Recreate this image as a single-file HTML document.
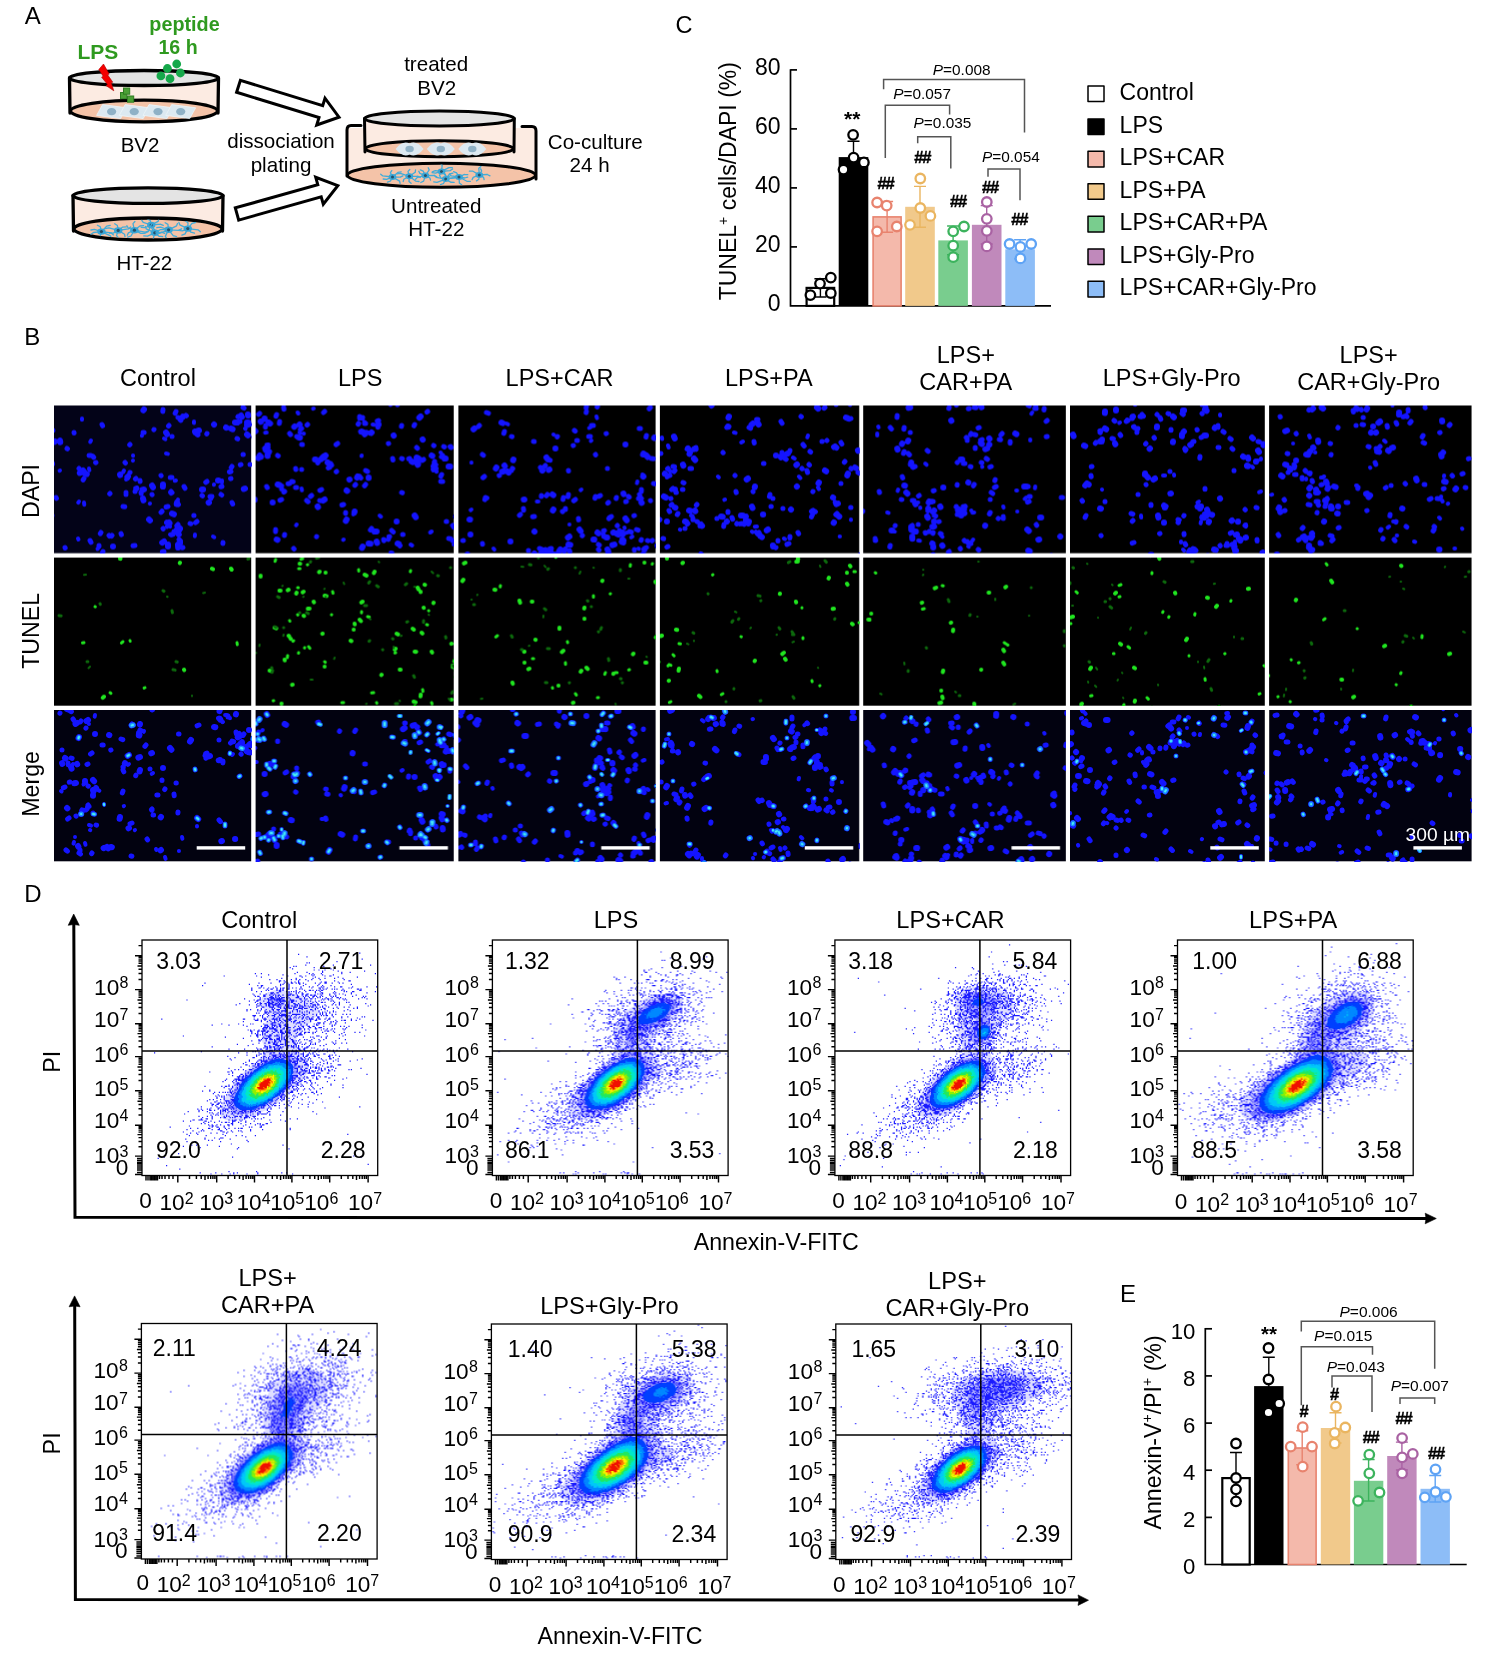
<!DOCTYPE html><html><head><meta charset="utf-8"><title>Figure</title><style>html,body{margin:0;padding:0;background:#fff;}body{width:1500px;height:1662px;overflow:hidden;-webkit-font-smoothing:antialiased;} svg{display:block;will-change:transform;} text{-webkit-font-smoothing:antialiased;}</style></head><body><svg width="1500" height="1662" viewBox="0 0 1500 1662" font-family="'Liberation Sans', Arial, sans-serif"><rect width="1500" height="1662" fill="#fff"/><text x="24.8" y="23.8" font-size="24">A</text>
<path d="M69.5,78 L69.5,113 L218.5,113 L218.5,78 Z" fill="#fcebe2"/><ellipse cx="144" cy="111" rx="73.5" ry="10.8" fill="#f4c3a8" stroke="#000" stroke-width="3.3"/><path d="M69.5,78 L70.0,113 M218.5,78 L218.0,113" stroke="#000" stroke-width="3.3" fill="none" stroke-linecap="round"/><ellipse cx="144" cy="78" rx="74.5" ry="7.5" fill="#e4e4e4" stroke="#000" stroke-width="3.3"/>
<polygon points="96.6,115.4 102.6,104.6 126.6,107.8 120.6,118.6" fill="#dce9f1" stroke="#eef5f9" stroke-width="0.8"/><ellipse cx="111.6" cy="111.6" rx="4.6" ry="3.7" fill="#8fb1c6"/>
<polygon points="119.2,115.4 125.2,104.6 149.2,107.8 143.2,118.6" fill="#dce9f1" stroke="#eef5f9" stroke-width="0.8"/><ellipse cx="134.2" cy="111.6" rx="4.6" ry="3.7" fill="#8fb1c6"/>
<polygon points="143.0,115.4 149.0,104.6 173.0,107.8 167.0,118.6" fill="#dce9f1" stroke="#eef5f9" stroke-width="0.8"/><ellipse cx="158" cy="111.6" rx="4.6" ry="3.7" fill="#8fb1c6"/>
<polygon points="165.7,115.4 171.7,104.6 195.7,107.8 189.7,118.6" fill="#dce9f1" stroke="#eef5f9" stroke-width="0.8"/><ellipse cx="180.7" cy="111.6" rx="4.6" ry="3.7" fill="#8fb1c6"/>
<polygon points="103.5,64 98.8,69.5 103.2,76.2 101.6,77.2 107.6,84.6 106,85.6 113.8,90.8 111.2,82.8 112.8,82.2 107.6,74.8 109.2,74.1" fill="#f40000" stroke="#a00" stroke-width="0.6" stroke-linejoin="round"/>
<rect x="120.5" y="92.5" width="6.2" height="6.2" fill="#4aa035" stroke="#2f7d22" stroke-width="1"/>
<rect x="123.5" y="88" width="6.2" height="6.2" fill="#4aa035" stroke="#2f7d22" stroke-width="1"/>
<rect x="127.5" y="96" width="6.2" height="6.2" fill="#4aa035" stroke="#2f7d22" stroke-width="1"/>
<circle cx="160.9" cy="75.9" r="4.4" fill="#15a84a"/>
<circle cx="167.4" cy="68.5" r="4.4" fill="#15a84a"/>
<circle cx="176.7" cy="64" r="4.4" fill="#15a84a"/>
<circle cx="180.4" cy="73" r="4.4" fill="#15a84a"/>
<circle cx="170" cy="78.7" r="4.4" fill="#15a84a"/>
<text x="77.5" y="59.1" font-size="21" font-weight="bold" fill="#2f9a1f">LPS</text>
<text x="184.5" y="30.6" font-size="19.8" text-anchor="middle" font-weight="bold" fill="#2f9a1f">peptide</text>
<text x="178.0" y="53.7" font-size="19.6" text-anchor="middle" font-weight="bold" fill="#2f9a1f">16 h</text>
<text x="140.0" y="152.3" font-size="20.5" text-anchor="middle">BV2</text>
<path d="M73,195.6 L73,231 L223,231 L223,195.6 Z" fill="#fcebe2"/><ellipse cx="148" cy="229" rx="74" ry="11" fill="#f4c3a8" stroke="#000" stroke-width="3.3"/><path d="M73,195.6 L73.5,231 M223,195.6 L222.5,231" stroke="#000" stroke-width="3.3" fill="none" stroke-linecap="round"/><ellipse cx="148" cy="195.6" rx="75" ry="7.8" fill="#e4e4e4" stroke="#000" stroke-width="3.3"/>
<clipPath id="fl2"><ellipse cx="148" cy="229" rx="72" ry="9.6"/></clipPath><g clip-path="url(#fl2)">
<path d="M101.4,231.6L111.2,232.9M111.2,232.9L113.5,234.9M101.4,231.6L110.4,235.8M110.4,235.8L111.3,238.2M101.4,231.6L99.7,238.1M99.7,238.1L96.8,239.7M101.4,231.6L93.5,232.5M93.5,232.5L91.0,234.3M101.4,231.6L94.5,229.4M94.5,229.4L90.9,230.0M101.4,231.6L100.3,226.8M100.3,226.8L97.4,225.2M101.4,231.6L106.7,226.1M106.7,226.1L110.2,225.4" stroke="#41acd9" stroke-width="1.3" fill="none" stroke-linecap="round"/><ellipse cx="101.4" cy="231.6" rx="4.2" ry="3.2" fill="#3aa6d6"/><circle cx="101.4" cy="231.6" r="1.6" fill="#24506a"/>
<path d="M118.2,230.4L128.4,228.9M128.4,228.9L130.7,227.0M118.2,230.4L124.6,234.3M124.6,234.3L125.0,236.7M118.2,230.4L116.5,235.6M116.5,235.6L118.3,237.7M118.2,230.4L113.3,233.1M113.3,233.1L109.5,233.0M118.2,230.4L109.0,227.8M109.0,227.8L105.4,228.5M118.2,230.4L117.4,225.5M117.4,225.5L114.7,223.8M118.2,230.4L122.7,227.1M122.7,227.1L126.4,226.8" stroke="#41acd9" stroke-width="1.3" fill="none" stroke-linecap="round"/><ellipse cx="118.2" cy="230.4" rx="4.2" ry="3.2" fill="#3aa6d6"/><circle cx="118.2" cy="230.4" r="1.6" fill="#24506a"/>
<path d="M134.4,230.2L145.0,232.1M145.0,232.1L148.4,231.1M134.4,230.2L140.8,233.4M140.8,233.4L144.5,233.3M134.4,230.2L131.0,236.0M131.0,236.0L127.7,237.2M134.4,230.2L128.4,232.9M128.4,232.9L127.3,235.2M134.4,230.2L128.2,228.0M128.2,228.0L126.8,225.7M134.4,230.2L133.0,223.6M133.0,223.6L134.9,221.5M134.4,230.2L139.9,226.0M139.9,226.0L143.6,225.6" stroke="#41acd9" stroke-width="1.3" fill="none" stroke-linecap="round"/><ellipse cx="134.4" cy="230.2" rx="4.2" ry="3.2" fill="#3aa6d6"/><circle cx="134.4" cy="230.2" r="1.6" fill="#24506a"/>
<path d="M151.2,225.0L160.1,224.1M160.1,224.1L163.3,225.3M151.2,225.0L154.7,230.1M154.7,230.1L158.1,231.2M151.2,225.0L148.1,231.7M148.1,231.7L145.0,233.1M151.2,225.0L145.0,227.7M145.0,227.7L141.3,227.4M151.2,225.0L143.2,222.3M143.2,222.3L141.7,220.1M151.2,225.0L150.2,220.5M150.2,220.5L147.4,218.9M151.2,225.0L158.1,221.4M158.1,221.4L158.8,219.0" stroke="#41acd9" stroke-width="1.3" fill="none" stroke-linecap="round"/><ellipse cx="151.2" cy="225" rx="4.2" ry="3.2" fill="#3aa6d6"/><circle cx="151.2" cy="225" r="1.6" fill="#24506a"/>
<path d="M154.8,232.8L161.5,232.1M161.5,232.1L164.7,233.4M154.8,232.8L159.0,236.2M159.0,236.2L162.7,236.6M154.8,232.8L153.0,239.7M153.0,239.7L154.9,241.8M154.8,232.8L147.5,236.2M147.5,236.2L143.8,235.9M154.8,232.8L146.3,228.9M146.3,228.9L145.4,226.5M154.8,232.8L150.6,226.3M150.6,226.3L151.7,223.9M154.8,232.8L160.2,229.7M160.2,229.7L164.0,229.7" stroke="#41acd9" stroke-width="1.3" fill="none" stroke-linecap="round"/><ellipse cx="154.8" cy="232.8" rx="4.2" ry="3.2" fill="#3aa6d6"/><circle cx="154.8" cy="232.8" r="1.6" fill="#24506a"/>
<path d="M168.6,229.8L178.5,230.3M178.5,230.3L181.6,228.8M168.6,229.8L173.2,235.7M173.2,235.7L176.6,236.6M168.6,229.8L165.3,236.4M165.3,236.4L166.7,238.7M168.6,229.8L159.4,233.3M159.4,233.3L155.7,232.8M168.6,229.8L160.5,227.1M160.5,227.1L156.8,227.6M168.6,229.8L167.9,224.4M167.9,224.4L165.2,222.7M168.6,229.8L176.6,225.8M176.6,225.8L177.5,223.5" stroke="#41acd9" stroke-width="1.3" fill="none" stroke-linecap="round"/><ellipse cx="168.6" cy="229.8" rx="4.2" ry="3.2" fill="#3aa6d6"/><circle cx="168.6" cy="229.8" r="1.6" fill="#24506a"/>
<path d="M187.8,228.6L198.0,229.8M198.0,229.8L200.4,231.7M187.8,228.6L191.0,232.2M191.0,232.2L194.5,233.1M187.8,228.6L185.1,233.9M185.1,233.9L181.9,235.2M187.8,228.6L182.4,230.8M182.4,230.8L178.7,230.4M187.8,228.6L179.8,224.8M179.8,224.8L178.9,222.4M187.8,228.6L188.0,222.8M188.0,222.8L185.6,220.9M187.8,228.6L192.0,223.4M192.0,223.4L195.5,222.5" stroke="#41acd9" stroke-width="1.3" fill="none" stroke-linecap="round"/><ellipse cx="187.8" cy="228.6" rx="4.2" ry="3.2" fill="#3aa6d6"/><circle cx="187.8" cy="228.6" r="1.6" fill="#24506a"/>
</g>
<text x="144.3" y="270.0" font-size="20.5" text-anchor="middle">HT-22</text>
<polygon points="236.6,92.3 319.0,117.6 316.7,125.0 339.0,117.2 325.0,98.2 322.7,105.6 240.4,80.3" fill="#fff" stroke="#000" stroke-width="3" stroke-linejoin="miter"/>
<polygon points="238.7,220.1 321.2,196.8 323.3,204.2 337.8,185.6 315.7,177.3 317.8,184.7 235.3,207.9" fill="#fff" stroke="#000" stroke-width="3" stroke-linejoin="miter"/>
<text x="281.0" y="148.0" font-size="20.6" text-anchor="middle">dissociation</text>
<text x="281.0" y="172.0" font-size="20.6" text-anchor="middle">plating</text>
<path d="M347,128 L347,176 L536,176 L536,128 Z" fill="#fcebe2"/>
<ellipse cx="441.4" cy="175.2" rx="94" ry="12" fill="#f4c3a8" stroke="#000" stroke-width="3"/>
<path d="M361,125.5 L351,125.5 Q347,125.5 347,130 L347,176 M522,126.5 L532,126.5 Q536,126.5 536,131 L536,179" stroke="#000" stroke-width="3" fill="none" stroke-linecap="round"/>
<clipPath id="fl3"><ellipse cx="441.4" cy="175.2" rx="92" ry="10.6"/></clipPath><g clip-path="url(#fl3)">
<path d="M392.5,177.0L400.2,177.2M400.2,177.2L402.9,175.8M392.5,177.0L399.6,181.1M399.6,181.1L400.1,183.3M392.5,177.0L390.5,181.0M390.5,181.0L387.5,182.2M392.5,177.0L386.6,179.4M386.6,179.4L383.2,179.0M392.5,177.0L382.9,175.9M382.9,175.9L380.7,174.2M392.5,177.0L390.4,172.6M390.4,172.6L391.8,170.6M392.5,177.0L397.9,172.4M397.9,172.4L401.2,171.9" stroke="#41acd9" stroke-width="1.3" fill="none" stroke-linecap="round"/><ellipse cx="392.5" cy="177" rx="3.9" ry="3.0" fill="#3aa6d6"/><circle cx="392.5" cy="177" r="1.5" fill="#24506a"/>
<path d="M409.3,176.3L417.6,176.1M417.6,176.1L420.3,177.5M409.3,176.3L415.6,181.1M415.6,181.1L419.0,181.5M409.3,176.3L409.0,181.6M409.0,181.6L411.1,183.3M409.3,176.3L403.8,179.3M403.8,179.3L403.2,181.5M409.3,176.3L400.5,173.4M400.5,173.4L397.2,173.9M409.3,176.3L408.0,171.4M408.0,171.4L409.8,169.5M409.3,176.3L415.2,172.3M415.2,172.3L415.5,170.0" stroke="#41acd9" stroke-width="1.3" fill="none" stroke-linecap="round"/><ellipse cx="409.3" cy="176.3" rx="3.9" ry="3.0" fill="#3aa6d6"/><circle cx="409.3" cy="176.3" r="1.5" fill="#24506a"/>
<path d="M425.4,175.6L434.2,175.5M434.2,175.5L436.8,176.9M425.4,175.6L429.9,178.0M429.9,178.0L430.5,180.2M425.4,175.6L423.6,181.1M423.6,181.1L420.8,182.5M425.4,175.6L417.4,177.4M417.4,177.4L415.6,179.3M425.4,175.6L419.9,173.4M419.9,173.4L418.8,171.3M425.4,175.6L423.2,171.1M423.2,171.1L420.3,169.9M425.4,175.6L429.2,169.9M429.2,169.9L428.2,167.8" stroke="#41acd9" stroke-width="1.3" fill="none" stroke-linecap="round"/><ellipse cx="425.4" cy="175.6" rx="3.9" ry="3.0" fill="#3aa6d6"/><circle cx="425.4" cy="175.6" r="1.5" fill="#24506a"/>
<path d="M441.5,171.4L450.3,170.6M450.3,170.6L452.6,168.9M441.5,171.4L446.3,176.2M446.3,176.2L449.7,176.8M441.5,171.4L439.5,175.5M439.5,175.5L440.8,177.6M441.5,171.4L435.4,173.2M435.4,173.2L432.1,172.6M441.5,171.4L435.3,170.7M435.3,170.7L432.3,171.9M441.5,171.4L442.2,165.2M442.2,165.2L440.2,163.4M441.5,171.4L448.9,167.6M448.9,167.6L452.3,167.6" stroke="#41acd9" stroke-width="1.3" fill="none" stroke-linecap="round"/><ellipse cx="441.5" cy="171.4" rx="3.9" ry="3.0" fill="#3aa6d6"/><circle cx="441.5" cy="171.4" r="1.5" fill="#24506a"/>
<path d="M445.7,179.1L454.4,177.7M454.4,177.7L456.5,175.9M445.7,179.1L450.7,182.2M450.7,182.2L454.2,182.3M445.7,179.1L443.5,183.5M443.5,183.5L440.5,184.7M445.7,179.1L437.0,182.3M437.0,182.3L433.7,181.8M445.7,179.1L436.2,177.3M436.2,177.3L434.3,175.4M445.7,179.1L445.4,174.3M445.4,174.3L443.1,172.6M445.7,179.1L449.7,174.0M449.7,174.0L452.9,173.1" stroke="#41acd9" stroke-width="1.3" fill="none" stroke-linecap="round"/><ellipse cx="445.7" cy="179.1" rx="3.9" ry="3.0" fill="#3aa6d6"/><circle cx="445.7" cy="179.1" r="1.5" fill="#24506a"/>
<path d="M459.0,177.0L464.6,178.0M464.6,178.0L467.7,177.1M459.0,177.0L466.9,181.3M466.9,181.3L470.4,181.3M459.0,177.0L459.4,183.1M459.4,183.1L461.7,184.8M459.0,177.0L448.9,178.6M448.9,178.6L446.9,180.4M459.0,177.0L451.3,175.9M451.3,175.9L449.2,174.1M459.0,177.0L456.6,172.8M456.6,172.8L453.6,171.7M459.0,177.0L464.4,174.4M464.4,174.4L467.8,174.6" stroke="#41acd9" stroke-width="1.3" fill="none" stroke-linecap="round"/><ellipse cx="459" cy="177" rx="3.9" ry="3.0" fill="#3aa6d6"/><circle cx="459" cy="177" r="1.5" fill="#24506a"/>
<path d="M479.3,174.9L487.2,174.5M487.2,174.5L490.0,175.8M479.3,174.9L483.6,177.4M483.6,177.4L484.1,179.6M479.3,174.9L478.8,179.3M478.8,179.3L476.5,180.9M479.3,174.9L473.2,177.4M473.2,177.4L472.1,179.6M479.3,174.9L472.9,171.2M472.9,171.2L469.4,171.2M479.3,174.9L478.8,168.3M478.8,168.3L480.9,166.5M479.3,174.9L481.7,171.0M481.7,171.0L480.7,168.9" stroke="#41acd9" stroke-width="1.3" fill="none" stroke-linecap="round"/><ellipse cx="479.3" cy="174.9" rx="3.9" ry="3.0" fill="#3aa6d6"/><circle cx="479.3" cy="174.9" r="1.5" fill="#24506a"/>
</g>
<path d="M364.5,118.5 L364.5,150 L514.3,150 L514.3,118.5 Z" fill="#fcebe2"/>
<ellipse cx="439.4" cy="148.7" rx="74" ry="8" fill="#f4c3a8" stroke="#000" stroke-width="3"/>
<path d="M364.5,118.5 L365,152 M514.3,118.5 L514,152" stroke="#000" stroke-width="3" fill="none" stroke-linecap="round"/>
<ellipse cx="439.4" cy="118.5" rx="74.9" ry="7.5" fill="#e4e4e4" stroke="#000" stroke-width="3"/>
<path d="M395.6,149 Q402.6,140.2 409.6,143.5 Q416.6,140.2 423.6,149 Q416.6,157.8 409.6,154.5 Q402.6,157.8 395.6,149 Z" fill="#dde9f1"/><ellipse cx="409.6" cy="149" rx="4.2" ry="3.3" fill="#8fb1c6"/>
<path d="M426.8,149 Q433.8,140.2 440.8,143.5 Q447.8,140.2 454.8,149 Q447.8,157.8 440.8,154.5 Q433.8,157.8 426.8,149 Z" fill="#dde9f1"/><ellipse cx="440.8" cy="149" rx="4.2" ry="3.3" fill="#8fb1c6"/>
<path d="M458.3,149 Q465.3,140.2 472.3,143.5 Q479.3,140.2 486.3,149 Q479.3,157.8 472.3,154.5 Q465.3,157.8 458.3,149 Z" fill="#dde9f1"/><ellipse cx="472.3" cy="149" rx="4.2" ry="3.3" fill="#8fb1c6"/>
<text x="436.2" y="70.8" font-size="20.6" text-anchor="middle">treated</text>
<text x="436.8" y="95.1" font-size="20.6" text-anchor="middle">BV2</text>
<text x="595.3" y="148.5" font-size="20.6" text-anchor="middle">Co-culture</text>
<text x="589.6" y="172.0" font-size="20.6" text-anchor="middle">24 h</text>
<text x="436.3" y="212.5" font-size="20.6" text-anchor="middle">Untreated</text>
<text x="436.3" y="236.0" font-size="20.6" text-anchor="middle">HT-22</text>
<text x="675.4" y="32.8" font-size="23.5">C</text>
<path d="M790.5,69.3V305.9H1051" stroke="#000" stroke-width="1.7" fill="none"/>
<path d="M790.5,69.9H797" stroke="#000" stroke-width="1.7"/>
<path d="M790.5,128.9H797" stroke="#000" stroke-width="1.7"/>
<path d="M790.5,187.9H797" stroke="#000" stroke-width="1.7"/>
<path d="M790.5,246.9H797" stroke="#000" stroke-width="1.7"/>
<text x="780.6" y="75.1" font-size="23" text-anchor="end">80</text>
<text x="780.6" y="134.1" font-size="23" text-anchor="end">60</text>
<text x="780.6" y="193.1" font-size="23" text-anchor="end">40</text>
<text x="780.6" y="252.1" font-size="23" text-anchor="end">20</text>
<text x="780.6" y="311.1" font-size="23" text-anchor="end">0</text>
<text transform="translate(736.2,181.2) rotate(-90)" font-size="23" text-anchor="middle">TUNEL<tspan dy="-8.5" font-size="14">+</tspan><tspan dy="8.5"> cells/DAPI (%)</tspan></text>
<rect x="806.6" y="287.9" width="27.6" height="18.0" fill="#fff" stroke="#000" stroke-width="2.2"/>
<path d="M820.4,278.8V297.0M814.4,278.8H826.4M814.4,297.0H826.4" stroke="#000000" stroke-width="1.4" fill="none"/>
<circle cx="810.4" cy="295.1" r="4.75" fill="#fff" stroke="#000000" stroke-width="2.3"/>
<circle cx="820.0" cy="283.6" r="4.75" fill="#fff" stroke="#000000" stroke-width="2.3"/>
<circle cx="830.8" cy="277.6" r="4.75" fill="#fff" stroke="#000000" stroke-width="2.3"/>
<circle cx="830.8" cy="293.2" r="4.75" fill="#fff" stroke="#000000" stroke-width="2.3"/>
<rect x="838.7" y="157.1" width="29.6" height="148.8" fill="#000000"/>
<path d="M853.5,141.3V172.9M847.5,141.3H859.5M847.5,172.9H859.5" stroke="#000" stroke-width="1.4" fill="none"/>
<circle cx="853.1" cy="134.8" r="4.75" fill="#fff" stroke="#000000" stroke-width="2.3"/>
<circle cx="843.5" cy="169.6" r="4.75" fill="#fff" stroke="#000000" stroke-width="2.3"/>
<circle cx="853.6" cy="157.6" r="4.75" fill="#fff" stroke="#000000" stroke-width="2.3"/>
<circle cx="863.9" cy="162.4" r="4.75" fill="#fff" stroke="#000000" stroke-width="2.3"/>
<rect x="873.1" y="216.9" width="28.0" height="89.0" fill="#f4b9ab" stroke="#e8836e" stroke-width="1.6"/>
<path d="M887.1,201.5V232.3M881.1,201.5H893.1M881.1,232.3H893.1" stroke="#e8836e" stroke-width="1.4" fill="none"/>
<circle cx="877.1" cy="202.5" r="4.75" fill="#fff" stroke="#e8836e" stroke-width="2.3"/>
<circle cx="886.7" cy="205.6" r="4.75" fill="#fff" stroke="#e8836e" stroke-width="2.3"/>
<circle cx="877.1" cy="231.3" r="4.75" fill="#fff" stroke="#e8836e" stroke-width="2.3"/>
<circle cx="896.8" cy="226.5" r="4.75" fill="#fff" stroke="#e8836e" stroke-width="2.3"/>
<rect x="905.2" y="206.8" width="29.6" height="99.1" fill="#f1c98b"/>
<path d="M920.0,186.4V227.2M914.0,186.4H926.0M914.0,227.2H926.0" stroke="#eab560" stroke-width="1.4" fill="none"/>
<circle cx="920.3" cy="178.5" r="4.75" fill="#fff" stroke="#eab560" stroke-width="2.3"/>
<circle cx="920.3" cy="208.0" r="4.75" fill="#fff" stroke="#eab560" stroke-width="2.3"/>
<circle cx="910.0" cy="224.8" r="4.75" fill="#fff" stroke="#eab560" stroke-width="2.3"/>
<circle cx="930.4" cy="215.9" r="4.75" fill="#fff" stroke="#eab560" stroke-width="2.3"/>
<rect x="938.3" y="240.4" width="29.6" height="65.5" fill="#79cd8e"/>
<path d="M953.1,226.0V254.8M947.1,226.0H959.1M947.1,254.8H959.1" stroke="#3cb35d" stroke-width="1.4" fill="none"/>
<circle cx="964.0" cy="226.5" r="4.75" fill="#fff" stroke="#3cb35d" stroke-width="2.3"/>
<circle cx="953.2" cy="231.3" r="4.75" fill="#fff" stroke="#3cb35d" stroke-width="2.3"/>
<circle cx="953.2" cy="245.7" r="4.75" fill="#fff" stroke="#3cb35d" stroke-width="2.3"/>
<circle cx="953.2" cy="257.2" r="4.75" fill="#fff" stroke="#3cb35d" stroke-width="2.3"/>
<rect x="971.9" y="224.8" width="29.6" height="81.1" fill="#c089bb"/>
<path d="M986.7,205.6V244.0M980.7,205.6H992.7M980.7,244.0H992.7" stroke="#a962a3" stroke-width="1.4" fill="none"/>
<circle cx="986.8" cy="202.0" r="4.75" fill="#fff" stroke="#a962a3" stroke-width="2.3"/>
<circle cx="986.8" cy="218.8" r="4.75" fill="#fff" stroke="#a962a3" stroke-width="2.3"/>
<circle cx="986.8" cy="230.8" r="4.75" fill="#fff" stroke="#a962a3" stroke-width="2.3"/>
<circle cx="986.8" cy="246.4" r="4.75" fill="#fff" stroke="#a962a3" stroke-width="2.3"/>
<rect x="1005.3" y="249.3" width="29.6" height="56.6" fill="#8dbdf7"/>
<path d="M1020.1,239.7V258.9M1014.1,239.7H1026.1M1014.1,258.9H1026.1" stroke="#5ea3f5" stroke-width="1.4" fill="none"/>
<circle cx="1009.6" cy="244.0" r="4.75" fill="#fff" stroke="#5ea3f5" stroke-width="2.3"/>
<circle cx="1020.4" cy="246.9" r="4.75" fill="#fff" stroke="#5ea3f5" stroke-width="2.3"/>
<circle cx="1031.2" cy="244.0" r="4.75" fill="#fff" stroke="#5ea3f5" stroke-width="2.3"/>
<circle cx="1020.4" cy="258.4" r="4.75" fill="#fff" stroke="#5ea3f5" stroke-width="2.3"/>
<text x="852.2" y="126.2" font-size="21" text-anchor="middle" font-weight="bold">**</text>
<text x="885.4" y="188.9" font-size="16.5" text-anchor="middle" font-weight="bold" letter-spacing="-1.3" stroke="#000" stroke-width="0.45">##</text>
<text x="922.2" y="163.3" font-size="16.5" text-anchor="middle" font-weight="bold" letter-spacing="-1.3" stroke="#000" stroke-width="0.45">##</text>
<text x="958.0" y="207.3" font-size="16.5" text-anchor="middle" font-weight="bold" letter-spacing="-1.3" stroke="#000" stroke-width="0.45">##</text>
<text x="990.0" y="192.9" font-size="16.5" text-anchor="middle" font-weight="bold" letter-spacing="-1.3" stroke="#000" stroke-width="0.45">##</text>
<text x="1019.2" y="225.3" font-size="16.5" text-anchor="middle" font-weight="bold" letter-spacing="-1.3" stroke="#000" stroke-width="0.45">##</text>
<path d="M883.6,89.2V79.6H1024.5V132.4" stroke="#555" stroke-width="1.5" fill="none"/>
<path d="M885.3,158.0V105.3H949.6V114.4" stroke="#555" stroke-width="1.5" fill="none"/>
<path d="M917.7,143.2V136.7H950.8V168.4" stroke="#555" stroke-width="1.5" fill="none"/>
<path d="M988.0,176.8V168.9H1020.0V200.3" stroke="#555" stroke-width="1.5" fill="none"/>
<text x="932.8" y="74.8" font-size="15.4"><tspan font-style="italic">P</tspan>=0.008</text>
<text x="893.2" y="98.8" font-size="15.4"><tspan font-style="italic">P</tspan>=0.057</text>
<text x="913.6" y="127.6" font-size="15.4"><tspan font-style="italic">P</tspan>=0.035</text>
<text x="982.0" y="162.4" font-size="15.4"><tspan font-style="italic">P</tspan>=0.054</text>
<rect x="1088" y="86.0" width="16" height="15.6" fill="#ffffff" stroke="#000" stroke-width="1.5" stroke-linejoin="round"/>
<text x="1119.6" y="99.9" font-size="23">Control</text>
<rect x="1088" y="118.9" width="16" height="15.6" fill="#000000" stroke="#000" stroke-width="1.5" stroke-linejoin="round"/>
<text x="1119.6" y="132.8" font-size="23">LPS</text>
<rect x="1088" y="151.3" width="16" height="15.6" fill="#f4b9ab" stroke="#000" stroke-width="1.5" stroke-linejoin="round"/>
<text x="1119.6" y="165.2" font-size="23">LPS+CAR</text>
<rect x="1088" y="183.7" width="16" height="15.6" fill="#f1c98b" stroke="#000" stroke-width="1.5" stroke-linejoin="round"/>
<text x="1119.6" y="197.6" font-size="23">LPS+PA</text>
<rect x="1088" y="216.3" width="16" height="15.6" fill="#79cd8e" stroke="#000" stroke-width="1.5" stroke-linejoin="round"/>
<text x="1119.6" y="230.2" font-size="23">LPS+CAR+PA</text>
<rect x="1088" y="248.9" width="16" height="15.6" fill="#c089bb" stroke="#000" stroke-width="1.5" stroke-linejoin="round"/>
<text x="1119.6" y="262.8" font-size="23">LPS+Gly-Pro</text>
<rect x="1088" y="281.3" width="16" height="15.6" fill="#8dbdf7" stroke="#000" stroke-width="1.5" stroke-linejoin="round"/>
<text x="1119.6" y="295.2" font-size="23">LPS+CAR+Gly-Pro</text>
<text x="24.3" y="344.8" font-size="24">B</text>
<text x="158.0" y="385.5" font-size="23.5" text-anchor="middle">Control</text>
<svg x="54" y="405.5" width="197.2" height="147.7" viewBox="0 0 197.2 147.7">
<rect width="197.2" height="147.7" fill="#030318"/>
<path d="M160 79l-0.1 0.3M30 97l0.3 2.2M127 136l0.1 0.0M140 16l-0.1 1.5M112 48l1.9 0.4M108 105l-0.2 1.0M159 131l1.3 0.7M37 35l-0.8 1.4M25 96l-0.8 1.2M110 33l1.4 0.6M88 30l-0.1 0.3M124 94l-0.5 1.1M116 87l0.9 1.1M141 129l-0.2 1.8M6 65l-0.4 0.2M28 13l-0.0 1.2M191 23l0.6 0.5M70 65l-0.9 1.7M35 63l0.4 1.9M79 55l-0.1 0.1M79 50l0.1 0.3M116 129l1.3 0.7M126 123l0.6 0.6M168 75l-0.1 2.2M116 121l0.1 0.1M113 121l-0.3 0.1M114 120l-1.1 1.5M24 133l0.5 1.0M44 143l-0.5 0.4M122 75l-1.2 0.3M74 73l-1.9 1.0M83 82l-1.9 0.7M96 98l-0.2 0.2" stroke="#1414ff" stroke-width="4.0" stroke-linecap="round"/><path d="M140 110l-0.2 0.0M189 49l0.3 0.0M153 28l-0.2 0.4M35 50l2.0 0.1M183 33l0.7 0.4M110 146l-1.7 0.2M143 116l-1.4 1.1M56 88l-0.3 0.3M67 128l0.4 1.2M178 97l0.7 1.5M169 137l-0.1 1.0M153 76l-1.3 0.8M115 20l-0.5 0.5M118 31l0.1 0.0M20 27l0.1 0.6M143 29l1.0 0.5M187 59l-0.7 0.3M123 98l1.5 1.1M11 142l0.2 0.5M107 70l0.1 0.2M89 27l1.2 0.1M48 19l0.6 1.3M81 140l-2.0 0.3M196 59l0.1 0.0M76 39l-0.3 0.3M13 43l0.5 0.3M69 101l1.8 0.3M2 92l0.5 0.9M-2 110l-0.2 0.0M100 24l-0.1 0.2M168 81l-1.1 0.2M58 130l-0.5 0.6M42 57l-0.4 0.2M124 12l1.2 0.5M200 31l-0.1 0.9M186 16l-1.3 0.3M184 11l-0.1 0.3M76 67l-0.1 0.2M-1 25l-1.4 0.2M129 142l-0.8 0.2M126 136l0.5 1.7M125 134l1.2 1.3M30 73l-0.9 1.4M132 10l0.4 0.3M126 14l0.8 0.9M122 6l-0.9 1.8M109 4l-0.2 2.0M71 57l0.4 0.5M136 118l0.9 0.3M126 124l-0.6 1.3M119 129l-2.0 0.1M120 126l0.0 1.3M124 119l-1.2 1.2M177 66l-1.6 0.5M177 73l-0.5 0.1M178 61l-0.8 1.1M167 89l0.8 0.5M109 123l0.2 0.3M124 122l-1.2 1.6M55 130l0.5 0.6M43 152l-1.7 0.3M36 135l1.0 1.9M45 140l-0.0 0.7M49 146l-0.5 1.2M47 127l-0.7 1.1M117 86l1.0 1.1M130 81l1.0 1.8M118 72l-1.8 0.1M98 89l0.1 0.2M86 75l0.1 1.0M157 91l-0.1 1.9M148 90l0.5 0.4M158 91l-2.1 0.1M25 63l0.1 0.1M39 51l0.7 0.8M189 2l1.1 0.6M83 83l-0.5 0.5M72 87l0.0 0.0M87 87l0.2 1.1M72 89l-0.0 0.0M82 73l-0.6 0.5M81 86l0.1 0.0M108 106l-1.0 0.9M114 101l-1.9 0.5" stroke="#1414ff" stroke-width="5.0" stroke-linecap="round"/><path d="M27 67l-1.2 0.5M90 4l-0.6 0.8M193 29l0.9 0.8M110 136l-1.8 1.2M-2 58l0.1 0.4M112 27l1.1 1.8M95 114l1.0 1.0M172 22l0.4 0.2M123 97l-0.3 1.6M141 26l0.2 0.9M59 141l-0.0 0.0M124 128l0.8 1.0M145 25l-1.6 0.4M160 19l0.1 0.1M181 17l2.1 0.1M193 17l1.3 0.0M195 19l-2.0 0.6M177 23l1.6 0.7M74 71l-0.6 0.6M66 69l0.1 0.6M1 36l-0.4 0.4M6 35l0.3 1.8M124 140l0.2 2.1M114 139l-0.0 2.1M124 139l0.3 0.1M31 68l1.8 0.7M129 11l-0.1 0.3M118 108l1.9 0.8M191 83l-1.2 0.5M115 117l0.5 0.6M113 117l0.9 0.4M126 123l-1.4 1.2M109 79l-0.1 2.0M90 84l-1.4 0.2M98 80l1.0 1.8M164 75l0.5 0.0M148 84l1.1 0.1M155 97l-0.4 0.2M29 65l0.9 1.0M187 10l0.8 1.4M208 4l1.0 1.8M194 9l0.1 1.1M89 93l0.5 1.9" stroke="#1414ff" stroke-width="6.0" stroke-linecap="round"/>
</svg>
<svg x="54" y="557.6" width="197.2" height="148.2" viewBox="0 0 197.2 148.2">
<rect width="197.2" height="148.2" fill="#000"/>
<path d="M76 83l0.2 0.5M69 84l-1.6 1.3M183 85l0.3 2.0M41 49l0.4 0.1M91 130l-0.9 0.4M56 135l1.0 0.7M30 85l-1.5 0.3" stroke="#20e620" stroke-width="3.0" stroke-linecap="round"/><path d="M130 112l0.2 0.4M6 151l-0.5 0.9M158 11l1.0 0.5M177 11l0.7 1.0M66 1l0.5 0.1M50 139l-1.2 1.2M126 5l-0.2 0.4" stroke="#20e620" stroke-width="4.0" stroke-linecap="round"/>
<path d="M151 35l-1.9 0.4M113 39l0.6 0.2M-5 96l0.2 1.0M36 109l-1.5 1.4M138 138l0.0 0.5M32 17l-2.0 0.2" stroke="#0d6a0d" stroke-width="2.0" stroke-linecap="round"/><path d="M195 1l-1.1 0.4M107 152l1.0 0.6M5 58l2.2 0.2M118 53l0.4 2.0M109 33l1.0 0.6M119 112l2.1 0.4M122 104l1.3 0.4M33 104l0.9 0.0M46 46l0.3 0.6" stroke="#0d6a0d" stroke-width="3.0" stroke-linecap="round"/>
</svg>
<svg x="54" y="710" width="197.2" height="151.3" viewBox="0 0 197.2 151.3">
<rect width="197.2" height="151.3" fill="#020210"/>
<path d="M35 115l2.1 0.6M50 94l0.1 0.9M33 97l0.4 0.3M70 96l-0.2 0.1M31 133l0.5 1.8M35 14l-0.1 0.0M41 5l-0.3 1.7M36 120l0.3 0.2M81 120l-0.2 0.1M7 81l0.6 0.5M102 139l0.3 1.0M21 127l0.0 0.0M90 21l-0.3 0.9M86 24l-1.1 0.7M173 5l-1.9 0.0M169 12l-0.6 0.2M176 8l-0.0 0.2M143 116l0.0 0.4M179 44l-0.8 0.9M30 74l-0.5 0.4M44 80l1.4 0.8M128 127l0.4 1.8M111 147l0.6 1.9M125 141l-0.1 0.0M19 54l-1.1 1.7M99 63l-1.3 0.9M20 132l-0.5 1.6M75 54l-1.1 0.8" stroke="#1414ff" stroke-width="4.0" stroke-linecap="round"/><path d="M141 59l0.2 0.9M120 84l0.2 1.8M98 100l-0.3 0.2M16 1l1.4 0.7M165 8l-0.5 0.2M125 24l-0.5 0.0M67 29l1.8 0.7M98 99l-0.5 0.5M34 76l0.3 0.2M104 85l-1.2 0.1M165 110l1.4 1.6M15 108l-1.4 1.0M145 15l-1.9 0.8M171 114l0.0 2.1M42 115l0.6 0.2M69 81l-0.7 2.0M77 146l0.9 0.2M48 35l1.2 0.0M8 40l-0.0 0.0M92 35l-1.1 1.4M19 9l0.7 1.0M16 72l-0.7 0.2M176 43l-0.1 0.8M6 3l-0.1 0.3M93 129l0.6 0.9M17 48l1.1 0.4M78 113l-2.0 0.8M111 79l-0.3 0.5M99 105l0.6 0.0M186 66l-0.9 0.5M11 77l-1.6 0.8M38 43l-1.5 1.1M122 73l0.3 0.0M169 51l-0.1 2.0M82 65l-0.3 0.7M57 40l-0.2 0.1M124 102l-0.1 1.1M34 54l-1.0 0.5M86 20l1.1 0.7M78 14l-0.8 1.1M86 25l-0.4 1.0M193 36l-1.0 0.9M187 44l0.2 0.2M174 6l-0.0 1.1M27 11l-0.7 0.9M178 32l-1.5 1.1M165 30l0.0 0.0M178 31l1.7 0.6M28 100l-0.3 0.5M28 100l1.6 0.5M39 104l1.6 0.2M33 99l-0.8 0.8M39 103l0.4 0.7M32 18l-0.1 0.2M12 140l1.4 1.2M38 143l-0.4 0.6M190 24l-0.9 1.4M182 22l0.4 2.1M199 28l-0.3 1.5M14 53l0.2 1.8M108 70l-0.0 0.4M96 59l0.0 0.1M34 95l1.0 1.5M22 106l0.1 0.2M153 43l-1.2 0.5M152 48l-0.1 0.3M25 143l1.5 1.1M26 140l0.0 1.0M69 60l0.8 1.8M69 57l0.2 0.5" stroke="#1414ff" stroke-width="5.0" stroke-linecap="round"/><path d="M181 129l0.2 0.0M22 73l-1.8 0.3M31 71l0.1 1.3M107 140l-0.5 0.4M13 -1l0.6 0.3M194 42l1.5 0.4M86 47l-1.6 0.6M116 38l1.4 1.7M55 25l0.4 0.1M107 107l-0.3 0.4M98 -1l0.1 0.5M41 24l0.0 0.1M137 30l-1.0 1.5M168 131l-0.7 0.2M79 15l-1.4 0.4M86 14l-0.1 0.4M85 23l-0.2 2.2M207 44l1.5 1.5M200 41l-0.7 1.8M190 37l0.2 0.1M193 41l-0.4 0.3M196 34l0.8 1.2M187 38l1.4 0.5M160 17l1.4 0.2M166 9l0.4 0.7M166 -1l-0.5 2.1M182 4l-0.1 0.4M23 13l-1.5 0.9M143 108l1.2 1.1M209 18l-0.7 0.5M184 27l-0.3 0.3M184 36l1.3 0.1M186 34l0.5 0.2M66 107l-0.4 1.8M75 118l-0.5 0.3M50 138l-0.4 0.2M53 137l1.3 1.4M57 137l0.9 0.2M42 78l-1.2 1.5M39 85l0.0 0.8M39 80l0.4 1.7M39 70l1.1 1.2M25 27l-0.5 1.1M34 10l-1.6 1.0M24 136l0.4 0.7M185 24l1.4 1.7M188 32l0.1 0.8M195 20l-0.0 0.0M23 54l0.2 0.4M17 57l0.6 1.6M8 53l0.3 1.0M11 48l0.7 0.5M109 58l0.0 0.0M13 98l0.4 0.4M27 104l0.3 0.0M152 45l-0.4 0.5M156 46l-1.4 0.5M166 50l-1.3 0.3M86 60l-0.4 1.4M71 53l-0.2 0.6M75 45l-1.4 0.8M98 43l-0.8 0.3" stroke="#1414ff" stroke-width="6.0" stroke-linecap="round"/>
<path d="M50 94l0.1 0.9" stroke="#1c8cff" stroke-width="3.0" stroke-linecap="round"/><path d="M141 59l0.2 0.9M171 114l0.0 2.1M176 43l-0.1 0.8M186 66l-0.9 0.5M143 108l1.2 1.1M39 104l1.6 0.2M25 27l-0.5 1.1M199 28l-0.3 1.5M75 45l-1.4 0.8" stroke="#1c8cff" stroke-width="4.0" stroke-linecap="round"/><path d="M79 15l-1.4 0.4M187 38l1.4 0.5M27 104l0.3 0.0" stroke="#1c8cff" stroke-width="5.0" stroke-linecap="round"/>
<path d="M141 59l0.2 0.9M50 94l0.1 0.9M171 114l0.0 2.1M176 43l-0.1 0.8M186 66l-0.9 0.5M79 15l-1.4 0.4M187 38l1.4 0.5M143 108l1.2 1.1M39 104l1.6 0.2M25 27l-0.5 1.1M199 28l-0.3 1.5M27 104l0.3 0.0M75 45l-1.4 0.8" stroke="#48ecf4" stroke-width="2.0" stroke-linecap="round"/>
<rect x="142.7" y="136.2" width="48.5" height="3.4" fill="#fff"/>
</svg>
<text x="360.2" y="385.5" font-size="23.5" text-anchor="middle">LPS</text>
<svg x="255.6" y="405.5" width="198.3" height="147.7" viewBox="0 0 198.3 147.7">
<rect width="198.3" height="147.7" fill="#000"/>
<path d="M11 27l-1.5 0.2M106 50l-0.1 0.6M137 -2l-1.5 0.3M176 126l-1.4 1.0M88 134l-0.4 0.4M48 28l0.2 0.1M180 59l0.8 0.3M42 7l0.7 1.0M58 3l-0.5 0.2M198 139l0.9 0.1M41 119l-0.5 0.8M44 27l0.4 0.6M181 66l-0.1 0.3M113 27l0.9 1.1M117 19l1.3 0.3M155 139l1.5 1.0M135 147l1.7 0.2M145 140l-0.8 1.0M62 55l1.4 0.0M46 83l0.3 1.8M25 80l1.6 0.2M194 41l0.4 0.8M13 39l-2.1 0.3M12 47l1.7 1.0M99 108l-1.3 0.9M185 47l0.1 0.1M124 110l1.3 1.2" stroke="#1414ff" stroke-width="4.0" stroke-linecap="round"/><path d="M186 69l-0.8 1.7M41 31l2.0 0.5M154 53l-1.0 0.3M64 95l0.6 0.2M40 63l0.2 1.0M20 124l-0.1 2.2M133 133l-0.3 0.9M74 62l-1.4 0.5M134 -2l0.8 0.8M141 -2l0.8 1.2M28 2l0.3 1.7M10 20l-0.2 1.8M146 53l0.6 0.3M61 131l-0.1 0.3M159 19l-0.6 1.3M193 133l2.0 0.2M11 81l0.7 1.2M69 6l-1.1 1.0M197 135l-0.0 0.2M46 39l0.8 0.1M110 79l-1.1 1.3M188 41l0.8 0.4M22 50l0.6 0.4M88 99l-1.7 0.5M137 53l0.3 1.5M109 17l0.2 0.9M46 64l-0.0 0.1M200 111l0.1 0.0M133 38l-0.2 0.1M191 116l-0.4 0.0M81 66l-0.4 0.3M172 6l-0.7 0.5M51 95l1.5 1.2M197 120l1.1 1.7M146 20l-0.2 0.9M82 38l-1.6 1.1M146 87l0.7 0.3M36 76l1.5 0.2M185 76l2.1 0.1M123 15l-1.3 0.6M104 11l-0.0 1.7M122 21l0.3 0.7M107 12l-0.2 0.9M109 18l1.1 0.1M111 27l-0.4 0.5M103 18l-0.5 0.7M147 129l0.4 0.0M4 8l-1.0 0.9M104 71l1.2 1.5M100 79l-0.8 0.9M29 129l-0.2 1.0M38 143l0.4 0.5M75 58l1.0 1.8M63 56l-0.9 1.4M29 86l-0.8 0.7M26 83l0.0 0.6M34 78l-1.6 0.3M26 94l-1.6 0.8M41 82l-1.1 0.0M179 56l-0.3 0.5M187 50l-1.2 1.2M195 41l0.6 1.1M168 54l-1.3 0.8M46 23l-1.3 1.0M24 16l-0.3 2.0M52 19l-0.6 0.6M134 131l-0.6 0.2M116 123l-1.2 1.6M128 134l0.2 1.2M136 125l1.6 1.5M163 58l-0.9 0.9M66 84l-1.8 0.9M56 90l-1.2 1.0M10 42l-0.5 0.4M9 43l0.8 2.0M14 46l-1.6 0.6M90 107l-0.1 0.9M161 42l0.8 0.8M178 40l0.3 0.2M34 28l0.9 1.1M21 9l-0.7 1.7M110 65l1.9 1.0" stroke="#1414ff" stroke-width="5.0" stroke-linecap="round"/><path d="M116 27l-0.4 0.5M138 30l0.1 0.2M94 74l-0.3 0.1M4 50l1.3 1.3M141 116l0.0 0.0M159 110l1.1 1.7M165 11l-1.3 1.2M17 97l-0.0 0.1M-1 94l0.0 0.4M91 85l0.6 0.4M62 101l0.4 0.6M123 19l-0.0 0.0M113 138l1.9 0.2M121 136l0.5 1.4M107 141l-0.6 1.4M108 27l1.1 1.8M106 26l-0.6 0.1M142 138l1.1 0.5M5 16l0.2 0.3M13 17l1.5 1.1M-1 25l0.8 0.7M102 71l-0.6 1.1M21 134l0.9 0.3M70 50l-0.1 0.1M67 52l-1.3 1.5M68 51l0.8 0.8M72 57l1.0 1.2M60 54l-0.7 0.0M22 79l1.8 0.5M180 63l-1.9 0.9M193 61l1.5 0.1M190 53l-1.0 0.1M39 21l-0.4 0.4M44 19l-0.1 0.1M121 126l-2.1 0.1M161 55l0.6 0.9M156 56l0.9 0.6M162 59l0.2 0.3M161 52l1.9 0.9M69 94l-1.5 1.0M12 49l-0.0 1.5M12 42l-0.0 0.1M3 52l-0.4 0.6M91 114l-0.8 1.4M99 106l-0.2 0.8M179 59l-1.0 1.7M176 50l0.7 0.4M167 34l0.1 0.2M43 32l1.4 0.2M9 13l-0.0 0.4M113 72l-0.0 0.5" stroke="#1414ff" stroke-width="6.0" stroke-linecap="round"/>
</svg>
<svg x="255.6" y="557.6" width="198.3" height="148.2" viewBox="0 0 198.3 148.2">
<rect width="198.3" height="148.2" fill="#000"/>
<path d="M167 132l0.3 1.7M52 7l-0.2 0.1M155 13l-0.3 1.1M121 145l0.2 0.6M47 1l-1.7 0.6M32 98l-0.3 2.1M103 12l0.1 1.4M140 95l-0.7 0.3M46 151l0.0 0.0M41 152l-0.2 0.1M20 2l-0.5 1.7M171 67l0.9 0.2M106 54l-0.1 1.2M42 30l0.7 0.0M118 135l-2.0 0.3M173 53l0.1 0.2M49 90l-0.1 0.4M43 95l-0.1 0.6M161 94l-0.4 0.2M69 104l0.6 0.6M34 63l0.2 0.5M88 145l-1.8 0.1M53 89l1.2 1.7M200 113l1.6 1.1M43 11l1.4 0.0M42 57l0.2 0.3M76 57l-0.1 0.2M176 145l0.4 1.3M38 83l-0.7 0.6M112 59l1.7 0.5M77 34l0.4 1.6M18 143l-0.4 0.2" stroke="#20e620" stroke-width="3.0" stroke-linecap="round"/><path d="M165 138l-0.1 0.8M197 108l0.1 1.4M126 117l-0.3 0.4M95 83l0.8 0.5M48 34l-0.9 0.7M33 32l-0.9 0.6M29 102l0.1 0.7M109 17l1.9 1.1M158 144l2.0 0.6M199 -4l-0.4 0.6M159 149l-0.1 1.1M26 146l-0.2 0.0M140 91l-0.9 0.9M119 14l-0.8 1.4M202 81l0.8 1.5M166 75l0.8 0.8M98 72l0.1 0.0M99 66l0.1 0.7M41 35l-0.4 0.9M5 18l-0.0 1.0M176 94l0.5 0.9M107 44l-1.3 0.9M44 6l0.6 0.1M178 45l-0.2 0.4M-1 151l-0.7 1.3M196 86l-0.3 0.2M69 109l-0.0 0.0M70 15l-0.1 0.0M54 51l-1.8 0.1M37 127l-0.5 0.2M202 119l-1.5 0.4M168 50l0.1 0.2M145 112l-0.9 0.1M141 76l1.4 0.8M165 34l-0.0 0.4M14 113l0.5 0.2M48 58l0.4 0.4M67 76l-0.3 0.1M25 33l-1.2 0.0M35 81l0.1 0.2M159 94l1.2 0.3M58 44l0.3 0.6M33 78l0.5 0.6M64 14l-0.5 0.5M165 137l0.2 0.0M104 62l1.3 1.5M196 142l-0.2 0.0M162 30l0.9 1.7M169 27l0.4 0.2M69 38l1.9 0.4M157 71l1.2 1.0M199 103l-0.3 0.7M19 70l1.6 0.7" stroke="#20e620" stroke-width="4.0" stroke-linecap="round"/>
<path d="M-2 116l-1.5 0.0M28 77l-0.3 1.3M176 14l1.5 1.5M114 61l0.9 0.7M159 29l-0.3 0.2M123 4l0.5 0.7M144 143l0.3 0.4M173 57l0.4 0.4M48 39l-0.4 0.4M55 122l1.9 0.1M57 -2l0.7 0.3M70 39l0.0 0.0M69 31l-0.3 0.4M138 89l0.0 1.8M143 152l0.5 0.1M88 25l0.6 1.5M4 87l-0.3 1.5M0 95l0.5 0.4M27 28l-0.3 0.4M193 141l1.2 1.7M146 78l-0.8 0.4M79 100l-0.5 1.3M111 146l-0.5 0.3" stroke="#0d6a0d" stroke-width="2.0" stroke-linecap="round"/><path d="M111 48l-2.0 0.1M190 79l0.3 1.4M198 109l-0.1 0.0M121 28l1.7 1.2M114 24l-0.9 1.4M28 70l0.1 0.0M182 18l0.8 0.2M158 118l0.8 1.6M195 10l-0.1 0.0M22 39l1.5 0.9M151 26l-1.3 1.1M51 55l1.6 0.9M168 63l-0.2 1.7M19 69l1.4 0.9M197 108l1.9 0.8M127 92l0.1 0.2M114 83l-0.6 0.7M44 55l0.1 0.2M137 81l0.3 0.4M152 64l-0.8 0.4M142 146l-2.1 0.1M16 110l0.2 0.4M197 134l-0.9 1.5M17 113l-0.6 1.8M55 4l-0.2 0.5M63 -0l-2.0 0.7M115 151l0.3 1.4" stroke="#0d6a0d" stroke-width="3.0" stroke-linecap="round"/>
</svg>
<svg x="255.6" y="710" width="198.3" height="151.3" viewBox="0 0 198.3 151.3">
<rect width="198.3" height="151.3" fill="#020210"/>
<path d="M26 119l0.0 1.1M85 85l0.3 0.3M134 66l1.6 1.4M182 34l-0.4 0.3M186 17l-0.6 1.1M194 86l-0.2 2.1M147 60l-1.1 0.7M181 70l1.2 0.2M171 40l1.8 1.0M67 109l-1.0 0.1M155 42l-0.1 0.7M1 52l-1.9 0.2M48 132l-0.4 1.7M183 23l-1.2 1.0M192 96l-0.2 0.0M191 37l0.1 1.4M14 125l-0.4 0.3M150 31l-1.3 0.1M145 6l-1.6 0.0M63 14l2.0 0.6M183 60l0.8 1.2M99 82l-0.2 0.1M7 20l-0.3 0.3M3 29l-0.9 2.0M169 75l1.2 0.9" stroke="#1414ff" stroke-width="4.0" stroke-linecap="round"/><path d="M4 142l0.7 1.5M131 132l0.8 0.8M153 66l-0.2 1.2M26 124l-1.3 0.0M165 32l-1.5 0.7M54 64l0.4 0.6M70 79l0.6 0.2M144 117l0.4 0.6M29 103l1.3 0.6M108 121l-1.0 0.1M70 108l0.4 1.4M-1 30l-1.8 0.2M100 20l-0.9 1.6M125 147l-0.6 0.3M162 17l-0.7 0.8M174 51l-1.6 1.0M129 75l-0.4 0.8M109 54l0.8 0.0M193 24l1.9 0.6M56 149l-0.2 0.0M0 13l0.3 1.1M154 120l-0.5 1.2M119 82l-2.0 0.7M43 131l1.7 0.7M2 151l-0.1 0.0M14 102l-1.3 0.2M22 31l0.0 0.5M172 24l-1.0 1.0M90 68l-0.2 0.0M71 84l1.4 0.3M84 21l-0.2 0.3M40 82l0.3 0.2M133 132l-1.4 0.1M13 124l-1.4 1.6M3 124l-2.0 0.5M20 56l-0.6 1.3M-9 62l1.6 0.3M18 51l1.0 0.0M11 54l-0.0 1.5M18 55l1.0 0.3M13 58l1.3 1.2M155 122l-0.2 1.8M203 18l0.7 1.5M196 41l0.8 0.8M191 110l0.3 0.5M176 112l0.7 1.0M180 116l0.4 1.0M172 135l0.3 0.0M166 128l0.9 0.4M169 127l1.1 0.7M160 128l0.0 0.1M169 131l1.2 0.1M188 29l0.3 0.4M184 31l1.0 1.7M193 41l0.2 0.3M6 128l-0.8 0.5M18 119l0.0 0.0M9 127l0.0 0.6M23 126l0.1 0.0M27 126l0.3 1.9M30 126l1.1 0.9M13 130l-0.1 0.3M136 27l1.7 0.2M149 13l0.6 0.0M39 66l-1.6 0.7M41 58l0.0 0.4M41 64l-1.1 1.1M31 62l-1.5 0.9M38 64l0.8 1.1M42 63l-1.3 0.3M176 57l0.8 0.3M63 12l-1.0 0.4M184 60l-0.3 0.7M194 59l0.9 0.2M194 59l0.2 2.2M100 127l-0.3 2.0M105 81l0.4 2.0M3 22l-0.6 1.2M2 24l0.0 0.0M-1 38l-1.0 1.2M-3 28l-1.2 0.3M8 28l0.8 1.5M164 78l0.8 1.6" stroke="#1414ff" stroke-width="5.0" stroke-linecap="round"/><path d="M97 43l-0.1 0.4M129 13l0.0 2.2M4 9l-0.7 1.0M159 67l-0.1 0.0M11 4l0.6 1.0M29 14l1.5 0.8M148 33l1.5 0.6M180 66l0.6 1.4M35 110l1.2 0.2M10 84l-1.0 0.2M21 135l-0.0 1.0M165 105l-1.6 0.0M29 123l-0.5 1.6M85 124l1.7 0.7M166 110l0.8 1.7M74 140l-1.1 1.8M184 17l0.0 0.0M173 12l-1.4 1.5M15 123l1.4 0.1M18 128l0.9 1.9M9 64l-0.1 0.0M14 54l-1.5 1.6M166 125l-1.6 0.0M165 124l-0.1 0.1M200 25l0.5 1.9M187 118l0.2 1.6M186 108l0.6 1.3M177 112l-0.5 2.1M186 104l1.1 0.4M171 132l-0.5 1.2M173 119l-0.8 0.6M188 35l-2.0 0.3M197 40l0.6 1.3M191 40l-0.9 1.7M184 30l0.5 2.0M17 127l-0.5 0.2M159 15l-2.0 0.6M159 25l0.2 1.4M149 18l-1.7 1.2M163 22l0.4 0.6M41 64l-0.1 0.5M40 71l-0.2 0.1M179 52l0.2 1.7M188 55l-0.1 0.0M184 67l-0.7 0.7M186 54l0.3 1.0M113 136l-0.5 0.1M89 77l-0.6 1.7M109 72l0.6 0.0M98 80l-1.0 0.9M3 29l1.3 0.8M169 76l0.4 1.6" stroke="#1414ff" stroke-width="6.0" stroke-linecap="round"/>
<path d="M26 119l0.0 1.1M186 17l-0.6 1.1M181 70l1.2 0.2M171 40l1.8 1.0M48 132l-0.4 1.7M183 23l-1.2 1.0M192 96l-0.2 0.0M183 60l0.8 1.2" stroke="#1c8cff" stroke-width="3.0" stroke-linecap="round"/><path d="M4 142l0.7 1.5M131 132l0.8 0.8M54 64l0.4 0.6M144 117l0.4 0.6M11 4l0.6 1.0M134 66l1.6 1.4M29 103l1.3 0.6M108 121l-1.0 0.1M-1 30l-1.8 0.2M194 86l-0.2 2.1M125 147l-0.6 0.3M129 75l-0.4 0.8M56 149l-0.2 0.0M0 13l0.3 1.1M74 140l-1.1 1.8M155 42l-0.1 0.7M43 131l1.7 0.7M14 102l-1.3 0.2M172 24l-1.0 1.0M90 68l-0.2 0.0M18 128l0.9 1.9M20 56l-0.6 1.3M18 51l1.0 0.0M11 54l-0.0 1.5M13 58l1.3 1.2M191 110l0.3 0.5M176 112l0.7 1.0M169 127l1.1 0.7M188 29l0.3 0.4M184 31l1.0 1.7M6 128l-0.8 0.5M9 127l0.0 0.6M23 126l0.1 0.0M27 126l0.3 1.9M13 130l-0.1 0.3M136 27l1.7 0.2M145 6l-1.6 0.0M163 22l0.4 0.6M41 64l-1.1 1.1M38 64l0.8 1.1M63 14l2.0 0.6M184 60l-0.3 0.7M194 59l0.9 0.2M105 81l0.4 2.0M2 24l0.0 0.0M-3 28l-1.2 0.3M8 28l0.8 1.5" stroke="#1c8cff" stroke-width="4.0" stroke-linecap="round"/><path d="M129 13l0.0 2.2M4 9l-0.7 1.0M148 33l1.5 0.6M165 105l-1.6 0.0M29 123l-0.5 1.6M184 17l0.0 0.0M173 12l-1.4 1.5M15 123l1.4 0.1M166 125l-1.6 0.0M165 124l-0.1 0.1M200 25l0.5 1.9M177 112l-0.5 2.1M171 132l-0.5 1.2M173 119l-0.8 0.6M197 40l0.6 1.3M184 30l0.5 2.0M159 25l0.2 1.4M41 64l-0.1 0.5M40 71l-0.2 0.1M179 52l0.2 1.7M113 136l-0.5 0.1M109 72l0.6 0.0M98 80l-1.0 0.9M3 29l1.3 0.8M169 76l0.4 1.6" stroke="#1c8cff" stroke-width="5.0" stroke-linecap="round"/>
<path d="M4 142l0.7 1.5M131 132l0.8 0.8M129 13l0.0 2.2M26 119l0.0 1.1M4 9l-0.7 1.0M54 64l0.4 0.6M144 117l0.4 0.6M11 4l0.6 1.0M134 66l1.6 1.4M148 33l1.5 0.6M29 103l1.3 0.6M108 121l-1.0 0.1M-1 30l-1.8 0.2M186 17l-0.6 1.1M194 86l-0.2 2.1M125 147l-0.6 0.3M181 70l1.2 0.2M165 105l-1.6 0.0M29 123l-0.5 1.6M129 75l-0.4 0.8M171 40l1.8 1.0M56 149l-0.2 0.0M0 13l0.3 1.1M74 140l-1.1 1.8M155 42l-0.1 0.7M43 131l1.7 0.7M14 102l-1.3 0.2M172 24l-1.0 1.0M90 68l-0.2 0.0M184 17l0.0 0.0M48 132l-0.4 1.7M173 12l-1.4 1.5M15 123l1.4 0.1M18 128l0.9 1.9M20 56l-0.6 1.3M18 51l1.0 0.0M11 54l-0.0 1.5M13 58l1.3 1.2M166 125l-1.6 0.0M165 124l-0.1 0.1M183 23l-1.2 1.0M200 25l0.5 1.9M191 110l0.3 0.5M177 112l-0.5 2.1M176 112l0.7 1.0M192 96l-0.2 0.0M171 132l-0.5 1.2M169 127l1.1 0.7M173 119l-0.8 0.6M188 29l0.3 0.4M197 40l0.6 1.3M184 31l1.0 1.7M184 30l0.5 2.0M6 128l-0.8 0.5M9 127l0.0 0.6M23 126l0.1 0.0M27 126l0.3 1.9M13 130l-0.1 0.3M136 27l1.7 0.2M159 25l0.2 1.4M145 6l-1.6 0.0M163 22l0.4 0.6M41 64l-0.1 0.5M41 64l-1.1 1.1M38 64l0.8 1.1M40 71l-0.2 0.1M179 52l0.2 1.7M63 14l2.0 0.6M184 60l-0.3 0.7M194 59l0.9 0.2M183 60l0.8 1.2M113 136l-0.5 0.1M105 81l0.4 2.0M109 72l0.6 0.0M98 80l-1.0 0.9M3 29l1.3 0.8M2 24l0.0 0.0M-3 28l-1.2 0.3M8 28l0.8 1.5M169 76l0.4 1.6" stroke="#48ecf4" stroke-width="2.0" stroke-linecap="round"/>
<rect x="143.8" y="136.2" width="48.5" height="3.4" fill="#fff"/>
</svg>
<text x="559.5" y="385.5" font-size="23.5" text-anchor="middle">LPS+CAR</text>
<svg x="458.4" y="405.5" width="197.3" height="147.7" viewBox="0 0 197.3 147.7">
<rect width="197.3" height="147.7" fill="#000"/>
<path d="M123 84l-0.8 0.6M133 35l-0.6 0.5M13 57l0.0 0.2M184 69l0.3 0.9M145 130l-0.1 0.8M35 143l0.9 1.1M48 18l1.6 0.8M13 104l-0.8 0.6M95 29l0.4 0.2M138 11l0.6 1.7M137 150l0.5 1.4M85 158l-0.1 0.8M166 122l0.3 0.6M180 143l0.6 0.5M111 119l0.0 0.0M132 22l-1.3 0.5M174 131l-1.2 0.8M179 76l-0.5 1.7M169 127l-1.6 0.4M80 96l-1.6 0.0" stroke="#1414ff" stroke-width="4.0" stroke-linecap="round"/><path d="M27 92l-0.6 2.1M142 90l-1.8 0.9M105 92l-0.4 2.0M176 110l-0.5 0.2M137 91l-0.5 1.8M99 31l-0.2 0.4M27 92l1.5 0.5M65 103l0.2 1.8M149 63l0.0 0.1M182 23l-1.2 0.0M117 94l-1.7 1.3M110 65l0.1 0.5M178 124l1.7 0.6M93 143l-1.5 0.3M124 130l-0.2 0.2M76 111l-1.8 0.3M183 93l-0.3 0.4M195 78l1.2 0.3M188 142l-1.3 0.5M75 36l0.8 0.1M188 30l-0.4 1.6M132 31l-1.8 0.1M26 71l-1.5 1.2M21 20l-1.0 1.0M62 109l-1.0 0.9M46 26l-0.6 1.9M148 28l-0.3 0.1M161 125l0.2 1.0M168 96l-0.7 0.2M53 31l0.6 0.2M140 139l0.9 0.6M192 95l0.1 0.3M89 89l-1.0 1.3M176 144l-0.1 0.8M24 138l0.1 0.7M115 40l-0.2 0.1M192 2l-1.2 1.3M110 89l-0.4 2.2M140 144l0.6 0.7M150 97l-0.7 0.6M28 7l2.0 0.8M24 49l1.0 0.7M70 145l0.1 0.0M137 49l0.2 0.3M111 145l0.4 0.9M89 151l-0.3 0.1M91 150l-0.9 0.9M87 144l0.3 1.9M185 148l-0.7 0.5M189 135l0.5 0.2M53 65l-0.0 0.1M41 70l-0.2 0.1M54 63l0.3 0.2M120 113l0.2 1.4M159 153l-0.3 0.1M119 35l-0.7 0.0M116 25l0.8 0.7M84 144l-0.6 1.2M86 149l0.1 1.8M81 143l1.5 0.4M87 148l0.3 0.3M128 6l-0.3 1.1M139 1l-0.3 0.6M128 1l-0.3 1.5M90 54l1.7 0.7M183 134l-0.3 0.9M194 135l-0.4 0.3M183 84l-0.1 2.1M158 92l-0.3 1.0M170 91l0.8 0.7M181 89l0.4 1.0M180 93l0.9 0.2M159 120l-0.2 0.2M171 126l1.9 0.7M165 137l0.2 0.3M133 20l1.0 0.1M135 20l-1.4 0.1M83 90l-0.1 1.1M107 103l0.0 1.0M104 106l0.1 0.2M5 135l-0.7 0.1M-3 139l0.3 0.1M145 129l0.4 1.9M146 125l-0.9 0.3M152 112l-1.6 1.1M153 111l-1.8 0.9M82 62l0.7 0.8M87 60l-1.0 1.1M193 53l2.1 0.2" stroke="#1414ff" stroke-width="5.0" stroke-linecap="round"/><path d="M43 17l1.3 0.6M12 129l-0.0 0.0M16 23l-0.9 0.8M76 126l0.1 0.1M167 39l-0.0 0.0M185 71l-0.3 0.2M11 114l0.7 0.1M52 136l-0.0 0.1M196 32l-0.3 0.5M110 139l1.9 0.4M95 149l1.5 0.3M102 144l-1.3 1.6M164 127l0.4 1.5M167 113l1.3 1.8M200 140l-0.8 0.3M46 60l0.4 0.5M55 54l-0.3 0.7M45 66l-1.4 0.3M38 62l-0.6 1.0M49 66l1.2 1.1M149 144l0.8 1.6M150 148l-0.2 0.3M165 135l-1.7 1.4M148 132l0.8 0.0M156 139l-2.0 0.7M92 146l-0.7 0.8M84 151l-1.5 1.0M76 148l-0.4 0.5M83 147l-0.1 0.1M88 52l1.3 1.8M97 43l-0.0 0.0M164 134l0.0 1.6M186 144l-0.1 0.0M183 97l0.3 0.4M165 88l0.2 0.6M66 94l-0.7 0.1M95 104l-0.6 1.0M94 89l0.9 0.7M12 156l-1.0 1.0M9 149l0.3 1.6M135 134l0.9 0.1M139 127l1.0 0.8M155 127l-0.2 0.1M158 128l1.9 1.0M84 65l-0.1 0.1M91 64l-0.7 0.4M185 48l-0.4 1.0M188 50l1.3 1.5M121 124l1.2 1.5M107 144l-1.2 1.2M111 131l-1.5 1.2" stroke="#1414ff" stroke-width="6.0" stroke-linecap="round"/>
</svg>
<svg x="458.4" y="557.6" width="197.3" height="148.2" viewBox="0 0 197.3 148.2">
<rect width="197.3" height="148.2" fill="#000"/>
<path d="M-3 93l0.5 0.6M66 -3l0.0 0.0M-3 131l0.1 1.4M200 97l-0.6 0.7M39 78l-1.6 1.3M191 -3l0.1 0.0M140 140l-1.0 0.1M171 112l-0.7 0.3M117 136l0.9 1.4M98 -1l-0.6 0.6M94 130l0.1 0.6M107 105l0.1 1.7M147 115l-0.7 1.7M109 84l0.2 1.0M152 36l-0.2 0.2M157 115l1.7 0.1M135 -2l-0.1 0.1M194 6l-0.2 0.5M-3 64l-0.0 0.1M135 38l0.0 1.4M74 101l1.2 0.0M42 28l-0.2 1.2M172 7l-0.2 1.5" stroke="#20e620" stroke-width="3.0" stroke-linecap="round"/><path d="M77 82l0.2 0.1M66 94l-0.3 0.1M126 50l-0.2 0.9M115 145l-0.5 0.2M144 23l-0.2 0.3M100 128l0.1 0.0M-4 116l-0.1 1.8M123 113l-0.8 1.1M128 110l1.3 1.3M71 111l-1.1 0.6M101 70l0.0 1.3M105 93l-1.6 1.4M74 44l-0.7 0.0M7 5l-1.5 0.8M126 61l0.0 0.2M186 5l0.0 0.1M155 116l-0.1 0.3M200 143l-0.2 0.5M198 79l-0.6 0.9M188 105l-1.1 0.1M61 43l0.7 2.1M175 96l-0.5 0.7M54 125l0.4 1.1M197 24l0.1 0.7M5 22l-1.1 1.5M66 105l0.1 0.0M36 32l1.0 0.2" stroke="#20e620" stroke-width="4.0" stroke-linecap="round"/>
<path d="M188 99l0.4 0.4M135 10l0.4 0.2M84 151l0.1 0.0M19 37l-0.2 0.5M85 58l-0.1 1.8M86 8l1.2 1.5M13 42l0.3 0.0M171 21l-1.1 0.1M71 88l-0.6 0.3M122 14l-0.9 2.0M63 9l1.9 0.2M24 141l-1.5 0.2M157 146l0.4 0.7" stroke="#0d6a0d" stroke-width="2.0" stroke-linecap="round"/><path d="M87 125l1.5 0.1M162 12l-0.1 1.1M133 49l-0.2 0.0M129 43l0.4 0.4M86 51l1.3 1.2M90 11l-0.6 0.6M202 11l0.1 0.6M16 47l-0.8 0.1M53 78l0.8 1.5M80 0l-0.0 0.3M162 121l0.7 0.2M164 125l-0.1 0.1M63 92l0.9 0.1M117 10l-0.1 0.0M150 101l0.4 1.9M143 70l-0.7 1.7M140 74l0.1 0.1M71 7l1.5 0.3M111 125l-0.1 0.1M89 91l1.9 0.1" stroke="#0d6a0d" stroke-width="3.0" stroke-linecap="round"/>
</svg>
<svg x="458.4" y="710" width="197.3" height="151.3" viewBox="0 0 197.3 151.3">
<rect width="197.3" height="151.3" fill="#020210"/>
<path d="M139 151l-0.1 1.0M32 105l-0.3 1.3M102 146l1.5 0.6M34 78l0.3 0.6M-1 71l0.9 1.0M141 86l-1.5 0.4M143 64l0.6 0.7M55 0l-1.5 0.0M123 132l0.0 0.0M-1 137l0.5 0.8M151 75l0.8 0.5M150 50l-1.3 0.1M189 79l1.1 1.0M199 76l-1.5 0.0M186 50l-1.7 0.6M-9 3l-0.3 0.8M3 6l-0.7 0.4M199 120l0.6 1.0M180 133l0.1 0.2" stroke="#1414ff" stroke-width="4.0" stroke-linecap="round"/><path d="M155 64l-0.8 1.1M117 143l0.0 0.0M152 87l-0.1 1.7M171 17l1.4 0.7M143 94l-0.6 0.1M29 72l-0.5 1.4M27 106l-1.0 1.9M20 73l-1.2 0.7M161 42l-0.5 0.5M153 6l-1.0 0.3M162 145l0.2 0.2M57 120l-0.2 0.0M50 93l0.8 0.8M185 19l-0.1 0.5M100 48l0.0 0.1M169 70l-0.3 0.8M7 56l1.4 1.4M119 150l-1.2 1.1M37 129l0.5 1.9M134 102l0.1 0.3M151 40l0.5 2.1M95 120l-0.3 0.8M81 14l-2.0 0.4M134 134l-0.0 0.8M194 91l0.1 0.0M182 143l0.0 0.2M180 140l0.4 0.5M131 67l0.4 0.5M89 150l-0.0 0.0M6 125l0.7 0.3M0 30l-0.6 0.5M175 146l-0.8 0.1M5 97l-0.3 1.0M172 30l1.2 1.5M65 152l0.1 0.5M77 131l-1.1 1.2M130 101l-0.8 1.9M147 114l-0.4 0.2M98 71l-0.2 0.1M91 71l0.5 0.3M62 116l-0.2 0.0M63 123l0.8 1.9M132 71l-0.1 0.5M185 124l0.7 1.6M181 135l0.2 0.1M176 128l-0.5 1.3M45 50l-2.0 0.7M53 55l0.3 1.4M54 41l-1.7 0.1M141 53l2.1 0.3M58 4l-0.4 0.1M46 127l-0.3 0.7M60 129l1.1 1.6M123 142l-1.4 0.8M13 135l-0.9 0.1M19 138l-1.0 1.4M17 132l0.1 1.9M3 137l0.3 0.4M23 136l-0.3 0.8M131 103l1.5 1.0M129 108l1.3 1.1M126 103l-0.7 0.6M122 95l0.1 0.2M159 -3l0.1 0.1M145 3l-1.4 1.7M70 64l-0.8 0.8M143 85l0.5 0.7M149 78l1.4 0.8M144 58l0.5 0.4M138 50l-0.0 1.1M144 57l-0.6 0.4M163 47l0.9 0.6M184 82l1.9 0.7M177 55l0.2 0.2M176 59l0.9 0.2M140 21l-0.2 0.1M148 13l1.7 0.1M143 15l0.1 1.4M21 107l0.5 0.3M3 3l-0.4 0.5M-9 -1l1.1 0.9M156 115l1.5 1.4M136 109l-1.0 0.5M148 108l1.9 0.6M145 105l-1.5 0.3M196 128l-1.0 0.2M191 130l-1.4 0.6M194 129l1.0 1.4M101 -0l-0.1 1.2M112 4l-0.0 0.1M98 14l-0.0 0.0M100 15l-0.5 1.1" stroke="#1414ff" stroke-width="5.0" stroke-linecap="round"/><path d="M66 26l1.6 0.0M-1 17l-1.6 0.5M2 124l-0.9 0.5M12 7l-0.9 0.5M128 6l0.0 0.0M136 33l-1.0 1.7M160 150l1.7 0.8M4 -0l-0.3 1.2M140 28l0.7 0.4M193 152l0.1 0.5M177 45l-1.0 0.8M189 105l-0.6 1.8M17 13l1.6 1.4M93 99l-1.5 1.2M64 57l-1.3 1.0M109 123l0.2 1.8M113 13l1.8 0.2M142 148l1.1 1.2M170 60l0.5 1.2M3 101l1.2 0.4M95 63l1.5 0.1M66 124l0.6 0.4M133 70l1.2 0.1M155 60l0.7 0.8M128 74l-0.5 0.1M141 48l0.8 0.3M59 13l0.6 0.4M119 141l-0.0 0.0M134 104l-1.4 1.1M160 1l-1.0 0.1M61 57l-0.1 0.1M139 79l-0.0 0.1M144 75l0.2 0.5M142 85l1.1 0.2M145 79l-0.1 1.5M150 82l-1.8 1.1M137 56l-0.4 2.0M154 53l-0.0 0.6M174 16l0.3 0.8M175 23l1.0 0.7M181 81l0.0 0.3M185 79l-0.4 0.3M144 19l0.2 0.1M147 19l-0.0 0.3M25 108l1.4 1.2M19 10l1.1 0.5M155 113l0.1 0.1M177 142l-1.6 1.1M106 7l0.3 0.2" stroke="#1414ff" stroke-width="6.0" stroke-linecap="round"/>
<path d="M123 132l0.0 0.0M150 50l-1.3 0.1M199 76l-1.5 0.0M-9 3l-0.3 0.8M199 120l0.6 1.0" stroke="#1c8cff" stroke-width="3.0" stroke-linecap="round"/><path d="M155 64l-0.8 1.1M171 17l1.4 0.7M143 94l-0.6 0.1M20 73l-1.2 0.7M153 6l-1.0 0.3M50 93l0.8 0.8M100 48l0.0 0.1M119 150l-1.2 1.1M95 120l-0.3 0.8M194 91l0.1 0.0M131 67l0.4 0.5M5 97l-0.3 1.0M130 101l-0.8 1.9M98 71l-0.2 0.1M143 64l0.6 0.7M181 135l0.2 0.1M54 41l-1.7 0.1M58 4l-0.4 0.1M13 135l-0.9 0.1M23 136l-0.3 0.8M122 95l0.1 0.2M145 3l-1.4 1.7M137 56l-0.4 2.0M140 21l-0.2 0.1M143 15l0.1 1.4M156 115l1.5 1.4M145 105l-1.5 0.3M112 4l-0.0 0.1" stroke="#1c8cff" stroke-width="4.0" stroke-linecap="round"/><path d="M136 33l-1.0 1.7M93 99l-1.5 1.2M113 13l1.8 0.2M66 124l0.6 0.4M139 79l-0.0 0.1M142 85l1.1 0.2M181 81l0.0 0.3" stroke="#1c8cff" stroke-width="5.0" stroke-linecap="round"/>
<path d="M155 64l-0.8 1.1M171 17l1.4 0.7M143 94l-0.6 0.1M136 33l-1.0 1.7M20 73l-1.2 0.7M153 6l-1.0 0.3M50 93l0.8 0.8M100 48l0.0 0.1M119 150l-1.2 1.1M93 99l-1.5 1.2M95 120l-0.3 0.8M194 91l0.1 0.0M131 67l0.4 0.5M113 13l1.8 0.2M5 97l-0.3 1.0M130 101l-0.8 1.9M98 71l-0.2 0.1M66 124l0.6 0.4M143 64l0.6 0.7M181 135l0.2 0.1M54 41l-1.7 0.1M58 4l-0.4 0.1M123 132l0.0 0.0M13 135l-0.9 0.1M23 136l-0.3 0.8M122 95l0.1 0.2M145 3l-1.4 1.7M139 79l-0.0 0.1M142 85l1.1 0.2M137 56l-0.4 2.0M150 50l-1.3 0.1M181 81l0.0 0.3M199 76l-1.5 0.0M140 21l-0.2 0.1M143 15l0.1 1.4M-9 3l-0.3 0.8M156 115l1.5 1.4M145 105l-1.5 0.3M199 120l0.6 1.0M112 4l-0.0 0.1" stroke="#48ecf4" stroke-width="2.0" stroke-linecap="round"/>
<rect x="142.8" y="136.2" width="48.5" height="3.4" fill="#fff"/>
</svg>
<text x="768.8" y="385.5" font-size="23.5" text-anchor="middle">LPS+PA</text>
<svg x="659.9" y="405.5" width="199.3" height="147.7" viewBox="0 0 199.3 147.7">
<rect width="199.3" height="147.7" fill="#000"/>
<path d="M148 30l-0.6 1.9M180 131l-0.3 0.0M2 32l0.2 1.5M58 71l0.8 0.9M83 36l-1.7 1.0M10 65l0.1 1.3M65 94l-0.6 0.3M158 82l1.0 1.6M8 40l0.7 2.0M74 27l1.6 0.4M175 96l-0.3 0.6M28 42l-1.4 1.7M191 114l-0.0 0.4M139 71l1.4 1.6M31 110l1.6 0.5M20 124l0.4 0.2M153 109l-0.5 0.7M124 133l1.0 0.7M133 52l1.7 1.1M7 72l-0.1 0.0M100 129l0.4 0.1M92 126l0.6 0.6M97 121l-2.1 0.3M96 126l-0.4 0.7" stroke="#1414ff" stroke-width="4.0" stroke-linecap="round"/><path d="M198 67l1.4 0.7M121 16l1.1 1.8M23 77l1.0 0.5M82 118l-2.1 0.4M167 35l-0.1 0.1M116 142l-0.1 0.2M94 36l0.3 1.6M181 78l-0.0 0.0M141 11l0.4 0.3M201 149l-1.4 0.7M155 106l0.5 0.3M110 89l-0.5 2.1M130 131l-0.1 1.5M113 93l0.0 0.0M76 86l0.3 1.1M75 70l0.1 0.1M111 101l0.3 0.0M138 127l0.7 1.3M191 102l-0.3 0.0M3 133l0.7 0.2M30 63l1.6 0.0M150 46l0.7 0.5M104 58l-0.5 0.0M64 119l-0.3 2.1M189 -2l1.1 0.8M1 48l-1.0 0.1M8 141l-1.1 0.6M162 36l0.2 0.0M153 86l-0.1 0.2M37 99l-0.6 0.7M191 13l-1.7 0.7M123 103l-0.1 0.0M122 47l0.2 1.1M130 45l-0.2 0.9M143 39l1.2 1.6M63 47l0.2 0.2M15 65l-1.0 1.2M93 86l0.1 0.3M185 56l-0.6 0.8M191 63l0.4 0.3M68 21l-1.2 0.9M177 108l-1.2 1.1M36 42l0.2 1.9M34 43l-0.5 1.2M142 63l0.2 0.2M149 59l0.5 0.5M147 65l0.6 2.0M28 118l-0.6 0.6M40 120l0.0 0.4M25 123l0.1 0.0M33 113l-0.0 1.3M37 116l0.4 0.2M0 114l-0.2 0.3M153 105l-1.5 0.9M152 110l-0.5 1.5M129 138l-2.0 0.9M118 135l-0.0 0.4M125 53l1.3 0.8M124 49l0.2 0.2M10 70l-2.0 0.7M8 63l-0.4 0.3M13 61l1.6 0.3M-6 72l-0.2 0.1M85 118l-0.8 0.9M98 14l-1.4 0.0M89 22l1.6 0.8M99 127l-1.5 1.4M72 112l0.7 1.7M68 106l0.0 1.0M57 113l-0.1 0.0M77 118l-0.2 0.3M11 93l-0.2 0.1M12 99l-0.9 0.7M16 87l0.4 0.0M13 83l-1.3 1.1M23 84l-0.5 0.0M177 42l-0.4 0.6M181 37l0.9 1.5M9 105l0.7 1.2M18 108l-0.7 1.2M165 2l-0.9 0.7M176 -3l0.2 2.1" stroke="#1414ff" stroke-width="5.0" stroke-linecap="round"/><path d="M14 31l0.8 1.9M81 110l1.8 0.0M41 149l-0.8 1.6M186 12l1.6 0.6M165 65l1.2 0.8M198 45l0.2 0.4M34 53l1.3 1.5M4 91l1.9 1.0M175 41l-0.9 0.5M25 116l1.0 0.2M137 81l-0.1 0.1M92 101l0.6 1.5M51 -1l0.6 1.0M174 117l-0.3 0.4M86 115l0.1 1.4M103 109l0.2 0.0M188 68l-0.7 1.9M159 77l-0.5 0.8M23 59l0.4 1.1M95 81l-0.2 0.8M88 73l-1.3 1.0M195 62l0.9 0.5M69 11l-0.5 1.2M68 21l0.5 0.2M178 110l1.3 1.1M178 98l-1.7 0.6M173 92l0.2 0.1M28 43l1.2 1.3M30 47l-0.5 1.4M205 112l-0.2 0.2M137 59l-0.6 0.5M35 105l0.4 0.7M41 119l1.1 1.4M15 102l0.5 0.2M29 105l1.3 0.2M131 104l0.1 0.1M113 140l0.1 0.9M122 50l-1.0 1.8M116 50l0.0 0.0M128 48l-0.7 0.2M-14 62l-0.0 0.0M15 84l-0.0 0.0M5 68l-0.1 0.3M89 116l-0.7 1.9M86 111l-1.0 0.2M100 130l0.2 0.5M98 18l0.7 1.0M93 18l-1.4 1.2M108 124l-1.2 0.9M101 131l0.9 0.7M61 111l1.8 0.3M67 116l-0.1 0.1M7 116l0.0 0.0M157 2l1.3 1.1" stroke="#1414ff" stroke-width="6.0" stroke-linecap="round"/>
</svg>
<svg x="659.9" y="557.6" width="199.3" height="148.2" viewBox="0 0 199.3 148.2">
<rect width="199.3" height="148.2" fill="#000"/>
<path d="M9 107l2.0 0.7M11 144l-1.6 0.8M194 14l1.4 0.1M81 79l0.4 0.2M57 113l0.2 1.1M152 123l0.2 1.0M160 128l-0.2 0.1M8 108l0.0 0.3M63 136l-1.7 1.0M143 80l0.0 0.9M91 152l-1.4 0.8M53 17l-0.4 0.3M199 65l0.0 0.0M13 97l1.2 1.2M142 50l-0.0 0.3M19 86l1.5 0.3" stroke="#20e620" stroke-width="3.0" stroke-linecap="round"/><path d="M136 44l0.2 0.8M23 5l-0.5 0.5M138 1l0.3 0.4M187 26l0.6 1.1M-3 128l0.4 0.3M95 103l-0.3 0.5M16 72l1.2 0.3M190 8l0.5 0.8M169 20l-0.4 0.8M120 36l-0.1 0.3M39 138l1.5 1.4M9 123l-0.2 0.2M125 101l0.8 1.1M7 1l0.0 0.0M2 78l-1.5 0.5M19 111l-0.4 2.0M124 95l-1.7 1.3M-4 58l0.6 1.9M187 15l-0.0 0.2M138 4l-1.7 0.1M192 66l0.8 0.7M174 51l-1.3 0.2" stroke="#20e620" stroke-width="4.0" stroke-linecap="round"/>
<path d="M134 84l-1.5 0.6M0 104l0.1 0.6M160 8l0.5 1.3M117 77l-0.4 0.2M75 54l1.4 0.7M91 70l-0.6 0.7M203 38l-1.2 0.7M210 42l-0.0 0.0M27 86l1.5 0.6M34 83l0.0 0.5M158 110l0.2 0.3" stroke="#0d6a0d" stroke-width="2.0" stroke-linecap="round"/><path d="M134 77l-1.5 0.1M48 36l0.2 0.2M165 3l1.4 1.6M66 144l0.1 0.0M132 74l1.1 1.6M119 70l1.0 1.4M130 4l-1.6 0.9M79 61l-0.5 0.7M73 63l-1.1 1.5M133 139l1.1 1.6M98 38l2.1 0.4M101 43l-0.2 0.1M74 131l-0.1 0.4M101 143l-0.9 0.2M33 75l0.9 0.6M175 61l-0.4 0.6" stroke="#0d6a0d" stroke-width="3.0" stroke-linecap="round"/>
</svg>
<svg x="659.9" y="710" width="199.3" height="151.3" viewBox="0 0 199.3 151.3">
<rect width="199.3" height="151.3" fill="#020210"/>
<path d="M120 138l0.6 1.9M148 80l1.1 0.3M42 10l1.6 1.3M93 9l-0.4 0.1M139 68l-0.3 1.4M76 43l1.3 1.1M7 93l-1.4 0.4M42 148l-0.0 1.6M93 148l0.1 0.3M182 72l0.0 0.2M171 80l0.9 0.6M146 14l-1.6 1.2M113 120l0.0 0.4M111 120l1.0 1.7M123 117l1.1 1.4M8 29l-1.9 0.4M12 37l0.3 0.5M48 68l-1.4 0.6M153 92l0.5 0.2M-12 87l-0.2 0.1M95 144l0.2 0.0M104 147l-0.2 0.3M157 20l-0.4 0.0M141 127l1.3 1.4" stroke="#1414ff" stroke-width="4.0" stroke-linecap="round"/><path d="M201 135l-0.0 2.0M75 20l-0.5 1.6M186 101l-0.2 0.3M117 38l1.0 1.7M78 44l1.0 0.6M102 90l0.3 0.6M157 130l-0.1 0.7M51 112l-0.2 1.2M45 53l0.6 0.2M172 72l0.1 2.1M134 48l-0.9 0.5M30 85l1.0 1.4M27 108l0.2 1.2M63 7l-0.5 0.7M190 154l0.6 1.9M166 59l0.4 0.8M166 6l-0.0 0.1M132 7l-0.0 1.9M79 16l0.7 0.3M22 79l-0.5 2.0M49 98l0.6 0.2M66 145l-0.6 0.9M147 13l0.6 0.7M126 11l-0.1 2.2M168 151l0.2 0.4M2 52l-0.3 0.2M133 16l-0.9 1.6M98 90l1.1 1.5M170 97l-1.7 0.4M173 102l-0.5 0.3M14 84l2.0 0.6M207 17l0.1 0.1M203 13l-0.2 0.0M118 122l0.3 1.2M136 27l-1.0 0.5M138 24l-0.6 0.0M109 114l0.1 0.4M124 109l-0.6 0.1M13 41l-0.6 0.0M9 24l0.0 0.1M127 28l0.0 0.1M120 33l-0.1 0.2M143 35l-0.0 1.7M136 32l-0.0 0.8M122 39l-1.3 0.5M155 47l-1.1 1.2M161 57l-1.1 0.4M151 51l-1.1 1.7M156 50l1.1 1.1M166 89l0.0 0.1M154 88l-0.0 0.4M166 100l1.3 0.9M153 89l0.8 1.8M29 134l1.3 0.1M36 140l-0.9 1.6M31 143l1.9 0.8M30 135l-0.4 0.3M45 68l-1.3 1.6M128 143l0.2 1.6M125 138l-0.1 0.1M113 149l1.1 1.4M151 98l-0.2 0.6M146 96l-0.6 0.4M34 74l-0.3 0.1M20 92l-0.7 1.0M1 72l0.2 0.0M13 71l-0.0 0.1M-6 85l0.0 0.0M106 142l-0.5 0.1M51 19l-1.6 0.3M51 7l1.4 0.7M50 19l-0.0 0.3M-8 25l0.1 0.1M5 34l-0.7 2.1M165 23l0.7 0.4M160 20l0.4 0.3M165 19l-0.1 0.4M108 143l1.7 0.6M113 137l-1.9 1.0M62 14l1.3 0.4M51 -6l0.4 0.4M62 12l1.0 0.9M107 141l0.8 1.7M102 133l0.5 0.9" stroke="#1414ff" stroke-width="5.0" stroke-linecap="round"/><path d="M113 96l0.8 0.2M193 2l0.0 0.0M187 118l-0.1 0.4M105 52l-1.5 0.0M150 98l1.8 0.1M28 96l-0.9 1.8M142 134l0.5 0.3M106 47l0.1 1.5M174 68l-1.1 0.4M12 -0l-1.8 0.9M7 76l-0.8 1.3M11 35l0.8 0.0M131 21l0.8 0.5M46 98l-1.4 1.0M147 32l-0.1 1.2M32 34l0.2 0.1M179 92l0.0 0.0M90 128l-0.5 0.2M109 93l0.8 1.8M55 39l1.5 1.4M44 153l-1.5 1.0M183 149l-0.8 0.6M211 19l-1.0 0.5M194 8l-1.7 0.1M119 104l0.2 0.4M119 122l0.6 1.6M118 112l-0.3 0.1M127 119l-0.9 1.2M117 121l-1.0 0.6M18 42l0.1 0.3M11 33l-0.3 0.3M130 39l0.6 0.1M134 37l-2.0 0.4M113 28l0.9 1.2M158 46l0.0 0.2M155 57l-0.0 0.9M157 53l0.9 2.0M160 55l-0.1 1.1M159 99l-1.2 0.6M38 145l-1.0 1.6M28 144l1.2 1.4M49 66l-1.4 0.4M120 152l-0.0 0.1M123 148l-1.5 0.5M153 96l0.7 0.8M25 85l0.2 0.7M17 88l-0.7 1.3M49 8l-0.8 1.1M54 8l-0.5 0.1M56 14l-0.3 0.1M163 22l-1.6 1.1M65 1l0.3 0.9" stroke="#1414ff" stroke-width="6.0" stroke-linecap="round"/>
<path d="M113 120l0.0 0.4M48 68l-1.4 0.6M157 20l-0.4 0.0" stroke="#1c8cff" stroke-width="3.0" stroke-linecap="round"/><path d="M113 96l0.8 0.2M186 101l-0.2 0.3M157 130l-0.1 0.7M166 6l-0.0 0.1M76 43l1.3 1.1M49 98l0.6 0.2M126 11l-0.1 2.2M203 13l-0.2 0.0M9 24l0.0 0.1M127 28l0.0 0.1M122 39l-1.3 0.5M151 51l-1.1 1.7M154 88l-0.0 0.4M29 134l1.3 0.1M123 148l-1.5 0.5M146 96l-0.6 0.4M13 71l-0.0 0.1M106 142l-0.5 0.1M51 7l1.4 0.7M5 34l-0.7 2.1" stroke="#1c8cff" stroke-width="4.0" stroke-linecap="round"/><path d="M187 118l-0.1 0.4M142 134l0.5 0.3M174 68l-1.1 0.4M147 32l-0.1 1.2M90 128l-0.5 0.2M44 153l-1.5 1.0M119 122l0.6 1.6M117 121l-1.0 0.6M65 1l0.3 0.9" stroke="#1c8cff" stroke-width="5.0" stroke-linecap="round"/>
<path d="M113 96l0.8 0.2M187 118l-0.1 0.4M186 101l-0.2 0.3M157 130l-0.1 0.7M142 134l0.5 0.3M174 68l-1.1 0.4M166 6l-0.0 0.1M76 43l1.3 1.1M49 98l0.6 0.2M126 11l-0.1 2.2M147 32l-0.1 1.2M90 128l-0.5 0.2M44 153l-1.5 1.0M203 13l-0.2 0.0M119 122l0.6 1.6M113 120l0.0 0.4M117 121l-1.0 0.6M9 24l0.0 0.1M127 28l0.0 0.1M122 39l-1.3 0.5M151 51l-1.1 1.7M154 88l-0.0 0.4M29 134l1.3 0.1M48 68l-1.4 0.6M123 148l-1.5 0.5M146 96l-0.6 0.4M13 71l-0.0 0.1M106 142l-0.5 0.1M51 7l1.4 0.7M5 34l-0.7 2.1M157 20l-0.4 0.0M65 1l0.3 0.9" stroke="#48ecf4" stroke-width="2.0" stroke-linecap="round"/>
<rect x="144.8" y="136.2" width="48.5" height="3.4" fill="#fff"/>
</svg>
<text x="965.8" y="362.5" font-size="23.5" text-anchor="middle">LPS+</text>
<text x="965.8" y="389.8" font-size="23.5" text-anchor="middle">CAR+PA</text>
<svg x="863.2" y="405.5" width="202.8" height="147.7" viewBox="0 0 202.8 147.7">
<rect width="202.8" height="147.7" fill="#000"/>
<path d="M35 84l-0.6 1.5M15 21l0.4 1.0M167 34l-0.0 1.0M14 28l-0.0 1.9M55 135l1.7 0.3M140 101l0.4 1.1M169 7l-0.9 1.4M153 85l0.9 0.1M24 107l1.4 0.4M57 102l0.1 0.6M66 104l0.3 0.5M110 134l-1.1 1.4M105 141l0.6 0.3M107 137l1.2 1.5M55 97l-0.3 0.0M108 105l0.1 0.2M111 107l-1.8 0.2M163 92l-1.6 1.4M172 81l-0.3 1.8M31 126l0.6 0.1M154 106l0.1 0.0M78 130l1.3 1.3M150 150l-0.0 1.9M119 61l0.1 0.4M62 58l1.4 1.3" stroke="#1414ff" stroke-width="4.0" stroke-linecap="round"/><path d="M45 48l1.2 1.3M165 -0l1.2 0.4M184 15l-1.1 0.9M118 57l0.6 0.3M127 94l-0.0 0.0M94 79l-0.1 0.8M70 149l0.1 1.0M173 3l-1.4 0.0M165 81l-1.4 0.3M188 150l-0.4 0.2M106 3l-0.9 0.2M27 22l1.2 1.5M127 107l-0.8 1.5M111 79l-0.8 1.3M62 127l0.3 0.7M39 71l0.5 1.5M16 86l0.3 1.0M167 91l-1.1 0.0M115 144l0.6 0.5M173 -1l-0.5 1.3M41 22l-0.3 1.8M34 10l-0.2 2.0M103 32l0.9 1.0M47 27l0.1 0.0M12 133l0.5 2.0M100 58l1.8 0.1M76 116l-0.5 0.2M93 -1l0.2 0.6M86 2l-0.4 1.0M181 3l-0.2 1.5M32 120l-0.1 0.3M64 45l1.0 0.9M86 146l-0.8 0.5M198 92l1.4 0.1M116 22l-1.1 0.5M27 140l-0.4 1.5M184 31l-1.0 0.2M56 90l-0.8 0.5M12 135l0.3 0.0M111 2l1.7 0.2M136 34l1.4 0.2M69 96l-0.2 0.3M101 135l0.4 0.5M104 136l0.7 1.3M49 120l-1.3 0.9M55 119l0.0 0.0M38 94l0.7 0.1M70 96l-0.0 0.0M71 110l1.5 0.6M65 105l-0.3 0.4M49 95l1.8 0.1M71 85l-1.0 0.4M41 46l-0.8 2.0M132 74l-0.4 1.2M128 87l1.5 1.0M133 81l-1.8 1.0M96 109l-2.0 0.0M95 103l0.6 0.4M102 101l-0.4 0.6M102 101l-1.8 1.2M166 96l-1.7 0.6M173 119l0.5 0.8M108 28l-0.7 1.1M119 34l-1.6 0.7M111 29l1.6 0.4M66 126l-0.1 0.1M77 128l1.0 0.5M70 127l-0.3 0.9M107 61l0.7 0.3M123 53l1.3 0.8M128 61l-1.3 0.5M94 57l0.1 0.1M112 42l0.0 1.1M104 35l0.0 0.1M117 37l0.6 0.2M97 143l0.2 0.3M95 104l-0.8 0.6M93 101l-0.1 0.4M100 101l0.2 0.5M95 104l1.4 0.5M96 108l1.7 1.4M101 104l0.3 0.2M95 104l-0.7 0.8M147 36l-0.1 1.7M139 28l-1.3 1.4M135 113l0.1 0.1M140 111l0.1 2.1M52 61l-0.3 0.1" stroke="#1414ff" stroke-width="5.0" stroke-linecap="round"/><path d="M197 131l0.1 0.1M66 96l-0.6 1.1M122 120l-0.1 0.3M50 61l-0.1 0.3M176 134l-0.9 0.2M105 77l0.2 0.1M118 1l0.3 0.8M45 35l-0.4 0.9M80 82l0.1 0.0M71 116l-0.2 0.0M88 15l0.2 0.3M99 54l-1.5 0.1M48 124l0.1 0.5M47 2l-1.6 0.4M-2 105l1.0 0.7M124 43l-1.9 0.7M126 39l0.2 0.1M126 33l0.3 0.4M64 111l0.7 1.3M71 105l-1.2 1.5M77 101l0.3 0.6M41 80l0.8 0.2M43 87l1.2 1.2M52 98l0.3 0.8M65 103l0.2 0.1M39 38l-0.3 0.5M34 43l0.4 1.2M98 109l0.0 1.0M100 106l1.2 1.7M161 81l1.9 0.1M49 132l0.1 1.2M29 125l-0.7 0.0M49 131l-0.0 0.8M48 122l0.6 0.3M51 126l1.7 0.1M178 112l-1.1 0.0M164 124l1.6 1.5M71 121l-1.9 0.3M70 141l0.0 1.1M165 145l1.5 0.7M160 151l-1.6 0.2M118 38l0.7 0.5M69 138l0.4 0.2M79 140l0.3 0.4M95 105l1.4 0.5M152 28l1.2 0.7M48 57l-0.4 1.9" stroke="#1414ff" stroke-width="6.0" stroke-linecap="round"/>
</svg>
<svg x="863.2" y="557.6" width="202.8" height="148.2" viewBox="0 0 202.8 148.2">
<rect width="202.8" height="148.2" fill="#000"/>
<path d="M12 15l0.6 0.4M89 -4l0.4 1.3M79 28l1.0 0.3M141 85l1.5 1.1M144 87l0.7 0.5M61 51l-1.8 0.5" stroke="#20e620" stroke-width="3.0" stroke-linecap="round"/><path d="M118 112l-0.1 0.1M140 105l1.1 1.8M79 139l0.5 1.6M78 133l-0.0 0.0M78 145l-1.9 0.4M126 35l-0.7 0.0M73 30l-1.6 0.6M90 72l-0.3 1.5M88 65l-0.5 0.1M143 29l-0.9 0.7M80 113l-0.5 1.5M111 146l0.2 0.9M140 92l0.9 1.6M59 45l-0.5 0.2M5 62l1.3 0.1M8 56l-0.0 0.0" stroke="#20e620" stroke-width="4.0" stroke-linecap="round"/>
<path d="M-1 81l-1.2 0.3M114 59l0.4 0.0M115 4l0.5 0.0M132 41l0.0 1.5M92 134l0.8 0.8M41 105l0.3 1.8M152 146l-1.8 0.9M17 136l1.3 0.7M166 58l-0.2 0.1M60 12l-0.0 0.2M60 17l-0.3 0.7" stroke="#0d6a0d" stroke-width="2.0" stroke-linecap="round"/><path d="M85 42l0.8 2.0M201 73l0.0 0.9M201 88l0.1 0.1M107 57l-0.4 0.8M96 138l0.7 0.0M45 113l-0.1 0.7M63 90l0.3 0.5M168 30l0.0 0.1" stroke="#0d6a0d" stroke-width="3.0" stroke-linecap="round"/>
</svg>
<svg x="863.2" y="710" width="202.8" height="151.3" viewBox="0 0 202.8 151.3">
<rect width="202.8" height="151.3" fill="#020210"/>
<path d="M48 7l-0.5 1.2M126 94l0.8 0.6M181 23l0.4 0.6M6 38l-0.5 1.3M125 35l0.6 1.0M45 151l1.8 0.3M43 60l0.0 0.9M85 145l-0.1 0.2M109 130l-0.1 2.1M64 13l-1.5 1.1M136 68l-0.5 0.8M108 68l-0.0 0.0M114 68l1.1 0.4M84 78l0.6 1.3M28 110l0.9 1.1M44 119l-2.0 0.7" stroke="#1414ff" stroke-width="4.0" stroke-linecap="round"/><path d="M113 15l0.8 1.1M202 58l0.8 0.5M107 21l-1.2 1.1M65 64l0.9 0.5M173 66l1.1 0.9M45 95l-1.0 1.0M155 151l1.2 0.9M56 152l-0.1 0.2M99 129l0.0 2.0M90 96l-0.6 1.3M169 124l-1.7 1.2M32 123l-0.1 0.5M117 122l-0.4 0.2M127 49l0.0 0.4M55 100l0.2 0.8M191 83l-1.1 0.6M174 63l-1.2 1.7M46 46l-0.3 0.3M134 118l-1.0 0.1M88 103l1.1 1.8M42 77l-0.6 0.4M112 123l-0.8 1.4M88 17l1.3 0.9M20 94l0.5 1.9M99 121l0.2 0.1M175 123l2.0 0.7M65 9l0.7 0.9M183 35l-1.1 0.2M159 55l0.0 0.0M21 55l0.2 0.8M118 72l-0.1 0.6M181 126l-0.2 0.2M203 34l-0.4 1.7M164 14l0.0 0.1M142 141l1.5 0.9M71 80l0.9 0.2M67 80l-0.1 0.4M42 151l-0.4 0.5M37 134l0.0 0.0M48 144l0.4 0.1M102 38l-0.2 1.3M35 63l-0.3 1.4M37 71l-0.5 1.1M42 60l-0.7 1.2M123 114l0.1 2.0M112 112l1.1 1.4M114 116l0.6 0.0M67 80l-0.8 0.3M57 83l0.0 1.5M79 84l-1.9 0.1M69 79l-0.4 0.5M79 150l0.0 1.5M118 130l-0.3 0.4M100 120l0.1 0.1M104 130l-0.7 1.8M137 117l1.0 0.6M129 104l0.2 0.0M154 103l0.7 0.7M141 98l-0.1 0.6M137 103l-0.5 0.2M64 20l0.3 1.1M52 30l-1.5 0.7M130 66l-0.4 0.6M148 55l0.8 0.4M143 62l0.2 0.9M147 74l-0.1 0.1M69 99l0.5 0.8M66 102l0.9 0.3M43 8l-0.4 0.4M42 12l-0.8 0.2M53 14l-0.1 0.4M93 66l0.6 0.3M116 70l-0.2 0.1M120 65l0.5 1.4M70 103l0.2 1.5M153 108l-0.4 1.4M156 105l0.9 1.7M164 113l2.2 0.0M95 17l-0.0 0.5M89 13l-1.6 0.3M64 73l-1.0 1.3M65 65l1.5 0.1M60 65l-1.8 1.1M48 76l-1.6 1.4M98 145l-0.7 1.1M93 144l-0.1 1.1M97 138l-1.1 0.9M34 109l-1.9 0.3M34 108l0.7 0.1" stroke="#1414ff" stroke-width="5.0" stroke-linecap="round"/><path d="M32 61l-1.2 1.4M49 82l-0.3 0.7M48 148l-0.4 1.3M150 7l0.3 0.1M186 144l-0.1 0.2M8 38l1.3 1.7M84 137l-0.9 0.7M133 4l-0.1 1.8M169 149l-0.4 0.3M4 33l1.2 1.3M94 7l-0.6 0.1M158 149l0.4 1.2M79 152l-0.1 0.3M167 137l0.4 0.8M128 138l-0.8 0.2M49 99l0.0 1.5M204 3l0.1 0.4M96 55l-2.0 0.7M177 39l-0.3 0.2M128 62l1.0 0.7M30 39l-0.2 0.3M48 73l-1.2 0.1M119 37l0.1 1.1M112 96l-0.1 0.0M66 76l0.1 0.0M53 138l0.9 0.1M32 147l1.5 0.6M38 130l0.2 0.0M33 146l-0.3 0.1M92 32l-1.8 0.2M37 64l1.1 1.4M37 63l-0.0 0.2M190 85l1.1 0.7M190 95l0.2 0.4M119 120l-0.2 0.3M60 80l-0.0 0.2M82 146l1.3 1.2M109 124l1.5 1.0M140 100l1.8 0.9M49 11l0.3 0.2M20 6l-0.3 0.3M103 70l0.3 0.6M111 64l-0.4 0.5M117 68l-0.2 0.1M67 104l-0.1 1.4M146 108l-0.5 1.7M52 72l-2.1 0.2M59 70l0.7 0.9M63 75l0.4 1.3M102 131l-1.8 0.2M107 140l-0.6 0.2M105 136l1.0 0.8M101 130l-0.8 1.5M97 129l0.6 1.1M23 112l1.3 0.4" stroke="#1414ff" stroke-width="6.0" stroke-linecap="round"/>
<path d="M113 15l0.8 1.1M155 151l1.2 0.9M127 49l0.0 0.4M48 7l-0.5 1.2M159 55l0.0 0.0M67 80l-0.1 0.4M37 64l1.1 1.4M114 116l0.6 0.0M64 13l-1.5 1.1M42 12l-0.8 0.2M70 103l0.2 1.5M97 129l0.6 1.1" stroke="#1c8cff" stroke-width="4.0" stroke-linecap="round"/><path d="M177 39l-0.3 0.2M109 124l1.5 1.0M63 75l0.4 1.3" stroke="#1c8cff" stroke-width="5.0" stroke-linecap="round"/>
<path d="M113 15l0.8 1.1M155 151l1.2 0.9M127 49l0.0 0.4M48 7l-0.5 1.2M177 39l-0.3 0.2M159 55l0.0 0.0M67 80l-0.1 0.4M37 64l1.1 1.4M114 116l0.6 0.0M109 124l1.5 1.0M64 13l-1.5 1.1M42 12l-0.8 0.2M70 103l0.2 1.5M63 75l0.4 1.3M97 129l0.6 1.1" stroke="#48ecf4" stroke-width="2.0" stroke-linecap="round"/>
<rect x="148.3" y="136.2" width="48.5" height="3.4" fill="#fff"/>
</svg>
<text x="1171.7" y="385.5" font-size="23.5" text-anchor="middle">LPS+Gly-Pro</text>
<svg x="1070" y="405.5" width="194.8" height="147.7" viewBox="0 0 194.8 147.7">
<rect width="194.8" height="147.7" fill="#000"/>
<path d="M198 93l0.2 1.4M50 17l-0.8 0.4M191 86l-1.9 0.7M182 61l1.0 0.9M104 69l0.2 1.1M163 138l2.1 0.1M93 70l2.1 0.0M32 84l0.1 0.1M134 108l1.4 0.3M131 116l-0.4 1.9M71 110l0.2 2.1M57 14l-0.1 0.4M113 144l1.1 1.2M111 136l-0.0 0.9M129 96l-1.6 1.2M176 119l-0.2 0.6M165 136l-0.1 0.0M188 55l-2.0 0.3M191 53l-0.1 1.0M150 9l0.1 1.1" stroke="#1414ff" stroke-width="4.0" stroke-linecap="round"/><path d="M64 22l0.6 0.3M148 20l0.1 2.0M68 23l-1.5 0.2M76 79l0.1 0.3M156 140l1.5 0.0M22 61l-0.7 0.2M61 108l1.9 0.6M114 128l0.1 1.2M12 95l0.5 0.7M193 38l0.3 0.6M157 138l-0.2 1.0M31 130l0.1 0.2M44 15l0.9 0.7M138 150l-1.4 0.2M130 51l-0.2 1.7M35 96l0.0 0.2M160 33l1.2 0.8M135 83l0.0 0.8M186 102l1.1 0.3M164 65l0.0 0.2M162 43l0.9 0.8M87 9l0.1 0.1M187 134l0.1 1.5M68 89l0.1 0.0M90 128l-0.4 0.2M16 110l-0.9 1.9M127 101l0.2 0.5M82 149l-1.9 0.1M90 12l0.8 1.8M50 29l0.7 1.0M64 137l-1.8 0.6M92 151l-0.0 0.4M100 66l-0.1 0.0M137 109l0.3 0.2M132 111l-0.3 1.0M108 114l1.2 0.5M114 110l-0.2 0.4M108 117l0.4 0.2M136 2l-0.4 0.3M132 -1l-0.0 0.0M132 8l0.2 0.2M63 115l-0.8 0.8M64 21l-0.5 0.2M67 26l-0.1 1.1M72 9l1.4 1.7M62 12l0.3 1.0M58 15l-1.8 0.9M121 147l1.4 1.6M115 138l0.8 1.4M123 143l1.5 0.6M116 44l-0.6 1.1M115 43l-0.2 0.3M124 36l-1.2 0.2M21 70l0.2 1.3M175 120l0.7 0.5M175 104l0.3 0.3M84 32l0.4 0.6M76 38l-0.4 0.4M31 25l-1.1 0.4M30 27l0.3 0.1M42 33l1.4 0.4M26 37l-0.7 0.8M81 99l-0.1 0.0M81 99l-0.0 0.9M178 61l-1.2 0.1M165 141l-1.2 1.8M162 127l-1.7 0.8M171 134l0.1 0.1M148 42l1.0 0.1M133 31l-1.9 0.9M127 24l0.2 0.5M153 26l1.1 0.8M70 11l1.4 0.2M150 140l0.2 0.3M162 139l0.1 0.6M193 40l0.3 0.2M188 36l1.4 0.4M98 8l0.8 0.3M112 8l1.3 1.0M122 150l-0.8 1.1M117 151l0.2 0.4M126 145l-0.6 0.3M101 24l0.0 0.7" stroke="#1414ff" stroke-width="5.0" stroke-linecap="round"/><path d="M173 51l0.5 0.4M188 45l1.0 1.5M75 68l-0.1 1.0M182 32l1.0 1.0M120 145l-0.8 1.0M103 36l-0.1 0.8M162 115l-0.4 0.3M193 147l-0.6 0.1M150 93l0.1 0.2M101 88l-0.7 0.1M94 117l-0.0 0.3M35 6l-0.1 1.6M46 4l-0.0 1.0M121 39l-0.8 0.5M95 102l-0.2 0.0M30 103l1.0 0.2M113 5l1.1 0.1M167 129l-1.2 0.3M14 40l1.3 0.6M3 29l0.6 1.6M88 110l0.4 2.1M17 78l1.7 1.1M130 103l0.0 0.0M85 73l-1.6 1.1M77 71l0.9 1.0M133 112l1.2 0.2M139 116l-0.3 0.8M141 109l1.2 0.4M135 4l1.6 1.3M132 -5l-0.9 1.3M112 29l-0.1 1.7M114 26l-0.4 0.4M16 79l-0.8 1.0M137 104l0.6 1.8M136 109l0.6 1.3M130 101l1.0 0.1M168 116l-0.0 0.3M80 43l-0.4 0.4M35 23l1.2 0.8M45 38l0.4 0.8M32 34l-0.3 2.1M30 36l0.7 0.0M94 100l1.6 1.0M177 60l1.1 0.5M178 52l0.3 1.5M170 135l0.4 0.1M176 132l-0.4 0.1M169 133l0.6 0.4M166 145l-0.9 0.4M145 22l-0.3 0.5M136 30l-1.6 0.0M65 -2l0.1 0.1M63 11l-0.3 0.1M144 144l1.9 0.4M103 11l0.9 0.8M186 56l0.0 0.3M87 21l-0.1 1.0" stroke="#1414ff" stroke-width="6.0" stroke-linecap="round"/>
</svg>
<svg x="1070" y="557.6" width="194.8" height="148.2" viewBox="0 0 194.8 148.2">
<rect width="194.8" height="148.2" fill="#000"/>
<path d="M155 96l-0.3 0.1M87 -3l0.2 1.3M149 149l-1.2 1.4M77 140l1.4 1.5M194 -5l0.4 1.6M99 59l-0.3 0.6M119 98l0.0 0.2M54 147l-0.7 1.2M194 108l0.4 0.3M125 56l-0.3 1.4M44 96l-0.6 0.1M96 -3l0.9 0.1M6 34l1.3 1.3M161 43l-0.2 0.5M82 150l-1.3 1.4M58 89l1.6 1.4M50 39l-1.0 0.2M51 27l-2.0 0.8M82 15l-0.1 1.1M22 138l-1.4 0.3M93 54l-0.3 0.8M1 66l-1.2 0.1M135 121l0.2 1.5M190 136l-0.9 0.4" stroke="#20e620" stroke-width="3.0" stroke-linecap="round"/><path d="M64 110l1.0 0.6M105 35l0.3 0.8M80 -4l0.5 2.1M46 35l-0.9 0.9M65 143l-0.3 1.0M21 110l-0.9 1.3M147 48l-1.0 1.2M117 81l-0.9 1.5M50 86l1.1 0.8M137 40l0.9 0.2M89 0l0.4 1.1M89 -5l0.8 1.6M179 31l-1.1 0.2M12 146l-0.7 0.6M14 153l0.1 0.7M3 59l-2.0 0.7" stroke="#20e620" stroke-width="4.0" stroke-linecap="round"/>
<path d="M88 127l0.2 0.6M164 79l0.0 0.8M26 110l1.3 1.8M42 27l0.6 0.5M52 115l0.4 0.5M48 122l-0.5 0.8M128 104l0.0 0.4M145 26l-1.2 0.3M28 60l0.1 0.1M134 109l0.3 1.7M53 140l0.4 0.5M61 70l-0.9 1.9M17 6l0.5 0.3M18 124l0.3 0.9M25 128l1.3 1.2M3 48l-0.8 0.1" stroke="#0d6a0d" stroke-width="2.0" stroke-linecap="round"/><path d="M76 75l-0.5 0.8M172 81l0.7 0.1M94 24l1.1 0.6M3 10l0.5 0.4M40 49l1.7 1.4M19 104l0.5 0.5M141 131l0.7 1.7M123 4l-1.3 0.1M139 102l-1.1 1.8M0 25l0.0 0.9M40 41l0.1 0.2M35 44l0.6 0.1" stroke="#0d6a0d" stroke-width="3.0" stroke-linecap="round"/>
</svg>
<svg x="1070" y="710" width="194.8" height="151.3" viewBox="0 0 194.8 151.3">
<rect width="194.8" height="151.3" fill="#020210"/>
<path d="M129 13l-0.8 0.2M86 149l1.0 0.5M8 135l0.2 0.6M132 129l-0.1 0.2M158 3l-1.7 0.3M120 141l1.5 0.9M171 146l-0.0 1.7M117 18l0.0 0.1M72 42l-0.0 1.4M118 7l1.0 0.7M172 20l-1.2 0.8M134 153l0.3 0.0M174 74l0.4 0.4M15 3l0.6 0.9M12 8l-1.0 0.4M110 31l0.2 1.3M-4 106l0.2 0.3M-0 103l0.1 0.3M182 136l-1.4 0.4M57 101l-0.8 0.8M130 24l-0.2 1.1M73 52l0.7 1.1M10 50l1.1 1.4M94 79l0.8 1.7M4 53l0.9 0.7M37 113l0.3 0.1" stroke="#1414ff" stroke-width="4.0" stroke-linecap="round"/><path d="M35 100l-1.2 1.4M74 77l0.4 0.0M156 62l0.1 0.1M196 63l1.7 0.1M124 24l0.1 0.3M45 52l-0.8 0.4M147 137l0.4 0.9M138 150l0.6 2.0M101 139l1.4 1.4M104 70l-1.3 0.4M150 129l2.0 0.8M46 145l-0.0 0.6M68 91l1.3 1.1M65 64l0.3 1.8M177 115l0.8 0.6M183 87l-0.8 1.2M182 61l-1.6 0.6M73 125l1.7 0.8M40 68l-0.4 0.6M169 112l-1.3 0.9M96 121l-1.1 1.4M147 26l0.6 0.7M62 23l-0.3 0.3M59 71l0.7 1.4M19 129l1.1 1.7M181 12l0.3 0.4M153 15l1.9 0.3M173 68l1.5 0.7M80 105l-0.7 0.1M183 153l-0.1 1.1M69 39l-1.4 1.3M2 22l0.1 0.9M184 99l-1.3 0.7M79 49l-0.7 0.6M12 -1l0.7 1.9M46 118l0.1 0.1M180 41l2.0 0.8M182 35l0.1 1.2M185 25l0.6 0.5M179 40l-0.8 0.4M109 20l0.8 1.0M118 35l-0.9 0.3M109 23l0.4 0.7M16 14l0.1 0.2M16 11l-0.1 0.1M103 26l-0.8 0.9M109 33l0.4 1.2M96 37l-0.2 1.2M114 33l-1.0 1.6M107 33l0.1 0.1M106 46l0.0 0.1M83 42l-0.1 0.0M90 38l-0.1 0.7M104 12l-1.9 0.1M109 7l-0.9 1.8M99 15l-1.2 1.1M92 78l0.0 1.2M5 75l-0.9 1.7M5 79l-0.2 0.3M-7 104l0.3 0.4M58 110l0.8 0.3M51 110l0.2 0.4M115 10l0.4 0.1M129 13l0.3 0.4M149 112l-1.1 0.5M182 11l-0.8 2.0M175 3l0.9 0.1M79 49l0.5 1.0M77 54l-1.2 1.4M78 49l-1.4 1.2M60 45l0.3 0.2M7 51l-0.4 0.9M28 76l-1.2 1.0M27 75l1.5 0.9M35 76l0.7 1.1M34 82l-0.6 1.2M100 33l0.0 0.1M101 31l-0.1 0.1M174 81l0.8 2.0M170 91l-0.1 0.8M202 68l0.3 1.0M82 77l1.9 0.8M91 80l0.1 0.4M2 48l0.1 0.1M12 56l-1.2 0.7M172 74l1.2 1.6M169 64l0.1 0.8M46 110l1.4 0.4M34 113l-0.6 0.8M39 107l0.9 0.9" stroke="#1414ff" stroke-width="5.0" stroke-linecap="round"/><path d="M144 25l0.2 0.1M3 113l-0.2 0.9M30 152l-0.1 0.6M1 34l-1.7 0.8M151 147l-0.9 0.8M170 153l-1.3 0.9M149 101l0.6 1.0M184 95l-1.9 0.7M158 7l-0.7 0.9M39 40l-0.5 0.4M8 66l0.9 0.0M57 140l-0.1 0.1M144 8l-0.4 0.7M177 134l1.1 1.0M36 10l1.6 0.0M176 42l0.1 0.2M183 37l-1.5 1.6M19 15l0.0 0.1M14 13l0.5 0.1M104 36l-0.1 0.2M102 31l0.0 2.1M92 72l1.5 1.6M79 37l1.5 1.4M100 17l1.1 1.5M80 64l1.5 0.5M16 71l1.6 0.3M2 115l1.2 0.7M-3 113l-1.7 0.8M7 108l1.0 1.0M187 128l-0.2 0.6M154 114l-2.1 0.4M145 116l0.1 0.3M178 16l-0.6 1.9M12 48l-0.1 0.3M29 74l-1.2 0.7M28 73l0.1 0.1M107 31l0.6 0.7M88 82l-1.4 0.2M96 80l-0.9 1.5M88 86l-0.1 0.0M6 42l0.1 0.1M20 60l0.0 0.1M179 66l-0.5 0.6M41 106l1.6 0.9" stroke="#1414ff" stroke-width="6.0" stroke-linecap="round"/>
<path d="M129 13l-0.8 0.2M171 146l-0.0 1.7M172 20l-1.2 0.8" stroke="#1c8cff" stroke-width="3.0" stroke-linecap="round"/><path d="M182 61l-1.6 0.6M181 12l0.3 0.4M176 42l0.1 0.2M109 23l0.4 0.7M110 31l0.2 1.3M106 46l0.0 0.1M92 78l0.0 1.2M-3 113l-1.7 0.8M115 10l0.4 0.1M175 3l0.9 0.1M7 51l-0.4 0.9M101 31l-0.1 0.1M172 74l1.2 1.6" stroke="#1c8cff" stroke-width="4.0" stroke-linecap="round"/><path d="M144 25l0.2 0.1M3 113l-0.2 0.9M144 8l-0.4 0.7M96 80l-0.9 1.5" stroke="#1c8cff" stroke-width="5.0" stroke-linecap="round"/>
<path d="M129 13l-0.8 0.2M144 25l0.2 0.1M3 113l-0.2 0.9M182 61l-1.6 0.6M171 146l-0.0 1.7M181 12l0.3 0.4M172 20l-1.2 0.8M144 8l-0.4 0.7M176 42l0.1 0.2M109 23l0.4 0.7M110 31l0.2 1.3M106 46l0.0 0.1M92 78l0.0 1.2M-3 113l-1.7 0.8M115 10l0.4 0.1M175 3l0.9 0.1M7 51l-0.4 0.9M101 31l-0.1 0.1M96 80l-0.9 1.5M172 74l1.2 1.6" stroke="#48ecf4" stroke-width="2.0" stroke-linecap="round"/>
<rect x="140.3" y="136.2" width="48.5" height="3.4" fill="#fff"/>
</svg>
<text x="1368.7" y="362.5" font-size="23.5" text-anchor="middle">LPS+</text>
<text x="1368.7" y="389.8" font-size="23.5" text-anchor="middle">CAR+Gly-Pro</text>
<svg x="1269.1" y="405.5" width="202.5" height="147.7" viewBox="0 0 202.5 147.7">
<rect width="202.5" height="147.7" fill="#000"/>
<path d="M145 136l1.1 0.4M193 123l0.2 0.3M55 71l-0.6 0.2M54 72l-2.1 0.1M101 62l0.2 0.3M24 38l-0.0 0.1M179 98l-0.3 0.3M170 112l0.9 1.1M87 80l0.9 0.1M123 -2l0.4 2.0M3 89l-0.8 0.3M40 30l0.8 2.0M125 116l-0.9 0.1M186 143l-0.7 0.0M173 95l0.5 1.0M172 91l-0.1 1.1M37 73l0.0 1.0M175 70l-0.1 1.1M46 -5l0.4 0.3M50 87l-0.5 0.5M46 47l0.3 0.0M41 67l0.5 0.2M115 35l1.5 1.4M131 7l-0.9 0.2M35 134l1.3 0.9M120 121l-1.4 1.1M128 130l-0.4 0.0" stroke="#1414ff" stroke-width="4.0" stroke-linecap="round"/><path d="M165 121l0.5 0.4M200 53l-0.7 0.3M70 122l-0.9 0.5M89 82l-0.3 1.0M27 28l0.2 0.3M64 134l-1.3 1.3M196 82l0.8 0.2M77 97l1.7 0.1M106 57l0.7 1.9M121 109l-0.2 1.4M11 11l0.2 0.5M112 124l-0.5 0.9M61 130l1.9 0.7M18 48l0.8 0.2M99 41l1.0 0.4M136 78l0.4 0.5M165 124l-1.0 1.5M156 2l0.1 0.3M117 82l-0.8 0.5M84 5l0.3 1.5M39 99l2.0 0.4M155 79l0.8 0.1M125 134l0.9 1.2M9 129l0.7 1.1M183 70l0.4 0.4M107 43l0.0 0.3M15 94l0.4 0.6M114 133l-0.3 0.5M122 80l0.0 0.0M135 11l-1.0 0.3M69 22l-0.2 0.3M127 116l-0.2 0.6M34 122l-0.9 1.0M168 93l2.2 0.2M175 83l-0.8 0.3M162 93l-1.8 0.9M40 68l0.8 0.3M33 72l0.1 1.6M181 19l-0.9 1.0M171 27l-0.4 0.2M52 2l0.1 0.4M40 4l-0.2 0.6M93 19l1.5 0.2M92 4l0.3 0.5M87 20l-0.1 0.0M94 12l0.2 0.0M19 67l0.0 0.1M49 99l0.5 0.7M47 96l2.0 0.0M58 93l0.3 0.5M154 30l-0.9 1.6M154 37l1.5 0.7M61 38l0.5 0.1M62 49l-0.1 0.4M16 105l-1.0 0.3M25 59l0.7 1.5M27 69l-1.6 0.1M36 65l0.8 0.9M25 62l0.2 0.3M53 79l-1.1 0.3M43 75l0.4 1.3M57 98l-0.8 1.9M48 107l-0.1 0.4M56 101l-0.1 0.0M111 41l-0.3 0.3M212 75l0.7 1.8M194 68l-1.1 0.5M118 20l0.3 1.7M127 17l0.7 1.6M142 16l-1.2 1.6M137 10l0.9 1.2M139 4l0.1 1.5M98 105l-0.3 0.1M37 134l-0.4 1.3M51 138l1.3 0.0M40 132l0.2 0.0M51 137l-0.0 0.5M41 144l1.0 1.5M30 134l-0.7 0.5M137 121l0.7 0.5" stroke="#1414ff" stroke-width="5.0" stroke-linecap="round"/><path d="M133 103l0.4 0.1M87 3l1.0 0.5M18 25l-1.9 0.7M170 144l0.4 0.0M147 73l0.6 1.8M44 42l0.3 0.4M130 7l-0.1 2.0M54 3l-0.1 0.1M174 47l-0.8 1.0M173 15l0.1 0.9M55 116l-0.1 0.2M172 49l0.5 1.9M43 128l-0.2 0.1M68 108l0.7 0.1M8 149l-0.4 0.0M16 59l1.3 0.4M102 27l-0.1 0.2M41 82l-0.8 0.9M187 83l-0.7 0.9M175 76l1.7 0.4M38 -8l-1.5 0.2M44 3l-1.0 1.0M98 3l-0.5 1.0M21 63l0.1 1.3M12 70l1.4 0.9M47 84l0.1 0.3M56 95l0.8 0.2M40 90l0.2 0.2M65 81l1.6 0.5M49 35l0.2 1.6M10 102l-0.5 1.0M11 106l0.1 0.7M59 82l-0.6 1.3M47 87l1.3 0.1M57 76l0.7 1.9M62 101l-0.4 0.6M62 103l0.8 0.1M69 101l0.0 0.0M119 45l0.7 0.5M124 42l-1.3 0.3M108 46l2.1 0.4M104 21l-0.0 0.0M111 16l-1.7 1.3M107 27l-0.4 0.2M41 46l-1.2 1.4M27 55l-0.0 0.0M37 49l2.1 0.3M98 88l-1.0 0.4M101 90l-1.5 1.6M40 140l-0.2 1.8M43 131l-0.9 1.4M42 144l1.2 0.2M35 131l-1.3 0.7" stroke="#1414ff" stroke-width="6.0" stroke-linecap="round"/>
</svg>
<svg x="1269.1" y="557.6" width="202.5" height="148.2" viewBox="0 0 202.5 148.2">
<rect width="202.5" height="148.2" fill="#000"/>
<path d="M153 78l-0.2 2.0M127 127l0.2 0.1M57 6l1.0 1.4M21 144l0.3 0.1M88 71l0.2 0.0M56 61l-1.5 1.2M132 115l-0.5 1.0M22 102l0.2 0.2M30 105l-0.7 0.2M9 139l-0.2 0.1" stroke="#20e620" stroke-width="3.0" stroke-linecap="round"/><path d="M132 8l0.3 0.3M27 42l-0.3 0.6M73 122l-0.8 0.1M116 88l-1.0 0.6M181 96l-1.0 0.4M-1 118l-0.7 1.2M85 139l-0.9 0.7M-4 77l0.7 0.2M142 149l-0.2 1.9M62 23l1.1 1.8" stroke="#20e620" stroke-width="4.0" stroke-linecap="round"/>
<path d="M197 19l-1.4 0.3M176 9l-0.3 0.6M72 131l0.1 0.9M144 80l0.8 0.9M194 74l1.8 0.8M17 131l-0.1 1.5M121 19l-0.9 0.2M84 112l-0.2 1.6M132 24l-0.5 0.0M134 31l1.2 0.5M15 137l-0.3 1.8" stroke="#0d6a0d" stroke-width="2.0" stroke-linecap="round"/><path d="M136 78l1.8 0.6M134 84l-0.3 0.5M200 14l-0.4 0.1M42 85l0.7 1.5M76 53l-0.9 0.0M35 113l0.1 0.1M36 120l-0.4 0.4" stroke="#0d6a0d" stroke-width="3.0" stroke-linecap="round"/>
</svg>
<svg x="1269.1" y="710" width="202.5" height="151.3" viewBox="0 0 202.5 151.3">
<rect width="202.5" height="151.3" fill="#020210"/>
<path d="M70 136l0.5 0.2M174 -1l0.1 0.2M99 106l-0.4 2.1M150 140l0.8 1.0M181 84l-0.1 1.5M203 90l0.4 0.1M67 13l0.3 0.1M187 5l0.3 0.5M57 50l0.4 0.2M162 41l-1.0 0.6M106 84l-0.4 1.8M73 142l-1.4 0.7M61 103l1.4 1.2M-0 139l1.5 0.6M1 86l-1.4 1.7M46 9l0.2 0.1M13 27l0.5 0.4M119 153l-0.6 1.5M92 66l-0.2 1.8M105 72l-1.8 1.2M166 33l-0.2 0.3M159 33l0.6 0.1M138 29l1.4 1.3M144 154l-0.3 0.4M160 38l0.5 0.5" stroke="#1414ff" stroke-width="4.0" stroke-linecap="round"/><path d="M94 6l1.0 0.1M184 23l0.3 0.8M110 102l-1.4 0.2M204 101l-0.0 0.0M157 38l0.0 0.0M69 93l-0.6 0.9M175 10l0.0 0.0M117 7l-0.5 1.9M8 5l-2.1 0.4M94 48l0.1 0.8M73 21l-0.1 0.3M17 134l-0.0 0.5M12 74l1.2 0.9M192 131l1.1 0.1M1 129l1.7 0.4M73 100l0.1 0.8M110 122l0.8 1.8M143 127l0.1 0.3M116 64l0.6 0.7M23 71l1.2 1.4M138 73l1.8 1.1M48 0l-1.5 0.3M68 154l1.2 0.2M22 86l0.8 0.8M84 33l-1.0 0.0M99 80l1.3 1.0M92 91l-0.4 0.8M72 84l-0.4 1.7M79 40l-0.9 0.5M54 92l-0.3 0.1M131 72l-0.7 0.4M48 89l0.8 2.1M14 25l-0.0 0.2M163 113l0.8 0.6M212 46l-0.7 0.1M192 43l0.3 0.5M202 126l0.5 0.5M191 125l-0.2 0.7M77 17l-0.6 1.9M77 11l0.3 0.8M79 9l-0.0 0.2M79 9l-1.0 0.7M136 49l0.0 0.0M145 54l1.4 0.9M138 73l-0.0 0.1M143 76l-1.8 1.0M88 141l1.7 1.4M98 138l1.3 0.5M89 152l-1.7 0.7M7 133l-0.0 0.2M4 106l-1.5 0.3M34 104l0.3 0.7M-10 138l0.5 0.6M4 152l-2.1 0.5M38 138l1.8 0.7M8 80l0.9 1.6M22 89l-0.6 0.8M8 73l-0.2 0.5M32 139l0.3 0.4M29 139l0.7 1.1M33 42l0.1 0.9M31 36l0.0 0.0M47 21l-0.4 1.6M53 10l-0.1 0.0M53 5l0.2 1.4M117 45l0.4 1.3M117 58l0.6 0.2M12 26l0.1 0.8M17 32l1.9 0.1M121 145l-1.9 0.0M134 150l-0.8 0.5M105 65l0.7 1.0M97 70l-1.2 1.4M92 70l-2.2 0.1M97 69l1.3 0.1M105 73l-0.1 0.2M113 59l1.2 1.8M149 23l0.8 0.9M77 64l-2.1 0.4M92 61l0.2 0.9M97 57l-1.7 0.1M76 62l-0.1 0.6M88 62l-1.1 1.6M84 59l-0.1 0.4M143 25l0.3 1.3M142 32l0.1 0.5M142 21l-1.6 0.7M143 149l-0.0 0.8M161 34l-0.7 1.2M170 29l-0.3 0.0M153 33l-1.4 0.2" stroke="#1414ff" stroke-width="5.0" stroke-linecap="round"/><path d="M146 7l0.9 0.4M69 80l0.8 1.2M121 73l0.3 2.2M83 55l0.7 0.4M171 68l-1.1 1.7M27 4l0.5 0.5M202 20l-0.6 0.3M171 45l-0.0 0.3M191 39l0.2 0.0M20 16l2.1 0.5M115 94l-0.4 0.7M42 94l-0.0 0.2M187 62l1.6 0.4M111 26l0.3 1.6M7 43l1.9 0.4M154 31l-1.3 0.2M118 96l-0.1 0.1M41 40l-0.8 0.8M199 47l0.2 0.1M140 79l-1.0 0.3M63 99l-2.1 0.5M59 107l-0.0 0.5M-3 135l-0.7 0.7M43 134l0.9 0.6M9 91l-1.2 1.5M16 80l0.1 0.9M9 87l0.2 0.6M19 72l-1.3 0.6M123 46l0.6 0.9M106 46l0.6 1.9M130 49l-0.1 0.1M121 54l-0.8 1.7M117 50l0.1 0.2M112 53l0.4 0.3M127 143l-0.0 1.3M136 153l0.5 1.8M123 148l0.6 0.6M154 32l1.6 0.8M81 62l-0.7 1.1M86 58l0.4 2.0M126 25l-0.5 0.3M143 22l-0.2 0.6M160 38l-0.9 0.0M163 43l-0.9 0.2" stroke="#1414ff" stroke-width="6.0" stroke-linecap="round"/>
<path d="M94 6l1.0 0.1M175 10l0.0 0.0M150 140l0.8 1.0M116 64l0.6 0.7M48 89l0.8 2.1M192 43l0.3 0.5M140 79l-1.0 0.3M34 104l0.3 0.7M1 86l-1.4 1.7M123 46l0.6 0.9M113 59l1.2 1.8M88 62l-1.1 1.6M161 34l-0.7 1.2" stroke="#1c8cff" stroke-width="4.0" stroke-linecap="round"/><path d="M42 94l-0.0 0.2M127 143l-0.0 1.3" stroke="#1c8cff" stroke-width="5.0" stroke-linecap="round"/>
<path d="M94 6l1.0 0.1M175 10l0.0 0.0M150 140l0.8 1.0M116 64l0.6 0.7M42 94l-0.0 0.2M48 89l0.8 2.1M192 43l0.3 0.5M140 79l-1.0 0.3M34 104l0.3 0.7M1 86l-1.4 1.7M123 46l0.6 0.9M127 143l-0.0 1.3M113 59l1.2 1.8M88 62l-1.1 1.6M161 34l-0.7 1.2" stroke="#48ecf4" stroke-width="2.0" stroke-linecap="round"/>
<rect x="144.3" y="136.2" width="48.5" height="3.4" fill="#fff"/>
<text x="200.9" y="131.0" font-size="19.2" text-anchor="end" fill="#fff">300 µm</text>
</svg>
<text transform="translate(39.3,491) rotate(-90)" font-size="23.2" text-anchor="middle">DAPI</text>
<text transform="translate(39.3,630.8) rotate(-90)" font-size="23.2" text-anchor="middle">TUNEL</text>
<text transform="translate(39.3,783.9) rotate(-90)" font-size="23.2" text-anchor="middle">Merge</text>
<defs><filter id="bl" x="-50%" y="-50%" width="200%" height="200%"><feGaussianBlur stdDeviation="1.6"/></filter><filter id="bl2" x="-50%" y="-50%" width="200%" height="200%"><feGaussianBlur stdDeviation="3"/></filter></defs>
<text x="24.3" y="901.7" font-size="24">D</text>
<text x="259.2" y="928.2" font-size="23.6" text-anchor="middle">Control</text>
<g transform="translate(142,940)">
<svg width="235.7" height="235.5" overflow="hidden">
<path d="M94 181 92 181 88 181 86 180 84 180 82 179 80 178 79 176 78 174 78 171 79 168 80 166 80 164 81 162 82 160 83 158 84 156 85 154 86 152 87 150 88 148 90 146 91 144 92 142 94 141 95 140 96 138 98 136 100 135 101 134 102 132 104 130 106 129 107 128 109 126 110 125 112 124 114 122 116 121 117 120 118 118 120 116 122 115 122 113 123 110 122 108 122 106 121 104 120 101 120 98 120 96 120 92 120 90 121 88 122 86 123 84 124 82 125 80 126 78 126 75 124 73 124 71 122 70 121 68 120 66 119 64 119 60 120 58 121 56 122 55 124 54 126 52 128 52 130 51 133 50 136 50 138 50 141 50 144 51 146 52 148 52 150 53 152 54 154 55 157 56 159 56 162 57 164 58 166 59 168 60 170 60 172 62 174 62 175 64 176 66 177 68 176 71 176 74 174 75 174 77 172 78 170 80 169 82 168 83 166 84 164 86 162 87 161 88 160 90 158 92 157 94 156 96 155 98 154 100 154 102 154 106 154 108 156 110 157 112 158 113 160 114 162 116 162 118 164 120 166 121 166 123 167 126 167 128 166 131 166 133 164 135 163 136 162 138 160 140 158 141 157 142 156 144 154 146 152 147 151 148 150 150 148 152 146 153 145 154 144 156 142 158 140 159 138 160 137 162 136 163 134 164 132 166 130 166 128 168 126 169 124 170 122 171 120 172 118 173 116 174 114 175 112 176 110 177 108 178 106 178 104 179 101 180 98 180 96 180Z" fill="#3030ff" fill-opacity="0.16"/><path d="M140 67 136 67 134 66 132 66 130 64 129 62 128 61 130 59 131 58 134 57 136 57 139 58 141 58 142 60 143 62 142 65 140 66ZM136 97 135 96 136 93 138 94 138 96ZM106 174 104 174 100 174 98 174 94 174 92 173 90 172 89 170 88 168 87 166 87 164 88 161 88 158 89 156 90 154 90 152 92 150 93 148 94 146 95 144 96 143 98 142 99 140 100 138 102 136 104 135 105 134 106 132 108 130 110 130 112 128 114 127 115 126 117 124 118 123 120 122 122 121 124 120 126 118 128 118 130 116 132 116 134 114 136 114 138 113 140 114 144 114 146 115 148 116 150 117 151 118 153 120 154 122 155 124 156 126 156 128 156 132 156 134 154 136 154 138 152 140 152 142 150 144 149 146 148 147 146 148 144 150 143 152 142 153 140 154 138 156 137 158 136 159 134 160 132 162 130 163 128 164 126 165 124 166 122 167 121 168 118 169 116 170 114 171 112 172 110 173 108 173Z" fill="#2020ff" fill-opacity="0.3"/><path d="M110 170 106 170 104 170 100 170 98 170 96 168 94 167 93 166 92 163 92 160 92 158 93 156 94 154 95 152 96 150 97 148 98 146 99 144 100 142 102 140 103 138 104 137 106 136 108 134 110 133 111 132 112 130 114 129 116 128 118 126 120 126 122 124 124 123 126 122 128 121 130 120 132 120 134 119 138 119 140 119 142 120 145 120 147 122 148 123 150 124 151 126 151 130 151 132 150 135 150 138 149 140 148 142 146 143 146 145 144 146 143 148 142 150 140 152 138 153 137 154 136 156 134 157 132 158 130 160 128 161 126 162 125 164 123 164 121 166 119 166 116 167 114 168 112 169 110 170Z" fill="#0040ff"/><path d="M110 167 106 167 104 167 102 166 100 165 98 164 97 162 96 160 96 156 97 154 98 152 98 150 100 148 100 146 102 144 103 142 104 140 106 139 107 138 108 136 110 134 112 134 114 132 116 131 117 130 119 128 120 127 122 126 124 125 127 124 130 124 132 123 134 122 136 122 138 123 142 123 144 124 145 126 146 128 147 130 147 132 147 136 146 138 146 140 144 142 144 144 142 146 141 148 140 149 138 150 136 152 135 154 134 155 132 156 130 158 128 159 126 160 124 161 122 162 120 163 118 164 116 165 114 166 112 166 110 167Z" fill="#0088ff"/><path d="M112 164 110 164 106 164 104 163 102 162 101 160 100 158 100 156 100 152 101 150 102 148 103 146 104 144 105 142 106 141 108 140 110 138 111 136 112 135 114 134 116 132 118 131 120 130 122 129 124 128 126 127 128 126 130 126 132 125 136 125 138 126 140 126 142 128 143 130 144 132 144 134 144 138 143 140 142 142 141 144 140 146 138 147 137 148 136 150 134 152 132 153 131 154 130 156 128 157 126 158 124 159 122 160 120 161 118 162 116 163 113 164Z" fill="#00c8f8"/><path d="M114 161 110 161 108 160 106 160 104 158 104 156 103 154 104 152 104 149 106 147 106 145 108 144 109 142 110 140 112 138 114 137 115 136 117 134 118 133 120 132 122 131 124 130 126 129 130 129 132 128 134 128 136 129 138 130 140 132 140 134 141 136 140 138 140 141 138 143 137 144 136 146 134 148 133 150 132 151 130 152 128 154 126 155 124 156 123 158 120 158 118 159 116 160 114 160Z" fill="#00e8c8"/><path d="M114 158 112 158 110 157 108 156 107 154 107 150 108 148 109 146 110 144 111 142 112 141 114 140 116 138 118 137 119 136 121 134 123 134 125 132 128 132 130 131 132 132 134 132 136 134 137 136 137 138 136 141 136 143 134 145 133 146 132 148 130 150 128 151 127 152 125 154 123 154 122 156 119 156 116 157 114 158Z" fill="#20e860"/><path d="M120 154 116 154 114 154 112 153 111 150 111 148 112 146 113 144 114 142 116 140 118 139 120 138 122 137 124 136 126 135 128 134 130 134 132 136 134 137 134 140 133 142 132 144 131 146 130 147 128 148 126 150 124 151 123 152 120 153Z" fill="#90f000"/><path d="M120 152 116 152 114 151 114 148 114 146 116 144 117 142 118 141 120 140 122 138 124 138 126 137 129 138 130 139 131 142 130 144 128 145 128 147 126 148 124 150 122 150 120 152Z" fill="#fff000"/><path d="M120 150 118 149 116 148 117 146 118 144 120 142 122 141 124 140 126 139 128 140 128 142 127 144 126 146 124 148 122 148 120 150Z" fill="#ff8000"/><path d="M122 148 118 148 118 146 119 144 121 142 122 141 126 141 126 144 125 146 124 147 122 148Z" fill="#f01000"/><g transform="scale(1.2)" stroke-width="1"><path d="M181 11h1m-52 1h1m6 2h1m45 2h1m-22 2h1m-26 1h1m1 0h1m-4 2h1m22 0h1m30 0h1m-65 1h1m1 0h1m22 0h1m-29 1h1m19 0h1m-19 1h1m31 0h1m-15 1h1m3 0h1m4 0h1m6 0h1m-10 1h1m12 0h1m21 0h1m-57 1h1m7 0h1m12 0h1m15 0h1m6 0h1m-80 1h1m4 0h1m27 0h1m11 0h1m2 0h1m6 0h1m16 0h1m27 0h1m-90 1h1m11 0h1m23 0h1m1 0h1m6 0h1m8 0h1m-92 1h1m26 0h1m25 0h1m9 0h2m3 0h1m5 0h1m9 0h1m3 0h2m-59 1h1m33 0h1m10 0h1m18 0h1m15 0h1m-64 1h1m11 0h1m13 0h1m4 0h1m4 0h1m7 0h1m6 0h1m-62 1h1m5 0h1m11 0h1m3 0h1m2 0h1m4 0h1m4 0h1m6 0h1m19 0h1m-55 1h2m2 0h1m11 0h1m7 0h1m21 0h1m11 0h2m-60 1h1m4 0h1m4 0h1m2 0h1m2 0h1m18 0h1m2 0h2m9 0h1m-112 1h1m44 0h1m9 0h1m10 0h1m2 0h1m2 0h2m2 0h1m1 0h2m2 0h1m9 0h1m3 0h1m3 0h2m4 0h1m5 0h1m2 0h1m-79 1h1m25 0h1m1 0h1m4 0h1m8 0h1m4 0h1m10 0h1m26 0h1m-125 1h1m45 0h1m2 0h2m14 0h1m6 0h1m11 0h1m11 0h1m3 0h1m6 0h1m-59 1h1m11 0h1m10 0h1m9 0h1m6 0h1m2 0h1m6 0h1m1 0h1m8 0h1m4 0h2m8 0h1m11 0h1m7 0h1m-105 1h1m5 0h2m2 0h1m3 0h1m3 0h1m2 0h1m2 0h1m1 0h2m3 0h1m2 0h1m2 0h1m3 0h1m8 0h1m5 0h2m1 0h1m3 0h1m17 0h1m1 0h1m-84 1h1m12 0h1m2 0h2m3 0h1m2 0h1m1 0h1m3 0h2m8 0h1m1 0h1m14 0h1m2 0h1m1 0h1m4 0h1m1 0h1m1 0h1m4 0h1m11 0h2m1 0h1m-92 1h1m11 0h1m1 0h1m6 0h1m1 0h2m1 0h1m10 0h1m6 0h1m3 0h2m1 0h1m2 0h1m1 0h1m1 0h2m15 0h1m1 0h1m12 0h2m-88 1h1m3 0h1m14 0h2m4 0h1m1 0h1m1 0h1m1 0h1m1 0h1m2 0h1m4 0h1m7 0h1m3 0h1m11 0h1m7 0h1m1 0h1m4 0h2m17 0h1m-88 1h3m2 0h2m8 0h1m5 0h1m1 0h1m2 0h1m10 0h1m4 0h2m8 0h1m1 0h1m12 0h1m12 0h1m-96 1h1m5 0h1m4 0h1m3 0h2m1 0h1m10 0h1m1 0h2m3 0h1m4 0h2m2 0h2m7 0h1m1 0h1m1 0h1m5 0h1m3 0h1m3 0h1m2 0h1m6 0h1m-82 1h1m7 0h2m3 0h1m2 0h1m1 0h1m1 0h2m2 0h1m3 0h3m1 0h2m2 0h1m3 0h1m2 0h2m2 0h2m1 0h2m4 0h1m6 0h1m4 0h1m7 0h1m8 0h1m-85 1h1m1 0h2m3 0h2m4 0h2m2 0h1m1 0h1m1 0h1m5 0h1m7 0h2m3 0h1m1 0h1m1 0h1m3 0h2m1 0h1m2 0h1m1 0h1m6 0h1m1 0h1m1 0h1m13 0h1m8 0h1m1 0h1m-89 1h1m7 0h4m1 0h1m2 0h1m1 0h3m1 0h1m1 0h1m5 0h3m4 0h1m3 0h1m2 0h1m3 0h1m1 0h1m4 0h1m4 0h1m3 0h2m1 0h1m17 0h1m1 0h1m-101 1h1m12 0h1m3 0h1m1 0h2m1 0h4m1 0h5m4 0h1m1 0h1m7 0h2m2 0h1m1 0h1m2 0h2m2 0h1m5 0h1m1 0h1m1 0h2m1 0h1m6 0h1m2 0h1m1 0h1m10 0h1m6 0h1m-151 1h1m55 0h1m2 0h3m6 0h3m2 0h6m1 0h2m4 0h4m5 0h1m3 0h1m12 0h1m1 0h1m3 0h1m2 0h1m9 0h1m1 0h1m-82 1h1m5 0h2m4 0h1m3 0h1m2 0h1m3 0h1m1 0h6m2 0h1m1 0h3m1 0h1m4 0h1m1 0h1m2 0h1m1 0h1m3 0h1m2 0h1m9 0h1m1 0h1m-66 1h1m3 0h1m5 0h3m1 0h2m3 0h1m1 0h1m4 0h1m1 0h1m1 0h2m6 0h1m2 0h1m6 0h1m2 0h1m3 0h2m1 0h1m7 0h1m3 0h1m5 0h1m1 0h1m-92 1h1m14 0h1m1 0h2m2 0h2m1 0h4m2 0h2m1 0h1m1 0h2m2 0h1m1 0h1m3 0h2m2 0h1m4 0h1m1 0h1m2 0h2m4 0h1m12 0h1m4 0h1m21 0h1m-109 1h1m10 0h1m5 0h1m2 0h1m4 0h1m1 0h2m1 0h4m1 0h3m3 0h1m1 0h2m4 0h3m1 0h1m3 0h1m6 0h3m1 0h2m4 0h1m5 0h1m2 0h1m2 0h1m8 0h1m16 0h1m-95 1h2m1 0h1m3 0h1m1 0h2m2 0h1m2 0h2m5 0h1m1 0h2m1 0h2m1 0h1m1 0h1m1 0h3m1 0h2m1 0h1m1 0h1m1 0h1m1 0h1m5 0h1m2 0h1m34 0h1m-94 1h1m4 0h2m4 0h4m3 0h3m2 0h1m1 0h3m3 0h3m2 0h1m1 0h2m4 0h1m1 0h2m2 0h1m2 0h1m1 0h1m4 0h1m6 0h1m5 0h1m3 0h1m6 0h1m-81 1h1m8 0h1m1 0h1m4 0h1m2 0h2m2 0h3m1 0h1m3 0h4m1 0h3m6 0h1m1 0h1m4 0h2m6 0h1m3 0h1m12 0h1m2 0h1m-93 1h1m2 0h1m5 0h1m2 0h1m3 0h1m4 0h2m2 0h3m4 0h1m6 0h1m1 0h2m3 0h1m6 0h2m2 0h1m4 0h1m2 0h1m18 0h1m-85 1h1m8 0h1m1 0h1m3 0h1m3 0h1m2 0h1m3 0h1m2 0h5m4 0h1m3 0h1m1 0h1m5 0h1m4 0h1m4 0h1m6 0h1m4 0h1m8 0h1m4 0h1m-72 1h3m1 0h2m2 0h2m2 0h1m1 0h1m2 0h1m3 0h1m1 0h1m3 0h1m1 0h1m1 0h1m1 0h1m1 0h1m1 0h1m7 0h1m2 0h1m1 0h1m3 0h1m2 0h1m1 0h1m-67 1h1m1 0h1m4 0h2m1 0h1m3 0h1m2 0h2m1 0h1m6 0h2m9 0h1m5 0h1m8 0h1m1 0h1m2 0h1m2 0h1m-56 1h1m2 0h1m5 0h2m2 0h1m1 0h4m5 0h7m2 0h2m1 0h1m4 0h1m2 0h1m2 0h1m1 0h1m2 0h1m4 0h1m2 0h1m5 0h1m2 0h1m2 0h1m-82 1h3m3 0h1m1 0h1m4 0h1m2 0h3m3 0h7m1 0h1m1 0h1m3 0h1m4 0h1m1 0h1m9 0h1m3 0h1m1 0h1m1 0h2m3 0h1m-66 1h1m6 0h1m3 0h1m5 0h1m2 0h1m2 0h1m2 0h1m1 0h1m1 0h1m3 0h1m3 0h1m2 0h1m2 0h2m3 0h1m3 0h2m11 0h1m6 0h1m4 0h1m11 0h1m1 0h1m-86 1h1m1 0h1m6 0h1m2 0h1m1 0h2m4 0h1m2 0h1m2 0h1m1 0h1m1 0h1m2 0h2m1 0h1m2 0h1m1 0h1m4 0h2m5 0h1m2 0h1m9 0h1m12 0h1m-164 1h1m67 0h2m7 0h1m2 0h1m4 0h3m4 0h5m1 0h1m2 0h1m3 0h4m8 0h1m3 0h1m1 0h4m2 0h1m1 0h2m3 0h1m2 0h2m17 0h1m6 0h1m-88 1h3m2 0h1m2 0h1m3 0h1m3 0h1m1 0h1m1 0h2m2 0h2m2 0h2m3 0h2m6 0h1m4 0h1m3 0h2m8 0h1m6 0h1m4 0h1m1 0h2m4 0h1m3 0h1m13 0h1m-109 1h1m14 0h1m4 0h1m2 0h1m2 0h1m2 0h1m2 0h1m2 0h1m1 0h1m2 0h1m1 0h2m3 0h1m1 0h2m5 0h1m11 0h1m4 0h1m1 0h1m2 0h1m-55 1h4m3 0h1m1 0h1m8 0h1m2 0h3m3 0h1m10 0h3m2 0h1m5 0h1m3 0h1m7 0h1m-104 1h1m13 0h1m9 0h1m1 0h1m8 0h1m5 0h2m4 0h2m4 0h1m1 0h1m6 0h1m3 0h1m4 0h1m5 0h1m1 0h1m1 0h1m3 0h1m4 0h1m4 0h1m-104 1h1m13 0h1m11 0h1m17 0h3m3 0h4m2 0h2m2 0h2m1 0h1m10 0h1m4 0h1m7 0h2m11 0h1m1 0h1m22 0h1m-97 1h1m11 0h1m2 0h1m1 0h2m2 0h1m1 0h1m1 0h1m1 0h2m3 0h3m5 0h1m2 0h1m2 0h2m3 0h2m2 0h2m7 0h1m6 0h1m6 0h1m2 0h1m3 0h1m-72 1h4m1 0h1m1 0h2m2 0h1m2 0h1m2 0h1m2 0h3m2 0h1m4 0h1m2 0h1m4 0h2m3 0h1m2 0h3m20 0h1m12 0h1m-84 1h2m1 0h1m2 0h6m5 0h2m1 0h2m7 0h4m2 0h1m2 0h1m5 0h2m5 0h1m2 0h1m3 0h1m1 0h1m6 0h1m1 0h1m-82 1h1m1 0h1m2 0h1m3 0h1m3 0h2m7 0h3m2 0h2m5 0h2m3 0h3m1 0h1m3 0h1m3 0h1m9 0h1m3 0h1m3 0h1m10 0h1m17 0h1m-97 1h2m4 0h2m1 0h4m1 0h2m2 0h1m2 0h2m2 0h2m2 0h1m2 0h1m3 0h2m5 0h1m11 0h1m6 0h1m1 0h2m3 0h1m-69 1h1m4 0h1m3 0h1m2 0h2m4 0h2m2 0h1m1 0h3m1 0h1m1 0h3m5 0h1m2 0h1m2 0h2m1 0h2m2 0h1m1 0h1m5 0h1m9 0h1m7 0h1m8 0h1m3 0h1m-91 1h1m2 0h1m1 0h1m3 0h1m1 0h1m5 0h1m7 0h3m3 0h2m4 0h1m2 0h2m2 0h1m6 0h1m10 0h1m12 0h1m-72 1h2m1 0h1m1 0h1m1 0h1m3 0h2m4 0h1m3 0h1m3 0h1m3 0h1m5 0h4m30 0h1m4 0h1m-136 1h1m55 0h1m4 0h2m6 0h5m2 0h4m2 0h1m2 0h1m2 0h1m3 0h1m1 0h2m15 0h3m6 0h1m12 0h1m17 0h1m-117 1h1m26 0h1m4 0h1m3 0h2m7 0h1m1 0h1m1 0h1m2 0h1m5 0h1m6 0h1m5 0h1m1 0h1m6 0h1m3 0h1m-70 1h1m15 0h1m1 0h3m1 0h2m4 0h3m1 0h1m1 0h1m1 0h1m2 0h1m19 0h1m9 0h1m10 0h1m-68 1h1m1 0h1m3 0h1m2 0h3m1 0h1m1 0h3m1 0h1m1 0h2m4 0h2m5 0h1m3 0h1m1 0h1m3 0h1m5 0h1m3 0h1m17 0h1m-79 1h1m5 0h2m4 0h1m6 0h2m2 0h2m3 0h2m4 0h2m1 0h1m1 0h1m8 0h2m7 0h1m12 0h1m-57 1h2m1 0h1m1 0h2m1 0h1m1 0h1m3 0h1m1 0h2m2 0h2m5 0h1m8 0h1m5 0h1m10 0h1m-62 1h1m4 0h1m2 0h2m2 0h2m1 0h1m6 0h1m6 0h2m1 0h1m1 0h1m4 0h1m3 0h1m3 0h1m14 0h1m1 0h1m4 0h1m3 0h1m-92 1h1m12 0h1m16 0h4m2 0h3m1 0h1m7 0h2m4 0h1m1 0h1m4 0h1m1 0h1m1 0h1m8 0h1m6 0h1m-73 1h1m13 0h1m3 0h1m4 0h4m4 0h1m1 0h2m1 0h1m1 0h1m1 0h1m1 0h1m8 0h1m8 0h1m2 0h1m-94 1h1m43 0h3m1 0h2m1 0h2m2 0h1m1 0h1m1 0h1m3 0h1m2 0h3m1 0h1m1 0h1m2 0h1m3 0h2m-44 1h1m5 0h1m2 0h1m1 0h2m2 0h1m1 0h1m1 0h3m4 0h1m4 0h1m2 0h2m4 0h3m3 0h1m1 0h1m20 0h1m-93 1h1m12 0h1m10 0h1m1 0h2m3 0h2m5 0h2m1 0h2m5 0h1m9 0h2m2 0h2m10 0h1m4 0h1m2 0h1m16 0h1m-76 1h1m3 0h1m5 0h3m1 0h1m1 0h1m1 0h1m1 0h1m3 0h1m4 0h1m2 0h1m2 0h2m2 0h1m4 0h1m4 0h1m2 0h1m1 0h1m5 0h1m2 0h1m2 0h1m-114 1h1m42 0h1m1 0h1m6 0h1m1 0h4m1 0h1m6 0h1m1 0h1m2 0h1m1 0h1m1 0h6m6 0h1m6 0h2m2 0h1m6 0h1m4 0h1m15 0h1m-166 1h1m69 0h1m6 0h1m9 0h1m3 0h1m5 0h1m1 0h2m3 0h1m3 0h1m1 0h1m1 0h1m5 0h1m1 0h1m3 0h1m4 0h1m2 0h1m17 0h1m-63 1h2m1 0h2m3 0h2m6 0h3m1 0h1m1 0h1m1 0h1m1 0h2m1 0h2m3 0h3m3 0h1m1 0h1m1 0h1m2 0h1m5 0h2m-66 1h1m7 0h1m1 0h1m10 0h4m3 0h1m1 0h1m1 0h1m1 0h1m1 0h2m5 0h1m3 0h1m2 0h2m4 0h1m2 0h2m8 0h1m1 0h1m2 0h1m-91 1h1m23 0h1m5 0h2m3 0h1m2 0h3m2 0h2m1 0h2m1 0h7m2 0h2m3 0h1m1 0h2m5 0h2m10 0h2m7 0h1m-88 1h1m14 0h2m5 0h1m1 0h1m1 0h1m1 0h1m3 0h1m1 0h3m1 0h1m2 0h2m2 0h1m4 0h1m1 0h1m2 0h1m2 0h1m3 0h1m7 0h1m8 0h1m2 0h1m-87 1h1m27 0h1m3 0h1m2 0h1m1 0h2m4 0h2m4 0h1m2 0h2m1 0h3m1 0h2m2 0h1m1 0h1m1 0h1m8 0h1m6 0h2m5 0h1m19 0h1m-110 1h1m14 0h1m7 0h3m1 0h1m1 0h1m2 0h3m13 0h2m5 0h2m2 0h3m2 0h1m11 0h1m2 0h1m7 0h1m17 0h1m-91 1h1m6 0h1m2 0h6m17 0h3m1 0h4m1 0h2m2 0h1m1 0h1m2 0h2m9 0h1m7 0h1m3 0h1m9 0h1m-88 1h1m8 0h1m3 0h1m2 0h2m19 0h1m1 0h3m1 0h1m4 0h3m5 0h1m5 0h1m5 0h1m-71 1h1m6 0h2m1 0h1m1 0h2m2 0h1m26 0h3m6 0h2m2 0h1m5 0h1m4 0h1m2 0h1m2 0h1m-72 1h2m6 0h1m1 0h2m1 0h1m24 0h1m2 0h2m6 0h4m3 0h1m2 0h1m2 0h1m14 0h3m-77 1h1m2 0h2m2 0h2m29 0h1m2 0h2m1 0h1m4 0h1m11 0h1m6 0h2m-77 1h1m11 0h2m1 0h1m28 0h1m3 0h2m1 0h1m6 0h1m1 0h1m1 0h2m1 0h1m6 0h2m1 0h1m1 0h1m-88 1h1m19 0h1m3 0h1m30 0h3m2 0h1m3 0h2m2 0h1m3 0h2m1 0h1m1 0h1m2 0h1m8 0h1m20 0h1m-106 1h1m2 0h1m3 0h1m4 0h3m37 0h1m2 0h2m1 0h1m3 0h1m7 0h1m1 0h1m2 0h1m2 0h1m2 0h1m13 0h1m1 0h1m-101 1h1m11 0h1m42 0h1m3 0h5m1 0h1m1 0h2m1 0h1m1 0h1m2 0h2m4 0h2m3 0h1m-105 1h1m14 0h2m2 0h1m12 0h1m2 0h1m34 0h1m1 0h2m1 0h2m3 0h1m2 0h1m2 0h2m-69 1h1m10 0h1m1 0h1m1 0h2m38 0h2m2 0h2m2 0h3m4 0h4m5 0h2m-84 1h1m9 0h2m2 0h1m3 0h1m40 0h1m1 0h2m8 0h1m43 0h1m-113 1h1m5 0h1m2 0h1m1 0h2m37 0h5m2 0h1m8 0h3m3 0h1m10 0h1m1 0h1m-82 1h3m1 0h2m1 0h1m1 0h1m36 0h1m2 0h2m5 0h1m1 0h1m7 0h1m2 0h1m3 0h2m-74 1h1m2 0h1m2 0h1m38 0h3m2 0h2m2 0h1m2 0h2m3 0h1m2 0h1m9 0h2m13 0h1m-101 1h1m6 0h5m1 0h3m39 0h1m1 0h1m3 0h1m3 0h1m9 0h2m20 0h1m-99 1h1m6 0h1m1 0h1m1 0h5m39 0h3m3 0h1m1 0h2m5 0h2m19 0h1m-94 1h1m7 0h1m2 0h1m4 0h1m1 0h1m37 0h1m1 0h1m2 0h1m2 0h2m2 0h2m3 0h1m13 0h1m-79 1h1m2 0h2m42 0h1m1 0h3m1 0h2m6 0h1m3 0h1m2 0h1m-67 1h4m40 0h2m4 0h2m2 0h1m8 0h1m15 0h1m-86 1h1m4 0h1m1 0h1m1 0h2m38 0h1m2 0h1m4 0h2m2 0h1m6 0h1m5 0h1m10 0h1m9 0h1m-116 1h1m13 0h1m2 0h2m1 0h1m2 0h1m46 0h2m1 0h2m1 0h1m3 0h1m1 0h1m6 0h1m-74 1h1m6 0h1m3 0h1m39 0h1m1 0h2m2 0h1m3 0h1m12 0h1m7 0h1m16 0h1m-96 1h1m1 0h1m4 0h1m38 0h2m2 0h1m3 0h1m1 0h1m1 0h1m4 0h1m3 0h1m3 0h1m4 0h1m-93 1h1m16 0h1m3 0h2m41 0h1m5 0h2m1 0h1m4 0h1m5 0h1m-91 1h1m5 0h1m16 0h1m1 0h1m41 0h2m1 0h1m3 0h2m3 0h1m15 0h1m-86 1h1m3 0h1m2 0h1m1 0h1m1 0h1m1 0h2m2 0h1m39 0h1m3 0h1m1 0h3m15 0h2m2 0h1m-87 1h1m14 0h1m1 0h1m38 0h1m1 0h1m4 0h1m7 0h1m2 0h1m2 0h1m6 0h1m5 0h1m-87 1h1m6 0h1m1 0h1m2 0h1m38 0h1m1 0h3m7 0h1m5 0h1m13 0h1m-86 1h1m2 0h1m1 0h1m1 0h1m4 0h2m40 0h2m2 0h1m5 0h1m1 0h1m-66 1h1m3 0h1m1 0h1m6 0h2m38 0h2m1 0h1m1 0h1m8 0h1m8 0h1m25 0h1m-103 1h1m5 0h1m44 0h1m2 0h1m1 0h1m3 0h1m3 0h1m-71 1h1m2 0h1m5 0h1m2 0h1m5 0h3m35 0h1m2 0h1m1 0h2m6 0h1m7 0h1m11 0h1m-92 1h1m7 0h1m6 0h4m2 0h3m30 0h1m2 0h1m4 0h1m5 0h1m-63 1h2m3 0h1m4 0h1m1 0h1m1 0h1m1 0h1m30 0h1m12 0h1m3 0h1m14 0h1m10 0h1m-94 1h1m5 0h2m1 0h1m1 0h1m1 0h1m1 0h2m1 0h1m1 0h1m28 0h1m3 0h2m2 0h1m8 0h1m6 0h1m11 0h1m-85 1h2m2 0h2m7 0h1m2 0h1m2 0h1m26 0h1m2 0h1m1 0h1m8 0h1m2 0h1m11 0h1m4 0h1m-81 1h1m2 0h1m3 0h1m3 0h1m1 0h1m1 0h1m2 0h1m23 0h3m2 0h1m2 0h1m1 0h2m2 0h1m7 0h1m-74 1h1m12 0h1m2 0h2m5 0h1m1 0h2m3 0h1m19 0h1m1 0h1m4 0h1m17 0h1m13 0h1m42 0h1m-125 1h1m5 0h2m3 0h1m3 0h2m1 0h2m1 0h1m17 0h2m1 0h3m3 0h1m1 0h1m6 0h1m4 0h1m10 0h1m21 0h1m-107 1h1m2 0h1m4 0h1m1 0h1m6 0h1m3 0h1m1 0h3m2 0h1m1 0h1m17 0h1m2 0h1m6 0h1m2 0h1m-61 1h1m2 0h1m5 0h2m2 0h1m4 0h1m1 0h3m1 0h1m6 0h1m4 0h4m3 0h2m1 0h1m1 0h2m7 0h1m-67 1h1m8 0h1m6 0h1m10 0h1m1 0h1m1 0h1m2 0h1m1 0h1m1 0h2m3 0h3m1 0h2m1 0h1m1 0h3m1 0h1m2 0h2m6 0h2m10 0h1m24 0h1m-87 1h1m1 0h1m4 0h1m1 0h1m5 0h1m3 0h1m1 0h1m2 0h1m2 0h2m1 0h1m3 0h1m5 0h1m1 0h1m5 0h1m-70 1h1m23 0h1m2 0h1m2 0h1m1 0h1m6 0h2m3 0h2m1 0h1m9 0h1m3 0h2m1 0h5m2 0h1m38 0h1m-89 1h1m3 0h1m1 0h1m6 0h1m5 0h1m6 0h1m2 0h2m2 0h1m5 0h1m9 0h1m8 0h1m-69 1h1m6 0h1m3 0h1m9 0h1m1 0h1m1 0h1m4 0h3m1 0h2m3 0h3m3 0h3m-45 1h1m7 0h1m6 0h1m2 0h2m3 0h1m1 0h1m1 0h1m4 0h1m2 0h3m1 0h1m3 0h1m7 0h1m-53 1h1m3 0h2m3 0h1m26 0h1m5 0h1m2 0h1m1 0h1m2 0h1m23 0h1m5 0h1m-88 1h2m3 0h4m21 0h1m2 0h1m1 0h2m2 0h1m1 0h1m22 0h1m8 0h1m-82 1h1m5 0h1m11 0h2m3 0h1m6 0h1m10 0h3m4 0h1m3 0h1m6 0h1m25 0h1m-69 1h1m3 0h1m4 0h1m5 0h1m2 0h2m1 0h1m2 0h1m4 0h1m5 0h1m20 0h1m-59 1h1m2 0h1m21 0h2m6 0h1m7 0h1m5 0h1m1 0h1m4 0h2m-50 1h1m2 0h1m3 0h1m2 0h1m5 0h2m2 0h1m10 0h1m7 0h1m3 0h1m1 0h2m-63 1h1m16 0h1m1 0h2m1 0h1m6 0h1m3 0h1m11 0h1m14 0h1m-77 1h1m34 0h1m3 0h2m4 0h1m20 0h1m1 0h1m6 0h2m-60 1h1m5 0h1m8 0h2m7 0h1m4 0h1m2 0h1m4 0h1m2 0h1m1 0h2m39 0h1m-87 1h1m12 0h1m7 0h1m4 0h2m5 0h1m19 0h1m9 0h1m22 0h1m-82 1h1m6 0h1m1 0h1m13 0h2m7 0h1m5 0h1m1 0h1m7 0h1m-57 1h1m12 0h1m19 0h2m2 0h1m3 0h1m7 0h1m-44 1h1m4 0h1m11 0h1m4 0h1m7 0h1m-34 1h1m8 0h1m20 0h1m103 0h1m-133 1h1m13 0h1m15 0h1m8 0h1m4 0h1m10 0h1m-9 1h1m-35 1h1m7 0h1m4 0h3m-32 1h1m15 0h1m11 0h1m8 0h1m-19 1h1m2 0h1m28 0h1m-51 1h1m6 0h1m20 0h1m22 0h1m-65 2h1m21 0h1m27 0h1m-34 1h1m3 0h1m8 0h1m62 0h1m-84 1h1m29 0h1m-17 1h1m31 0h1m-2 1h1m42 0h1m-93 4h1m145 2h1m-159 1h1m56 0h1m106 0h1m-170 1h1m174 5h1m-169 1h1m10 3h1m40 2h1m22 0h1m-48 1h1m12 0h1m14 0h1m2 0h1m16 0h1m19 0h1m3 0h1m-64 1h1m8 0h1m6 0h1m2 0h1m10 0h1m8 0h1m28 0h1" stroke="#1a1aff"/><path d="M113 99h2m2 0h1m-9 1h2m1 0h2m2 0h1m1 0h1m-12 1h1m1 0h6m1 0h5m-16 1h2m1 0h5m2 0h2m2 0h1m1 0h2m-21 1h1m1 0h4m2 0h1m8 0h1m1 0h3m-24 1h1m1 0h3m17 0h1m1 0h1m-26 1h1m22 0h3m-27 1h4m20 0h3m-28 1h3m23 0h1m1 0h1m-31 1h2m1 0h1m24 0h3m-32 1h2m-2 1h1m28 0h3m-33 1h1m29 0h3m-36 1h2m32 0h1m-36 1h3m32 0h2m-38 1h3m32 0h2m-38 1h3m32 0h3m-39 1h3m33 0h3m-40 1h4m33 0h2m-38 1h2m33 0h2m-39 1h2m34 0h3m-40 1h3m34 0h2m-40 1h1m1 0h1m34 0h1m1 0h1m-41 1h3m34 0h3m-39 1h1m36 0h1m-38 1h1m33 0h3m-38 1h2m34 0h1m-4 1h1m1 0h1m-38 1h2m32 0h3m1 0h1m-40 1h4m31 0h2m-37 1h2m1 0h1m29 0h1m1 0h2m-4 1h2m-35 1h2m29 0h2m-33 1h3m-4 1h1m1 0h2m24 0h4m-31 1h2m27 0h2m-33 1h1m1 0h3m22 0h1m1 0h1m-29 1h1m2 0h2m18 0h1m1 0h1m-24 1h3m16 0h1m1 0h3m-25 1h2m1 0h2m1 0h2m9 0h2m3 0h1m-22 1h2m1 0h1m1 0h1m1 0h5m1 0h2m1 0h1m3 0h1m-20 1h1m1 0h2m1 0h3m1 0h2m3 0h2m-14 1h1m1 0h1m3 0h3m1 0h2" stroke="#0040ff"/><path d="M111 102h2m1 0h1m-6 1h9m-14 1h4m1 0h1m1 0h3m2 0h4m-17 1h7m6 0h1m2 0h3m-21 1h5m14 0h3m-24 1h2m2 0h1m15 0h3m-24 1h4m18 0h4m-27 1h3m20 0h4m-29 1h2m23 0h2m1 0h1m-31 1h2m26 0h1m1 0h1m-31 1h2m26 0h3m-32 1h1m28 0h2m-32 1h2m27 0h1m1 0h1m-34 1h3m29 0h2m-35 1h2m29 0h3m-34 1h1m30 0h1m1 0h1m-34 1h1m29 0h3m-34 1h1m30 0h2m-35 1h3m30 0h2m-35 1h2m-3 1h2m30 0h3m-36 1h2m32 0h1m-34 1h1m29 0h1m1 0h1m-34 1h2m-2 1h1m29 0h1m-33 1h2m1 0h1m27 0h2m-33 1h2m28 0h1m-30 1h1m25 0h2m-30 1h4m23 0h4m-31 1h4m22 0h1m-26 1h3m21 0h1m1 0h1m-27 1h3m18 0h1m1 0h1m-25 1h3m1 0h1m16 0h3m-24 1h2m1 0h1m1 0h1m13 0h3m1 0h2m-21 1h2m1 0h1m1 0h1m5 0h6m-19 1h1m2 0h2m1 0h1m2 0h2m1 0h1m1 0h2m-14 1h2m1 0h6m3 0h1m-10 1h1m1 0h1" stroke="#0088ff"/><path d="M113 104h1m-8 1h7m1 0h3m-12 1h3m1 0h7m-14 1h1m3 0h3m1 0h1m1 0h5m1 0h1m-19 1h7m6 0h1m2 0h1m1 0h3m-22 1h4m1 0h1m11 0h4m-23 1h5m15 0h5m-25 1h2m20 0h1m-25 1h3m19 0h1m1 0h2m-28 1h2m22 0h4m-29 1h1m2 0h1m22 0h3m-30 1h4m22 0h4m-30 1h3m25 0h1m-30 1h2m25 0h2m-31 1h3m26 0h2m-30 1h2m25 0h1m1 0h1m-32 1h1m1 0h1m25 0h3m-31 1h3m24 0h3m-31 1h3m24 0h4m-32 1h2m26 0h1m1 0h1m-31 1h2m24 0h3m-29 1h3m23 0h3m-30 1h3m23 0h3m-29 1h2m22 0h3m-28 1h3m22 0h2m-27 1h2m1 0h1m18 0h4m-25 1h3m16 0h1m1 0h1m1 0h2m-24 1h3m17 0h2m-24 1h6m11 0h1m2 0h2m-22 1h4m1 0h1m1 0h1m6 0h7m-21 1h7m1 0h3m1 0h7m-18 1h1m1 0h3m1 0h6m1 0h1m-11 1h3m1 0h4m2 0h1m-9 1h1m1 0h1" stroke="#00c8f8"/><path d="M107 107h1m2 0h1m2 0h2m-12 1h2m1 0h9m-12 1h6m1 0h7m-17 1h1m1 0h6m1 0h1m1 0h7m-19 1h5m1 0h1m6 0h6m-20 1h4m11 0h2m1 0h2m-21 1h3m13 0h4m-22 1h2m1 0h1m16 0h3m-25 1h4m17 0h3m-24 1h4m18 0h3m-26 1h3m19 0h3m-26 1h3m19 0h3m-25 1h3m19 0h2m-25 1h3m19 0h4m-26 1h2m20 0h2m-25 1h2m20 0h3m-27 1h4m20 0h3m-27 1h1m1 0h2m18 0h4m-26 1h4m18 0h2m-24 1h4m16 0h1m1 0h1m-23 1h4m14 0h3m1 0h1m-24 1h5m13 0h3m-20 1h4m11 0h5m-20 1h4m8 0h7m-18 1h3m1 0h1m5 0h5m-16 1h2m1 0h12m-15 1h2m2 0h4m1 0h3m-9 1h1m2 0h3" stroke="#00e8c8"/><path d="M107 109h2m2 0h1m-8 1h8m-10 1h4m1 0h6m-13 1h1m1 0h14m-17 1h3m1 0h4m2 0h5m-17 1h6m8 0h2m1 0h1m-18 1h4m11 0h3m-20 1h5m12 0h2m-20 1h3m15 0h2m-21 1h5m13 0h3m-21 1h3m15 0h3m-22 1h3m15 0h3m-22 1h3m16 0h2m-22 1h4m14 0h5m-22 1h3m13 0h2m1 0h1m-21 1h4m12 0h1m1 0h2m-20 1h3m13 0h1m1 0h1m-20 1h5m10 0h4m-18 1h5m7 0h4m-15 1h7m1 0h6m-16 1h13m2 0h1m-15 1h2m1 0h1m1 0h7m-10 1h5m-3 1h2" stroke="#20e860"/><path d="M104 112h4m1 0h1m-8 1h10m-11 1h10m-13 1h6m1 0h3m1 0h4m-15 1h4m1 0h1m4 0h4m-16 1h1m1 0h3m7 0h2m1 0h1m-16 1h4m8 0h4m-16 1h3m10 0h3m-18 1h3m1 0h1m8 0h4m-17 1h2m11 0h4m-18 1h1m1 0h1m9 0h5m-18 1h4m9 0h3m-15 1h5m6 0h1m1 0h3m-18 1h6m5 0h4m-14 1h5m1 0h3m1 0h4m-14 1h5m1 0h4m1 0h2m-12 1h3m1 0h4m-7 1h1m2 0h2" stroke="#90f000"/><path d="M109 113h1m-6 1h1m1 0h4m-9 1h1m1 0h4m1 0h2m-10 1h2m1 0h5m1 0h1m-12 1h5m1 0h7m-14 1h1m1 0h1m2 0h3m2 0h3m-13 1h3m2 0h1m3 0h4m-14 1h5m4 0h4m-14 1h6m3 0h5m-14 1h4m1 0h1m3 0h2m1 0h1m-14 1h4m1 0h1m1 0h2m1 0h1m1 0h1m-13 1h2m1 0h3m1 0h6m-11 1h8m-9 1h8m-4 1h2" stroke="#fff000"/><path d="M105 115h1m1 0h1m-7 1h6m-6 1h7m-8 1h2m1 0h1m3 0h2m-11 1h2m1 0h1m3 0h2m1 0h1m-12 1h5m2 0h3m-10 1h2m1 0h7m-9 1h1m3 0h2m1 0h2m-11 1h7m-6 1h1m1 0h2m1 0h2m-6 1h5m-5 1h1" stroke="#ff8000"/><path d="M104 116h3m-5 1h5m-6 1h5m-7 1h8m-9 1h7m-7 1h8m-8 1h6m-8 1h5m1 0h2m-7 1h5" stroke="#f01000"/></g>
</svg>
<rect x="0" y="0" width="235.7" height="235.5" fill="none" stroke="#000" stroke-width="1.3"/>
<path d="M145,0V235.5M0,111H235.7" stroke="#000" stroke-width="1.5" fill="none"/>
<path d="M-7,15.8H0M-7,49.6H0M-7,83.7H0M-7,116.6H0M-7,150.8H0M-7,185.3H0M-7,216.1H0M-3.5,206.8H0M-3.5,201.4H0M-3.5,197.6H0M-4.5,194.6H0M-3.5,192.1H0M-3.5,190.1H0M-3.5,188.3H0M-3.5,186.7H0M-3.5,174.9H0M-3.5,168.8H0M-3.5,164.5H0M-4.5,161.2H0M-3.5,158.5H0M-3.5,156.1H0M-3.5,154.1H0M-3.5,152.4H0M-3.5,140.5H0M-3.5,134.5H0M-3.5,130.2H0M-4.5,126.9H0M-3.5,124.2H0M-3.5,121.9H0M-3.5,119.9H0M-3.5,118.2H0M-3.5,106.7H0M-3.5,100.9H0M-3.5,96.8H0M-4.5,93.6H0M-3.5,91.0H0M-3.5,88.8H0M-3.5,86.9H0M-3.5,85.2H0M-3.5,73.4H0M-3.5,67.4H0M-3.5,63.2H0M-4.5,59.9H0M-3.5,57.2H0M-3.5,54.9H0M-3.5,52.9H0M-3.5,51.2H0M-3.5,39.4H0M-3.5,33.5H0M-3.5,29.3H0M-4.5,26.0H0M-3.5,23.3H0M-3.5,21.0H0M-3.5,19.1H0M-3.5,17.3H0M-3.5,5.6H0M-5,218.5H0M-5,220.5H0M-5,222.5H0M-5,224H0M-5,226H0M-5,228H0M-5,230H0M-5,232.5H0M-5,234.5H0M-7,234.5H0M35.8,235.5V242.5M74.7,235.5V242.5M112.5,235.5V242.5M149.9,235.5V242.5M187.7,235.5V242.5M226.1,235.5V242.5M47.5,235.5V239.0M54.4,235.5V239.0M59.2,235.5V239.0M63.0,235.5V240.0M66.1,235.5V239.0M68.7,235.5V239.0M70.9,235.5V239.0M72.9,235.5V239.0M86.1,235.5V239.0M92.7,235.5V239.0M97.5,235.5V239.0M101.1,235.5V240.0M104.1,235.5V239.0M106.6,235.5V239.0M108.8,235.5V239.0M110.8,235.5V239.0M123.8,235.5V239.0M130.3,235.5V239.0M135.0,235.5V239.0M138.6,235.5V240.0M141.6,235.5V239.0M144.1,235.5V239.0M146.3,235.5V239.0M148.2,235.5V239.0M161.3,235.5V239.0M167.9,235.5V239.0M172.7,235.5V239.0M176.3,235.5V240.0M179.3,235.5V239.0M181.8,235.5V239.0M184.0,235.5V239.0M186.0,235.5V239.0M199.3,235.5V239.0M206.0,235.5V239.0M210.8,235.5V239.0M214.5,235.5V240.0M217.6,235.5V239.0M220.2,235.5V239.0M222.4,235.5V239.0M224.3,235.5V239.0M4,235.5V240.5M6,235.5V240.5M8,235.5V240.5M9.5,235.5V240.5M11,235.5V240.5M12.5,235.5V240.5M14,235.5V240.5M15.5,235.5V240.5M17.5,235.5V239.0M20,235.5V239.0M23,235.5V239.0M27,235.5V239.0M31,235.5V239.0" stroke="#000" stroke-width="1.45" fill="none"/>
<text x="-22.8" y="54.7" font-size="22.6" text-anchor="end">10</text>
<text x="-22.4" y="47.8" font-size="16">8</text>
<text x="-22.8" y="86.9" font-size="22.6" text-anchor="end">10</text>
<text x="-22.4" y="80.0" font-size="16">7</text>
<text x="-22.8" y="121.8" font-size="22.6" text-anchor="end">10</text>
<text x="-22.4" y="114.9" font-size="16">6</text>
<text x="-22.8" y="156.4" font-size="22.6" text-anchor="end">10</text>
<text x="-22.4" y="149.5" font-size="16">5</text>
<text x="-22.8" y="187.6" font-size="22.6" text-anchor="end">10</text>
<text x="-22.4" y="180.7" font-size="16">4</text>
<text x="-22.8" y="223.4" font-size="22.6" text-anchor="end">10</text>
<text x="-22.4" y="216.5" font-size="16">3</text>
<text x="-13.8" y="234.6" font-size="22.6" text-anchor="end">0</text>
<text x="-2.7" y="267.8" font-size="22.6">0</text>
<text x="17.5" y="270.4" font-size="22.6">10<tspan dy="-6.8" font-size="16">2</tspan></text>
<text x="57.2" y="270.4" font-size="22.6">10<tspan dy="-6.8" font-size="16">3</tspan></text>
<text x="94.5" y="270.4" font-size="22.6">10<tspan dy="-6.8" font-size="16">4</tspan></text>
<text x="128.2" y="270.4" font-size="22.6">10<tspan dy="-6.8" font-size="16">5</tspan></text>
<text x="162.3" y="270.4" font-size="22.6">10<tspan dy="-6.8" font-size="16">6</tspan></text>
<text x="206.0" y="270.4" font-size="22.6">10<tspan dy="-6.8" font-size="16">7</tspan></text>
<text x="14.2" y="28.6" font-size="23">3.03</text>
<text x="221.4" y="28.6" font-size="23" text-anchor="end">2.71</text>
<text x="14.0" y="218.0" font-size="23">92.0</text>
<text x="223.6" y="218.0" font-size="23" text-anchor="end">2.28</text>
</g>
<text x="616.0" y="928.2" font-size="23.6" text-anchor="middle">LPS</text>
<g transform="translate(492.4,940)">
<svg width="235.7" height="235.5" overflow="hidden">
<path d="M94 180 92 180 88 180 86 179 84 179 82 178 80 177 78 176 76 174 75 172 75 170 76 167 76 164 77 162 78 160 79 158 80 157 82 155 83 154 84 152 86 150 87 148 88 146 90 145 91 144 92 142 94 140 95 138 96 137 98 136 100 134 101 132 103 132 104 130 106 128 108 127 110 126 111 124 112 123 114 122 116 120 118 120 120 118 121 116 122 114 123 112 124 110 123 108 123 106 122 104 122 100 122 98 122 94 122 92 123 90 124 87 124 84 126 83 126 81 128 79 129 78 130 76 132 74 133 72 134 71 136 70 138 68 140 67 142 66 143 64 144 63 146 62 148 61 150 60 152 59 154 58 156 57 159 56 162 56 164 55 166 54 168 54 172 54 174 54 178 54 180 54 182 55 184 56 186 57 188 58 190 60 190 62 190 66 190 68 189 70 188 72 186 74 185 76 184 78 182 79 181 80 180 82 178 83 176 84 174 86 172 87 170 88 169 90 168 91 166 92 164 94 162 95 162 97 160 98 159 100 158 103 158 106 158 108 158 111 160 113 160 115 162 116 163 118 164 120 166 122 167 124 168 125 170 126 171 128 170 130 169 132 168 134 166 136 164 137 162 138 161 140 160 141 158 142 156 144 155 146 154 147 152 148 150 150 149 152 148 153 146 154 144 156 142 157 141 158 140 160 138 161 136 162 134 164 132 165 130 166 129 168 127 168 125 170 123 170 121 172 119 172 117 174 115 174 112 175 110 176 108 177 106 178 104 178 102 179 98 179 96 179Z" fill="#3030ff" fill-opacity="0.16"/><path d="M108 173 104 173 102 173 98 173 96 173 93 172 91 172 89 170 88 169 87 166 86 164 86 162 87 160 88 157 88 155 90 153 90 151 92 149 93 148 94 146 96 144 96 142 98 140 100 139 101 138 102 136 104 134 106 133 107 132 108 130 110 129 112 128 114 126 116 125 118 124 119 122 121 122 123 120 124 119 126 118 128 117 130 116 132 114 134 113 136 112 137 110 138 108 138 106 136 104 134 103 134 101 133 98 133 96 133 92 133 90 134 88 135 86 136 84 137 82 138 80 139 78 140 76 142 74 143 72 144 71 146 70 148 68 150 67 152 66 153 64 155 64 157 62 160 62 162 61 164 60 166 60 168 59 172 59 174 59 178 59 180 60 181 62 182 63 183 66 183 68 182 70 181 72 180 74 178 76 177 78 175 78 174 80 172 81 170 82 168 84 166 84 164 86 162 86 160 88 158 88 156 90 154 90 152 92 150 93 149 94 148 96 147 98 146 100 144 102 144 104 142 106 141 108 142 109 144 110 146 112 148 113 149 114 150 116 152 118 154 119 154 121 156 122 156 125 157 128 157 130 156 133 156 136 155 138 154 139 152 141 151 142 150 144 148 146 148 148 146 150 144 151 143 152 142 154 140 156 138 156 136 158 135 160 133 160 132 162 130 163 128 164 126 166 124 166 122 168 120 168 118 169 116 170 114 171 112 172 108 172Z" fill="#2020ff" fill-opacity="0.3"/><path d="M156 84 154 84 150 84 148 84 146 82 146 80 146 77 148 75 149 74 150 72 152 70 154 69 156 68 157 66 159 66 162 65 164 64 166 63 168 63 172 63 174 64 176 64 177 66 177 70 176 72 175 74 174 75 172 76 170 78 168 79 166 80 164 81 162 82 160 83 158 83ZM110 169 108 169 104 169 102 169 99 168 96 168 95 166 94 165 93 162 92 160 92 158 93 156 94 154 94 151 96 149 97 148 98 146 99 144 100 142 102 140 103 138 104 137 106 136 108 134 110 133 111 132 112 130 114 129 116 128 118 126 120 125 122 124 124 123 126 122 128 121 130 120 132 119 134 118 136 118 140 118 142 118 144 119 146 120 148 121 150 123 151 124 152 126 152 130 152 132 151 134 150 137 150 139 148 141 148 143 146 144 145 146 144 148 142 150 140 151 139 152 138 154 136 156 134 157 132 158 131 160 129 160 128 162 126 163 124 164 122 165 120 166 118 167 115 168 112 168 110 169Z" fill="#0040ff"/><path d="M162 78 160 78 156 78 154 77 154 75 156 73 157 72 158 70 160 69 162 68 166 68 168 68 170 69 170 71 170 73 168 74 166 76 164 77 162 78ZM112 166 108 166 106 166 103 166 101 164 99 164 98 162 97 160 97 156 97 154 98 152 99 150 100 148 101 146 102 144 104 142 105 140 106 138 108 137 109 136 110 134 112 133 114 132 116 130 118 129 120 128 122 127 124 126 126 125 128 124 130 123 132 122 134 122 138 122 140 122 142 123 144 124 146 126 148 127 148 130 148 132 148 136 147 138 146 140 145 142 144 144 143 146 142 147 140 148 138 150 137 152 136 153 134 154 132 156 130 157 128 158 127 160 125 160 123 162 121 162 119 164 116 164 114 165 112 166Z" fill="#0088ff"/><path d="M114 163 112 163 108 163 106 163 104 162 102 160 101 158 100 156 100 154 101 152 102 149 102 147 104 145 105 144 106 142 108 140 109 138 110 137 112 136 114 134 116 133 117 132 119 130 120 129 122 128 124 127 126 126 129 126 132 125 134 125 136 124 138 125 141 126 142 127 144 128 145 130 145 134 145 136 144 138 143 140 142 142 141 144 140 146 138 148 137 150 136 151 134 152 132 154 130 155 128 156 127 158 125 158 123 160 121 160 118 161 116 162 114 163Z" fill="#00c8f8"/><path d="M116 160 112 160 110 160 108 159 106 158 104 156 104 154 104 150 105 148 106 146 107 144 108 142 110 141 111 140 112 138 114 136 116 135 118 134 120 133 121 132 123 130 125 130 128 129 130 128 132 128 136 128 138 128 140 130 141 132 142 134 141 136 141 138 140 140 139 142 138 144 136 146 135 148 134 149 132 150 130 152 129 154 127 154 126 156 124 157 122 158 119 158 116 159Z" fill="#00e8c8"/><path d="M116 157 114 157 112 156 110 155 108 154 108 150 108 148 109 146 110 144 112 142 113 140 114 139 116 138 118 136 120 135 122 134 124 133 126 132 128 131 130 131 134 131 136 132 137 134 138 136 138 138 137 140 136 142 135 144 134 146 132 148 130 149 129 150 128 152 126 153 124 154 122 155 120 156 117 156Z" fill="#20e860"/><path d="M118 154 115 154 113 152 112 150 111 148 112 146 113 144 114 142 116 141 117 140 118 138 120 137 122 136 124 135 126 134 130 134 132 134 134 136 135 138 134 140 134 142 132 144 131 146 130 147 128 148 126 150 124 151 122 152 120 153 118 154Z" fill="#90f000"/><path d="M120 151 118 151 116 150 114 148 115 146 116 144 117 142 118 141 120 140 122 138 124 137 126 136 128 136 130 137 132 139 131 140 130 143 130 145 128 146 126 148 124 149 122 150 120 151Z" fill="#fff000"/><path d="M120 149 118 148 117 146 118 144 119 142 120 141 122 140 124 139 128 139 129 140 128 143 127 144 126 146 124 148 122 148Z" fill="#ff8000"/><path d="M122 147 120 147 119 144 120 143 122 142 124 140 126 140 127 142 126 144 124 146 122 147Z" fill="#f01000"/><g transform="scale(1.2)" stroke-width="1"><path d="M140 10h1m37 4h1m-31 1h1m26 1h1m-35 1h1m1 0h1m36 1h1m-24 4h1m-17 1h1m-10 1h1m-7 1h1m3 0h1m-5 1h1m27 0h1m11 0h1m14 0h1m-55 1h2m7 0h1m11 0h1m19 0h1m17 0h1m8 0h1m-58 1h1m17 0h1m8 0h1m-42 1h1m15 0h1m3 0h1m8 0h2m3 0h1m-28 1h1m12 0h1m8 0h1m-53 1h1m8 0h1m20 0h1m14 0h1m43 0h1m-88 1h1m59 0h1m9 0h1m17 0h1m-89 1h1m1 0h1m9 0h1m12 0h3m10 0h2m7 0h1m2 0h1m-34 1h1m14 0h2m3 0h2m3 0h1m12 0h1m19 0h1m-51 1h1m15 0h1m2 0h1m2 0h1m5 0h1m23 0h1m-75 1h1m11 0h1m2 0h1m2 0h1m6 0h1m1 0h1m15 0h1m3 0h1m13 0h1m-17 1h2m5 0h1m1 0h1m28 0h1m-57 1h3m4 0h1m14 0h1m2 0h1m-39 1h1m30 0h2m3 0h1m7 0h1m14 0h1m-65 1h2m2 0h1m4 0h1m2 0h1m12 0h1m3 0h1m4 0h1m2 0h1m5 0h1m3 0h1m4 0h1m-49 1h1m25 0h1m2 0h2m2 0h2m3 0h1m6 0h1m1 0h1m17 0h1m-91 1h1m12 0h1m5 0h1m1 0h1m4 0h1m2 0h1m7 0h1m6 0h1m2 0h1m10 0h2m18 0h1m-80 1h1m7 0h1m24 0h1m4 0h1m2 0h1m4 0h2m6 0h1m2 0h1m16 0h1m1 0h1m3 0h1m7 0h1m9 0h1m-97 1h1m17 0h1m8 0h1m3 0h1m13 0h1m8 0h1m1 0h1m4 0h3m1 0h1m9 0h1m7 0h1m-78 1h1m18 0h1m2 0h2m5 0h1m13 0h5m2 0h1m11 0h2m3 0h1m-62 1h1m6 0h1m2 0h1m5 0h1m1 0h1m1 0h1m4 0h1m1 0h3m1 0h2m2 0h2m1 0h6m1 0h2m3 0h3m7 0h1m6 0h1m-72 1h1m21 0h1m4 0h1m4 0h2m1 0h2m1 0h3m5 0h2m2 0h3m4 0h1m-53 1h1m1 0h1m13 0h1m7 0h2m3 0h1m1 0h1m1 0h3m1 0h1m1 0h1m1 0h1m3 0h5m4 0h3m6 0h1m6 0h1m1 0h1m1 0h1m-117 1h1m30 0h1m37 0h1m2 0h5m1 0h2m1 0h1m5 0h1m1 0h1m2 0h1m15 0h1m-71 1h1m7 0h1m3 0h2m10 0h1m2 0h1m1 0h1m1 0h1m3 0h5m1 0h3m1 0h1m1 0h2m9 0h1m6 0h1m-81 1h1m1 0h1m2 0h1m9 0h1m2 0h1m3 0h1m5 0h4m2 0h1m2 0h1m3 0h1m3 0h2m4 0h3m1 0h2m1 0h4m1 0h1m2 0h1m7 0h1m9 0h1m-67 1h1m4 0h1m1 0h1m11 0h1m2 0h1m1 0h1m1 0h6m1 0h4m1 0h3m2 0h1m1 0h2m1 0h1m2 0h1m3 0h1m2 0h1m8 0h1m-89 1h1m5 0h1m3 0h1m9 0h2m1 0h1m4 0h1m3 0h2m5 0h2m1 0h1m1 0h2m1 0h4m2 0h1m6 0h5m1 0h1m1 0h2m1 0h1m6 0h1m7 0h1m-110 1h1m40 0h1m13 0h2m4 0h1m2 0h2m2 0h5m11 0h2m2 0h1m1 0h3m1 0h2m1 0h1m2 0h1m7 0h1m-84 1h1m8 0h1m1 0h1m1 0h1m6 0h2m2 0h1m6 0h4m6 0h2m1 0h2m14 0h2m3 0h1m9 0h1m12 0h1m-57 1h1m9 0h1m19 0h1m2 0h1m11 0h1m-62 1h1m3 0h1m8 0h2m3 0h1m1 0h1m4 0h1m18 0h1m1 0h1m5 0h2m2 0h1m6 0h1m-89 1h2m6 0h1m1 0h1m6 0h2m2 0h2m2 0h2m4 0h2m6 0h1m4 0h1m2 0h2m25 0h5m2 0h1m2 0h1m3 0h1m7 0h1m-92 1h1m5 0h2m5 0h1m1 0h2m2 0h1m5 0h1m9 0h1m2 0h1m1 0h3m22 0h1m2 0h3m2 0h1m3 0h1m5 0h1m2 0h1m3 0h1m-101 1h2m27 0h1m1 0h1m4 0h1m3 0h3m2 0h5m1 0h1m23 0h3m2 0h1m1 0h2m4 0h2m5 0h1m-88 1h1m6 0h1m13 0h1m1 0h1m1 0h1m4 0h1m5 0h2m1 0h4m23 0h2m1 0h3m3 0h1m2 0h1m10 0h1m12 0h1m-119 1h1m16 0h1m7 0h1m2 0h1m1 0h2m3 0h1m2 0h1m1 0h1m3 0h1m1 0h1m2 0h1m3 0h1m1 0h1m24 0h1m2 0h2m18 0h1m-88 1h1m15 0h1m3 0h1m3 0h1m1 0h1m1 0h1m1 0h3m4 0h2m23 0h1m7 0h1m2 0h1m1 0h1m2 0h1m3 0h1m-68 1h1m1 0h3m10 0h2m3 0h3m1 0h1m23 0h1m1 0h1m10 0h1m3 0h1m5 0h2m5 0h1m-109 1h1m12 0h1m14 0h1m13 0h1m2 0h3m1 0h5m22 0h1m2 0h1m2 0h1m2 0h2m3 0h2m7 0h2m4 0h1m-93 1h1m16 0h1m2 0h1m3 0h1m1 0h2m1 0h1m3 0h2m1 0h1m1 0h1m1 0h1m18 0h1m1 0h5m1 0h1m2 0h1m1 0h1m2 0h2m9 0h1m3 0h1m-86 1h1m19 0h2m1 0h3m2 0h2m1 0h2m20 0h10m8 0h1m2 0h2m1 0h1m9 0h1m-89 1h1m12 0h2m5 0h1m5 0h1m3 0h3m1 0h2m2 0h1m15 0h3m1 0h1m1 0h1m6 0h2m3 0h1m2 0h1m2 0h1m3 0h1m2 0h1m5 0h1m-84 1h2m1 0h1m1 0h2m4 0h1m1 0h1m1 0h2m1 0h1m4 0h1m1 0h3m1 0h1m16 0h1m3 0h2m3 0h1m7 0h1m9 0h1m-118 1h1m28 0h1m18 0h2m1 0h1m1 0h2m2 0h1m2 0h2m4 0h4m2 0h3m1 0h2m2 0h1m3 0h3m4 0h1m1 0h1m2 0h2m1 0h2m4 0h1m6 0h1m17 0h1m-96 1h1m17 0h2m1 0h1m2 0h5m1 0h1m2 0h1m2 0h1m2 0h1m1 0h4m1 0h1m1 0h1m3 0h4m1 0h4m2 0h1m2 0h1m3 0h1m11 0h1m-85 1h1m2 0h1m13 0h2m6 0h2m5 0h1m1 0h4m2 0h3m2 0h1m1 0h1m2 0h2m1 0h4m1 0h1m1 0h3m1 0h1m2 0h1m3 0h1m2 0h2m14 0h1m-78 1h1m1 0h1m4 0h1m6 0h2m4 0h2m2 0h8m1 0h3m1 0h2m2 0h2m3 0h1m1 0h1m-60 1h1m6 0h1m5 0h1m4 0h1m1 0h1m3 0h3m3 0h6m3 0h2m1 0h2m1 0h2m1 0h1m4 0h1m1 0h1m8 0h2m2 0h1m8 0h1m10 0h1m-84 1h1m3 0h1m2 0h1m10 0h1m3 0h1m2 0h3m1 0h4m1 0h2m1 0h3m1 0h1m1 0h1m2 0h1m1 0h1m4 0h2m3 0h1m1 0h2m-72 1h1m8 0h1m11 0h1m1 0h1m3 0h1m1 0h2m1 0h3m1 0h4m1 0h1m7 0h2m1 0h2m1 0h2m4 0h1m2 0h1m1 0h1m11 0h1m1 0h1m-58 1h3m1 0h1m1 0h3m1 0h2m2 0h1m1 0h1m2 0h1m3 0h1m2 0h1m2 0h1m1 0h1m3 0h1m6 0h1m1 0h5m2 0h1m-52 1h1m3 0h1m1 0h1m3 0h1m2 0h2m1 0h9m2 0h1m2 0h1m1 0h1m2 0h1m1 0h2m1 0h1m3 0h1m9 0h1m2 0h1m3 0h1m-63 1h1m1 0h1m1 0h1m3 0h4m1 0h2m1 0h1m1 0h1m1 0h8m1 0h1m3 0h1m1 0h1m2 0h1m4 0h1m1 0h3m2 0h1m8 0h1m12 0h1m21 0h1m-97 1h1m3 0h3m8 0h1m1 0h1m2 0h4m2 0h4m1 0h1m17 0h1m6 0h1m2 0h1m6 0h1m12 0h1m-94 1h1m9 0h1m2 0h1m5 0h1m2 0h2m3 0h1m1 0h2m1 0h2m1 0h1m2 0h1m1 0h1m2 0h3m3 0h1m1 0h1m4 0h1m3 0h1m1 0h1m1 0h1m30 0h1m-147 1h1m59 0h1m2 0h1m4 0h5m1 0h1m4 0h2m1 0h3m2 0h1m1 0h1m1 0h1m18 0h2m5 0h1m4 0h1m5 0h1m-152 1h1m76 0h1m1 0h1m8 0h1m3 0h1m2 0h1m2 0h1m2 0h2m2 0h1m1 0h1m1 0h2m2 0h1m1 0h1m2 0h1m2 0h1m2 0h2m7 0h1m4 0h1m18 0h1m-84 1h1m1 0h1m7 0h1m1 0h1m1 0h1m5 0h1m1 0h1m7 0h1m1 0h1m1 0h1m3 0h1m1 0h1m1 0h2m4 0h1m2 0h1m19 0h1m1 0h1m19 0h1m3 0h1m-105 1h1m16 0h1m3 0h2m5 0h1m1 0h2m1 0h1m5 0h1m1 0h2m6 0h1m1 0h1m3 0h1m1 0h2m5 0h1m3 0h3m1 0h1m5 0h1m5 0h2m-67 1h2m2 0h1m2 0h1m1 0h1m5 0h1m4 0h2m1 0h2m3 0h3m1 0h2m8 0h2m20 0h2m2 0h1m8 0h1m8 0h1m10 0h1m-98 1h1m3 0h1m3 0h1m2 0h1m2 0h1m1 0h1m4 0h5m1 0h1m3 0h5m2 0h1m3 0h3m2 0h1m5 0h1m3 0h1m4 0h2m1 0h1m7 0h1m2 0h1m15 0h1m-105 1h1m1 0h1m1 0h3m3 0h1m7 0h2m1 0h1m6 0h1m1 0h1m1 0h2m2 0h2m7 0h1m10 0h1m5 0h1m4 0h1m14 0h1m-103 1h1m22 0h1m8 0h1m1 0h1m4 0h4m4 0h3m1 0h2m4 0h1m4 0h1m1 0h1m1 0h2m1 0h1m9 0h1m2 0h1m3 0h1m6 0h1m26 0h1m-149 1h1m54 0h1m2 0h1m4 0h1m1 0h1m2 0h1m5 0h2m1 0h1m5 0h4m3 0h2m3 0h2m3 0h1m4 0h1m5 0h1m18 0h1m4 0h3m14 0h1m-99 1h2m10 0h1m1 0h1m1 0h1m1 0h2m1 0h1m3 0h1m1 0h1m4 0h3m2 0h1m3 0h1m1 0h1m3 0h1m3 0h1m1 0h1m2 0h1m10 0h2m5 0h1m10 0h1m-101 1h1m10 0h1m18 0h1m1 0h3m4 0h2m1 0h1m2 0h1m1 0h1m2 0h1m1 0h1m1 0h1m1 0h1m5 0h2m1 0h2m1 0h1m5 0h1m1 0h1m1 0h1m3 0h1m2 0h1m2 0h2m2 0h1m9 0h2m1 0h1m-176 1h1m85 0h1m6 0h1m3 0h1m3 0h1m1 0h1m3 0h1m1 0h1m4 0h1m2 0h2m4 0h2m2 0h4m3 0h3m7 0h1m2 0h1m4 0h4m3 0h1m5 0h1m1 0h1m1 0h1m3 0h1m-99 1h1m8 0h1m11 0h1m5 0h1m2 0h1m2 0h2m3 0h4m1 0h1m3 0h2m2 0h1m8 0h1m5 0h1m1 0h1m2 0h1m13 0h2m6 0h1m15 0h1m-129 1h1m17 0h1m19 0h2m4 0h1m3 0h2m1 0h1m2 0h1m1 0h3m1 0h3m2 0h1m4 0h3m1 0h1m6 0h1m3 0h1m9 0h1m1 0h2m1 0h1m9 0h1m15 0h1m6 0h1m-116 1h1m16 0h1m3 0h1m6 0h3m1 0h1m1 0h1m2 0h1m1 0h4m1 0h1m9 0h1m3 0h2m1 0h1m3 0h1m14 0h2m4 0h1m7 0h1m1 0h1m2 0h1m7 0h1m-99 1h1m2 0h1m10 0h1m2 0h1m1 0h6m7 0h4m3 0h1m8 0h3m4 0h1m1 0h1m2 0h2m1 0h1m7 0h1m2 0h1m6 0h1m5 0h1m5 0h2m13 0h1m-98 1h3m4 0h1m1 0h2m4 0h1m1 0h1m1 0h1m1 0h1m2 0h3m1 0h1m1 0h2m1 0h1m1 0h2m8 0h1m6 0h1m1 0h1m4 0h2m9 0h1m7 0h1m1 0h1m-95 1h1m6 0h1m4 0h1m1 0h1m1 0h4m2 0h2m1 0h1m8 0h1m3 0h3m3 0h2m1 0h1m4 0h1m3 0h2m1 0h1m4 0h1m2 0h1m2 0h1m3 0h1m9 0h1m2 0h1m6 0h1m1 0h1m-95 1h1m11 0h3m3 0h1m1 0h1m15 0h1m3 0h1m4 0h1m2 0h1m11 0h1m10 0h1m12 0h1m5 0h1m1 0h1m-134 1h1m34 0h1m9 0h1m5 0h1m7 0h1m18 0h3m2 0h1m1 0h1m3 0h2m1 0h1m9 0h2m5 0h1m5 0h1m1 0h1m2 0h1m-98 1h1m19 0h1m2 0h1m2 0h1m1 0h1m1 0h1m1 0h1m23 0h3m3 0h2m3 0h1m8 0h1m4 0h1m2 0h1m4 0h1m1 0h1m3 0h1m1 0h1m-81 1h1m5 0h1m3 0h1m3 0h3m25 0h2m4 0h1m8 0h3m6 0h1m5 0h2m4 0h2m3 0h2m7 0h1m-88 1h2m4 0h1m1 0h2m27 0h1m1 0h3m4 0h2m2 0h2m2 0h1m1 0h1m2 0h2m2 0h1m2 0h1m2 0h2m2 0h1m-72 1h1m2 0h1m29 0h1m6 0h1m2 0h1m2 0h2m4 0h3m4 0h1m3 0h1m5 0h1m5 0h3m1 0h1m-85 1h1m2 0h5m1 0h1m30 0h1m2 0h2m1 0h3m6 0h1m14 0h3m1 0h1m2 0h1m4 0h1m-91 1h2m7 0h1m2 0h3m32 0h6m1 0h1m1 0h1m3 0h1m12 0h2m2 0h1m13 0h1m-86 1h3m1 0h2m1 0h1m35 0h1m2 0h2m3 0h3m3 0h1m9 0h1m1 0h1m-65 1h2m36 0h2m2 0h2m9 0h1m3 0h2m2 0h1m1 0h1m3 0h1m28 0h1m-119 1h1m16 0h5m36 0h6m6 0h1m1 0h1m10 0h3m8 0h2m1 0h1m14 0h1m-102 1h1m3 0h1m1 0h1m1 0h1m39 0h5m3 0h1m1 0h1m6 0h1m1 0h2m4 0h1m2 0h1m6 0h1m5 0h1m3 0h1m6 0h1m13 0h1m-116 1h1m3 0h1m2 0h4m36 0h1m1 0h2m2 0h4m1 0h1m3 0h1m3 0h1m2 0h2m2 0h1m1 0h1m17 0h1m5 0h1m7 0h1m-118 1h1m5 0h1m7 0h2m2 0h1m43 0h1m1 0h3m1 0h3m7 0h2m16 0h1m16 0h2m-111 1h1m7 0h1m3 0h1m1 0h1m38 0h1m3 0h1m4 0h1m2 0h1m2 0h1m8 0h2m4 0h1m2 0h1m3 0h1m4 0h1m4 0h1m5 0h1m-111 1h1m10 0h1m4 0h2m39 0h2m3 0h2m1 0h1m2 0h2m5 0h1m2 0h1m4 0h1m4 0h1m14 0h1m16 0h1m-180 1h1m69 0h4m1 0h1m39 0h1m1 0h1m2 0h1m2 0h1m4 0h1m4 0h1m9 0h2m1 0h1m4 0h1m4 0h1m-92 1h1m3 0h1m1 0h1m2 0h1m42 0h4m6 0h1m10 0h1m-93 1h1m4 0h1m16 0h3m1 0h2m40 0h1m9 0h1m4 0h1m6 0h1m24 0h1m-103 1h1m5 0h1m5 0h3m40 0h1m1 0h1m2 0h1m4 0h1m1 0h1m4 0h1m9 0h1m26 0h1m-130 1h1m18 0h1m3 0h1m1 0h1m2 0h2m1 0h1m1 0h1m40 0h3m1 0h2m1 0h1m9 0h1m3 0h1m8 0h1m-93 1h1m11 0h5m2 0h1m45 0h1m1 0h1m4 0h1m4 0h1m29 0h1m-108 1h1m1 0h1m6 0h1m4 0h2m3 0h1m41 0h1m1 0h1m3 0h1m18 0h1m1 0h1m3 0h1m11 0h1m-113 1h1m2 0h1m11 0h1m2 0h4m2 0h1m2 0h1m38 0h2m2 0h1m1 0h1m2 0h1m11 0h1m6 0h1m17 0h1m-116 1h1m2 0h1m19 0h1m1 0h2m3 0h1m38 0h3m1 0h2m1 0h1m1 0h1m4 0h1m12 0h1m10 0h2m-107 1h1m15 0h1m1 0h5m2 0h3m42 0h1m1 0h1m7 0h1m3 0h1m2 0h1m-76 1h3m3 0h1m1 0h7m38 0h1m2 0h1m1 0h1m5 0h1m1 0h1m5 0h1m6 0h1m-140 1h1m35 0h1m7 0h1m14 0h1m5 0h1m1 0h2m2 0h1m40 0h1m1 0h3m5 0h1m2 0h1m8 0h2m9 0h1m7 0h1m-103 1h1m1 0h1m2 0h1m1 0h1m2 0h1m3 0h1m1 0h2m1 0h2m1 0h1m38 0h4m1 0h3m3 0h1m1 0h1m44 0h1m-151 1h1m30 0h1m9 0h1m1 0h1m5 0h3m1 0h1m37 0h1m1 0h1m3 0h2m11 0h1m18 0h1m-110 1h1m4 0h1m11 0h1m2 0h1m1 0h2m6 0h1m39 0h2m2 0h2m2 0h1m5 0h1m5 0h1m-69 1h4m3 0h2m3 0h1m32 0h4m1 0h3m4 0h1m7 0h1m-76 1h1m5 0h1m6 0h3m40 0h3m2 0h1m3 0h1m9 0h1m1 0h1m-72 1h1m2 0h1m2 0h1m2 0h1m1 0h2m1 0h1m32 0h1m1 0h1m1 0h1m3 0h1m1 0h1m-88 1h1m20 0h1m4 0h1m1 0h1m3 0h1m2 0h1m3 0h1m3 0h1m2 0h1m29 0h2m1 0h2m2 0h1m3 0h1m-73 1h1m1 0h1m7 0h2m5 0h1m2 0h1m1 0h1m3 0h1m2 0h1m28 0h1m3 0h4m12 0h1m-93 1h1m4 0h1m8 0h1m3 0h1m1 0h1m4 0h1m3 0h3m1 0h1m2 0h1m1 0h1m2 0h2m1 0h1m27 0h1m1 0h3m4 0h1m1 0h1m-72 1h1m6 0h1m5 0h1m2 0h1m5 0h1m2 0h5m2 0h1m24 0h5m2 0h1m1 0h1m2 0h1m1 0h1m14 0h1m2 0h1m-107 1h1m17 0h1m2 0h1m16 0h1m4 0h1m1 0h1m25 0h1m1 0h2m1 0h2m1 0h1m13 0h1m4 0h1m-78 1h1m5 0h1m7 0h2m1 0h1m2 0h1m2 0h2m2 0h5m14 0h3m1 0h2m1 0h1m4 0h2m2 0h2m10 0h1m3 0h1m-88 1h1m9 0h1m3 0h1m2 0h1m10 0h1m4 0h1m4 0h2m2 0h1m13 0h1m1 0h1m1 0h1m1 0h2m1 0h1m1 0h2m3 0h1m4 0h1m-78 1h1m12 0h1m7 0h1m1 0h1m10 0h2m3 0h1m2 0h1m1 0h1m1 0h1m1 0h4m1 0h5m2 0h2m2 0h2m4 0h1m3 0h1m5 0h1m-89 1h2m5 0h1m6 0h1m5 0h1m1 0h1m5 0h1m4 0h1m3 0h3m2 0h1m3 0h5m2 0h1m1 0h1m2 0h1m2 0h1m1 0h2m5 0h2m6 0h2m-86 1h1m7 0h1m7 0h1m2 0h1m7 0h2m2 0h1m1 0h1m2 0h1m5 0h1m5 0h3m1 0h8m2 0h1m4 0h2m2 0h3m4 0h1m1 0h1m-56 1h1m2 0h1m2 0h1m2 0h1m3 0h1m2 0h1m3 0h1m1 0h1m1 0h1m4 0h1m2 0h2m4 0h2m2 0h1m1 0h1m7 0h1m1 0h1m55 0h1m-109 1h1m18 0h1m1 0h1m2 0h3m3 0h3m2 0h2m3 0h1m2 0h1m10 0h1m63 0h1m-118 1h1m3 0h1m1 0h1m3 0h1m2 0h2m1 0h1m3 0h2m2 0h1m1 0h1m3 0h1m2 0h4m8 0h1m4 0h1m-68 1h1m5 0h2m5 0h1m11 0h1m1 0h1m2 0h1m1 0h1m2 0h1m2 0h2m1 0h3m1 0h1m1 0h1m1 0h3m2 0h2m-47 1h1m2 0h1m7 0h1m3 0h1m3 0h1m1 0h1m4 0h1m4 0h1m4 0h2m1 0h1m3 0h2m1 0h2m1 0h2m1 0h1m4 0h1m-82 1h1m22 0h1m1 0h1m2 0h2m4 0h1m2 0h3m6 0h1m2 0h2m1 0h1m16 0h1m2 0h2m4 0h1m5 0h1m8 0h1m-77 1h1m2 0h1m8 0h1m1 0h2m1 0h1m5 0h1m3 0h2m4 0h1m5 0h1m2 0h2m3 0h2m-63 1h1m15 0h1m2 0h1m3 0h1m4 0h1m1 0h1m2 0h1m5 0h1m1 0h2m6 0h1m5 0h1m1 0h2m23 0h1m8 0h1m-83 1h1m9 0h1m4 0h1m9 0h2m2 0h2m2 0h1m2 0h1m6 0h1m1 0h1m2 0h1m3 0h3m-58 1h1m13 0h3m2 0h3m1 0h1m1 0h1m6 0h1m5 0h1m1 0h1m1 0h1m1 0h1m13 0h1m9 0h1m16 0h1m-69 1h1m3 0h1m6 0h1m8 0h1m1 0h1m2 0h1m1 0h2m-39 1h1m12 0h1m5 0h1m8 0h2m6 0h1m7 0h1m2 0h1m2 0h1m-50 1h1m4 0h2m1 0h1m1 0h1m6 0h1m1 0h1m1 0h1m1 0h1m3 0h1m35 0h1m-83 1h2m24 0h1m2 0h1m2 0h1m10 0h1m1 0h2m3 0h2m4 0h1m2 0h1m3 0h1m12 0h1m24 0h1m-91 1h1m5 0h1m4 0h2m9 0h1m5 0h1m2 0h1m44 0h1m-89 1h1m11 0h1m2 0h2m9 0h1m46 0h1m2 0h1m-78 1h1m27 0h1m14 0h2m1 0h1m2 0h1m3 0h1m2 0h1m6 0h1m-69 1h1m9 0h1m9 0h1m11 0h1m6 0h1m7 0h1m4 0h1m3 0h1m1 0h1m2 0h1m8 0h1m1 0h1m7 0h1m-55 1h1m11 0h1m9 2h1m12 0h1m11 0h1m-48 1h1m6 0h1m31 0h1m5 0h1m-30 1h1m-43 1h1m6 0h1m16 0h1m7 0h1m5 0h1m10 0h1m4 0h1m19 0h1m-82 1h1m12 0h1m40 0h1m35 0h1m-60 1h1m29 0h1m-47 1h1m30 0h1m7 0h1m40 0h1m-70 1h1m42 0h2m-44 1h1m3 0h1m-7 1h1m2 0h1m98 0h1m-81 1h1m-24 1h1m11 0h1m14 0h1m131 3h1m-186 1h1m53 0h1m-46 1h1m1 1h1m-3 4h1m103 0h1m-49 8h1m19 0h1m19 0h1m-54 1h1m2 0h1m11 0h1m12 0h1m22 0h1m2 0h1m1 0h2m-47 1h1m1 0h1m22 0h1m1 0h1m17 0h1m3 0h1m5 0h1" stroke="#1a1aff"/><path d="M142 52h1m-6 1h2m1 0h2m2 0h1m-8 1h3m1 0h1m2 0h4m-16 1h2m1 0h1m1 0h2m1 0h3m2 0h3m-17 1h2m1 0h7m2 0h6m-21 1h1m1 0h1m1 0h3m5 0h2m3 0h2m1 0h1m-22 1h1m1 0h2m2 0h1m7 0h1m4 0h2m-20 1h4m12 0h3m-22 1h2m1 0h1m1 0h1m11 0h1m1 0h1m-21 1h4m2 0h2m12 0h2m-22 1h1m1 0h3m12 0h2m1 0h1m-21 1h3m2 0h1m8 0h3m3 0h1m-22 1h2m1 0h2m1 0h2m4 0h2m1 0h6m-21 1h1m1 0h1m2 0h3m2 0h3m2 0h2m1 0h1m-19 1h5m1 0h2m3 0h1m1 0h1m1 0h2m-19 1h2m1 0h3m1 0h2m1 0h7m-15 1h4m1 0h1m2 0h2m1 0h3m-16 1h2m2 0h1m1 0h1m1 0h1m2 0h1m-11 1h2m1 0h1m3 0h1m1 0h1m-16 28h1m-4 1h1m3 0h1m-8 1h3m1 0h2m5 0h3m-18 1h5m1 0h1m2 0h1m1 0h2m1 0h2m1 0h1m-18 1h1m2 0h2m7 0h1m1 0h4m-21 1h2m1 0h2m12 0h4m1 0h1m-24 1h1m1 0h1m16 0h5m-26 1h1m21 0h3m-28 1h1m1 0h1m23 0h3m-27 1h1m23 0h4m-31 1h1m28 0h3m-33 1h2m27 0h2m-32 1h2m28 0h1m1 0h1m-36 1h3m30 0h3m-37 1h1m1 0h1m32 0h1m-38 1h1m36 0h1m-38 1h1m35 0h1m-38 1h1m1 0h1m33 0h2m-40 1h2m36 0h1m-38 1h1m36 0h2m-40 1h2m35 0h1m-38 1h2m34 0h3m-40 1h1m35 0h3m-41 1h1m1 0h1m34 0h1m1 0h1m-40 1h2m35 0h1m-40 1h2m1 0h1m34 0h2m-41 1h4m34 0h1m1 0h1m-41 1h2m1 0h1m-3 1h1m35 0h1m-37 1h2m31 0h1m-35 1h1m1 0h1m31 0h2m-37 1h2m1 0h1m30 0h3m-37 1h3m29 0h4m-37 1h1m1 0h2m28 0h2m-33 1h2m28 0h2m-31 1h2m25 0h2m-5 1h1m2 0h2m-30 1h4m-5 1h3m2 0h1m18 0h4m-26 1h2m1 0h2m1 0h1m10 0h1m1 0h4m-23 1h2m1 0h3m3 0h2m2 0h1m1 0h1m1 0h2m1 0h2m-21 1h3m1 0h7m1 0h2m1 0h3m-19 1h1m2 0h3m1 0h1m2 0h3m2 0h1m-13 1h2m2 0h1m2 0h1m1 0h1" stroke="#0040ff"/><path d="M138 56h1m2 0h1m-5 1h4m-8 1h6m1 0h4m-12 1h1m1 0h4m1 0h3m1 0h1m-14 1h1m1 0h3m1 0h3m-9 1h5m1 0h4m-13 1h1m2 0h6m1 0h2m1 0h1m-12 1h2m1 0h7m-10 1h1m1 0h3m1 0h2m-9 1h2m3 1h1m-23 35h1m-1 1h8m-13 1h3m1 0h9m1 0h1m-16 1h3m1 0h1m3 0h2m1 0h6m-19 1h3m1 0h1m11 0h4m-23 1h1m1 0h1m1 0h2m13 0h4m-24 1h1m1 0h2m17 0h4m-26 1h3m19 0h3m-26 1h1m1 0h1m21 0h3m-30 1h4m24 0h2m-29 1h1m26 0h2m-32 1h2m27 0h3m-33 1h3m-3 1h2m28 0h2m-34 1h1m1 0h1m28 0h2m1 0h1m-35 1h2m-3 1h2m30 0h1m-35 1h1m31 0h1m-33 1h2m31 0h2m-36 1h1m32 0h2m-35 1h2m30 0h2m-35 1h3m29 0h3m-35 1h2m29 0h1m1 0h1m-35 1h1m31 0h1m1 0h1m-35 1h1m30 0h1m1 0h1m-34 1h2m28 0h2m-34 1h1m1 0h2m26 0h1m1 0h2m-4 1h2m-32 1h3m26 0h2m-31 1h1m26 0h1m1 0h1m-31 1h1m2 0h1m22 0h2m-28 1h4m20 0h4m-27 1h3m-2 1h1m1 0h3m13 0h3m1 0h1m-23 1h2m1 0h1m1 0h1m1 0h1m7 0h6m-19 1h7m1 0h1m2 0h4m1 0h1m-18 1h10m1 0h2m-11 1h1m2 0h1m2 0h1m1 0h2" stroke="#0088ff"/><path d="M109 104h1m1 0h1m1 0h4m-11 1h3m1 0h7m-14 1h4m1 0h6m2 0h2m2 0h1m-20 1h10m3 0h1m1 0h5m-21 1h6m9 0h1m1 0h1m1 0h2m-22 1h5m13 0h4m-24 1h4m16 0h3m-24 1h4m18 0h4m-28 1h4m20 0h3m-27 1h1m1 0h1m21 0h1m-26 1h3m22 0h3m-29 1h2m-4 1h2m25 0h3m-31 1h1m1 0h1m25 0h3m-31 1h2m26 0h2m-31 1h3m25 0h2m-30 1h2m26 0h2m-31 1h3m24 0h4m-31 1h2m24 0h3m-29 1h1m24 0h1m1 0h3m-32 1h4m23 0h2m-30 1h3m23 0h1m1 0h3m-30 1h3m22 0h3m-29 1h4m21 0h2m1 0h1m-30 1h1m1 0h1m21 0h3m-26 1h1m1 0h1m19 0h4m-26 1h5m15 0h3m-22 1h2m1 0h1m13 0h1m1 0h1m-21 1h5m1 0h1m8 0h6m-21 1h8m1 0h2m3 0h5m-18 1h15m-14 1h3m1 0h2m1 0h3m1 0h2m-11 1h1m1 0h5" stroke="#00c8f8"/><path d="M112 106h2m-9 1h2m1 0h8m-10 1h8m1 0h3m-15 1h1m1 0h6m1 0h5m-16 1h5m7 0h1m1 0h1m1 0h1m-20 1h5m11 0h1m2 0h2m-21 1h4m13 0h4m-23 1h2m1 0h2m14 0h4m-24 1h3m17 0h4m-24 1h2m17 0h5m-25 1h3m18 0h3m-26 1h4m18 0h4m-26 1h2m19 0h4m-27 1h3m20 0h2m-24 1h1m21 0h2m-25 1h3m19 0h4m-27 1h3m19 0h3m-26 1h2m20 0h1m1 0h2m-27 1h4m18 0h4m-26 1h4m17 0h3m-24 1h4m16 0h3m-23 1h2m1 0h2m12 0h1m1 0h4m-23 1h4m12 0h5m-21 1h6m7 0h3m1 0h1m-18 1h5m4 0h1m1 0h7m-17 1h3m1 0h2m2 0h8m-16 1h13m-9 1h2m1 0h5" stroke="#00e8c8"/><path d="M109 108h2m-5 1h1m2 0h5m-9 1h5m1 0h4m-13 1h14m-15 1h5m1 0h1m1 0h6m-16 1h4m1 0h1m8 0h3m-17 1h3m10 0h4m-19 1h3m12 0h4m-20 1h4m11 0h5m-22 1h5m12 0h4m-22 1h3m1 0h1m14 0h2m-22 1h5m13 0h4m-22 1h1m1 0h2m14 0h3m-21 1h3m14 0h4m-21 1h2m14 0h4m-22 1h4m13 0h5m-21 1h4m11 0h3m-20 1h3m1 0h1m10 0h1m2 0h2m-19 1h2m1 0h2m7 0h1m1 0h4m-19 1h1m1 0h5m4 0h1m1 0h4m-16 1h4m1 0h10m-15 1h12m1 0h1m-13 1h8m1 0h1m-10 1h1m1 0h2m1 0h3" stroke="#20e860"/><path d="M105 111h1m3 0h1m-6 1h6m1 0h1m-10 1h10m-12 1h13m-15 1h7m2 0h1m1 0h3m1 0h1m-16 1h4m7 0h1m1 0h2m-16 1h4m7 0h4m-16 1h2m1 0h1m8 0h4m-17 1h4m9 0h1m1 0h2m-18 1h4m10 0h3m-18 1h5m9 0h4m-17 1h2m10 0h3m-17 1h4m9 0h4m-15 1h3m3 0h1m1 0h6m-16 1h7m1 0h1m1 0h4m-13 1h6m1 0h5m-12 1h10m-10 1h1m1 0h4m1 0h1" stroke="#90f000"/><path d="M105 113h2m1 0h1m-7 1h4m1 0h3m-8 1h3m1 0h4m-10 1h4m1 0h4m1 0h1m-11 1h1m1 0h1m1 0h7m-14 1h2m5 0h2m1 0h1m1 0h1m-13 1h5m2 0h1m1 0h3m1 0h1m-13 1h3m4 0h1m1 0h2m-13 1h4m6 0h2m-13 1h4m3 0h6m-13 1h1m2 0h1m2 0h5m-10 1h10m-11 1h4m1 0h4m-6 1h3m-3 1h1" stroke="#fff000"/><path d="M105 114h2m-3 1h1m1 0h1m-4 1h4m1 0h1m-8 1h5m3 0h1m-10 1h5m3 0h1m-11 1h1m3 0h3m1 0h1m-9 1h9m1 0h1m-11 1h1m1 0h2m1 0h4m-9 1h3m1 0h1m3 0h1m-8 1h3m1 0h2m-7 1h1m1 0h3m-3 1h1" stroke="#ff8000"/><path d="M104 116h1m1 0h2m-8 1h3m1 0h2m-7 1h1m1 0h7m-9 1h9m-10 1h1m1 0h7m-9 1h9m-10 1h9m-7 1h3m-4 1h1m1 0h2" stroke="#f01000"/></g>
</svg>
<rect x="0" y="0" width="235.7" height="235.5" fill="none" stroke="#000" stroke-width="1.3"/>
<path d="M145,0V235.5M0,111H235.7" stroke="#000" stroke-width="1.5" fill="none"/>
<path d="M-7,15.8H0M-7,49.6H0M-7,83.7H0M-7,116.6H0M-7,150.8H0M-7,185.3H0M-7,216.1H0M-3.5,206.8H0M-3.5,201.4H0M-3.5,197.6H0M-4.5,194.6H0M-3.5,192.1H0M-3.5,190.1H0M-3.5,188.3H0M-3.5,186.7H0M-3.5,174.9H0M-3.5,168.8H0M-3.5,164.5H0M-4.5,161.2H0M-3.5,158.5H0M-3.5,156.1H0M-3.5,154.1H0M-3.5,152.4H0M-3.5,140.5H0M-3.5,134.5H0M-3.5,130.2H0M-4.5,126.9H0M-3.5,124.2H0M-3.5,121.9H0M-3.5,119.9H0M-3.5,118.2H0M-3.5,106.7H0M-3.5,100.9H0M-3.5,96.8H0M-4.5,93.6H0M-3.5,91.0H0M-3.5,88.8H0M-3.5,86.9H0M-3.5,85.2H0M-3.5,73.4H0M-3.5,67.4H0M-3.5,63.2H0M-4.5,59.9H0M-3.5,57.2H0M-3.5,54.9H0M-3.5,52.9H0M-3.5,51.2H0M-3.5,39.4H0M-3.5,33.5H0M-3.5,29.3H0M-4.5,26.0H0M-3.5,23.3H0M-3.5,21.0H0M-3.5,19.1H0M-3.5,17.3H0M-3.5,5.6H0M-5,218.5H0M-5,220.5H0M-5,222.5H0M-5,224H0M-5,226H0M-5,228H0M-5,230H0M-5,232.5H0M-5,234.5H0M-7,234.5H0M35.8,235.5V242.5M74.7,235.5V242.5M112.5,235.5V242.5M149.9,235.5V242.5M187.7,235.5V242.5M226.1,235.5V242.5M47.5,235.5V239.0M54.4,235.5V239.0M59.2,235.5V239.0M63.0,235.5V240.0M66.1,235.5V239.0M68.7,235.5V239.0M70.9,235.5V239.0M72.9,235.5V239.0M86.1,235.5V239.0M92.7,235.5V239.0M97.5,235.5V239.0M101.1,235.5V240.0M104.1,235.5V239.0M106.6,235.5V239.0M108.8,235.5V239.0M110.8,235.5V239.0M123.8,235.5V239.0M130.3,235.5V239.0M135.0,235.5V239.0M138.6,235.5V240.0M141.6,235.5V239.0M144.1,235.5V239.0M146.3,235.5V239.0M148.2,235.5V239.0M161.3,235.5V239.0M167.9,235.5V239.0M172.7,235.5V239.0M176.3,235.5V240.0M179.3,235.5V239.0M181.8,235.5V239.0M184.0,235.5V239.0M186.0,235.5V239.0M199.3,235.5V239.0M206.0,235.5V239.0M210.8,235.5V239.0M214.5,235.5V240.0M217.6,235.5V239.0M220.2,235.5V239.0M222.4,235.5V239.0M224.3,235.5V239.0M4,235.5V240.5M6,235.5V240.5M8,235.5V240.5M9.5,235.5V240.5M11,235.5V240.5M12.5,235.5V240.5M14,235.5V240.5M15.5,235.5V240.5M17.5,235.5V239.0M20,235.5V239.0M23,235.5V239.0M27,235.5V239.0M31,235.5V239.0" stroke="#000" stroke-width="1.45" fill="none"/>
<text x="-22.8" y="54.7" font-size="22.6" text-anchor="end">10</text>
<text x="-22.4" y="47.8" font-size="16">8</text>
<text x="-22.8" y="86.9" font-size="22.6" text-anchor="end">10</text>
<text x="-22.4" y="80.0" font-size="16">7</text>
<text x="-22.8" y="121.8" font-size="22.6" text-anchor="end">10</text>
<text x="-22.4" y="114.9" font-size="16">6</text>
<text x="-22.8" y="156.4" font-size="22.6" text-anchor="end">10</text>
<text x="-22.4" y="149.5" font-size="16">5</text>
<text x="-22.8" y="187.6" font-size="22.6" text-anchor="end">10</text>
<text x="-22.4" y="180.7" font-size="16">4</text>
<text x="-22.8" y="223.4" font-size="22.6" text-anchor="end">10</text>
<text x="-22.4" y="216.5" font-size="16">3</text>
<text x="-13.8" y="234.6" font-size="22.6" text-anchor="end">0</text>
<text x="-2.7" y="267.8" font-size="22.6">0</text>
<text x="17.5" y="270.4" font-size="22.6">10<tspan dy="-6.8" font-size="16">2</tspan></text>
<text x="57.2" y="270.4" font-size="22.6">10<tspan dy="-6.8" font-size="16">3</tspan></text>
<text x="94.5" y="270.4" font-size="22.6">10<tspan dy="-6.8" font-size="16">4</tspan></text>
<text x="128.2" y="270.4" font-size="22.6">10<tspan dy="-6.8" font-size="16">5</tspan></text>
<text x="162.3" y="270.4" font-size="22.6">10<tspan dy="-6.8" font-size="16">6</tspan></text>
<text x="206.0" y="270.4" font-size="22.6">10<tspan dy="-6.8" font-size="16">7</tspan></text>
<text x="12.5" y="28.6" font-size="23">1.32</text>
<text x="222.1" y="28.6" font-size="23" text-anchor="end">8.99</text>
<text x="12.5" y="218.0" font-size="23">86.1</text>
<text x="222.0" y="218.0" font-size="23" text-anchor="end">3.53</text>
</g>
<text x="950.4" y="928.2" font-size="23.6" text-anchor="middle">LPS+CAR</text>
<g transform="translate(834.9,940)">
<svg width="235.7" height="235.5" overflow="hidden">
<path d="M100 178 96 178 94 178 90 178 88 177 86 176 84 176 82 174 81 172 81 170 81 166 82 164 82 162 83 160 84 158 85 156 86 154 88 152 88 150 90 148 91 146 92 145 94 144 95 142 96 140 98 138 100 137 101 136 102 134 104 132 106 131 108 130 109 128 110 127 112 126 114 125 116 124 118 122 120 121 122 120 124 119 125 118 126 116 128 114 129 112 129 110 128 108 127 106 126 104 125 102 124 99 124 96 124 94 123 92 123 88 123 86 123 82 123 80 123 76 122 74 122 72 121 70 120 68 120 64 120 62 120 59 122 57 123 56 124 54 126 52 128 51 130 50 132 49 134 48 136 48 138 47 142 47 144 47 148 47 150 47 154 47 156 47 158 48 162 48 164 49 166 50 168 51 170 52 172 53 173 54 174 56 176 58 177 60 178 62 178 64 178 68 177 70 176 72 175 74 174 76 172 77 172 79 170 80 168 82 167 84 165 84 164 86 163 88 162 90 161 92 160 94 159 96 158 98 157 100 156 102 155 104 154 107 154 110 154 112 156 114 156 116 158 118 159 120 160 122 161 124 162 126 163 128 163 130 162 132 161 134 160 136 159 138 158 140 156 142 154 143 154 145 152 146 150 148 149 150 148 151 146 152 144 154 142 155 141 156 140 158 138 160 136 161 134 162 132 163 131 164 130 166 128 167 126 168 124 169 122 170 120 171 118 172 116 173 114 174 112 175 109 176 106 176 104 177 102 177 100 178Z" fill="#3030ff" fill-opacity="0.16"/><path d="M146 104 142 104 140 104 138 102 136 101 135 100 134 97 134 94 135 92 136 90 136 88 138 86 139 84 140 82 141 80 140 78 138 77 137 76 136 74 134 72 132 71 131 70 130 68 128 66 128 64 128 62 128 60 129 58 130 56 132 55 134 54 136 53 138 52 142 52 144 52 148 52 150 52 152 53 154 54 156 55 158 56 160 58 161 60 162 62 163 64 162 66 162 68 160 70 159 72 158 73 156 74 154 76 152 77 152 80 154 81 155 82 156 84 157 86 157 90 157 92 156 94 155 96 154 98 152 100 150 101 149 102 146 103ZM108 172 104 172 102 172 98 172 96 171 94 170 92 169 91 168 90 166 90 162 90 160 90 157 92 155 92 152 93 150 94 149 96 147 97 146 98 144 100 142 101 140 102 138 104 137 105 136 106 134 108 133 110 132 112 130 114 129 115 128 117 126 118 125 120 124 122 123 124 122 126 121 128 120 130 119 132 118 135 118 138 117 140 116 142 116 144 117 146 118 148 119 150 120 152 122 153 124 154 126 154 128 154 132 154 134 153 136 152 138 151 140 150 142 148 144 148 146 146 148 144 149 143 150 142 152 140 154 138 155 137 156 136 158 134 159 132 160 130 162 128 163 126 164 124 165 122 166 120 167 118 168 116 169 114 170 112 170 110 171 108 172Z" fill="#2020ff" fill-opacity="0.3"/><path d="M146 65 144 65 140 65 138 64 138 62 139 60 142 59 144 58 146 59 148 60 148 62 147 64ZM150 99 146 99 144 98 143 96 142 94 142 92 143 90 144 88 146 86 148 85 150 85 153 86 154 88 155 90 155 92 154 94 153 96 152 98 150 99ZM112 168 108 168 106 168 102 168 100 167 98 166 96 165 96 163 95 160 95 158 96 155 96 152 97 150 98 148 99 146 100 145 102 143 103 142 104 140 106 138 108 137 109 136 110 134 112 132 114 131 116 130 118 129 119 128 121 126 123 126 125 124 127 124 130 123 132 122 134 122 136 121 140 121 142 121 144 122 146 124 148 125 149 126 150 128 150 132 150 134 149 136 148 138 148 141 146 142 145 144 144 146 142 148 141 150 140 151 138 152 136 154 135 156 134 157 132 158 130 160 128 160 126 162 124 163 122 164 120 165 118 166 116 166 114 167 112 168Z" fill="#0040ff"/><path d="M148 97 146 96 145 94 145 92 146 90 148 88 150 88 152 89 153 92 152 94 151 96 149 96ZM114 165 110 165 108 165 104 165 102 164 101 162 100 161 99 158 99 156 99 152 100 150 101 148 102 146 103 144 104 143 106 142 107 140 108 138 110 136 112 135 114 134 115 132 117 132 118 130 120 129 122 128 124 127 126 126 128 125 132 125 134 124 136 124 140 124 142 125 144 126 145 128 146 130 146 132 147 134 146 136 146 139 144 141 144 143 142 144 141 146 140 148 138 150 136 151 135 152 134 154 132 156 130 157 128 158 126 159 124 160 122 161 120 162 118 163 116 164 114 164Z" fill="#0088ff"/><path d="M116 162 114 162 110 162 108 162 106 161 104 160 102 158 102 156 102 152 103 150 104 148 105 146 106 144 107 142 108 141 110 140 112 138 113 136 114 135 116 134 118 132 120 132 122 130 124 129 126 128 128 128 130 127 134 127 136 127 139 128 141 128 142 130 143 132 144 134 143 136 143 140 142 142 141 144 140 145 138 147 137 148 136 150 134 152 132 153 130 154 129 156 128 157 126 158 124 159 122 160 120 161 117 162Z" fill="#00c8f8"/><path d="M114 160 112 159 108 159 107 158 106 156 105 154 106 152 106 148 107 146 108 145 110 143 111 142 112 140 114 138 116 137 117 136 119 134 120 133 122 132 124 131 127 130 130 130 132 129 134 130 136 130 138 131 140 133 140 136 140 138 139 140 138 142 137 144 136 146 134 148 133 150 132 151 130 152 128 154 126 155 124 156 122 157 120 158 118 159 116 159 114 160Z" fill="#00e8c8"/><path d="M116 157 114 157 112 156 110 154 109 152 109 150 110 148 111 146 112 144 114 142 114 140 116 139 118 138 120 136 122 135 124 134 126 133 128 132 130 132 133 132 135 134 136 135 137 138 137 140 136 142 135 144 134 146 132 148 130 149 129 150 128 152 126 153 124 154 122 155 120 156 117 156Z" fill="#20e860"/><path d="M118 154 116 154 114 153 112 151 112 148 113 146 114 144 115 142 116 141 118 140 120 138 122 137 124 136 126 136 128 135 132 135 133 136 134 138 134 141 133 144 132 145 130 146 128 148 127 150 126 151 124 152 122 153 119 154Z" fill="#90f000"/><path d="M122 151 118 151 116 150 115 148 116 146 116 144 118 142 120 141 121 140 123 138 126 138 128 137 130 138 131 140 131 142 130 144 128 146 127 148 126 149 124 150 122 151Z" fill="#fff000"/><path d="M122 149 120 149 118 148 118 144 120 143 121 142 123 140 126 140 128 140 129 142 128 144 126 146 124 147 123 148Z" fill="#ff8000"/><path d="M122 148 120 147 120 145 120 143 122 142 124 141 127 142 126 144 125 146 124 147 122 148Z" fill="#f01000"/><g transform="scale(1.2)" stroke-width="1"><path d="M145 4h1m-16 6h1m-3 4h1m11 4h1m2 0h1m-13 2h1m9 1h1m8 0h1m2 0h1m1 0h1m3 1h1m-60 1h1m13 0h1m0 1h1m15 0h1m-13 2h1m16 0h1m14 0h1m-32 1h1m11 0h1m38 0h1m-54 1h1m4 0h1m13 0h1m22 0h1m-48 1h1m3 0h1m2 0h1m12 0h1m2 0h2m1 0h1m15 0h1m1 0h1m-47 1h1m13 0h1m2 0h1m7 0h1m8 0h1m13 0h1m14 0h2m-34 1h1m1 0h1m8 0h1m5 0h1m-141 1h1m66 0h1m30 0h1m3 0h1m4 0h2m2 0h1m7 0h1m6 0h2m2 0h1m3 0h1m11 0h1m-41 1h2m8 0h1m1 0h1m2 0h1m3 0h1m2 0h1m11 0h1m7 0h1m2 0h1m-76 1h1m12 0h1m5 0h1m2 0h1m8 0h1m10 0h1m2 0h1m2 0h1m3 0h1m4 0h1m2 0h1m35 0h1m-156 1h1m59 0h1m23 0h1m1 0h1m1 0h1m2 0h1m3 0h1m8 0h1m2 0h1m5 0h1m4 0h1m5 0h1m-67 1h1m3 0h1m4 0h1m5 0h2m8 0h1m1 0h1m3 0h1m2 0h3m2 0h2m5 0h2m6 0h1m-41 1h1m4 0h1m2 0h1m1 0h1m5 0h1m5 0h1m2 0h1m11 0h1m2 0h2m4 0h1m2 0h2m13 0h1m21 0h1m-81 1h2m2 0h1m2 0h1m1 0h2m1 0h2m4 0h1m4 0h1m7 0h1m2 0h1m4 0h1m5 0h1m2 0h1m4 0h2m-68 1h1m2 0h1m2 0h1m2 0h1m1 0h1m5 0h3m2 0h1m2 0h1m7 0h1m3 0h1m11 0h1m-57 1h1m8 0h2m4 0h1m7 0h2m1 0h1m1 0h3m1 0h1m2 0h1m1 0h3m4 0h2m3 0h1m6 0h2m3 0h1m27 0h1m-113 1h1m26 0h1m3 0h1m3 0h1m6 0h1m2 0h6m4 0h1m1 0h1m1 0h2m1 0h2m1 0h1m4 0h1m4 0h1m5 0h1m2 0h2m6 0h2m14 0h1m5 0h1m-86 1h1m4 0h2m1 0h5m4 0h1m2 0h2m1 0h1m1 0h2m2 0h1m1 0h1m2 0h1m5 0h3m6 0h1m1 0h1m10 0h1m2 0h1m-72 1h1m4 0h1m2 0h1m2 0h1m3 0h1m1 0h1m3 0h1m1 0h1m4 0h1m1 0h1m2 0h2m2 0h2m1 0h1m7 0h1m6 0h1m15 0h1m-72 1h1m4 0h2m1 0h1m1 0h1m4 0h1m1 0h4m2 0h1m1 0h1m1 0h1m3 0h1m2 0h1m4 0h1m6 0h1m2 0h1m1 0h2m7 0h1m12 0h1m22 0h1m-97 1h2m4 0h1m1 0h2m3 0h2m1 0h3m1 0h1m2 0h5m2 0h3m1 0h1m1 0h1m4 0h3m1 0h1m7 0h1m10 0h1m-118 1h1m51 0h2m2 0h2m6 0h1m2 0h5m3 0h1m1 0h2m1 0h3m1 0h2m2 0h1m2 0h2m1 0h2m1 0h1m5 0h1m1 0h1m1 0h2m4 0h1m2 0h2m13 0h1m-76 1h1m2 0h2m5 0h3m1 0h3m1 0h6m1 0h1m2 0h2m4 0h1m2 0h3m1 0h4m2 0h1m1 0h1m1 0h1m3 0h1m1 0h1m1 0h1m5 0h2m22 0h1m-88 1h2m3 0h1m1 0h7m2 0h1m1 0h4m1 0h2m1 0h1m2 0h2m5 0h1m1 0h1m4 0h1m1 0h1m8 0h1m6 0h1m6 0h1m3 0h1m-84 1h1m6 0h1m3 0h1m1 0h2m2 0h1m2 0h1m2 0h1m3 0h2m1 0h1m2 0h1m2 0h3m1 0h1m2 0h3m1 0h2m1 0h1m1 0h2m2 0h5m2 0h2m10 0h2m9 0h1m-81 1h1m1 0h2m4 0h1m1 0h1m4 0h6m4 0h1m2 0h1m1 0h2m4 0h2m2 0h1m6 0h1m4 0h1m4 0h1m2 0h2m4 0h1m1 0h1m1 0h2m9 0h1m-93 1h1m8 0h1m4 0h1m6 0h2m1 0h1m2 0h1m2 0h3m5 0h1m2 0h2m3 0h2m1 0h1m2 0h5m2 0h2m1 0h3m4 0h2m1 0h2m7 0h1m3 0h1m11 0h1m6 0h1m-108 1h1m3 0h1m7 0h1m1 0h1m5 0h1m2 0h2m1 0h5m1 0h1m10 0h6m2 0h4m1 0h2m1 0h2m2 0h1m3 0h3m2 0h2m4 0h1m8 0h1m3 0h1m-89 1h1m9 0h1m3 0h1m6 0h1m5 0h3m3 0h2m2 0h1m1 0h2m2 0h6m1 0h3m2 0h2m3 0h1m1 0h2m3 0h1m1 0h1m5 0h2m4 0h1m9 0h1m13 0h1m-102 1h1m11 0h2m4 0h1m1 0h2m1 0h2m1 0h2m1 0h1m3 0h3m2 0h2m2 0h1m1 0h2m1 0h1m2 0h1m2 0h1m1 0h1m1 0h1m1 0h1m2 0h1m2 0h2m8 0h1m3 0h1m-77 1h1m8 0h1m2 0h1m1 0h1m1 0h1m1 0h1m4 0h1m1 0h1m7 0h3m1 0h2m1 0h1m1 0h1m1 0h1m5 0h2m1 0h3m4 0h1m7 0h1m9 0h1m3 0h1m2 0h1m-94 1h1m3 0h1m7 0h1m9 0h2m2 0h1m1 0h1m1 0h1m1 0h2m2 0h1m1 0h1m2 0h2m6 0h3m3 0h1m1 0h1m1 0h2m1 0h1m4 0h1m7 0h1m3 0h1m-104 1h1m34 0h1m10 0h1m3 0h1m1 0h1m1 0h1m6 0h3m1 0h1m1 0h1m1 0h1m2 0h1m1 0h5m2 0h1m1 0h2m3 0h1m2 0h1m1 0h1m9 0h1m2 0h1m2 0h1m-85 1h1m3 0h1m3 0h3m8 0h1m1 0h3m3 0h2m1 0h1m2 0h3m1 0h2m3 0h1m1 0h1m1 0h4m11 0h3m3 0h1m1 0h1m4 0h1m1 0h1m-94 1h1m21 0h1m7 0h1m3 0h1m4 0h1m2 0h3m2 0h4m1 0h1m2 0h1m2 0h2m4 0h1m1 0h1m2 0h1m11 0h2m1 0h1m4 0h1m5 0h1m2 0h1m6 0h1m-76 1h1m5 0h1m4 0h1m1 0h3m3 0h3m1 0h3m1 0h1m1 0h1m5 0h5m2 0h2m6 0h1m1 0h1m2 0h1m1 0h1m6 0h2m15 0h1m-95 1h1m12 0h1m3 0h2m2 0h1m1 0h1m3 0h1m1 0h3m2 0h3m6 0h1m4 0h1m1 0h1m1 0h2m1 0h1m3 0h1m2 0h2m10 0h1m1 0h1m-79 1h1m6 0h1m2 0h1m4 0h1m3 0h2m1 0h2m1 0h2m1 0h1m2 0h2m3 0h3m1 0h2m3 0h1m2 0h2m1 0h1m6 0h1m2 0h3m2 0h1m1 0h1m6 0h1m1 0h1m1 0h1m-67 1h1m4 0h1m3 0h2m2 0h3m3 0h5m1 0h2m2 0h2m6 0h1m3 0h1m4 0h2m6 0h6m16 0h1m-77 1h1m2 0h1m6 0h2m5 0h3m1 0h4m4 0h1m1 0h1m4 0h1m1 0h2m3 0h1m3 0h1m4 0h3m5 0h3m6 0h2m-76 1h1m1 0h1m5 0h1m1 0h1m2 0h2m1 0h1m2 0h3m1 0h3m1 0h1m2 0h1m1 0h2m5 0h1m1 0h1m1 0h3m2 0h1m4 0h1m1 0h2m2 0h1m6 0h3m7 0h1m6 0h1m-92 1h1m11 0h1m4 0h1m1 0h1m2 0h2m1 0h1m1 0h1m5 0h1m5 0h3m4 0h3m2 0h1m2 0h2m1 0h1m4 0h1m3 0h2m3 0h1m6 0h1m8 0h2m6 0h1m-93 1h1m3 0h1m6 0h1m5 0h1m1 0h1m3 0h1m1 0h1m2 0h2m6 0h3m5 0h1m1 0h2m1 0h1m3 0h1m2 0h1m3 0h1m6 0h1m6 0h1m5 0h1m15 0h1m-90 1h2m2 0h1m2 0h1m4 0h1m1 0h1m1 0h1m1 0h3m1 0h1m1 0h5m1 0h2m3 0h1m1 0h1m9 0h2m2 0h1m33 0h1m-96 1h1m15 0h2m5 0h1m3 0h3m1 0h1m1 0h1m1 0h3m3 0h4m2 0h1m5 0h1m1 0h1m1 0h1m1 0h1m10 0h2m8 0h1m-72 1h1m2 0h1m2 0h1m1 0h1m3 0h1m2 0h1m1 0h1m2 0h1m2 0h4m1 0h3m1 0h1m1 0h2m1 0h1m2 0h3m2 0h1m1 0h2m3 0h1m1 0h1m1 0h1m1 0h1m2 0h1m1 0h1m4 0h1m2 0h1m-80 1h1m25 0h2m4 0h1m3 0h2m2 0h1m1 0h1m5 0h2m2 0h1m1 0h3m7 0h2m8 0h1m8 0h1m4 0h1m-93 1h1m8 0h1m2 0h1m8 0h4m2 0h1m2 0h2m3 0h1m3 0h2m1 0h1m7 0h1m1 0h1m4 0h1m1 0h1m2 0h1m2 0h1m9 0h1m19 0h1m-108 1h1m13 0h1m12 0h1m5 0h1m2 0h4m3 0h2m1 0h1m2 0h4m1 0h2m8 0h1m1 0h2m3 0h2m3 0h1m9 0h1m19 0h1m-114 1h1m30 0h1m3 0h1m11 0h1m3 0h3m2 0h6m9 0h2m2 0h1m8 0h1m7 0h1m1 0h1m-90 1h1m24 0h1m2 0h2m6 0h1m2 0h1m12 0h4m16 0h2m12 0h1m22 0h1m3 0h1m-90 1h2m8 0h1m2 0h1m6 0h4m2 0h1m1 0h1m1 0h1m13 0h2m14 0h1m11 0h1m-145 1h1m61 0h1m16 0h1m12 0h1m1 0h4m2 0h1m13 0h4m1 0h2m16 0h1m4 0h1m-94 1h1m27 0h1m2 0h1m9 0h1m1 0h1m3 0h2m1 0h2m12 0h1m1 0h2m2 0h2m5 0h1m16 0h1m-74 1h1m14 0h2m2 0h3m1 0h3m2 0h1m1 0h1m1 0h1m10 0h1m1 0h1m1 0h2m2 0h1m2 0h1m1 0h1m-41 1h1m3 0h1m2 0h1m3 0h1m2 0h2m10 0h1m1 0h1m4 0h1m1 0h1m4 0h1m8 0h1m-71 1h1m14 0h1m2 0h2m4 0h1m2 0h1m2 0h3m2 0h3m8 0h6m5 0h1m8 0h1m20 0h1m-86 1h1m9 0h1m4 0h1m1 0h2m1 0h1m2 0h1m6 0h1m5 0h1m3 0h3m1 0h1m3 0h4m4 0h1m9 0h2m7 0h1m1 0h1m9 0h1m-83 1h1m9 0h1m5 0h1m6 0h3m2 0h1m2 0h1m2 0h1m1 0h2m1 0h1m8 0h1m4 0h1m8 0h1m5 0h1m-70 1h1m12 0h2m3 0h2m1 0h1m2 0h2m3 0h5m1 0h1m5 0h3m1 0h1m1 0h1m2 0h1m14 0h1m1 0h1m16 0h1m-102 1h1m13 0h1m12 0h2m2 0h1m3 0h1m11 0h1m1 0h1m1 0h2m3 0h1m4 0h1m8 0h1m2 0h2m2 0h1m1 0h2m2 0h1m2 0h1m2 0h1m-79 1h1m14 0h1m8 0h1m2 0h1m2 0h1m4 0h1m1 0h1m4 0h3m1 0h3m2 0h1m13 0h1m-47 1h1m2 0h1m4 0h1m2 0h2m1 0h3m1 0h1m2 0h2m3 0h5m3 0h1m3 0h1m7 0h1m12 0h1m22 0h1m-95 1h1m15 0h1m3 0h1m1 0h1m1 0h3m4 0h1m3 0h1m1 0h1m2 0h2m18 0h1m19 0h1m-80 1h1m7 0h2m4 0h1m5 0h3m1 0h2m1 0h1m4 0h2m2 0h1m1 0h1m2 0h1m1 0h1m7 0h1m15 0h1m6 0h1m3 0h1m4 0h1m2 0h1m8 0h1m-90 1h1m8 0h1m3 0h2m2 0h2m1 0h1m1 0h1m7 0h1m1 0h1m2 0h1m1 0h3m3 0h1m13 0h1m3 0h1m2 0h1m6 0h1m19 0h1m-118 1h1m13 0h1m3 0h1m2 0h1m11 0h2m2 0h1m2 0h1m1 0h2m4 0h2m1 0h2m1 0h1m1 0h1m3 0h3m18 0h1m1 0h1m5 0h1m9 0h1m13 0h1m-83 1h1m4 0h1m1 0h1m4 0h1m3 0h4m3 0h2m4 0h1m2 0h1m11 0h1m3 0h1m8 0h1m1 0h1m-59 1h1m1 0h3m5 0h2m5 0h2m3 0h1m4 0h1m14 0h2m6 0h1m22 0h1m-62 1h1m5 0h1m2 0h1m3 0h1m1 0h1m1 0h1m6 0h1m7 0h1m2 0h1m6 0h1m13 0h1m-69 1h1m4 0h2m5 0h1m1 0h2m1 0h2m3 0h4m4 0h1m3 0h1m8 0h1m1 0h1m7 0h1m9 0h1m7 0h1m6 0h1m14 0h1m-91 1h2m5 0h4m3 0h1m1 0h1m1 0h1m1 0h1m1 0h1m17 0h1m1 0h3m4 0h1m9 0h1m16 0h1m-99 1h1m17 0h1m3 0h1m4 0h2m3 0h1m1 0h1m3 0h1m2 0h2m9 0h1m5 0h1m2 0h1m2 0h2m19 0h1m12 0h1m-85 1h1m5 0h1m1 0h4m7 0h1m2 0h3m1 0h1m2 0h1m6 0h1m3 0h1m9 0h1m11 0h1m2 0h1m5 0h1m-81 1h1m10 0h1m2 0h1m3 0h1m7 0h1m2 0h2m2 0h1m1 0h1m5 0h1m2 0h1m2 0h2m1 0h1m4 0h3m1 0h1m1 0h1m3 0h1m22 0h1m-80 1h1m1 0h2m3 0h2m1 0h1m4 0h1m1 0h3m1 0h3m1 0h4m6 0h1m3 0h1m1 0h1m4 0h2m3 0h2m6 0h1m5 0h1m3 0h2m4 0h1m3 0h1m-92 1h1m7 0h1m1 0h2m7 0h1m1 0h2m1 0h3m1 0h1m1 0h1m5 0h1m1 0h4m2 0h1m1 0h1m5 0h1m19 0h1m3 0h1m5 0h2m-76 1h1m1 0h1m2 0h3m1 0h4m1 0h2m12 0h1m1 0h1m1 0h2m1 0h1m1 0h1m2 0h1m4 0h2m2 0h1m1 0h1m3 0h1m3 0h1m10 0h1m1 0h1m7 0h1m-86 1h1m5 0h1m4 0h2m2 0h1m1 0h4m14 0h2m1 0h5m1 0h1m2 0h1m2 0h1m3 0h1m3 0h1m2 0h1m6 0h1m1 0h1m3 0h2m8 0h1m-90 1h1m3 0h1m1 0h1m8 0h2m1 0h2m2 0h1m17 0h1m1 0h3m1 0h1m2 0h1m1 0h1m8 0h1m4 0h1m4 0h1m4 0h1m2 0h1m1 0h1m-79 1h1m7 0h1m1 0h1m1 0h1m2 0h2m1 0h2m20 0h3m14 0h1m1 0h1m5 0h1m1 0h2m7 0h1m6 0h1m2 0h1m-74 1h1m1 0h1m25 0h1m1 0h1m1 0h1m2 0h2m2 0h1m3 0h1m3 0h1m1 0h1m2 0h1m1 0h1m7 0h1m4 0h1m-83 1h1m8 0h1m2 0h1m1 0h2m27 0h1m1 0h1m1 0h1m1 0h1m12 0h1m3 0h1m5 0h1m1 0h1m2 0h1m1 0h1m3 0h1m-94 1h1m12 0h1m1 0h1m1 0h2m1 0h1m2 0h2m29 0h2m3 0h1m5 0h2m4 0h1m1 0h1m2 0h2m6 0h1m11 0h1m3 0h2m-95 1h1m1 0h1m6 0h2m3 0h1m1 0h1m29 0h4m2 0h1m1 0h1m5 0h1m4 0h1m1 0h1m10 0h2m2 0h2m5 0h1m-81 1h1m1 0h5m31 0h1m2 0h2m1 0h1m4 0h1m4 0h1m2 0h1m2 0h1m2 0h1m8 0h1m-87 1h1m6 0h1m2 0h1m5 0h1m1 0h1m32 0h5m3 0h1m14 0h1m1 0h1m6 0h1m20 0h1m-96 1h1m1 0h2m2 0h1m1 0h1m35 0h1m2 0h1m1 0h1m6 0h1m1 0h1m2 0h4m1 0h1m3 0h1m6 0h1m5 0h1m5 0h1m-94 1h1m2 0h2m1 0h1m2 0h3m37 0h2m1 0h2m2 0h1m4 0h2m3 0h1m2 0h1m4 0h1m2 0h1m-80 1h1m7 0h1m2 0h1m40 0h3m1 0h1m1 0h1m5 0h1m3 0h1m2 0h1m5 0h2m3 0h2m1 0h1m-90 1h1m7 0h1m4 0h1m1 0h1m36 0h1m1 0h1m2 0h1m1 0h1m5 0h1m8 0h2m3 0h1m-74 1h1m2 0h1m4 0h1m38 0h1m1 0h5m1 0h1m2 0h1m1 0h1m3 0h1m4 0h1m3 0h2m-88 1h1m12 0h1m5 0h2m38 0h1m4 0h2m12 0h1m-83 1h1m5 0h1m4 0h1m4 0h1m5 0h3m35 0h4m1 0h2m3 0h3m1 0h1m9 0h1m4 0h1m4 0h1m9 0h1m-107 1h1m14 0h1m4 0h1m2 0h1m1 0h1m37 0h1m2 0h2m1 0h1m6 0h1m1 0h1m1 0h1m18 0h1m-84 1h3m3 0h1m42 0h1m9 0h1m2 0h1m14 0h1m-89 1h2m7 0h1m6 0h1m1 0h1m37 0h1m2 0h2m5 0h1m3 0h1m2 0h1m3 0h1m2 0h2m8 0h1m-105 1h1m6 0h1m20 0h1m2 0h1m37 0h1m2 0h2m2 0h1m27 0h1m-94 1h1m3 0h1m8 0h1m1 0h2m2 0h2m37 0h4m10 0h1m1 0h1m8 0h1m1 0h1m8 0h1m15 0h1m-99 1h1m1 0h1m2 0h3m37 0h1m1 0h5m2 0h1m2 0h1m30 0h1m-110 1h1m8 0h1m6 0h1m1 0h1m4 0h1m1 0h1m1 0h2m38 0h1m1 0h3m7 0h1m1 0h1m12 0h1m-85 1h1m6 0h1m4 0h1m2 0h3m45 0h2m17 0h1m-85 1h1m8 0h1m2 0h1m3 0h2m1 0h1m39 0h2m4 0h1m2 0h1m5 0h1m2 0h1m3 0h1m4 0h1m14 0h1m10 0h1m-108 1h1m7 0h2m1 0h1m38 0h1m2 0h2m1 0h1m4 0h1m15 0h1m-97 1h1m14 0h1m11 0h3m36 0h1m1 0h1m1 0h2m2 0h2m10 0h1m23 0h1m-104 1h1m9 0h1m6 0h2m2 0h1m3 0h1m32 0h3m4 0h1m4 0h1m9 0h2m-89 1h1m15 0h1m2 0h1m4 0h3m2 0h2m33 0h1m5 0h2m-69 1h1m8 0h2m5 0h1m1 0h1m1 0h1m2 0h1m1 0h2m35 0h1m1 0h3m4 0h1m1 0h1m-65 1h2m7 0h1m1 0h1m2 0h1m2 0h2m31 0h3m1 0h1m20 0h1m8 0h1m-83 1h1m3 0h1m3 0h1m2 0h1m3 0h2m1 0h1m27 0h3m2 0h1m11 0h2m-69 1h1m2 0h1m4 0h1m3 0h2m1 0h1m4 0h4m25 0h2m5 0h2m1 0h1m5 0h1m-73 1h1m5 0h1m3 0h1m6 0h1m2 0h4m5 0h1m24 0h2m1 0h1m3 0h1m1 0h1m3 0h2m16 0h1m-78 1h1m3 0h1m3 0h1m3 0h2m2 0h3m1 0h1m1 0h1m20 0h1m1 0h2m8 0h1m-69 1h1m10 0h2m1 0h1m9 0h1m1 0h1m1 0h6m20 0h1m2 0h1m1 0h2m1 0h1m26 0h1m-83 1h1m2 0h2m3 0h2m2 0h1m2 0h1m4 0h1m1 0h6m1 0h1m13 0h3m1 0h4m3 0h1m20 0h1m-88 1h1m10 0h2m5 0h2m2 0h1m3 0h1m3 0h3m2 0h3m1 0h1m1 0h2m1 0h1m1 0h2m2 0h2m1 0h1m2 0h2m2 0h1m2 0h2m-44 1h1m5 0h4m2 0h2m2 0h1m1 0h2m1 0h6m2 0h1m1 0h4m3 0h1m2 0h1m3 0h1m7 0h1m-62 1h1m6 0h1m3 0h1m7 0h4m1 0h1m3 0h3m4 0h3m4 0h1m90 0h1m-138 1h1m16 0h2m1 0h1m1 0h1m2 0h3m6 0h4m2 0h1m11 0h1m2 0h1m-73 1h1m28 0h1m2 0h1m5 0h1m4 0h1m3 0h1m2 0h5m4 0h2m2 0h2m6 0h1m6 0h2m-67 1h1m10 0h1m2 0h2m9 0h1m4 0h6m2 0h3m1 0h2m10 0h1m9 0h1m1 0h1m-54 1h1m5 0h2m3 0h2m3 0h1m1 0h1m3 0h1m6 0h1m4 0h1m1 0h1m4 0h1m-66 1h1m9 0h1m11 0h1m1 0h2m2 0h1m2 0h2m8 0h1m15 0h1m6 0h1m1 0h1m1 0h2m-55 1h1m7 0h1m5 0h1m3 0h1m2 0h1m3 0h1m1 0h1m4 0h1m3 0h1m3 0h1m63 0h1m-114 1h1m2 0h1m4 0h1m1 0h1m1 0h2m13 0h1m2 0h1m1 0h3m4 0h1m2 0h1m1 0h1m3 0h1m8 0h1m4 0h2m3 0h2m13 0h1m-73 1h1m5 0h1m10 0h1m1 0h1m2 0h1m3 0h1m3 0h1m1 0h1m1 0h3m3 0h1m5 0h1m-48 1h1m7 0h1m3 0h2m2 0h2m1 0h1m2 0h1m5 0h1m6 0h1m-49 1h1m1 0h1m7 0h1m2 0h1m6 0h1m3 0h1m9 0h1m1 0h1m3 0h2m1 0h1m2 0h1m7 0h1m2 0h1m2 0h1m9 0h1m64 0h1m-123 1h2m1 0h1m1 0h1m1 0h3m8 0h1m1 0h1m2 0h2m4 0h1m1 0h1m1 0h1m3 0h1m-65 1h1m19 0h1m2 0h1m1 0h1m4 0h1m12 0h1m10 0h1m7 0h1m-40 1h1m12 0h1m3 0h1m10 0h1m1 0h1m1 0h1m18 0h1m2 0h1m-51 1h1m5 0h1m3 0h1m2 0h1m2 0h1m2 0h1m1 0h1m6 0h1m3 0h1m3 0h1m11 0h1m-61 1h1m17 0h1m1 0h2m2 0h1m3 0h1m5 0h1m5 0h2m1 0h1m12 0h1m-55 1h1m3 0h1m7 0h1m3 0h1m11 0h1m27 0h1m-62 1h1m2 0h2m12 0h1m1 0h1m9 0h1m5 0h1m2 0h1m5 0h1m6 0h1m4 0h1m-72 1h1m36 0h1m6 0h1m5 0h1m90 0h1m-143 1h1m4 0h1m13 0h1m10 0h2m4 0h1m7 0h1m2 0h1m12 0h1m-69 1h1m23 0h1m24 0h1m-25 1h1m1 0h1m13 0h1m4 0h1m11 0h1m-39 1h1m14 0h1m5 0h1m6 0h1m2 0h1m12 0h1m-42 1h2m20 0h1m15 0h1m10 0h1m-61 1h1m27 0h1m21 0h1m2 0h1m10 0h1m34 0h1m-91 1h1m28 0h1m-28 1h1m9 0h1m20 0h1m-40 1h1m86 0h1m-71 1h1m5 0h1m-19 1h1m10 0h1m128 0h1m-114 1h1m-21 1h1m36 0h1m-31 1h1m-32 2h1m156 0h1m-144 1h1m31 0h1m2 0h1m6 0h1m-11 2h1m-52 1h1m20 0h1m12 1h1m-3 1h1m-34 1h1m-4 5h1m34 1h1m48 0h1m-24 4h1m6 1h1m20 0h1m4 0h1m14 0h1m4 0h1m3 0h1m-60 1h1m4 0h1m1 0h1m8 0h1m8 0h1m13 0h1m20 0h1" stroke="#1a1aff"/><path d="M119 48h1m-4 1h1m3 0h2m-5 1h1m1 0h4m-3 1h1m3 0h1m-10 1h5m1 0h1m1 0h1m-10 1h1m1 0h1m2 0h1m1 0h1m-7 1h1m1 0h3m-2 1h2m3 0h1m0 16h1m1 0h1m-5 1h2m1 0h3m-7 1h1m1 0h1m2 0h3m-8 1h2m4 0h2m-10 1h3m6 0h1m-9 1h2m6 0h2m-11 1h1m1 0h1m6 0h1m-10 1h1m1 0h1m5 0h1m-9 1h2m6 0h2m-10 1h2m5 0h1m-7 1h4m-3 1h5m-12 19h1m1 0h4m-11 1h4m1 0h4m1 0h3m-16 1h1m3 0h2m1 0h3m1 0h6m-19 1h4m2 0h1m3 0h1m2 0h4m1 0h1m-3 1h4m-21 1h1m18 0h2m-25 1h3m20 0h2m-2 1h2m-28 1h2m25 0h2m-31 1h3m26 0h1m1 0h1m-33 1h2m29 0h2m-35 1h3m30 0h1m-33 1h2m29 0h1m-34 1h1m1 0h1m29 0h2m1 0h1m-38 1h1m1 0h1m31 0h2m-36 1h2m31 0h2m-34 1h1m31 0h2m-37 1h1m1 0h1m31 0h1m-36 1h1m1 0h1m32 0h1m-36 1h1m33 0h2m-35 1h1m32 0h2m-2 1h1m-38 1h2m-2 1h1m34 0h2m-37 1h3m30 0h3m-38 1h1m1 0h2m30 0h3m-36 1h3m29 0h2m-35 1h1m1 0h1m29 0h3m-35 1h2m28 0h1m1 0h2m-34 1h2m27 0h1m1 0h1m-33 1h1m1 0h1m26 0h1m2 0h1m-33 1h2m1 0h1m25 0h2m-31 1h3m25 0h2m-29 1h3m19 0h4m-27 1h1m1 0h3m18 0h2m1 0h1m-26 1h1m1 0h3m12 0h1m2 0h2m-21 1h1m1 0h2m2 0h1m4 0h1m3 0h1m1 0h3m-19 1h3m1 0h5m1 0h1m1 0h1m3 0h1m-14 1h2m1 0h3m1 0h4m-12 1h1m3 0h3" stroke="#0040ff"/><path d="M124 74h4m-7 1h1m1 0h1m1 0h3m-7 1h7m-7 1h4m1 0h1m-5 1h6m-6 1h4m-4 1h4m-14 23h2m-6 1h5m1 0h3m-9 1h2m1 0h1m1 0h5m1 0h1m-17 1h1m2 0h8m2 0h5m-20 1h1m1 0h2m1 0h1m11 0h1m1 0h1m-19 1h1m1 0h1m14 0h1m1 0h1m-24 1h3m18 0h3m-26 1h4m20 0h2m-26 1h3m21 0h1m1 0h1m-28 1h1m23 0h2m-28 1h1m1 0h1m24 0h3m-31 1h3m24 0h3m-31 1h3m26 0h2m-31 1h1m27 0h2m-32 1h2m28 0h1m-32 1h2m28 0h2m-32 1h2m28 0h3m-34 1h1m29 0h3m-33 1h2m30 0h1m-34 1h3m27 0h1m-33 1h3m-3 1h1m1 0h1m27 0h2m-32 1h1m28 0h2m-32 1h3m26 0h1m1 0h1m-30 1h2m24 0h3m-32 1h4m24 0h3m-30 1h3m23 0h1m-27 1h2m23 0h2m-27 1h2m19 0h3m1 0h1m-27 1h4m17 0h5m-25 1h2m1 0h1m14 0h4m-22 1h2m2 0h1m11 0h3m-18 1h4m1 0h1m3 0h1m1 0h5m1 0h1m-18 1h1m1 0h1m1 0h2m1 0h4m1 0h3m-11 1h7" stroke="#0088ff"/><path d="M124 77h2m-3 1h2m-13 27h3m-5 1h1m1 0h2m1 0h1m-12 1h1m3 0h2m1 0h4m1 0h2m1 0h1m-16 1h7m1 0h7m-17 1h2m11 0h4m-19 1h3m14 0h3m-22 1h4m14 0h4m-24 1h5m15 0h5m-26 1h3m18 0h1m1 0h2m-26 1h3m20 0h3m-26 1h2m21 0h2m1 0h1m-28 1h2m22 0h2m-27 1h1m24 0h1m1 0h1m-30 1h1m1 0h1m23 0h1m1 0h1m-30 1h3m-3 1h2m24 0h3m-31 1h1m1 0h1m24 0h2m-28 1h3m23 0h2m-30 1h4m22 0h3m-29 1h3m23 0h1m1 0h1m-29 1h4m21 0h3m-28 1h3m21 0h3m-28 1h1m1 0h2m18 0h3m1 0h1m-26 1h1m20 0h2m1 0h1m-25 1h2m17 0h4m-24 1h5m14 0h3m-22 1h5m13 0h2m-20 1h7m1 0h1m7 0h3m-18 1h8m1 0h1m1 0h6m-16 1h4m2 0h1m1 0h5m-11 1h2m1 0h2m2 0h1" stroke="#00c8f8"/><path d="M106 108h1m1 0h4m2 0h1m-7 1h4m1 0h3m-13 1h13m-15 1h8m2 0h2m1 0h3m-18 1h5m9 0h4m-19 1h4m12 0h4m-22 1h5m13 0h4m-23 1h1m1 0h2m15 0h3m-22 1h2m17 0h2m-23 1h3m18 0h3m-23 1h2m17 0h4m-25 1h2m19 0h3m-25 1h1m1 0h1m19 0h3m-26 1h3m19 0h2m-25 1h4m18 0h3m-24 1h2m18 0h3m-24 1h3m17 0h4m-24 1h1m1 0h1m17 0h3m-24 1h1m1 0h2m14 0h3m-20 1h3m14 0h3m-20 1h2m12 0h1m1 0h2m-18 1h3m1 0h1m5 0h1m2 0h4m-18 1h5m1 0h2m1 0h1m1 0h5m1 0h1m-17 1h5m1 0h7m1 0h1m-14 1h8m1 0h1m-6 1h2m1 0h1m1 0h1" stroke="#00e8c8"/><path d="M108 110h2m1 0h2m-8 1h9m-12 1h12m-14 1h6m1 0h3m1 0h2m-15 1h5m7 0h2m1 0h3m-18 1h3m1 0h1m8 0h4m-18 1h4m10 0h3m-18 1h3m13 0h2m-18 1h2m13 0h3m-20 1h3m14 0h3m-21 1h2m1 0h1m13 0h3m-20 1h2m16 0h2m-21 1h3m14 0h3m-21 1h1m1 0h2m12 0h1m1 0h2m-20 1h4m11 0h4m-19 1h4m10 0h3m1 0h1m-20 1h5m9 0h3m-16 1h5m2 0h1m2 0h4m-15 1h5m1 0h9m-13 1h9m1 0h1m-10 1h8m-8 1h1m2 0h2" stroke="#20e860"/><path d="M109 112h2m-7 1h7m-9 1h11m-12 1h7m2 0h2m-13 1h4m1 0h1m2 0h1m2 0h3m-16 1h4m6 0h1m1 0h2m1 0h1m-16 1h4m7 0h4m-16 1h3m9 0h4m-16 1h3m9 0h4m-17 1h2m1 0h1m7 0h4m-17 1h5m9 0h3m-17 1h4m8 0h3m1 0h1m-16 1h2m1 0h1m6 0h3m-14 1h2m1 0h2m2 0h2m1 0h4m-14 1h7m1 0h5m-11 1h3m1 0h4m-8 1h6m-6 1h1" stroke="#90f000"/><path d="M104 114h3m2 0h1m-8 1h4m1 0h2m1 0h1m-9 1h8m-10 1h6m1 0h3m-11 1h4m1 0h6m-12 1h4m4 0h5m-15 1h1m1 0h3m3 0h4m-11 1h4m2 0h2m1 0h2m1 0h1m-14 1h4m2 0h6m-13 1h6m2 0h1m1 0h2m-12 1h9m1 0h1m-11 1h10m-9 1h5m-2 1h1m1 0h1" stroke="#fff000"/><path d="M106 115h1m-4 1h1m2 0h3m-8 1h2m1 0h1m1 0h3m-10 1h10m-10 1h1m2 0h1m1 0h5m-10 1h1m1 0h4m1 0h3m-11 1h1m2 0h1m1 0h2m1 0h1m-10 1h3m1 0h4m-8 1h2m1 0h3m-6 1h6m-6 1h1m1 0h3" stroke="#ff8000"/><path d="M107 116h1m-6 1h6m-6 1h6m-9 1h7m2 0h1m-9 1h6m-7 1h8m-8 1h7m-9 1h8m-7 1h1m1 0h3m-4 1h1" stroke="#f01000"/></g>
</svg>
<rect x="0" y="0" width="235.7" height="235.5" fill="none" stroke="#000" stroke-width="1.3"/>
<path d="M145,0V235.5M0,111H235.7" stroke="#000" stroke-width="1.5" fill="none"/>
<path d="M-7,15.8H0M-7,49.6H0M-7,83.7H0M-7,116.6H0M-7,150.8H0M-7,185.3H0M-7,216.1H0M-3.5,206.8H0M-3.5,201.4H0M-3.5,197.6H0M-4.5,194.6H0M-3.5,192.1H0M-3.5,190.1H0M-3.5,188.3H0M-3.5,186.7H0M-3.5,174.9H0M-3.5,168.8H0M-3.5,164.5H0M-4.5,161.2H0M-3.5,158.5H0M-3.5,156.1H0M-3.5,154.1H0M-3.5,152.4H0M-3.5,140.5H0M-3.5,134.5H0M-3.5,130.2H0M-4.5,126.9H0M-3.5,124.2H0M-3.5,121.9H0M-3.5,119.9H0M-3.5,118.2H0M-3.5,106.7H0M-3.5,100.9H0M-3.5,96.8H0M-4.5,93.6H0M-3.5,91.0H0M-3.5,88.8H0M-3.5,86.9H0M-3.5,85.2H0M-3.5,73.4H0M-3.5,67.4H0M-3.5,63.2H0M-4.5,59.9H0M-3.5,57.2H0M-3.5,54.9H0M-3.5,52.9H0M-3.5,51.2H0M-3.5,39.4H0M-3.5,33.5H0M-3.5,29.3H0M-4.5,26.0H0M-3.5,23.3H0M-3.5,21.0H0M-3.5,19.1H0M-3.5,17.3H0M-3.5,5.6H0M-5,218.5H0M-5,220.5H0M-5,222.5H0M-5,224H0M-5,226H0M-5,228H0M-5,230H0M-5,232.5H0M-5,234.5H0M-7,234.5H0M35.8,235.5V242.5M74.7,235.5V242.5M112.5,235.5V242.5M149.9,235.5V242.5M187.7,235.5V242.5M226.1,235.5V242.5M47.5,235.5V239.0M54.4,235.5V239.0M59.2,235.5V239.0M63.0,235.5V240.0M66.1,235.5V239.0M68.7,235.5V239.0M70.9,235.5V239.0M72.9,235.5V239.0M86.1,235.5V239.0M92.7,235.5V239.0M97.5,235.5V239.0M101.1,235.5V240.0M104.1,235.5V239.0M106.6,235.5V239.0M108.8,235.5V239.0M110.8,235.5V239.0M123.8,235.5V239.0M130.3,235.5V239.0M135.0,235.5V239.0M138.6,235.5V240.0M141.6,235.5V239.0M144.1,235.5V239.0M146.3,235.5V239.0M148.2,235.5V239.0M161.3,235.5V239.0M167.9,235.5V239.0M172.7,235.5V239.0M176.3,235.5V240.0M179.3,235.5V239.0M181.8,235.5V239.0M184.0,235.5V239.0M186.0,235.5V239.0M199.3,235.5V239.0M206.0,235.5V239.0M210.8,235.5V239.0M214.5,235.5V240.0M217.6,235.5V239.0M220.2,235.5V239.0M222.4,235.5V239.0M224.3,235.5V239.0M4,235.5V240.5M6,235.5V240.5M8,235.5V240.5M9.5,235.5V240.5M11,235.5V240.5M12.5,235.5V240.5M14,235.5V240.5M15.5,235.5V240.5M17.5,235.5V239.0M20,235.5V239.0M23,235.5V239.0M27,235.5V239.0M31,235.5V239.0" stroke="#000" stroke-width="1.45" fill="none"/>
<text x="-22.8" y="54.7" font-size="22.6" text-anchor="end">10</text>
<text x="-22.4" y="47.8" font-size="16">8</text>
<text x="-22.8" y="86.9" font-size="22.6" text-anchor="end">10</text>
<text x="-22.4" y="80.0" font-size="16">7</text>
<text x="-22.8" y="121.8" font-size="22.6" text-anchor="end">10</text>
<text x="-22.4" y="114.9" font-size="16">6</text>
<text x="-22.8" y="156.4" font-size="22.6" text-anchor="end">10</text>
<text x="-22.4" y="149.5" font-size="16">5</text>
<text x="-22.8" y="187.6" font-size="22.6" text-anchor="end">10</text>
<text x="-22.4" y="180.7" font-size="16">4</text>
<text x="-22.8" y="223.4" font-size="22.6" text-anchor="end">10</text>
<text x="-22.4" y="216.5" font-size="16">3</text>
<text x="-13.8" y="234.6" font-size="22.6" text-anchor="end">0</text>
<text x="-2.7" y="267.8" font-size="22.6">0</text>
<text x="17.5" y="270.4" font-size="22.6">10<tspan dy="-6.8" font-size="16">2</tspan></text>
<text x="57.2" y="270.4" font-size="22.6">10<tspan dy="-6.8" font-size="16">3</tspan></text>
<text x="94.5" y="270.4" font-size="22.6">10<tspan dy="-6.8" font-size="16">4</tspan></text>
<text x="128.2" y="270.4" font-size="22.6">10<tspan dy="-6.8" font-size="16">5</tspan></text>
<text x="162.3" y="270.4" font-size="22.6">10<tspan dy="-6.8" font-size="16">6</tspan></text>
<text x="206.0" y="270.4" font-size="22.6">10<tspan dy="-6.8" font-size="16">7</tspan></text>
<text x="13.4" y="28.6" font-size="23">3.18</text>
<text x="222.4" y="28.6" font-size="23" text-anchor="end">5.84</text>
<text x="13.3" y="218.0" font-size="23">88.8</text>
<text x="222.8" y="218.0" font-size="23" text-anchor="end">2.18</text>
</g>
<text x="1293.1" y="928.2" font-size="23.6" text-anchor="middle">LPS+PA</text>
<g transform="translate(1177.5,940)">
<svg width="235.7" height="235.5" overflow="hidden">
<path d="M94 183 90 183 88 183 84 183 82 183 79 182 76 182 74 181 72 180 70 180 68 178 66 177 65 176 64 174 62 172 62 170 62 168 62 166 62 163 64 161 65 160 66 158 68 156 69 154 70 153 72 152 74 150 75 148 76 147 78 146 80 144 81 142 83 142 84 140 86 138 88 137 90 136 91 134 92 133 94 132 96 130 98 130 100 128 102 127 104 126 105 124 106 123 108 122 110 121 112 120 114 118 116 117 117 116 118 114 120 112 120 110 121 108 122 105 122 102 122 100 123 98 123 94 124 92 125 90 126 88 126 86 128 84 129 82 130 80 131 78 132 77 134 76 135 74 136 72 138 70 140 69 141 68 142 66 144 64 146 64 148 62 150 61 151 60 153 58 154 57 156 56 158 55 160 54 163 54 166 53 168 52 170 52 172 51 176 51 178 51 182 51 184 52 186 52 188 53 190 54 192 55 194 56 195 58 196 60 197 62 197 66 197 68 196 71 196 74 195 76 194 78 192 79 192 81 190 82 189 84 188 86 186 88 185 90 184 91 182 92 180 94 179 96 178 97 176 98 175 100 175 104 176 106 178 107 179 108 181 110 183 110 185 112 186 113 188 114 190 116 190 118 190 122 189 124 188 125 186 126 184 128 183 130 182 131 180 132 178 133 176 134 174 136 172 136 170 138 168 139 166 140 165 142 163 142 162 144 160 146 158 146 156 148 155 150 153 150 152 152 150 154 148 155 146 156 145 158 144 159 142 160 140 162 138 162 136 164 134 165 133 166 131 168 130 169 128 170 126 171 124 172 122 173 120 174 118 175 116 176 114 177 112 178 109 178 106 179 104 180 102 181 100 181 98 182 94 182Z" fill="#3030ff" fill-opacity="0.16"/><path d="M96 178 92 178 90 178 88 177 84 177 82 176 80 175 78 174 77 172 76 170 75 168 74 166 74 164 75 162 76 159 76 157 78 155 79 154 80 152 82 150 83 148 84 146 86 145 87 144 88 142 90 140 92 139 94 138 95 136 96 135 98 134 100 132 102 131 104 130 105 128 107 128 108 126 110 125 112 124 114 122 116 122 118 120 120 119 122 118 123 116 125 116 126 114 128 112 130 111 130 109 131 106 132 104 132 102 132 98 133 96 134 94 134 92 135 90 136 88 138 86 138 84 140 82 141 80 142 78 144 77 145 76 146 74 148 72 149 70 150 69 152 68 154 66 156 65 158 64 160 63 161 62 163 60 166 60 168 59 170 58 172 58 174 57 178 57 180 57 182 58 185 58 187 60 188 61 190 63 190 66 191 68 190 70 190 72 189 74 188 76 186 78 185 80 184 81 182 82 180 84 179 86 178 87 176 88 174 89 172 90 170 91 168 92 166 93 164 94 162 95 160 96 158 98 156 98 154 100 154 102 153 104 153 108 154 110 156 111 156 113 158 114 160 116 161 118 162 120 163 122 164 124 164 126 163 128 162 131 162 133 160 135 159 136 158 138 156 140 156 142 154 144 152 145 151 146 150 148 148 150 146 151 145 152 144 154 142 156 140 157 138 158 137 160 136 161 134 162 132 163 130 164 128 166 126 167 124 168 122 169 120 170 118 171 116 172 114 173 112 174 110 174 108 175 106 176 102 176 100 177 98 177 96 178Z" fill="#2020ff" fill-opacity="0.3"/><path d="M162 89 158 89 156 89 153 88 151 88 150 86 149 84 150 82 150 79 152 77 152 75 154 74 155 72 156 70 158 69 160 68 162 66 164 65 166 64 168 63 170 62 172 62 176 62 178 62 181 62 182 64 184 66 185 68 185 70 184 72 184 75 182 76 181 78 180 80 178 81 176 82 174 84 172 85 170 86 168 87 166 88 164 88 162 89ZM98 174 96 174 94 173 90 173 88 172 86 171 84 170 84 168 82 166 82 164 82 160 82 158 83 156 84 154 86 152 86 150 88 148 89 146 90 145 92 144 94 142 95 140 96 139 98 138 100 136 102 135 103 134 104 132 106 131 108 130 110 128 112 128 114 126 116 125 118 124 120 123 122 122 124 121 126 120 128 119 130 118 132 117 134 116 136 116 138 115 142 115 144 116 146 116 148 117 150 118 152 120 153 122 154 123 155 126 156 128 156 130 155 132 154 134 154 137 152 138 151 140 150 142 148 144 148 146 146 148 144 149 143 150 142 152 140 154 138 155 136 156 135 158 134 159 132 160 130 162 128 162 126 164 124 165 122 166 120 167 118 168 116 169 114 170 112 170 110 171 108 172 106 173 102 173 100 173Z" fill="#0040ff"/><path d="M166 83 164 83 160 83 159 82 158 80 158 76 159 74 160 73 162 72 164 70 166 69 168 68 170 67 172 66 174 66 176 67 178 68 179 70 179 74 178 76 176 77 175 78 173 80 172 81 170 82 167 82ZM106 170 104 170 100 170 98 170 94 170 92 169 90 168 89 166 88 164 87 162 87 160 88 157 88 154 89 152 90 150 92 149 92 147 94 146 96 144 97 142 98 141 100 140 102 138 103 136 104 135 106 134 108 132 110 132 112 130 114 129 116 128 118 127 120 126 122 125 124 124 126 123 128 122 130 122 132 121 134 120 138 120 140 120 142 121 145 122 146 123 148 124 150 126 150 128 151 130 150 132 150 136 149 138 148 140 147 142 146 144 144 145 143 146 142 148 140 150 139 152 138 153 136 154 134 156 132 157 130 158 129 160 127 160 126 162 124 163 122 164 120 165 118 166 116 167 114 168 111 168 108 169 106 170Z" fill="#0088ff"/><path d="M108 167 106 167 102 167 100 167 98 166 95 166 94 164 92 162 92 160 91 158 92 156 92 153 94 151 94 149 96 148 97 146 98 144 100 142 102 141 103 140 104 138 106 136 108 136 110 134 112 133 114 132 115 130 117 130 119 128 121 128 123 126 126 126 128 125 130 124 132 124 136 124 138 124 140 125 142 126 144 127 146 129 146 132 146 134 146 137 145 140 144 142 142 143 142 145 140 146 138 148 137 150 136 151 134 152 132 154 131 156 130 157 128 158 126 159 124 160 122 162 120 162 118 164 116 164 114 165 112 166 109 166Z" fill="#00c8f8"/><path d="M108 164 104 164 102 163 100 162 98 162 97 160 96 158 96 154 97 152 98 150 99 148 100 146 102 145 103 144 104 142 106 140 108 139 109 138 110 136 112 135 114 134 116 133 118 132 120 131 122 130 124 129 126 128 130 128 132 128 136 128 138 128 140 130 141 132 142 134 142 136 141 138 140 140 139 142 138 144 137 146 136 148 134 150 132 151 131 152 130 154 128 155 126 156 124 158 122 158 120 160 118 160 116 162 114 162 112 163 108 163Z" fill="#00e8c8"/><path d="M114 160 110 160 108 160 104 160 102 159 101 158 101 154 101 152 102 150 103 148 104 146 106 144 107 142 108 141 110 140 112 138 114 137 116 136 118 135 120 134 122 133 124 132 126 132 128 131 132 131 134 132 136 133 137 134 137 138 137 140 136 142 135 144 134 146 132 148 130 149 129 150 128 152 126 154 124 154 122 156 120 157 118 158 116 159 114 160Z" fill="#20e860"/><path d="M114 157 110 157 108 156 106 156 105 154 105 150 106 148 107 146 108 145 110 144 112 142 113 140 114 139 116 138 118 137 120 136 122 135 126 135 128 135 131 136 132 137 133 140 132 142 132 144 130 146 129 148 128 149 126 150 124 152 122 153 120 154 118 155 116 156 114 156Z" fill="#90f000"/><path d="M116 154 112 154 110 154 109 152 109 148 110 146 112 145 113 144 114 142 116 140 118 140 120 138 122 138 124 137 126 138 128 139 129 142 128 144 128 146 126 148 124 149 122 150 121 152 119 152 116 153Z" fill="#fff000"/><path d="M118 151 116 151 112 151 112 148 113 146 114 144 116 143 118 142 120 141 122 140 124 140 126 142 126 144 124 146 123 148 122 149 120 150Z" fill="#ff8000"/><path d="M118 150 115 150 114 148 115 146 116 144 118 143 120 142 124 142 124 144 123 146 121 148 120 149 118 150Z" fill="#f01000"/><g transform="scale(1.2)" stroke-width="1"><path d="M182 3h1m-55 3h1m-2 4h1m33 2h1m-39 1h1m18 1h1m17 1h1m3 2h1m-2 2h1m-34 1h1m16 0h1m10 1h1m-59 1h1m34 0h1m15 0h1m-9 1h1m7 0h2m23 0h1m-17 1h1m-30 1h1m11 0h1m7 0h1m-23 1h1m14 0h1m17 0h1m-28 1h1m3 0h1m2 0h1m31 0h1m-139 1h1m79 0h1m18 0h1m11 0h1m2 0h1m2 0h1m26 0h1m-37 1h1m8 0h2m7 0h1m-58 1h1m11 0h1m14 0h1m22 0h1m-57 1h1m42 0h1m7 0h1m17 0h1m20 0h1m-89 1h1m16 0h1m13 0h1m6 0h1m13 0h1m17 0h1m-50 1h1m9 1h1m5 0h1m1 0h1m15 0h1m1 0h1m-33 1h1m4 0h1m7 0h1m4 0h1m20 0h2m-46 1h1m17 0h1m5 0h1m3 0h1m1 0h1m3 0h1m7 0h1m8 0h1m4 0h1m-91 1h1m37 0h2m1 0h1m4 0h1m2 0h1m1 0h1m7 0h1m1 0h1m1 0h1m8 0h1m4 0h1m5 0h1m9 0h1m-53 1h1m3 0h1m2 0h1m1 0h2m1 0h1m2 0h1m3 0h1m4 0h1m2 0h1m10 0h1m4 0h1m6 0h1m5 0h1m-67 1h1m4 0h1m18 0h1m1 0h1m9 0h1m1 0h1m3 0h1m3 0h1m-56 1h1m7 0h1m23 0h1m4 0h1m3 0h1m2 0h1m11 0h1m7 0h1m7 0h1m-83 1h1m20 0h4m2 0h1m4 0h2m13 0h2m2 0h1m5 0h1m4 0h1m-55 1h1m17 0h1m1 0h1m7 0h1m2 0h1m1 0h1m7 0h1m5 0h1m2 0h1m2 0h1m5 0h2m3 0h1m-50 1h1m1 0h1m1 0h1m2 0h1m6 0h1m1 0h1m1 0h1m2 0h1m3 0h1m4 0h1m2 0h1m1 0h2m2 0h1m1 0h1m13 0h1m14 0h1m-63 1h1m1 0h1m4 0h1m3 0h1m4 0h1m3 0h1m6 0h1m1 0h1m7 0h1m11 0h1m-61 1h1m10 0h3m4 0h2m1 0h2m3 0h1m5 0h2m20 0h1m-74 1h1m2 0h1m9 0h1m4 0h1m5 0h3m6 0h1m1 0h1m2 0h2m5 0h1m5 0h1m2 0h3m4 0h1m1 0h1m17 0h2m-93 1h1m36 0h1m2 0h1m5 0h1m2 0h1m2 0h1m1 0h3m1 0h1m3 0h1m1 0h1m1 0h1m4 0h1m4 0h1m1 0h1m-80 1h1m3 0h1m7 0h1m9 0h1m12 0h1m5 0h1m2 0h2m7 0h1m1 0h1m1 0h1m1 0h1m7 0h1m2 0h2m1 0h1m-57 1h1m3 0h1m3 0h1m1 0h2m3 0h1m6 0h1m2 0h1m2 0h2m3 0h1m1 0h1m2 0h1m1 0h1m2 0h1m2 0h2m2 0h1m1 0h1m2 0h1m1 0h3m1 0h3m-82 1h1m24 0h2m3 0h1m4 0h2m1 0h2m11 0h2m2 0h3m1 0h3m1 0h2m4 0h1m2 0h2m4 0h1m6 0h1m1 0h1m9 0h1m-77 1h1m1 0h1m3 0h1m10 0h1m5 0h1m1 0h2m1 0h1m1 0h3m4 0h2m2 0h2m5 0h1m4 0h2m1 0h1m4 0h1m6 0h1m-67 1h2m10 0h1m8 0h1m2 0h1m1 0h1m1 0h2m3 0h1m1 0h1m1 0h1m2 0h5m1 0h1m1 0h1m7 0h1m-87 1h1m22 0h2m15 0h3m6 0h1m1 0h1m3 0h1m16 0h3m3 0h2m1 0h1m7 0h1m2 0h1m1 0h1m-75 1h1m6 0h1m11 0h1m5 0h1m4 0h2m1 0h4m14 0h1m3 0h1m1 0h2m1 0h1m12 0h1m8 0h1m-85 1h1m7 0h1m3 0h1m14 0h1m1 0h1m1 0h2m22 0h4m3 0h1m4 0h1m2 0h2m-53 1h1m3 0h2m1 0h1m3 0h2m2 0h1m21 0h4m3 0h1m2 0h1m4 0h1m-98 1h1m20 0h1m12 0h3m2 0h1m3 0h1m3 0h1m1 0h1m1 0h1m5 0h2m1 0h1m21 0h4m2 0h1m14 0h1m-72 1h2m4 0h1m2 0h1m1 0h2m4 0h2m2 0h1m1 0h1m2 0h2m22 0h2m2 0h1m3 0h1m-76 1h1m10 0h1m9 0h4m5 0h1m1 0h1m3 0h7m23 0h1m4 0h2m2 0h1m10 0h1m-84 1h1m6 0h1m2 0h1m6 0h1m4 0h1m1 0h1m2 0h1m1 0h2m3 0h1m1 0h1m27 0h2m2 0h1m11 0h2m1 0h1m-144 1h1m60 0h1m11 0h1m2 0h2m2 0h1m5 0h2m2 0h3m3 0h2m25 0h2m1 0h2m3 0h1m4 0h1m8 0h1m2 0h1m-64 1h1m2 0h1m4 0h1m29 0h1m3 0h1m1 0h1m4 0h1m-79 1h1m4 0h1m7 0h2m2 0h1m5 0h1m5 0h1m1 0h1m1 0h2m3 0h1m1 0h1m26 0h2m1 0h2m9 0h1m5 0h1m1 0h1m4 0h1m-88 1h2m10 0h1m1 0h2m1 0h1m2 0h1m4 0h2m2 0h1m28 0h1m3 0h3m5 0h1m1 0h1m5 0h1m3 0h1m-78 1h3m1 0h1m12 0h1m4 0h1m1 0h1m28 0h1m1 0h1m3 0h1m1 0h1m1 0h1m5 0h1m8 0h1m1 0h1m2 0h1m-90 1h1m9 0h1m1 0h1m3 0h2m2 0h1m1 0h3m3 0h1m1 0h1m27 0h4m1 0h2m4 0h1m8 0h2m3 0h1m-77 1h1m5 0h1m7 0h1m1 0h1m5 0h2m25 0h1m1 0h1m5 0h1m4 0h1m1 0h1m6 0h1m2 0h1m-87 1h1m14 0h1m4 0h1m4 0h2m3 0h1m1 0h1m1 0h1m27 0h2m2 0h1m1 0h1m1 0h1m2 0h1m5 0h1m3 0h1m9 0h1m-88 1h1m4 0h1m1 0h1m6 0h1m1 0h1m1 0h1m1 0h5m2 0h1m3 0h1m22 0h1m1 0h3m5 0h1m1 0h1m14 0h1m3 0h1m3 0h1m-81 1h1m2 0h1m2 0h2m1 0h2m3 0h6m21 0h1m4 0h3m3 0h1m6 0h3m5 0h2m14 0h1m2 0h1m-93 1h1m2 0h2m6 0h2m1 0h2m1 0h2m1 0h2m4 0h1m20 0h1m1 0h3m2 0h2m1 0h1m1 0h3m-57 1h1m3 0h2m3 0h1m2 0h2m2 0h2m3 0h3m16 0h3m2 0h1m2 0h1m1 0h2m3 0h1m-78 1h1m6 0h1m1 0h1m2 0h1m1 0h3m5 0h1m5 0h1m8 0h2m3 0h1m3 0h1m10 0h1m3 0h1m2 0h1m1 0h1m1 0h1m15 0h1m10 0h1m11 0h1m-177 1h1m92 0h1m5 0h1m1 0h1m2 0h2m1 0h1m4 0h2m1 0h1m3 0h1m1 0h1m4 0h3m5 0h1m1 0h2m1 0h1m13 0h1m1 0h1m-86 1h1m13 0h1m5 0h1m3 0h1m1 0h2m3 0h1m3 0h3m1 0h4m1 0h1m2 0h1m1 0h3m9 0h1m1 0h1m7 0h1m4 0h1m1 0h1m15 0h1m2 0h1m-95 1h1m24 0h1m1 0h1m2 0h2m4 0h2m3 0h2m1 0h1m1 0h2m1 0h2m4 0h4m5 0h1m9 0h2m2 0h2m1 0h1m2 0h2m7 0h1m-85 1h1m12 0h1m1 0h1m1 0h1m1 0h1m1 0h3m3 0h1m5 0h5m1 0h7m1 0h2m6 0h2m1 0h1m2 0h1m7 0h1m9 0h1m-96 1h1m18 0h1m3 0h1m2 0h2m2 0h3m2 0h3m1 0h1m2 0h2m1 0h1m1 0h3m3 0h1m4 0h3m1 0h2m3 0h1m1 0h1m1 0h1m2 0h2m2 0h1m1 0h2m18 0h1m-75 1h1m7 0h2m1 0h1m1 0h3m5 0h3m1 0h2m4 0h2m1 0h1m4 0h3m3 0h1m4 0h1m10 0h1m1 0h1m9 0h1m9 0h1m-87 1h1m2 0h1m10 0h1m1 0h4m3 0h2m1 0h4m1 0h1m1 0h2m2 0h1m3 0h1m1 0h1m1 0h1m2 0h1m1 0h1m1 0h3m1 0h2m1 0h1m9 0h1m17 0h1m-87 1h2m1 0h6m1 0h4m4 0h4m2 0h1m1 0h1m1 0h3m3 0h1m3 0h1m13 0h1m6 0h1m4 0h1m6 0h1m5 0h1m11 0h1m-181 1h1m59 0h1m37 0h2m1 0h1m3 0h1m1 0h1m2 0h1m1 0h1m3 0h3m3 0h1m1 0h2m1 0h6m4 0h1m1 0h1m5 0h1m5 0h1m1 0h1m4 0h1m17 0h1m-96 1h1m9 0h1m6 0h2m1 0h1m2 0h1m5 0h4m8 0h4m2 0h1m1 0h1m3 0h1m3 0h1m11 0h2m1 0h1m1 0h1m2 0h1m2 0h1m1 0h1m-86 1h1m9 0h1m1 0h1m3 0h1m3 0h2m1 0h1m1 0h1m2 0h2m6 0h1m1 0h2m5 0h2m15 0h2m5 0h3m5 0h1m5 0h2m11 0h1m2 0h1m7 0h2m-101 1h1m3 0h2m3 0h1m1 0h1m1 0h2m1 0h1m1 0h1m2 0h1m1 0h1m1 0h1m1 0h1m4 0h1m3 0h1m1 0h2m6 0h3m1 0h2m2 0h1m2 0h1m1 0h1m3 0h1m2 0h1m5 0h1m20 0h2m-121 1h1m14 0h1m8 0h1m8 0h2m3 0h1m3 0h1m4 0h2m3 0h1m4 0h1m2 0h1m3 0h1m5 0h1m2 0h1m10 0h1m2 0h1m4 0h1m2 0h1m1 0h1m6 0h1m-84 1h1m8 0h1m1 0h2m4 0h2m1 0h1m1 0h2m1 0h4m3 0h1m2 0h1m1 0h1m2 0h3m2 0h1m1 0h2m1 0h1m1 0h2m3 0h1m13 0h1m12 0h1m6 0h1m8 0h1m-96 1h1m2 0h1m2 0h1m4 0h1m2 0h1m1 0h2m2 0h1m2 0h4m3 0h2m4 0h2m3 0h1m2 0h1m9 0h1m1 0h1m4 0h1m1 0h1m11 0h1m24 0h1m-123 1h1m16 0h1m13 0h1m1 0h2m2 0h1m2 0h3m4 0h1m2 0h2m5 0h2m1 0h1m8 0h1m1 0h2m2 0h1m3 0h1m1 0h1m4 0h1m1 0h2m1 0h1m7 0h1m2 0h1m1 0h2m-97 1h1m6 0h1m3 0h1m1 0h2m5 0h2m1 0h2m2 0h1m1 0h1m4 0h1m2 0h1m3 0h3m2 0h1m2 0h1m3 0h1m4 0h2m8 0h1m2 0h1m2 0h1m13 0h2m2 0h1m-117 1h1m36 0h1m3 0h2m3 0h2m3 0h1m2 0h2m1 0h1m1 0h2m4 0h2m2 0h1m4 0h1m4 0h1m4 0h1m4 0h1m4 0h1m11 0h1m1 0h1m1 0h1m3 0h2m17 0h1m2 0h1m-106 1h1m2 0h2m6 0h1m1 0h1m1 0h2m1 0h1m8 0h1m2 0h3m1 0h1m2 0h2m16 0h2m3 0h2m2 0h1m7 0h1m1 0h1m2 0h1m10 0h2m-89 1h1m6 0h1m3 0h1m5 0h1m5 0h3m1 0h1m2 0h2m1 0h2m5 0h2m13 0h2m3 0h1m7 0h2m1 0h1m1 0h1m2 0h1m13 0h1m-94 1h1m4 0h1m3 0h1m2 0h1m1 0h1m2 0h1m5 0h5m2 0h2m1 0h1m1 0h1m1 0h1m1 0h4m2 0h1m2 0h1m1 0h1m5 0h1m3 0h1m2 0h1m2 0h1m5 0h1m1 0h2m1 0h1m9 0h1m2 0h1m3 0h1m-107 1h1m5 0h1m10 0h2m3 0h3m3 0h1m1 0h1m1 0h2m2 0h3m6 0h1m1 0h1m2 0h1m2 0h1m1 0h2m2 0h2m4 0h2m2 0h1m2 0h1m1 0h1m5 0h1m5 0h1m2 0h1m8 0h2m7 0h1m-110 1h1m17 0h1m2 0h1m3 0h1m2 0h3m2 0h4m3 0h1m8 0h2m7 0h3m1 0h1m1 0h2m1 0h1m7 0h1m2 0h1m5 0h1m21 0h1m-95 1h1m10 0h1m1 0h1m1 0h2m6 0h2m8 0h2m1 0h1m1 0h1m1 0h1m3 0h2m1 0h2m2 0h3m1 0h1m3 0h1m4 0h1m7 0h1m5 0h1m2 0h1m9 0h1m3 0h1m7 0h1m-111 1h1m9 0h1m4 0h1m3 0h1m2 0h2m1 0h1m1 0h1m1 0h1m19 0h3m6 0h1m1 0h1m2 0h1m2 0h2m8 0h1m3 0h1m16 0h1m4 0h1m4 0h1m-105 1h1m16 0h1m1 0h1m1 0h4m20 0h1m3 0h1m3 0h1m3 0h1m3 0h2m2 0h1m1 0h2m13 0h1m22 0h1m-91 1h4m1 0h1m24 0h1m1 0h2m6 0h1m1 0h1m3 0h1m1 0h1m1 0h1m2 0h1m2 0h1m3 0h1m7 0h1m1 0h2m1 0h1m1 0h1m1 0h1m15 0h1m-116 1h1m1 0h1m12 0h1m4 0h1m1 0h3m2 0h1m25 0h2m1 0h2m5 0h1m4 0h2m1 0h2m5 0h1m3 0h1m22 0h1m-104 1h1m14 0h2m1 0h4m2 0h1m26 0h2m1 0h2m2 0h1m3 0h2m1 0h2m2 0h1m4 0h2m2 0h1m8 0h2m6 0h1m4 0h1m1 0h2m-109 1h1m4 0h1m18 0h3m30 0h2m1 0h2m5 0h2m1 0h2m4 0h2m1 0h4m2 0h1m3 0h4m4 0h1m6 0h1m17 0h1m-132 1h1m14 0h1m10 0h2m1 0h2m1 0h1m35 0h2m1 0h2m4 0h1m1 0h1m2 0h1m6 0h1m4 0h1m1 0h1m1 0h1m8 0h1m13 0h1m-150 1h1m41 0h1m6 0h2m3 0h1m5 0h1m35 0h1m2 0h1m1 0h2m1 0h1m4 0h1m14 0h2m10 0h1m-87 1h3m1 0h3m1 0h2m37 0h2m1 0h1m1 0h3m4 0h1m4 0h1m5 0h1m3 0h2m10 0h1m-95 1h1m3 0h1m1 0h2m4 0h4m38 0h5m2 0h2m3 0h1m1 0h1m1 0h1m5 0h1m4 0h1m4 0h1m7 0h1m2 0h2m-133 1h1m26 0h1m6 0h1m9 0h3m42 0h2m4 0h1m3 0h2m7 0h1m5 0h1m9 0h1m2 0h1m5 0h1m-98 1h1m2 0h1m1 0h1m3 0h1m42 0h1m4 0h1m3 0h1m8 0h1m1 0h2m3 0h1m9 0h1m3 0h1m2 0h1m-108 1h1m2 0h1m1 0h1m3 0h3m3 0h5m1 0h2m42 0h1m3 0h1m5 0h2m3 0h1m3 0h2m4 0h2m2 0h1m3 0h1m6 0h1m2 0h1m-116 1h1m14 0h1m3 0h1m2 0h2m3 0h1m43 0h1m1 0h1m1 0h3m7 0h1m3 0h2m4 0h1m4 0h1m3 0h1m-89 1h3m1 0h2m2 0h1m45 0h1m2 0h5m5 0h1m3 0h2m9 0h1m2 0h1m10 0h1m4 0h1m8 0h1m-115 1h1m3 0h1m1 0h1m1 0h1m3 0h1m45 0h3m2 0h1m1 0h4m1 0h2m3 0h2m12 0h1m-130 1h1m25 0h1m4 0h1m4 0h1m7 0h1m2 0h1m2 0h1m1 0h1m45 0h1m2 0h1m4 0h1m1 0h1m5 0h2m1 0h1m5 0h1m3 0h1m3 0h1m1 0h2m5 0h1m-130 1h1m4 0h1m28 0h1m2 0h1m1 0h1m53 0h1m5 0h1m3 0h1m4 0h1m6 0h1m1 0h1m1 0h1m2 0h1m-105 1h1m4 0h1m2 0h1m3 0h1m2 0h1m2 0h2m47 0h2m2 0h1m5 0h1m3 0h1m6 0h2m3 0h1m3 0h1m1 0h1m5 0h1m8 0h1m-115 1h1m9 0h1m3 0h6m47 0h1m2 0h1m3 0h1m3 0h1m5 0h1m6 0h1m3 0h1m6 0h1m1 0h1m17 0h1m-131 1h1m6 0h1m4 0h1m1 0h1m1 0h2m1 0h1m7 0h1m51 0h1m3 0h1m2 0h1m2 0h1m7 0h2m4 0h2m5 0h1m2 0h1m-132 1h1m18 0h1m9 0h1m2 0h1m5 0h2m51 0h2m2 0h1m5 0h1m1 0h2m1 0h1m1 0h1m2 0h1m37 0h1m-150 1h1m13 0h1m14 0h1m3 0h1m2 0h1m1 0h1m3 0h1m47 0h5m6 0h1m1 0h3m3 0h1m8 0h1m11 0h1m-130 1h1m25 0h2m1 0h1m2 0h1m3 0h2m1 0h1m49 0h3m9 0h1m1 0h1m1 0h2m6 0h2m-111 1h1m18 0h1m5 0h2m2 0h1m1 0h1m1 0h1m50 0h2m1 0h2m2 0h1m5 0h2m4 0h1m1 0h2m5 0h1m21 0h1m-148 1h1m33 0h1m3 0h1m2 0h1m5 0h2m48 0h1m2 0h1m1 0h1m3 0h2m3 0h2m10 0h1m7 0h1m2 0h1m3 0h1m-112 1h1m8 0h1m10 0h1m49 0h2m3 0h2m6 0h1m18 0h1m13 0h1m-133 1h1m5 0h1m8 0h1m10 0h1m1 0h3m1 0h1m1 0h2m47 0h1m1 0h1m1 0h1m4 0h1m8 0h1m11 0h1m21 0h1m8 0h1m-153 1h1m4 0h1m9 0h1m10 0h1m3 0h1m1 0h1m1 0h1m3 0h1m4 0h1m47 0h1m1 0h1m7 0h1m-120 1h1m40 0h1m5 0h1m1 0h2m8 0h1m48 0h2m5 0h1m3 0h2m2 0h1m4 0h1m-135 1h1m6 0h1m6 0h1m10 0h1m11 0h1m5 0h1m7 0h1m3 0h1m1 0h1m1 0h1m2 0h3m47 0h1m11 0h1m3 0h1m-106 1h1m5 0h1m5 0h2m4 0h1m5 0h1m6 0h2m2 0h2m3 0h2m46 0h1m3 0h2m2 0h2m1 0h1m3 0h3m25 0h1m-151 1h1m32 0h1m12 0h1m1 0h1m3 0h1m2 0h2m1 0h1m1 0h1m44 0h1m1 0h2m1 0h1m1 0h1m28 0h1m-119 1h1m8 0h1m1 0h1m2 0h2m5 0h1m1 0h1m6 0h1m3 0h2m44 0h1m1 0h2m2 0h1m1 0h2m4 0h1m16 0h1m-96 1h1m3 0h3m8 0h1m1 0h2m45 0h4m1 0h3m4 0h3m-104 1h1m1 0h1m8 0h1m2 0h1m9 0h1m1 0h1m1 0h2m4 0h2m1 0h1m1 0h1m2 0h2m1 0h1m43 0h1m2 0h1m2 0h1m1 0h1m12 0h1m1 0h2m-101 1h1m4 0h1m11 0h1m1 0h1m5 0h1m2 0h3m41 0h1m1 0h2m1 0h2m5 0h1m5 0h1m9 0h1m4 0h1m-112 1h1m8 0h1m2 0h1m2 0h1m7 0h1m3 0h1m4 0h1m1 0h1m2 0h2m39 0h2m2 0h1m1 0h2m-111 1h1m12 0h1m15 0h1m2 0h1m2 0h2m9 0h1m8 0h1m5 0h1m41 0h1m4 0h1m3 0h3m5 0h1m5 0h1m-131 1h1m24 0h1m7 0h1m3 0h1m15 0h8m2 0h1m39 0h2m4 0h1m3 0h1m11 0h1m15 0h1m-115 1h1m9 0h1m3 0h1m1 0h2m1 0h1m1 0h1m2 0h2m2 0h4m1 0h2m2 0h2m1 0h1m34 0h3m5 0h1m23 0h1m-111 1h1m4 0h1m11 0h1m9 0h1m3 0h1m4 0h1m6 0h1m-58 1h1m6 0h1m18 0h1m10 0h1m12 0h2m3 0h2m1 0h2m28 0h1m2 0h1m4 0h1m1 0h1m17 0h1m-126 1h1m26 0h1m3 0h1m4 0h1m6 0h2m2 0h1m6 0h1m1 0h2m2 0h1m2 0h1m1 0h2m1 0h1m27 0h3m2 0h1m4 0h1m2 0h1m5 0h2m-115 1h1m24 0h2m14 0h1m5 0h3m3 0h1m2 0h1m3 0h2m1 0h2m26 0h3m2 0h2m2 0h1m1 0h1m12 0h1m7 0h1m-107 1h1m1 0h1m12 0h1m11 0h1m7 0h1m1 0h4m1 0h1m1 0h1m2 0h3m21 0h4m7 0h1m17 0h1m-103 1h1m40 0h1m1 0h1m1 0h1m1 0h2m1 0h5m3 0h1m8 0h1m1 0h1m2 0h2m2 0h2m1 0h1m1 0h1m3 0h1m5 0h1m19 0h1m-113 1h1m12 0h1m6 0h1m2 0h1m5 0h1m6 0h1m1 0h1m4 0h1m1 0h1m3 0h2m2 0h1m3 0h1m1 0h1m1 0h1m2 0h2m1 0h2m1 0h1m1 0h1m2 0h1m1 0h1m1 0h2m7 0h1m11 0h1m-91 1h1m1 0h2m3 0h3m5 0h1m1 0h1m10 0h1m5 0h1m1 0h3m1 0h1m1 0h1m1 0h1m1 0h3m1 0h3m1 0h4m1 0h3m2 0h1m1 0h1m4 0h2m-91 1h1m24 0h1m4 0h1m10 0h1m6 0h1m4 0h3m2 0h1m4 0h3m1 0h1m1 0h2m1 0h1m2 0h3m1 0h1m6 0h1m10 0h1m2 0h1m-77 1h1m1 0h2m7 0h1m16 0h4m2 0h1m3 0h1m2 0h2m1 0h2m1 0h1m1 0h1m1 0h3m4 0h1m2 0h1m8 0h1m20 0h1m-120 1h1m7 0h1m5 0h1m3 0h1m6 0h1m1 0h1m1 0h1m2 0h1m1 0h1m1 0h1m2 0h1m12 0h1m1 0h2m2 0h1m1 0h2m1 0h1m2 0h2m2 0h1m2 0h1m2 0h1m21 0h1m1 0h2m-91 1h1m8 0h1m5 0h1m7 0h1m3 0h1m6 0h1m1 0h2m2 0h1m2 0h1m3 0h1m2 0h2m6 0h1m1 0h1m6 0h1m4 0h1m4 0h1m4 0h1m-58 1h1m23 0h1m2 0h1m1 0h4m4 0h1m3 0h1m4 0h1m2 0h1m5 0h1m4 0h1m-74 1h1m23 0h1m1 0h1m2 0h1m8 0h1m3 0h1m2 0h1m3 0h1m7 0h2m1 0h1m8 0h1m-88 1h1m10 0h2m6 0h1m14 0h1m6 0h1m6 0h1m5 0h2m1 0h1m2 0h1m2 0h1m7 0h1m5 0h1m-67 1h1m2 0h1m3 0h1m6 0h1m6 0h1m2 0h1m8 0h1m6 0h1m4 0h1m10 0h2m7 0h2m7 0h1m1 0h1m4 0h1m-86 1h1m20 0h1m15 0h1m1 0h1m8 0h1m1 0h1m3 0h1m1 0h1m3 0h1m6 0h1m1 0h1m16 0h1m-82 1h1m10 0h1m1 0h2m16 0h1m2 0h1m4 0h1m6 0h3m6 0h1m2 0h1m22 0h1m-78 1h1m10 0h1m4 0h1m7 0h1m5 0h1m1 0h1m4 0h2m4 0h1m12 0h1m-71 1h1m25 0h1m9 0h1m6 0h1m9 0h1m5 0h1m1 0h1m7 0h1m12 0h1m5 0h1m-79 1h2m14 0h1m19 0h1m11 0h2m9 0h1m5 0h1m-60 1h1m25 0h2m1 0h1m1 0h1m10 0h1m11 0h1m1 0h1m9 0h1m16 0h1m-67 1h1m9 0h1m3 0h1m6 0h1m61 0h1m-81 1h1m7 0h1m1 0h1m4 0h1m7 0h1m5 0h1m3 0h1m-68 1h1m29 0h1m25 0h1m2 0h1m5 0h1m1 0h1m22 0h1m-69 1h1m5 0h1m6 0h1m20 0h1m43 0h1m-71 1h1m6 0h2m1 0h1m25 0h1m-54 1h1m-9 1h1m47 0h1m5 0h1m-18 1h1m10 0h1m20 0h1m16 1h1m1 0h1m-72 1h1m6 0h1m12 0h1m6 0h1m-40 1h1m38 1h1m53 1h1m-91 1h1m5 0h1m3 0h1m11 1h1m5 1h1m37 4h1m-83 1h1m57 2h1m-23 1h1m-6 3h1m16 2h1m-12 5h2m6 0h1m11 0h1m9 0h1m24 0h1m-58 1h1m6 0h1m9 0h1m9 0h1m1 0h1m8 0h1m1 0h1m1 0h2m5 0h1m4 0h1" stroke="#1a1aff"/><path d="M147 51h1m-6 1h1m2 0h1m3 0h2m-11 1h2m1 0h1m1 0h1m1 0h1m2 0h2m-14 1h1m1 0h5m1 0h5m2 0h1m-18 1h1m1 0h4m3 0h1m3 0h4m1 0h1m-22 1h1m4 0h3m9 0h3m-18 1h5m2 0h1m4 0h1m2 0h1m1 0h1m1 0h1m-23 1h2m16 0h2m2 0h1m-21 1h3m13 0h2m-22 1h1m1 0h3m15 0h1m1 0h1m-24 1h4m1 0h1m14 0h1m-21 1h2m1 0h2m14 0h3m1 0h2m-27 1h2m2 0h3m15 0h1m1 0h2m-25 1h2m1 0h1m15 0h1m1 0h1m1 0h1m-27 1h2m1 0h1m1 0h1m15 0h5m1 0h1m-27 1h2m1 0h1m2 0h1m11 0h1m1 0h4m-21 1h3m16 0h1m-24 1h2m3 0h1m10 0h7m-22 1h1m1 0h3m8 0h1m1 0h7m-22 1h3m3 0h3m2 0h3m1 0h3m1 0h1m-22 1h7m1 0h8m1 0h1m1 0h1m-17 1h4m1 0h1m1 0h1m1 0h1m3 0h1m-13 1h2m1 0h2m4 0h3m-13 1h1m3 0h2m2 0h1m-8 1h1m-13 20h1m2 0h1m-6 1h1m1 0h2m-7 1h2m1 0h2m1 0h1m1 0h1m1 0h2m-14 1h1m2 0h1m1 0h1m3 0h4m1 0h1m2 0h1m-17 1h1m1 0h5m1 0h3m2 0h1m1 0h1m-21 1h1m1 0h1m1 0h1m1 0h4m1 0h1m1 0h1m1 0h1m2 0h3m-23 1h2m3 0h1m12 0h1m2 0h2m1 0h1m-21 1h1m14 0h4m-27 1h3m2 0h2m18 0h1m-24 1h1m23 0h2m2 0h1m-34 1h2m26 0h1m1 0h1m-33 1h2m32 0h1m-36 1h2m31 0h3m-36 1h1m33 0h4m-40 1h1m33 0h2m1 0h1m-41 1h1m1 0h1m35 0h1m2 0h1m-43 1h3m37 0h1m-42 1h3m36 0h1m2 0h1m-46 1h1m1 0h2m40 0h1m-44 1h2m39 0h1m-45 1h1m1 0h2m39 0h2m1 0h2m-48 1h3m40 0h1m1 0h1m-4 1h5m-50 1h2m1 0h1m-2 1h1m43 0h1m-48 1h2m1 0h1m40 0h2m1 0h1m-49 1h2m44 0h2m-50 1h4m41 0h2m-48 1h1m2 0h1m43 0h1m1 0h1m-47 1h1m42 0h1m-47 1h3m40 0h1m2 0h1m-47 1h2m42 0h1m-46 1h3m40 0h1m-44 1h2m40 0h1m1 0h1m-46 1h3m39 0h3m-45 1h2m39 0h3m-45 1h3m37 0h3m-45 1h2m2 0h1m35 0h1m3 0h1m-43 1h3m34 0h2m2 0h1m-43 1h4m34 0h1m-39 1h2m1 0h1m34 0h1m-39 1h1m1 0h1m31 0h1m-33 1h2m1 0h1m29 0h1m-37 1h1m1 0h2m1 0h2m25 0h3m-32 1h1m2 0h1m22 0h2m1 0h1m-31 1h1m1 0h2m3 0h1m17 0h4m1 0h1m-31 1h2m2 0h1m12 0h1m4 0h1m2 0h2m-25 1h1m1 0h1m1 0h1m1 0h3m3 0h2m1 0h1m1 0h1m3 0h2m-22 1h1m1 0h1m1 0h1m2 0h2m2 0h1m3 0h2m-15 1h1m1 0h1m1 0h1m1 0h2m1 0h1m1 0h1m-7 1h1m1 0h1" stroke="#0040ff"/><path d="M145 55h1m-7 1h1m1 0h1m2 0h1m1 0h2m-9 1h1m3 0h6m-9 1h1m1 0h5m1 0h1m-12 1h5m1 0h5m1 0h1m-16 1h1m1 0h4m1 0h3m1 0h1m1 0h1m1 0h1m-14 1h7m2 0h1m2 0h2m-16 1h3m1 0h3m2 0h4m1 0h2m-18 1h4m1 0h3m3 0h2m1 0h3m-17 1h1m3 0h1m2 0h3m2 0h2m2 0h1m-15 1h1m1 0h10m-15 1h2m1 0h4m2 0h3m1 0h2m-14 1h1m1 0h1m1 0h7m1 0h1m-13 1h2m1 0h7m-9 1h1m2 0h1m2 0h2m-29 31h4m4 0h1m-10 1h3m1 0h2m1 0h2m1 0h1m-15 1h2m4 0h1m3 0h1m1 0h5m-21 1h3m1 0h1m1 0h4m1 0h8m1 0h1m-23 1h2m1 0h1m1 0h2m4 0h1m1 0h1m3 0h2m1 0h2m-24 1h1m1 0h2m18 0h3m-3 1h2m1 0h1m-30 1h3m23 0h2m1 0h2m-33 1h1m2 0h1m24 0h1m1 0h2m-34 1h1m2 0h1m27 0h3m-31 1h1m27 0h4m-34 1h1m30 0h3m-36 1h2m30 0h1m2 0h1m-39 1h4m34 0h1m-40 1h3m33 0h2m-40 1h3m35 0h2m-39 1h2m34 0h3m-42 1h4m35 0h1m-41 1h1m1 0h1m36 0h3m-43 1h1m1 0h2m-5 1h2m1 0h1m37 0h1m-42 1h3m36 0h2m-41 1h3m36 0h2m-43 1h2m37 0h1m2 0h1m-44 1h4m35 0h1m-40 1h1m2 0h1m34 0h3m-42 1h3m36 0h3m-41 1h2m35 0h2m-40 1h3m35 0h1m-39 1h2m32 0h4m-40 1h4m33 0h2m-40 1h1m1 0h1m1 0h1m29 0h3m-36 1h1m1 0h1m30 0h1m1 0h1m-36 1h1m1 0h1m27 0h1m1 0h3m-36 1h5m27 0h1m-32 1h4m25 0h2m-31 1h1m1 0h3m21 0h2m-27 1h1m22 0h4m-28 1h8m10 0h1m2 0h3m1 0h1m-23 1h2m1 0h1m1 0h1m2 0h2m4 0h1m1 0h3m1 0h1m1 0h1m-23 1h10m1 0h6m1 0h2m-20 1h1m1 0h4m1 0h2m1 0h2m1 0h1m1 0h1m-13 1h1" stroke="#0088ff"/><path d="M141 60h1m-1 2h1m-1 1h1m-3 1h1m-32 40h3m1 0h2m1 0h1m1 0h2m-15 1h1m1 0h5m3 0h1m1 0h1m1 0h2m-18 1h1m1 0h2m1 0h2m1 0h2m1 0h2m1 0h2m2 0h1m-19 1h6m3 0h2m2 0h3m1 0h3m-24 1h5m15 0h1m1 0h3m-26 1h1m1 0h3m15 0h1m1 0h1m1 0h1m-28 1h1m1 0h3m18 0h5m-29 1h4m22 0h4m-29 1h1m24 0h4m-33 1h1m1 0h2m23 0h5m-32 1h2m27 0h1m1 0h1m-34 1h3m26 0h2m1 0h2m-35 1h1m1 0h2m26 0h3m-35 1h4m28 0h3m-35 1h3m28 0h5m-36 1h3m28 0h3m1 0h1m-38 1h3m31 0h1m-38 1h1m1 0h3m29 0h3m1 0h1m-37 1h1m1 0h1m29 0h2m1 0h1m-38 1h3m29 0h1m1 0h3m-37 1h3m30 0h2m-35 1h2m29 0h3m-35 1h3m28 0h1m1 0h2m-37 1h4m28 0h2m-32 1h3m27 0h3m-35 1h4m26 0h3m-33 1h4m25 0h4m-33 1h3m23 0h5m-32 1h1m1 0h3m21 0h2m1 0h1m-30 1h6m18 0h1m1 0h1m-27 1h3m1 0h3m14 0h2m1 0h3m-27 1h2m1 0h4m1 0h1m8 0h1m1 0h5m1 0h1m-25 1h1m1 0h5m1 0h5m1 0h1m1 0h3m1 0h2m-22 1h2m1 0h7m1 0h7m-16 1h2m2 0h1m1 0h7m-11 1h1m1 0h2m3 0h1" stroke="#00c8f8"/><path d="M108 106h2m-5 1h4m1 0h4m1 0h1m-13 1h14m-17 1h8m1 0h9m-20 1h1m2 0h3m1 0h1m3 0h1m3 0h6m-24 1h1m1 0h4m1 0h1m10 0h1m1 0h1m1 0h2m-24 1h4m1 0h1m12 0h1m1 0h4m-26 1h1m1 0h3m17 0h4m-27 1h2m1 0h2m17 0h2m1 0h1m-28 1h1m1 0h2m1 0h1m19 0h4m-30 1h4m22 0h3m-28 1h1m22 0h1m1 0h2m-30 1h1m1 0h1m24 0h3m-31 1h4m24 0h3m-32 1h5m23 0h3m-31 1h1m25 0h4m-31 1h3m24 0h4m-32 1h3m24 0h3m-32 1h3m1 0h1m24 0h3m-31 1h3m25 0h2m-31 1h4m21 0h4m-28 1h1m1 0h1m21 0h4m-29 1h4m20 0h4m-29 1h4m19 0h4m-27 1h5m16 0h4m-26 1h1m1 0h4m14 0h2m1 0h2m-22 1h3m1 0h1m9 0h1m1 0h3m1 0h1m-23 1h7m1 0h1m3 0h1m1 0h7m-18 1h1m1 0h12m1 0h2m-17 1h3m1 0h5m1 0h5m-15 1h3m1 0h4m4 0h1m-9 1h1" stroke="#00e8c8"/><path d="M105 109h1m1 0h1m1 0h2m-7 1h2m2 0h1m1 0h2m-11 1h13m1 0h1m-18 1h3m1 0h2m2 0h8m-17 1h11m1 0h7m-21 1h6m8 0h3m1 0h1m-22 1h3m1 0h1m14 0h5m-24 1h4m1 0h1m13 0h4m-24 1h5m15 0h4m-25 1h4m17 0h1m1 0h2m-25 1h3m16 0h1m1 0h3m-25 1h1m1 0h2m15 0h4m-25 1h4m16 0h1m1 0h4m-27 1h2m1 0h2m19 0h1m-25 1h4m17 0h3m-25 1h3m1 0h1m17 0h3m-26 1h1m2 0h1m17 0h5m-25 1h3m16 0h2m1 0h1m-24 1h6m12 0h2m1 0h2m-23 1h5m12 0h4m-21 1h1m1 0h4m11 0h2m-18 1h5m1 0h1m3 0h8m-19 1h4m1 0h2m1 0h5m1 0h2m1 0h1m-17 1h1m1 0h12m-13 1h3m1 0h1m1 0h1m2 0h2m-9 1h2m1 0h1" stroke="#20e860"/><path d="M102 112h5m1 0h1m-10 1h7m1 0h5m-14 1h14m-16 1h4m1 0h12m-18 1h7m2 0h2m1 0h3m1 0h1m-19 1h1m1 0h4m7 0h2m2 0h2m-19 1h4m10 0h5m-21 1h4m1 0h1m11 0h4m-21 1h5m10 0h1m1 0h2m-20 1h2m1 0h1m12 0h4m-20 1h4m11 0h4m-20 1h3m11 0h1m1 0h4m-21 1h3m12 0h1m1 0h1m-18 1h4m9 0h1m1 0h4m-20 1h1m1 0h5m7 0h5m-18 1h5m1 0h1m1 0h1m1 0h1m1 0h4m-16 1h5m1 0h3m1 0h2m2 0h1m-17 1h13m-12 1h1m1 0h4m1 0h5m-11 1h1m1 0h1m1 0h3m1 0h1" stroke="#90f000"/><path d="M104 114h1m1 0h1m-8 1h10m-9 1h3m1 0h1m1 0h1m1 0h2m-14 1h1m1 0h2m1 0h1m1 0h1m1 0h4m-14 1h5m1 0h1m1 0h1m1 0h4m-15 1h6m2 0h2m1 0h3m-14 1h5m4 0h4m-16 1h5m7 0h4m-16 1h1m3 0h2m5 0h5m-17 1h1m1 0h3m1 0h3m2 0h5m-15 1h3m1 0h1m2 0h2m1 0h4m-15 1h4m3 0h3m1 0h3m-14 1h3m1 0h8m-11 1h1m1 0h1m1 0h1m1 0h4m-10 1h4m1 0h2m2 0h1m-11 1h1m2 0h2m1 0h1" stroke="#fff000"/><path d="M103 115h1m-1 1h1m2 0h1m-8 1h1m1 0h1m3 0h2m-9 1h1m1 0h1m2 0h3m1 0h1m-10 1h5m1 0h2m1 0h1m-13 1h1m1 0h1m1 0h1m1 0h1m2 0h1m1 0h1m-14 1h1m1 0h3m2 0h2m1 0h4m-13 1h4m1 0h1m1 0h3m-12 1h3m1 0h1m1 0h4m-10 1h4m1 0h1m1 0h3m1 0h1m-11 1h5m2 0h2m-11 1h2m1 0h2m1 0h1m1 0h2m-8 1h1m2 0h1" stroke="#ff8000"/><path d="M103 116h1m-3 1h2m2 0h1m-9 1h1m1 0h4m1 0h1m1 0h1m-9 1h5m1 0h2m-9 1h8m-10 1h8m1 0h1m-10 1h9m-9 1h5m1 0h3m-11 1h7m-7 1h1m1 0h3m1 0h1m-7 1h1m1 0h2m1 0h1m-3 1h1" stroke="#f01000"/></g>
</svg>
<rect x="0" y="0" width="235.7" height="235.5" fill="none" stroke="#000" stroke-width="1.3"/>
<path d="M145,0V235.5M0,111H235.7" stroke="#000" stroke-width="1.5" fill="none"/>
<path d="M-7,15.8H0M-7,49.6H0M-7,83.7H0M-7,116.6H0M-7,150.8H0M-7,185.3H0M-7,216.1H0M-3.5,206.8H0M-3.5,201.4H0M-3.5,197.6H0M-4.5,194.6H0M-3.5,192.1H0M-3.5,190.1H0M-3.5,188.3H0M-3.5,186.7H0M-3.5,174.9H0M-3.5,168.8H0M-3.5,164.5H0M-4.5,161.2H0M-3.5,158.5H0M-3.5,156.1H0M-3.5,154.1H0M-3.5,152.4H0M-3.5,140.5H0M-3.5,134.5H0M-3.5,130.2H0M-4.5,126.9H0M-3.5,124.2H0M-3.5,121.9H0M-3.5,119.9H0M-3.5,118.2H0M-3.5,106.7H0M-3.5,100.9H0M-3.5,96.8H0M-4.5,93.6H0M-3.5,91.0H0M-3.5,88.8H0M-3.5,86.9H0M-3.5,85.2H0M-3.5,73.4H0M-3.5,67.4H0M-3.5,63.2H0M-4.5,59.9H0M-3.5,57.2H0M-3.5,54.9H0M-3.5,52.9H0M-3.5,51.2H0M-3.5,39.4H0M-3.5,33.5H0M-3.5,29.3H0M-4.5,26.0H0M-3.5,23.3H0M-3.5,21.0H0M-3.5,19.1H0M-3.5,17.3H0M-3.5,5.6H0M-5,218.5H0M-5,220.5H0M-5,222.5H0M-5,224H0M-5,226H0M-5,228H0M-5,230H0M-5,232.5H0M-5,234.5H0M-7,234.5H0M35.8,235.5V242.5M74.7,235.5V242.5M112.5,235.5V242.5M149.9,235.5V242.5M187.7,235.5V242.5M226.1,235.5V242.5M47.5,235.5V239.0M54.4,235.5V239.0M59.2,235.5V239.0M63.0,235.5V240.0M66.1,235.5V239.0M68.7,235.5V239.0M70.9,235.5V239.0M72.9,235.5V239.0M86.1,235.5V239.0M92.7,235.5V239.0M97.5,235.5V239.0M101.1,235.5V240.0M104.1,235.5V239.0M106.6,235.5V239.0M108.8,235.5V239.0M110.8,235.5V239.0M123.8,235.5V239.0M130.3,235.5V239.0M135.0,235.5V239.0M138.6,235.5V240.0M141.6,235.5V239.0M144.1,235.5V239.0M146.3,235.5V239.0M148.2,235.5V239.0M161.3,235.5V239.0M167.9,235.5V239.0M172.7,235.5V239.0M176.3,235.5V240.0M179.3,235.5V239.0M181.8,235.5V239.0M184.0,235.5V239.0M186.0,235.5V239.0M199.3,235.5V239.0M206.0,235.5V239.0M210.8,235.5V239.0M214.5,235.5V240.0M217.6,235.5V239.0M220.2,235.5V239.0M222.4,235.5V239.0M224.3,235.5V239.0M4,235.5V240.5M6,235.5V240.5M8,235.5V240.5M9.5,235.5V240.5M11,235.5V240.5M12.5,235.5V240.5M14,235.5V240.5M15.5,235.5V240.5M17.5,235.5V239.0M20,235.5V239.0M23,235.5V239.0M27,235.5V239.0M31,235.5V239.0" stroke="#000" stroke-width="1.45" fill="none"/>
<text x="-22.8" y="54.7" font-size="22.6" text-anchor="end">10</text>
<text x="-22.4" y="47.8" font-size="16">8</text>
<text x="-22.8" y="86.9" font-size="22.6" text-anchor="end">10</text>
<text x="-22.4" y="80.0" font-size="16">7</text>
<text x="-22.8" y="121.8" font-size="22.6" text-anchor="end">10</text>
<text x="-22.4" y="114.9" font-size="16">6</text>
<text x="-22.8" y="156.4" font-size="22.6" text-anchor="end">10</text>
<text x="-22.4" y="149.5" font-size="16">5</text>
<text x="-22.8" y="187.6" font-size="22.6" text-anchor="end">10</text>
<text x="-22.4" y="180.7" font-size="16">4</text>
<text x="-22.8" y="223.4" font-size="22.6" text-anchor="end">10</text>
<text x="-22.4" y="216.5" font-size="16">3</text>
<text x="-13.8" y="234.6" font-size="22.6" text-anchor="end">0</text>
<text x="-2.7" y="269.1" font-size="22.6">0</text>
<text x="17.5" y="271.7" font-size="22.6">10<tspan dy="-6.8" font-size="16">2</tspan></text>
<text x="57.2" y="271.7" font-size="22.6">10<tspan dy="-6.8" font-size="16">3</tspan></text>
<text x="94.5" y="271.7" font-size="22.6">10<tspan dy="-6.8" font-size="16">4</tspan></text>
<text x="128.2" y="271.7" font-size="22.6">10<tspan dy="-6.8" font-size="16">5</tspan></text>
<text x="162.3" y="271.7" font-size="22.6">10<tspan dy="-6.8" font-size="16">6</tspan></text>
<text x="206.0" y="271.7" font-size="22.6">10<tspan dy="-6.8" font-size="16">7</tspan></text>
<text x="14.8" y="28.6" font-size="23">1.00</text>
<text x="224.4" y="28.6" font-size="23" text-anchor="end">6.88</text>
<text x="14.8" y="218.0" font-size="23">88.5</text>
<text x="224.4" y="218.0" font-size="23" text-anchor="end">3.58</text>
</g>
<text x="267.7" y="1285.8" font-size="23.6" text-anchor="middle">LPS+</text>
<text x="267.7" y="1313.2" font-size="23.6" text-anchor="middle">CAR+PA</text>
<g transform="translate(141.4,1323.5)">
<svg width="235.7" height="235.5" overflow="hidden">
<path d="M98 180 94 180 92 180 90 179 86 179 84 178 82 177 81 176 80 174 78 172 78 170 78 166 79 164 80 162 80 160 82 158 82 156 84 154 84 152 86 150 87 148 88 147 90 145 91 144 92 142 94 140 95 138 96 137 98 136 100 134 101 132 103 132 104 130 106 128 108 127 110 126 111 124 113 124 114 122 116 121 118 120 120 118 122 117 122 115 124 114 124 110 124 108 123 106 123 102 122 100 122 98 122 94 122 92 122 88 122 86 123 84 123 80 124 78 125 76 126 74 126 72 127 70 128 68 129 66 130 64 132 62 133 60 134 59 136 58 138 56 139 54 140 53 142 52 144 51 146 50 148 49 150 48 153 48 156 47 158 46 160 46 164 46 166 46 169 46 172 47 174 48 176 48 178 50 180 50 182 52 183 54 184 55 186 57 186 60 187 62 187 64 187 68 186 70 185 72 184 74 183 76 182 78 181 80 180 81 178 82 176 84 175 86 174 87 172 88 170 90 169 92 168 94 166 95 165 96 164 98 163 100 162 102 161 104 160 106 160 110 160 112 161 114 162 116 163 118 164 120 165 122 165 126 165 128 164 130 163 132 162 134 161 136 160 138 158 140 157 142 156 143 154 144 152 146 151 148 150 150 148 151 147 152 146 154 144 156 142 157 140 158 139 160 138 161 136 162 134 164 132 165 130 166 129 168 127 168 126 170 124 171 122 172 120 173 118 174 116 175 114 176 111 176 108 177 106 178 104 178 102 179 98 179Z" fill="#3030ff" fill-opacity="0.16"/><path d="M106 174 104 174 100 174 98 174 95 174 93 172 91 172 90 170 88 168 87 166 87 164 87 160 88 158 88 156 90 154 90 152 92 150 92 148 94 146 95 144 96 143 98 141 99 140 100 138 102 136 104 135 105 134 106 132 108 131 110 130 112 128 114 127 116 126 117 124 119 124 120 122 122 121 124 120 126 119 128 118 130 116 132 116 134 114 134 112 134 110 134 108 133 106 132 104 131 102 130 100 130 96 130 94 130 90 131 88 131 86 132 84 132 81 133 78 134 76 135 74 136 72 137 70 138 69 140 67 141 66 142 64 144 62 146 62 148 60 150 60 152 59 156 59 158 59 160 60 162 61 164 62 166 64 167 66 167 68 168 70 167 72 166 75 166 77 165 80 164 82 162 83 162 85 160 87 160 89 158 90 157 92 156 94 155 96 154 98 153 100 152 102 150 104 150 106 148 108 148 110 148 114 150 115 150 117 152 118 153 120 154 122 155 124 156 126 156 130 156 132 155 134 154 136 153 138 152 140 151 142 150 144 148 146 147 148 146 149 144 150 142 152 141 154 140 155 138 156 136 158 135 160 134 161 132 162 130 163 128 164 126 166 124 167 122 168 120 169 118 170 116 171 114 172 112 172 110 173 107 174Z" fill="#2020ff" fill-opacity="0.3"/><path d="M144 93 142 92 141 90 141 88 142 85 142 82 143 80 144 78 146 77 147 76 149 74 150 75 152 76 152 80 152 82 150 84 150 86 148 88 148 90 146 92 144 93ZM110 170 108 170 104 170 102 170 99 170 97 168 95 168 94 166 93 164 92 162 92 158 93 156 94 154 94 152 95 150 96 148 98 146 99 144 100 142 102 141 103 140 104 138 106 136 108 135 109 134 110 132 112 131 114 130 116 128 118 127 120 126 122 125 124 124 126 123 128 122 130 121 132 120 134 120 136 119 140 119 142 120 144 120 146 122 148 122 149 124 150 126 151 128 151 132 151 134 150 136 149 138 148 140 147 142 146 144 144 146 144 148 142 150 140 151 139 152 138 154 136 156 134 157 132 158 131 160 130 161 128 162 126 163 124 164 122 166 120 166 118 167 116 168 114 169 111 170Z" fill="#0040ff"/><path d="M112 167 108 167 106 167 103 166 100 166 99 164 98 163 96 161 96 158 96 156 97 154 98 152 99 150 100 148 101 146 102 144 104 142 105 140 106 139 108 138 110 136 111 134 112 133 114 132 116 130 118 130 120 128 122 127 124 126 126 126 128 124 130 124 132 123 136 123 138 123 141 124 143 124 144 126 146 128 147 130 147 132 147 136 146 138 146 140 144 142 144 144 142 146 141 148 140 149 138 150 136 152 135 154 134 155 132 156 130 158 128 159 126 160 125 162 123 162 121 164 118 164 116 165 114 166 112 166Z" fill="#0088ff"/><path d="M114 164 112 164 108 164 106 164 104 163 102 162 100 160 100 158 100 154 100 152 101 150 102 148 103 146 104 144 106 142 107 140 108 139 110 138 112 136 114 135 115 134 117 132 118 131 120 130 122 129 124 128 126 127 130 127 132 126 134 126 138 126 140 127 142 128 143 130 144 132 144 134 144 138 143 140 142 142 141 144 140 146 138 147 138 149 136 150 134 152 133 154 131 154 130 156 128 158 126 158 124 160 122 160 120 162 118 162 116 163Z" fill="#00c8f8"/><path d="M116 161 112 161 110 161 108 160 106 159 104 158 104 155 104 153 104 150 105 148 106 146 107 144 108 143 110 141 111 140 112 138 114 137 116 136 118 134 120 133 122 132 124 131 126 130 128 130 130 129 134 129 136 130 138 130 140 132 140 134 141 136 140 138 140 141 138 143 138 145 136 146 135 148 134 150 132 152 130 153 128 154 127 156 125 156 123 158 121 158 119 160 116 160Z" fill="#00e8c8"/><path d="M116 158 114 158 110 158 109 156 108 155 107 152 108 150 108 148 109 146 110 144 112 142 113 140 115 140 116 138 118 136 120 136 122 134 124 134 126 133 128 132 132 132 134 132 136 134 137 136 137 138 136 141 136 143 134 145 133 146 132 148 130 150 129 152 127 152 126 154 124 155 122 156 120 157 117 158Z" fill="#20e860"/><path d="M118 155 116 155 113 154 112 153 111 150 111 148 112 146 114 144 115 142 116 141 118 140 120 138 122 137 124 136 126 136 128 135 131 136 133 136 134 138 134 141 133 144 132 145 130 147 129 148 128 150 126 151 124 152 122 154 120 154Z" fill="#90f000"/><path d="M120 152 118 152 115 152 114 150 114 146 115 144 116 143 118 142 120 140 122 139 124 138 126 138 130 138 130 140 130 142 130 144 128 146 127 148 126 149 124 150 122 151Z" fill="#fff000"/><path d="M122 150 118 150 116 149 116 147 118 145 118 143 120 142 122 141 124 140 127 140 128 142 127 144 126 146 124 148 122 149Z" fill="#ff8000"/><path d="M120 149 118 148 118 146 120 144 121 142 124 142 125 142 126 144 125 146 124 147 122 148Z" fill="#f01000"/><g transform="scale(1.2)" stroke-width="1"><path d="M149 5h1m10 2h1m-6 1h1m33 0h1m-77 1h1m28 0h1m29 0h1m-43 1h1m0 1h1m55 0h1m-56 2h1m6 0h1m23 0h1m-47 1h1m21 0h1m-16 1h1m18 1h1m-35 1h1m31 0h1m4 0h1m29 0h1m-51 1h2m2 0h2m23 0h1m-51 1h1m7 0h1m14 0h1m7 0h1m4 1h1m7 0h1m18 0h1m5 0h1m-51 1h2m17 0h1m8 0h1m-24 1h1m20 0h1m6 0h1m7 0h1m10 0h1m15 0h1m-73 1h1m7 0h1m8 0h1m5 0h1m11 0h1m-17 1h1m13 0h2m2 0h1m-57 1h1m31 0h1m3 0h1m6 0h1m1 0h1m20 0h2m13 0h1m-35 1h1m15 0h1m30 0h1m-67 1h1m27 0h1m5 0h1m28 0h1m-86 1h1m15 0h2m12 0h1m5 0h1m2 0h1m2 0h2m2 0h1m3 0h1m11 0h1m3 0h1m6 0h2m-73 1h1m15 0h1m4 0h1m11 0h1m2 0h1m7 0h1m5 0h1m2 0h1m11 0h1m-76 1h1m13 0h1m15 0h1m5 0h1m3 0h1m21 0h1m4 0h1m8 0h1m-68 1h1m15 0h1m1 0h1m7 0h1m5 0h1m11 0h1m2 0h2m7 0h1m5 0h1m9 0h1m-52 1h1m1 0h2m19 0h2m4 0h1m6 0h1m1 0h1m1 0h1m-65 1h1m12 0h1m1 0h1m4 0h1m15 0h2m7 0h1m5 0h1m1 0h1m2 0h1m4 0h1m2 0h2m-62 1h1m2 0h1m19 0h1m12 0h1m5 0h1m3 0h1m3 0h1m1 0h1m-55 1h1m7 0h2m2 0h1m10 0h1m4 0h1m3 0h1m1 0h1m10 0h2m1 0h1m3 0h1m3 0h1m2 0h1m1 0h1m-75 1h1m4 0h1m7 0h1m5 0h1m2 0h1m3 0h1m6 0h1m5 0h1m4 0h1m3 0h1m4 0h1m8 0h1m4 0h1m1 0h2m1 0h1m-72 1h1m5 0h1m10 0h1m5 0h1m5 0h1m1 0h1m4 0h1m2 0h1m2 0h1m2 0h1m8 0h2m8 0h1m2 0h1m6 0h1m1 0h1m-64 1h1m1 0h1m2 0h1m1 0h1m5 0h1m9 0h1m2 0h1m1 0h5m4 0h1m11 0h1m2 0h1m6 0h1m16 0h1m-100 1h1m8 0h1m8 0h1m5 0h1m2 0h1m25 0h2m3 0h1m10 0h1m8 0h1m17 0h1m10 0h1m-95 1h1m12 0h1m7 0h5m2 0h1m2 0h2m4 0h2m2 0h1m1 0h1m4 0h1m2 0h1m5 0h3m6 0h3m1 0h1m2 0h1m5 0h1m1 0h1m-100 1h1m16 0h1m4 0h1m9 0h2m4 0h1m2 0h2m5 0h2m4 0h2m4 0h1m1 0h3m2 0h1m3 0h1m5 0h2m1 0h1m14 0h1m3 0h1m11 0h1m3 0h1m-97 1h1m4 0h3m1 0h1m1 0h1m1 0h1m3 0h1m1 0h1m4 0h1m1 0h1m2 0h2m4 0h1m3 0h1m1 0h2m1 0h1m1 0h2m2 0h2m6 0h1m2 0h1m2 0h2m2 0h1m1 0h1m1 0h2m-82 1h1m18 0h1m2 0h1m3 0h2m1 0h1m2 0h1m2 0h3m1 0h3m2 0h2m5 0h1m3 0h2m1 0h1m5 0h3m2 0h1m2 0h1m1 0h1m4 0h1m13 0h1m7 0h1m-108 1h1m8 0h1m9 0h2m7 0h1m2 0h1m2 0h3m1 0h1m1 0h2m3 0h2m4 0h2m2 0h1m2 0h1m5 0h2m2 0h1m5 0h2m4 0h1m9 0h2m7 0h1m-77 1h1m13 0h2m3 0h5m3 0h1m3 0h4m4 0h1m9 0h1m8 0h1m2 0h1m-78 1h1m11 0h2m3 0h1m4 0h1m5 0h2m2 0h1m1 0h1m2 0h1m2 0h2m2 0h1m1 0h1m1 0h1m3 0h1m4 0h1m2 0h2m2 0h2m3 0h1m6 0h1m21 0h1m-95 1h1m5 0h1m9 0h3m4 0h1m1 0h1m1 0h2m3 0h2m9 0h3m1 0h3m1 0h1m2 0h1m2 0h1m3 0h1m1 0h1m2 0h1m6 0h1m2 0h1m4 0h1m11 0h1m-96 1h1m12 0h1m2 0h2m5 0h3m4 0h2m1 0h1m2 0h3m4 0h1m3 0h1m2 0h2m1 0h1m7 0h3m10 0h1m2 0h2m18 0h1m-95 1h1m3 0h1m5 0h1m1 0h1m7 0h1m2 0h1m7 0h1m2 0h1m3 0h1m1 0h2m2 0h2m1 0h1m5 0h1m3 0h1m2 0h3m3 0h1m18 0h1m-101 1h1m22 0h2m1 0h1m1 0h1m6 0h1m3 0h2m5 0h2m4 0h2m9 0h1m11 0h1m2 0h1m10 0h1m-94 1h1m14 0h1m1 0h1m7 0h1m2 0h1m2 0h1m3 0h1m5 0h1m1 0h1m2 0h1m4 0h1m1 0h2m1 0h1m2 0h5m4 0h1m5 0h1m3 0h3m2 0h1m3 0h1m2 0h1m8 0h1m-139 1h1m36 0h1m9 0h1m5 0h1m3 0h1m7 0h1m1 0h2m2 0h1m5 0h1m2 0h1m2 0h1m3 0h1m2 0h2m1 0h1m4 0h1m2 0h3m1 0h1m2 0h1m7 0h1m2 0h2m1 0h3m2 0h1m2 0h3m14 0h1m-89 1h4m2 0h1m2 0h1m1 0h1m5 0h1m2 0h4m1 0h1m3 0h2m1 0h1m4 0h1m4 0h1m1 0h1m5 0h1m1 0h3m3 0h3m9 0h1m7 0h1m-95 1h1m19 0h3m1 0h3m6 0h2m1 0h1m4 0h3m1 0h2m3 0h3m1 0h3m1 0h1m1 0h2m1 0h2m1 0h1m1 0h1m1 0h1m3 0h1m6 0h2m1 0h2m2 0h1m9 0h1m-84 1h1m7 0h1m5 0h2m2 0h1m1 0h1m2 0h1m2 0h1m3 0h1m3 0h1m4 0h1m2 0h1m3 0h4m1 0h1m3 0h3m2 0h2m4 0h1m-79 1h1m5 0h1m2 0h1m3 0h2m2 0h1m2 0h2m5 0h4m1 0h2m2 0h5m1 0h1m1 0h1m1 0h2m1 0h1m3 0h5m1 0h1m2 0h1m3 0h1m1 0h2m4 0h1m4 0h1m14 0h1m-156 1h1m69 0h1m1 0h1m1 0h1m11 0h1m4 0h2m2 0h1m1 0h3m1 0h2m3 0h1m1 0h2m2 0h2m1 0h1m2 0h1m1 0h2m3 0h3m24 0h1m8 0h1m-97 1h1m25 0h2m1 0h2m1 0h2m1 0h1m5 0h1m2 0h2m2 0h1m1 0h1m2 0h1m1 0h2m1 0h1m1 0h1m7 0h1m1 0h1m3 0h2m12 0h1m-98 1h1m5 0h1m1 0h1m1 0h1m21 0h1m1 0h1m1 0h2m2 0h1m1 0h2m1 0h1m1 0h2m1 0h2m1 0h1m6 0h2m2 0h2m7 0h1m5 0h4m3 0h1m10 0h1m-93 1h1m6 0h1m5 0h1m4 0h1m7 0h1m2 0h2m2 0h1m2 0h1m1 0h2m2 0h7m1 0h2m1 0h1m1 0h1m2 0h4m7 0h1m12 0h1m3 0h1m23 0h1m-102 1h2m3 0h1m1 0h2m2 0h1m4 0h1m4 0h5m1 0h1m3 0h2m1 0h1m3 0h1m2 0h3m3 0h2m1 0h1m3 0h2m2 0h2m4 0h2m2 0h1m1 0h1m3 0h1m26 0h1m-110 1h1m1 0h1m5 0h1m3 0h2m3 0h3m1 0h1m3 0h2m1 0h1m1 0h2m1 0h2m1 0h1m1 0h2m2 0h3m2 0h2m1 0h2m1 0h2m2 0h2m2 0h1m2 0h1m4 0h2m5 0h1m1 0h1m5 0h1m3 0h1m6 0h1m-101 1h1m13 0h1m2 0h3m11 0h2m2 0h1m1 0h2m5 0h1m4 0h1m1 0h1m1 0h2m1 0h2m4 0h1m1 0h1m7 0h1m-62 1h1m7 0h1m1 0h1m6 0h2m3 0h2m1 0h2m6 0h2m2 0h1m1 0h1m1 0h2m3 0h1m4 0h2m1 0h1m3 0h1m2 0h2m2 0h2m16 0h1m-88 1h1m3 0h1m11 0h1m1 0h2m1 0h3m2 0h2m1 0h2m2 0h1m1 0h1m2 0h1m4 0h4m1 0h2m1 0h1m1 0h1m6 0h1m3 0h2m14 0h1m3 0h1m-93 1h1m11 0h1m6 0h1m3 0h2m1 0h1m1 0h1m2 0h1m2 0h1m1 0h3m1 0h2m5 0h2m3 0h3m1 0h1m1 0h1m1 0h2m3 0h2m6 0h2m11 0h1m14 0h1m-112 1h1m25 0h1m4 0h2m2 0h1m1 0h1m9 0h2m2 0h1m4 0h2m2 0h1m1 0h1m2 0h1m4 0h1m5 0h2m8 0h2m-76 1h1m1 0h1m9 0h1m1 0h1m3 0h1m4 0h1m1 0h1m1 0h1m1 0h1m2 0h4m6 0h1m3 0h7m11 0h2m4 0h1m2 0h2m4 0h1m2 0h1m8 0h1m-80 1h1m10 0h1m1 0h4m1 0h1m1 0h1m1 0h1m2 0h1m5 0h2m4 0h3m1 0h2m5 0h1m11 0h1m12 0h1m-69 1h2m1 0h1m3 0h2m2 0h2m4 0h1m6 0h1m3 0h5m2 0h1m5 0h1m7 0h2m-59 1h1m7 0h1m4 0h1m2 0h2m1 0h6m3 0h1m7 0h1m1 0h6m5 0h1m5 0h1m7 0h1m18 0h1m-95 1h1m8 0h1m3 0h2m2 0h1m4 0h1m4 0h2m5 0h1m1 0h1m2 0h2m6 0h3m2 0h2m4 0h1m2 0h3m7 0h1m5 0h1m2 0h1m1 0h1m-96 1h1m16 0h1m12 0h1m18 0h1m1 0h1m5 0h1m1 0h1m2 0h1m1 0h2m1 0h2m1 0h1m1 0h1m5 0h1m7 0h2m6 0h2m17 0h1m-82 1h2m3 0h1m2 0h1m2 0h1m1 0h2m1 0h1m1 0h2m2 0h1m5 0h1m1 0h1m1 0h1m4 0h1m3 0h3m7 0h1m4 0h1m7 0h1m-64 1h2m2 0h1m3 0h4m2 0h4m7 0h4m2 0h3m1 0h1m3 0h2m3 0h1m1 0h1m1 0h2m2 0h1m-79 1h1m10 0h1m2 0h1m4 0h1m4 0h1m1 0h1m1 0h1m3 0h1m1 0h1m1 0h1m3 0h1m1 0h1m7 0h2m1 0h2m1 0h1m3 0h1m20 0h1m3 0h1m1 0h1m6 0h1m22 0h1m-97 1h1m2 0h1m4 0h1m1 0h1m5 0h3m3 0h2m4 0h1m1 0h4m2 0h1m4 0h1m5 0h2m3 0h1m18 0h1m22 0h1m-110 1h1m15 0h1m3 0h2m4 0h2m1 0h1m1 0h2m2 0h1m1 0h2m2 0h3m3 0h1m1 0h1m1 0h1m4 0h4m1 0h1m7 0h1m2 0h1m1 0h1m2 0h1m-70 1h1m2 0h1m7 0h1m4 0h2m1 0h1m1 0h1m1 0h1m1 0h2m1 0h2m1 0h1m1 0h1m1 0h1m1 0h2m5 0h3m1 0h2m2 0h1m2 0h1m5 0h3m15 0h1m6 0h1m-87 1h1m10 0h1m4 0h1m2 0h1m2 0h1m1 0h1m1 0h2m2 0h1m1 0h2m2 0h4m3 0h1m1 0h2m5 0h1m3 0h3m1 0h1m8 0h1m9 0h1m12 0h1m-105 1h1m10 0h1m8 0h2m6 0h1m4 0h4m1 0h1m1 0h3m1 0h1m1 0h1m1 0h4m1 0h1m1 0h1m2 0h1m1 0h1m4 0h1m10 0h1m2 0h1m5 0h2m1 0h1m25 0h1m-106 1h1m1 0h2m11 0h2m7 0h1m1 0h1m2 0h1m3 0h1m1 0h2m1 0h1m2 0h1m3 0h1m1 0h1m2 0h1m3 0h1m2 0h3m6 0h1m2 0h2m16 0h1m16 0h1m-125 1h1m18 0h2m10 0h1m12 0h1m1 0h4m1 0h2m2 0h1m3 0h4m1 0h1m1 0h2m2 0h2m1 0h3m3 0h1m15 0h2m10 0h1m9 0h1m-121 1h1m17 0h1m6 0h1m5 0h1m5 0h1m7 0h1m1 0h2m2 0h1m1 0h3m2 0h3m1 0h6m4 0h3m4 0h1m11 0h1m6 0h1m12 0h1m-91 1h1m8 0h1m10 0h1m5 0h3m5 0h1m2 0h2m3 0h2m3 0h4m6 0h1m6 0h1m3 0h1m3 0h1m3 0h1m11 0h1m7 0h1m-102 1h1m2 0h1m3 0h1m15 0h3m3 0h3m1 0h2m1 0h3m2 0h1m4 0h3m1 0h2m2 0h2m1 0h1m8 0h1m1 0h1m5 0h3m17 0h1m-102 1h1m6 0h1m11 0h2m4 0h1m3 0h1m1 0h1m1 0h4m1 0h1m1 0h1m2 0h2m1 0h2m1 0h3m1 0h6m1 0h1m2 0h2m9 0h1m8 0h1m-91 1h1m16 0h1m4 0h1m21 0h1m1 0h1m2 0h3m7 0h1m1 0h1m1 0h1m4 0h2m2 0h2m2 0h1m2 0h1m12 0h1m1 0h1m9 0h1m-104 1h1m23 0h1m4 0h1m14 0h1m1 0h1m1 0h1m1 0h2m1 0h3m10 0h3m1 0h1m1 0h2m3 0h1m13 0h1m1 0h1m3 0h1m3 0h1m-59 1h1m1 0h2m2 0h1m1 0h3m1 0h1m3 0h1m1 0h2m2 0h6m17 0h1m9 0h1m8 0h1m-76 1h1m5 0h1m5 0h2m1 0h1m1 0h4m1 0h1m1 0h2m2 0h2m6 0h1m8 0h1m5 0h1m-62 1h1m13 0h1m1 0h1m1 0h1m3 0h2m1 0h1m2 0h1m2 0h2m3 0h1m2 0h1m7 0h1m2 0h1m35 0h1m-77 1h1m3 0h1m2 0h1m8 0h3m2 0h4m2 0h5m8 0h1m1 0h1m38 0h1m10 0h1m-96 1h1m9 0h1m2 0h1m3 0h1m3 0h1m2 0h1m7 0h5m1 0h1m3 0h1m5 0h1m8 0h1m2 0h1m6 0h1m34 0h1m-113 1h1m15 0h1m3 0h1m6 0h1m2 0h2m1 0h3m2 0h1m5 0h2m3 0h1m3 0h1m1 0h1m11 0h1m5 0h1m13 0h1m13 0h1m-100 1h1m1 0h1m5 0h2m6 0h1m3 0h1m1 0h2m1 0h3m1 0h1m1 0h2m5 0h2m2 0h2m1 0h1m2 0h1m23 0h1m3 0h1m1 0h1m1 0h1m-88 1h1m10 0h1m17 0h3m2 0h1m2 0h2m1 0h2m3 0h1m2 0h1m1 0h1m1 0h1m2 0h1m4 0h3m6 0h1m6 0h1m2 0h2m-58 1h1m1 0h2m2 0h1m2 0h1m2 0h2m1 0h1m1 0h2m1 0h2m3 0h1m3 0h3m1 0h1m10 0h1m2 0h1m15 0h1m6 0h1m17 0h1m-104 1h2m4 0h1m7 0h1m2 0h1m1 0h1m1 0h2m2 0h2m1 0h2m1 0h1m1 0h2m2 0h2m2 0h1m4 0h1m2 0h1m1 0h3m10 0h1m4 0h1m2 0h1m5 0h1m8 0h1m2 0h1m-112 1h1m28 0h1m5 0h2m3 0h1m1 0h1m2 0h3m4 0h1m5 0h5m6 0h1m4 0h1m11 0h1m10 0h1m3 0h1m-83 1h1m3 0h1m2 0h1m4 0h2m1 0h1m1 0h2m1 0h2m1 0h1m14 0h1m1 0h1m1 0h1m2 0h2m2 0h1m2 0h3m2 0h1m3 0h1m1 0h1m9 0h2m1 0h1m2 0h1m-82 1h1m3 0h1m1 0h1m2 0h1m4 0h7m21 0h4m1 0h1m1 0h1m4 0h2m3 0h1m2 0h1m2 0h1m2 0h1m1 0h1m1 0h2m3 0h1m6 0h1m-86 1h1m11 0h1m1 0h1m1 0h1m2 0h2m1 0h2m18 0h2m2 0h1m4 0h4m2 0h1m1 0h4m1 0h2m7 0h1m10 0h1m-120 1h1m37 0h1m1 0h1m7 0h1m1 0h2m1 0h1m25 0h5m1 0h3m5 0h1m1 0h1m2 0h2m2 0h1m3 0h2m1 0h1m1 0h3m-79 1h1m11 0h2m1 0h4m26 0h2m1 0h4m3 0h2m8 0h2m15 0h1m10 0h2m-113 1h1m22 0h1m6 0h1m2 0h1m29 0h3m1 0h1m2 0h1m1 0h2m5 0h2m2 0h1m17 0h1m3 0h1m7 0h1m-100 1h1m7 0h1m6 0h3m2 0h1m30 0h3m2 0h1m1 0h1m11 0h1m2 0h1m-59 1h4m30 0h1m5 0h1m1 0h1m6 0h1m7 0h1m3 0h1m36 0h1m-117 1h1m5 0h1m3 0h1m3 0h1m4 0h1m32 0h2m1 0h1m1 0h1m4 0h1m2 0h1m1 0h3m10 0h1m7 0h1m14 0h1m-159 1h1m35 0h1m17 0h1m4 0h1m1 0h1m4 0h1m2 0h2m41 0h1m1 0h1m15 0h1m3 0h2m4 0h2m-87 1h1m6 0h2m3 0h1m3 0h1m36 0h1m1 0h1m1 0h1m2 0h1m1 0h1m4 0h1m2 0h1m1 0h1m19 0h1m4 0h2m-96 1h1m4 0h3m1 0h2m38 0h2m5 0h1m12 0h2m-69 1h1m1 0h1m2 0h1m41 0h1m3 0h1m3 0h2m1 0h1m1 0h1m2 0h1m12 0h1m4 0h1m-91 1h1m9 0h1m1 0h1m3 0h2m37 0h1m2 0h1m1 0h3m7 0h1m1 0h1m7 0h1m1 0h1m-76 1h1m2 0h1m1 0h3m42 0h1m3 0h1m11 0h2m6 0h1m3 0h1m-93 1h1m7 0h1m3 0h1m10 0h1m38 0h2m1 0h1m1 0h1m1 0h1m1 0h1m5 0h1m4 0h1m10 0h1m5 0h1m-85 1h2m2 0h1m1 0h2m38 0h1m5 0h2m2 0h1m7 0h1m2 0h1m-81 1h1m13 0h2m1 0h1m40 0h4m2 0h2m1 0h1m2 0h1m5 0h2m-72 1h2m1 0h1m1 0h1m3 0h1m1 0h2m38 0h3m3 0h1m15 0h1m3 0h1m6 0h1m-89 1h1m3 0h2m3 0h1m4 0h1m39 0h2m3 0h2m1 0h1m2 0h1m2 0h2m8 0h1m-83 1h1m12 0h1m1 0h1m2 0h1m41 0h2m7 0h1m9 0h1m2 0h1m3 0h1m7 0h1m-84 1h2m2 0h3m39 0h8m8 0h1m6 0h1m5 0h1m9 0h1m-107 1h1m14 0h1m1 0h1m1 0h1m2 0h2m43 0h2m3 0h1m3 0h1m2 0h1m4 0h1m2 0h1m-79 1h1m1 0h1m5 0h1m1 0h1m1 0h1m5 0h1m40 0h1m2 0h1m2 0h1m4 0h1m1 0h2m5 0h2m-83 1h1m14 0h1m1 0h1m46 0h1m6 0h1m3 0h1m10 0h1m-98 1h1m11 0h1m9 0h1m1 0h3m42 0h2m11 0h2m10 0h1m20 0h1m-107 1h1m3 0h1m4 0h1m3 0h2m2 0h1m1 0h1m39 0h1m2 0h1m1 0h1m6 0h1m-72 1h1m6 0h1m2 0h1m1 0h1m4 0h1m1 0h1m37 0h1m1 0h1m2 0h2m1 0h1m4 0h1m15 0h1m-74 1h2m2 0h1m1 0h1m36 0h2m1 0h2m2 0h1m3 0h1m-55 1h1m4 0h1m39 0h1m1 0h1m-77 1h1m9 0h1m3 0h1m7 0h1m1 0h2m1 0h2m4 0h1m38 0h1m1 0h1m-46 1h1m1 0h1m1 0h2m33 0h1m2 0h3m6 0h1m4 0h1m-74 1h1m8 0h3m1 0h1m1 0h1m1 0h4m35 0h3m13 0h1m-70 1h1m3 0h1m7 0h1m3 0h2m1 0h1m31 0h3m3 0h1m5 0h1m17 0h1m-82 1h3m9 0h2m5 0h2m30 0h1m4 0h1m-75 1h1m17 0h1m3 0h1m3 0h1m3 0h1m1 0h1m3 0h1m29 0h2m1 0h1m3 0h1m-72 1h1m7 0h2m10 0h1m3 0h3m4 0h3m1 0h1m29 0h3m4 0h1m-77 1h1m9 0h1m4 0h1m5 0h1m3 0h1m9 0h1m1 0h4m1 0h1m20 0h1m1 0h1m2 0h1m2 0h1m1 0h2m4 0h1m12 0h1m-75 1h1m11 0h1m2 0h1m2 0h1m1 0h2m1 0h1m20 0h3m1 0h2m1 0h2m1 0h2m-61 1h1m5 0h3m3 0h1m2 0h2m3 0h3m2 0h2m23 0h1m1 0h1m1 0h2m3 0h1m5 0h1m-70 1h1m12 0h1m6 0h1m1 0h2m3 0h2m2 0h2m4 0h2m10 0h1m1 0h2m1 0h2m1 0h2m-63 1h1m9 0h1m13 0h2m7 0h2m1 0h1m2 0h2m1 0h1m1 0h2m9 0h3m2 0h1m5 0h1m-70 1h1m7 0h1m10 0h1m2 0h2m1 0h1m1 0h2m4 0h1m1 0h1m6 0h3m2 0h1m2 0h2m1 0h3m3 0h1m13 0h1m1 0h1m-65 1h2m17 0h1m4 0h2m1 0h4m1 0h2m3 0h3m1 0h1m1 0h1m3 0h2m7 0h1m16 0h1m49 0h1m-125 1h1m9 0h1m4 0h1m5 0h1m4 0h1m1 0h1m2 0h4m3 0h5m4 0h1m66 0h1m-111 1h1m10 0h1m2 0h2m1 0h4m1 0h2m2 0h3m5 0h1m1 0h1m9 0h1m4 0h1m-72 1h1m2 0h1m9 0h1m3 0h1m6 0h2m8 0h2m4 0h2m1 0h1m3 0h1m8 0h1m3 0h4m-59 1h1m7 0h1m7 0h1m2 0h1m6 0h1m2 0h1m2 0h1m6 0h4m2 0h2m1 0h1m3 0h1m3 0h1m1 0h2m18 0h1m-64 1h1m5 0h2m6 0h1m3 0h2m2 0h2m4 0h1m1 0h1m1 0h1m2 0h1m4 0h2m11 0h1m3 0h1m-78 1h1m21 0h1m8 0h1m9 0h2m1 0h2m4 0h1m1 0h1m5 0h1m3 0h1m9 0h1m4 0h1m-65 1h1m2 0h1m3 0h1m13 0h1m1 0h1m1 0h2m2 0h1m1 0h1m3 0h1m6 0h1m4 0h1m3 0h1m-76 1h1m3 0h1m29 0h1m6 0h1m3 0h1m1 0h1m1 0h1m14 0h2m1 0h1m2 0h1m5 0h1m-46 1h1m5 0h2m5 0h1m1 0h2m5 0h1m4 0h1m6 0h2m-73 1h1m33 0h1m1 0h1m1 0h1m10 0h1m1 0h1m2 0h1m7 0h1m8 0h1m15 0h1m-66 1h1m12 0h2m5 0h1m20 0h2m2 0h1m2 0h1m1 0h1m8 0h1m-74 1h1m15 0h1m10 0h1m6 0h1m3 0h1m1 0h2m3 0h1m23 0h1m-41 1h1m4 0h1m2 0h2m2 0h1m13 0h1m-35 1h1m7 0h1m3 0h1m2 0h1m22 0h1m6 0h1m18 0h1m-84 1h1m3 0h1m6 0h1m12 0h1m3 0h1m1 0h1m7 0h1m2 0h2m9 0h1m5 0h1m6 0h1m-62 1h2m12 0h1m7 0h1m31 0h1m3 0h1m24 0h1m-72 1h1m2 0h1m21 0h1m2 0h1m6 0h1m11 0h1m8 0h1m-46 1h1m5 0h1m16 0h1m15 0h1m-47 1h1m1 0h1m15 0h1m-35 1h1m21 0h1m42 0h1m-61 1h1m33 0h1m5 0h1m-39 1h1m15 0h2m5 0h1m5 0h1m72 0h1m-128 1h1m7 0h1m13 0h1m26 0h1m14 0h1m7 0h1m11 0h1m-67 1h1m8 0h1m42 0h1m-75 1h1m15 0h1m22 1h1m18 0h1m14 0h1m3 0h1m-56 1h1m-21 1h1m20 0h1m26 0h1m120 0h1m-138 1h1m3 0h1m5 2h1m-8 1h1m1 0h1m-38 1h1m28 0h1m20 0h1m-33 1h1m74 0h1m-76 3h1m14 1h1m68 1h1m36 3h1m-136 8h1m31 0h1m16 0h1m1 0h2m1 0h1m15 0h1m9 0h1m7 0h1m1 0h1m7 0h1m2 0h1m5 0h1m-68 1h1m16 0h1m9 0h1m3 0h1m18 0h1" stroke="#1a1aff"/><path d="M124 59h1m-4 2h1m0 1h2m2 0h1m-5 1h1m1 0h2m1 0h1m-5 1h1m1 0h1m1 0h1m-3 1h1m1 0h1m-8 1h1m2 0h1m1 0h3m-9 1h1m3 0h2m-4 1h2m1 0h1m-7 1h1m3 0h1m1 0h1m-6 1h1m1 0h1m2 0h1m2 0h1m-9 1h2m4 0h1m-6 1h1m1 0h4m-7 1h1m2 0h1m2 0h1m-5 1h3m-6 1h2m4 0h1m-10 1h3m3 0h2m-6 1h5m-6 1h1m2 0h1m1 0h1m-6 1h1m2 1h1m-4 19h1m1 0h1m1 0h1m-10 1h1m1 0h3m1 0h2m-11 1h1m2 0h1m2 0h2m1 0h3m2 0h1m-18 1h5m1 0h2m1 0h2m1 0h2m1 0h1m-15 1h4m7 0h1m1 0h1m1 0h2m-20 1h5m10 0h1m1 0h3m-21 1h1m18 0h4m-26 1h1m1 0h1m20 0h3m-27 1h1m1 0h1m21 0h1m2 0h1m-30 1h3m23 0h1m3 0h1m-34 1h1m1 0h1m1 0h1m24 0h1m1 0h1m-31 1h3m27 0h3m-36 1h1m1 0h2m28 0h3m-37 1h3m32 0h3m-37 1h1m32 0h1m1 0h1m-38 1h3m31 0h2m-37 1h2m33 0h2m-37 1h2m34 0h2m-39 1h1m34 0h3m-40 1h1m1 0h1m35 0h1m-38 1h1m36 0h1m-40 1h3m34 0h2m-3 1h2m-39 1h1m36 0h2m-40 1h1m-2 1h1m1 0h1m35 0h2m-41 1h2m1 0h1m35 0h1m-4 1h2m-38 1h1m1 0h1m32 0h2m-36 1h2m30 0h1m1 0h1m-37 1h2m32 0h2m-36 1h1m32 0h2m-35 1h1m1 0h1m28 0h1m-32 1h1m1 0h1m28 0h2m-34 1h4m25 0h1m1 0h2m-31 1h2m26 0h1m-29 1h2m23 0h1m1 0h1m-29 1h1m1 0h2m19 0h3m-26 1h4m1 0h1m13 0h1m2 0h4m-22 1h1m1 0h1m11 0h3m1 0h1m1 0h1m-24 1h4m1 0h1m1 0h1m1 0h1m2 0h3m5 0h1m-18 1h1m1 0h6m1 0h1m4 0h1m-17 1h1m1 0h2m1 0h2m1 0h1m1 0h1m-2 1h1" stroke="#0040ff"/><path d="M114 102h1m1 0h1m-7 1h6m1 0h3m-12 1h9m2 0h2m-17 1h9m1 0h6m-19 1h1m1 0h2m2 0h1m7 0h1m1 0h1m1 0h4m-23 1h2m15 0h1m1 0h2m-21 1h2m18 0h1m1 0h1m-24 1h1m21 0h1m-27 1h1m1 0h1m22 0h1m1 0h1m-29 1h3m23 0h3m-30 1h1m1 0h1m25 0h1m-31 1h2m27 0h1m1 0h1m-31 1h1m28 0h2m-33 1h2m28 0h2m-33 1h1m30 0h1m-33 1h3m28 0h2m-33 1h2m28 0h3m-35 1h1m1 0h1m30 0h1m-34 1h2m30 0h2m-35 1h1m33 0h1m-37 1h1m1 0h1m-3 1h3m30 0h2m-35 1h2m30 0h2m-35 1h2m1 0h1m29 0h2m-4 1h1m-32 1h2m29 0h2m-34 1h3m29 0h1m-32 1h2m25 0h3m-32 1h2m1 0h1m24 0h1m2 0h1m-32 1h3m24 0h1m1 0h2m-31 1h4m22 0h2m-27 1h2m1 0h1m18 0h3m-25 1h2m19 0h4m-26 1h6m15 0h2m-21 1h4m2 0h1m6 0h2m1 0h1m1 0h3m-20 1h9m1 0h4m1 0h1m1 0h1m-13 1h1m1 0h3m1 0h2m-10 1h5m1 0h2" stroke="#0088ff"/><path d="M108 105h2m2 0h2m-5 1h4m1 0h4m-16 1h4m2 0h4m1 0h1m1 0h2m1 0h1m-16 1h1m1 0h2m6 0h3m2 0h2m-21 1h3m1 0h2m10 0h2m1 0h2m-22 1h4m16 0h3m-24 1h3m1 0h1m16 0h3m-25 1h4m18 0h2m-26 1h4m21 0h1m-27 1h1m1 0h1m21 0h2m1 0h1m-29 1h4m22 0h3m-29 1h2m23 0h3m-29 1h1m25 0h2m-29 1h2m24 0h2m-30 1h2m26 0h3m-30 1h1m25 0h3m-32 1h4m25 0h2m-31 1h2m26 0h2m-30 1h2m26 0h1m-29 1h2m25 0h1m-30 1h4m24 0h2m-30 1h1m1 0h1m23 0h1m1 0h1m-29 1h1m1 0h2m21 0h3m-29 1h1m2 0h1m20 0h4m-28 1h4m20 0h3m-26 1h4m17 0h4m-26 1h5m16 0h3m-24 1h2m1 0h1m1 0h1m12 0h1m1 0h2m1 0h1m-23 1h3m1 0h1m11 0h2m1 0h1m-20 1h1m1 0h6m1 0h2m2 0h6m-18 1h5m1 0h7m1 0h1m-14 1h4m1 0h6m-5 1h1" stroke="#00c8f8"/><path d="M109 107h1m1 0h1m-6 1h1m1 0h3m2 0h1m-11 1h1m2 0h10m-15 1h7m2 0h1m1 0h5m-16 1h5m4 0h1m2 0h4m-19 1h1m1 0h3m9 0h1m2 0h2m-20 1h3m13 0h5m-21 1h1m1 0h1m14 0h4m-23 1h3m16 0h4m-25 1h5m16 0h3m-24 1h1m21 0h2m-25 1h2m20 0h2m-26 1h2m1 0h1m19 0h3m-26 1h3m21 0h2m-26 1h2m-2 1h2m19 0h4m-27 1h3m19 0h3m-26 1h3m19 0h4m-26 1h4m17 0h3m-24 1h4m18 0h2m-24 1h3m15 0h5m-24 1h3m16 0h4m-22 1h1m1 0h3m10 0h4m-20 1h5m9 0h6m-19 1h4m1 0h1m1 0h1m1 0h2m1 0h4m-16 1h5m1 0h2m2 0h2m1 0h2m-11 1h5m1 0h3m-10 1h1m1 0h1m1 0h4" stroke="#00e8c8"/><path d="M106 110h5m-8 1h10m-12 1h3m1 0h2m1 0h4m1 0h2m-16 1h10m1 0h4m-16 1h3m1 0h1m2 0h1m5 0h4m-18 1h4m10 0h4m-19 1h4m11 0h5m-21 1h4m12 0h4m-21 1h3m16 0h1m-21 1h4m14 0h3m-21 1h2m15 0h2m-21 1h4m14 0h4m-22 1h4m15 0h2m-22 1h3m15 0h3m-21 1h2m15 0h4m-21 1h4m12 0h2m-19 1h3m1 0h2m9 0h4m-19 1h4m9 0h4m1 0h1m-19 1h2m1 0h5m1 0h2m1 0h2m1 0h2m-17 1h7m1 0h1m1 0h5m-14 1h3m1 0h4m1 0h1m1 0h1m-10 1h1m1 0h7m-10 1h1m1 0h2" stroke="#20e860"/><path d="M105 112h1m-3 1h3m1 0h3m-9 1h6m1 0h3m-11 1h6m1 0h5m-13 1h2m1 0h1m4 0h6m-16 1h5m5 0h2m1 0h1m-15 1h4m10 0h3m-18 1h4m8 0h5m-18 1h1m1 0h2m11 0h3m-19 1h4m10 0h1m1 0h2m-17 1h3m9 0h1m1 0h1m-17 1h5m8 0h4m-17 1h5m8 0h3m-16 1h1m1 0h2m7 0h4m-15 1h5m1 0h3m1 0h3m-13 1h8m1 0h2m1 0h1m-12 1h6m1 0h2m-7 1h1m1 0h3m-4 1h1" stroke="#90f000"/><path d="M105 114h1m-2 1h7m-11 1h5m1 0h2m-8 1h11m-12 1h1m1 0h1m1 0h1m2 0h4m-13 1h5m2 0h5m-13 1h1m5 0h8m-13 1h2m5 0h5m-14 1h5m3 0h1m1 0h3m-13 1h2m1 0h1m5 0h3m-13 1h3m1 0h2m1 0h5m-11 1h1m1 0h8m-10 1h9m-9 1h7" stroke="#fff000"/><path d="M103 116h1m1 0h3m-5 1h1m1 0h3m-7 1h4m1 0h3m-10 1h8m1 0h1m-11 1h1m4 0h5m-11 1h1m2 0h4m2 0h2m-11 1h1m1 0h1m1 0h2m2 0h2m-11 1h2m2 0h2m1 0h3m-10 1h3m1 0h5m-10 1h1m1 0h2m2 0h1m-6 1h1m2 0h1" stroke="#ff8000"/><path d="M106 116h1m-6 1h6m-7 1h8m-9 1h9m-9 1h7m-8 1h5m1 0h3m-8 1h5m-6 1h5m-6 1h5m-4 1h1" stroke="#f01000"/></g>
</svg>
<rect x="0" y="0" width="235.7" height="235.5" fill="none" stroke="#000" stroke-width="1.3"/>
<path d="M145,0V235.5M0,111H235.7" stroke="#000" stroke-width="1.5" fill="none"/>
<path d="M-7,15.8H0M-7,49.6H0M-7,83.7H0M-7,116.6H0M-7,150.8H0M-7,185.3H0M-7,216.1H0M-3.5,206.8H0M-3.5,201.4H0M-3.5,197.6H0M-4.5,194.6H0M-3.5,192.1H0M-3.5,190.1H0M-3.5,188.3H0M-3.5,186.7H0M-3.5,174.9H0M-3.5,168.8H0M-3.5,164.5H0M-4.5,161.2H0M-3.5,158.5H0M-3.5,156.1H0M-3.5,154.1H0M-3.5,152.4H0M-3.5,140.5H0M-3.5,134.5H0M-3.5,130.2H0M-4.5,126.9H0M-3.5,124.2H0M-3.5,121.9H0M-3.5,119.9H0M-3.5,118.2H0M-3.5,106.7H0M-3.5,100.9H0M-3.5,96.8H0M-4.5,93.6H0M-3.5,91.0H0M-3.5,88.8H0M-3.5,86.9H0M-3.5,85.2H0M-3.5,73.4H0M-3.5,67.4H0M-3.5,63.2H0M-4.5,59.9H0M-3.5,57.2H0M-3.5,54.9H0M-3.5,52.9H0M-3.5,51.2H0M-3.5,39.4H0M-3.5,33.5H0M-3.5,29.3H0M-4.5,26.0H0M-3.5,23.3H0M-3.5,21.0H0M-3.5,19.1H0M-3.5,17.3H0M-3.5,5.6H0M-5,218.5H0M-5,220.5H0M-5,222.5H0M-5,224H0M-5,226H0M-5,228H0M-5,230H0M-5,232.5H0M-5,234.5H0M-7,234.5H0M35.8,235.5V242.5M74.7,235.5V242.5M112.5,235.5V242.5M149.9,235.5V242.5M187.7,235.5V242.5M226.1,235.5V242.5M47.5,235.5V239.0M54.4,235.5V239.0M59.2,235.5V239.0M63.0,235.5V240.0M66.1,235.5V239.0M68.7,235.5V239.0M70.9,235.5V239.0M72.9,235.5V239.0M86.1,235.5V239.0M92.7,235.5V239.0M97.5,235.5V239.0M101.1,235.5V240.0M104.1,235.5V239.0M106.6,235.5V239.0M108.8,235.5V239.0M110.8,235.5V239.0M123.8,235.5V239.0M130.3,235.5V239.0M135.0,235.5V239.0M138.6,235.5V240.0M141.6,235.5V239.0M144.1,235.5V239.0M146.3,235.5V239.0M148.2,235.5V239.0M161.3,235.5V239.0M167.9,235.5V239.0M172.7,235.5V239.0M176.3,235.5V240.0M179.3,235.5V239.0M181.8,235.5V239.0M184.0,235.5V239.0M186.0,235.5V239.0M199.3,235.5V239.0M206.0,235.5V239.0M210.8,235.5V239.0M214.5,235.5V240.0M217.6,235.5V239.0M220.2,235.5V239.0M222.4,235.5V239.0M224.3,235.5V239.0M4,235.5V240.5M6,235.5V240.5M8,235.5V240.5M9.5,235.5V240.5M11,235.5V240.5M12.5,235.5V240.5M14,235.5V240.5M15.5,235.5V240.5M17.5,235.5V239.0M20,235.5V239.0M23,235.5V239.0M27,235.5V239.0M31,235.5V239.0" stroke="#000" stroke-width="1.45" fill="none"/>
<text x="-22.8" y="54.7" font-size="22.6" text-anchor="end">10</text>
<text x="-22.4" y="47.8" font-size="16">8</text>
<text x="-22.8" y="86.9" font-size="22.6" text-anchor="end">10</text>
<text x="-22.4" y="80.0" font-size="16">7</text>
<text x="-22.8" y="121.8" font-size="22.6" text-anchor="end">10</text>
<text x="-22.4" y="114.9" font-size="16">6</text>
<text x="-22.8" y="156.4" font-size="22.6" text-anchor="end">10</text>
<text x="-22.4" y="149.5" font-size="16">5</text>
<text x="-22.8" y="187.6" font-size="22.6" text-anchor="end">10</text>
<text x="-22.4" y="180.7" font-size="16">4</text>
<text x="-22.8" y="223.4" font-size="22.6" text-anchor="end">10</text>
<text x="-22.4" y="216.5" font-size="16">3</text>
<text x="-13.8" y="234.6" font-size="22.6" text-anchor="end">0</text>
<text x="-4.9" y="266.3" font-size="22.6">0</text>
<text x="15.3" y="268.9" font-size="22.6">10<tspan dy="-6.8" font-size="16">2</tspan></text>
<text x="55.0" y="268.9" font-size="22.6">10<tspan dy="-6.8" font-size="16">3</tspan></text>
<text x="92.3" y="268.9" font-size="22.6">10<tspan dy="-6.8" font-size="16">4</tspan></text>
<text x="126.0" y="268.9" font-size="22.6">10<tspan dy="-6.8" font-size="16">5</tspan></text>
<text x="160.1" y="268.9" font-size="22.6">10<tspan dy="-6.8" font-size="16">6</tspan></text>
<text x="203.8" y="268.9" font-size="22.6">10<tspan dy="-6.8" font-size="16">7</tspan></text>
<text x="11.4" y="32.5" font-size="23">2.11</text>
<text x="220.1" y="32.5" font-size="23" text-anchor="end">4.24</text>
<text x="10.8" y="217.8" font-size="23">91.4</text>
<text x="220.3" y="217.8" font-size="23" text-anchor="end">2.20</text>
</g>
<text x="609.4" y="1313.7" font-size="23.6" text-anchor="middle">LPS+Gly-Pro</text>
<g transform="translate(491.4,1324)">
<svg width="235.7" height="235.5" overflow="hidden">
<path d="M96 180 94 180 90 180 88 180 84 180 82 180 80 179 78 178 76 177 74 176 72 175 70 174 69 172 69 168 69 166 70 164 71 162 72 160 73 158 74 156 76 154 77 152 78 151 80 149 81 148 82 146 84 144 86 143 87 142 88 140 90 138 92 137 93 136 94 134 96 132 98 131 99 130 101 128 102 127 104 126 106 124 108 123 110 122 111 120 112 119 114 118 116 116 118 115 119 114 120 112 122 110 122 108 123 106 123 102 123 100 123 96 124 94 124 92 125 90 126 88 126 85 128 83 128 81 130 79 130 77 132 75 133 74 134 72 135 70 136 68 138 66 140 65 141 64 142 62 144 60 146 59 148 58 150 57 151 56 153 54 155 54 158 53 160 52 162 51 164 50 166 50 168 49 172 49 174 48 176 48 180 48 182 49 184 49 187 50 190 50 192 51 194 52 196 53 197 54 198 56 199 58 200 60 200 64 200 66 199 68 198 70 196 72 195 74 194 76 192 77 190 78 189 80 188 81 186 82 184 84 182 84 180 86 178 87 176 88 174 89 173 90 172 92 170 93 168 94 167 96 166 98 165 100 164 103 164 106 165 108 166 110 166 112 168 114 168 116 170 118 171 120 172 121 174 122 176 123 178 124 180 125 182 126 183 128 182 130 180 132 178 133 177 134 175 136 174 137 172 138 170 139 168 140 166 142 164 143 162 144 161 146 159 146 158 148 156 149 154 150 152 152 150 153 149 154 148 156 146 157 144 158 142 160 140 161 138 162 136 163 135 164 133 166 132 167 130 168 128 169 126 170 124 171 122 172 120 173 118 174 115 174 113 176 110 176 108 177 106 178 104 178 102 179 98 179 96 180Z" fill="#3030ff" fill-opacity="0.16"/><path d="M104 174 102 174 98 174 96 174 92 174 90 173 88 173 86 172 84 170 82 169 82 167 81 164 81 162 82 159 82 156 83 154 84 152 85 150 86 149 88 147 89 146 90 144 92 142 93 140 94 139 96 138 98 136 99 134 100 133 102 132 104 130 106 129 107 128 109 126 110 125 112 124 114 122 116 122 118 120 120 119 122 118 123 116 124 115 126 114 128 112 130 111 131 110 132 108 133 106 133 102 133 100 134 98 134 94 135 92 136 90 137 88 138 86 139 84 140 82 141 80 142 78 142 76 143 74 144 72 145 70 146 68 148 66 149 64 150 63 152 62 154 60 156 60 158 58 160 58 162 57 164 56 166 55 170 55 172 54 174 54 178 54 180 54 182 55 185 56 187 56 189 58 190 59 192 61 192 64 192 66 191 68 190 70 188 72 187 74 186 75 184 76 182 77 180 78 178 80 176 80 174 81 172 82 170 83 167 84 164 84 162 85 160 86 158 87 156 88 155 90 154 92 153 94 152 96 152 98 152 102 152 104 152 107 154 109 155 110 156 112 157 114 158 116 160 118 160 120 161 122 162 124 162 128 162 130 161 132 160 135 160 137 158 139 157 140 156 142 154 144 153 146 152 147 150 148 148 150 147 152 146 153 144 154 142 156 140 157 138 158 137 160 135 160 134 162 132 163 130 164 128 165 126 166 124 167 122 168 120 169 118 170 116 171 113 172 110 172 108 173 106 173Z" fill="#2020ff" fill-opacity="0.3"/><path d="M164 79 162 79 159 78 156 78 154 77 153 76 152 74 152 70 153 68 154 67 156 66 158 64 160 63 162 62 164 61 166 60 168 59 170 59 174 59 176 59 180 59 182 60 183 62 184 63 185 66 184 68 183 70 182 72 180 72 178 74 176 75 174 76 172 77 170 78 168 78 165 78ZM108 170 104 170 102 170 98 170 96 170 94 169 92 168 90 166 89 164 88 162 88 160 88 156 88 154 90 152 90 150 92 148 93 146 94 144 95 142 96 141 98 140 100 138 101 136 102 135 104 134 106 132 108 131 109 130 110 128 112 127 114 126 116 124 118 124 120 122 122 121 124 120 126 119 128 118 130 117 132 116 134 115 136 114 138 113 140 113 144 113 146 114 148 114 150 116 152 117 153 118 154 120 155 122 156 124 156 128 156 130 156 134 155 136 154 138 153 140 152 142 150 143 149 144 148 146 146 148 145 150 144 151 142 152 140 154 138 155 136 156 135 158 134 159 132 160 130 161 128 162 126 163 124 164 122 165 120 166 118 167 116 168 112 168 110 169 108 170Z" fill="#0040ff"/><path d="M168 73 165 72 163 72 162 70 163 68 164 66 166 65 168 64 172 64 174 64 176 66 176 68 174 70 172 71 170 72 168 72ZM108 167 104 167 102 166 100 166 98 165 96 164 94 162 93 160 92 158 92 156 93 154 94 152 94 149 96 147 97 146 98 144 100 142 100 140 102 138 104 137 105 136 106 134 108 133 110 132 112 130 114 129 115 128 117 126 119 126 120 124 122 123 124 122 126 121 129 120 131 120 134 119 136 118 138 118 142 118 144 119 146 120 148 120 150 122 150 124 152 126 152 128 152 132 152 134 151 136 150 138 149 140 148 142 146 144 145 146 144 147 142 148 140 150 139 152 138 153 136 154 134 156 132 157 130 158 128 159 126 160 124 161 122 162 120 163 118 164 116 165 114 165 112 166 108 166Z" fill="#0088ff"/><path d="M110 164 106 164 104 163 102 163 100 162 98 160 97 158 97 156 97 152 98 150 98 148 100 146 100 144 102 142 103 140 104 139 106 138 108 136 109 134 111 134 112 132 114 131 116 130 118 128 120 127 122 126 124 125 126 124 128 124 130 123 132 122 136 122 138 122 142 122 144 123 146 124 147 126 148 128 148 130 148 134 148 136 147 138 146 140 144 142 144 144 142 146 140 147 139 148 138 150 136 152 134 153 132 154 131 156 129 156 127 158 125 158 123 160 121 160 119 162 116 162 114 163 112 163 110 164Z" fill="#00c8f8"/><path d="M116 160 112 160 110 160 106 160 104 159 103 158 102 156 101 154 101 150 102 148 103 146 104 144 105 142 106 141 108 140 110 138 111 136 112 135 114 134 116 132 118 131 120 130 122 129 124 128 126 127 128 126 130 126 132 125 136 125 138 126 140 126 142 128 143 130 144 132 144 134 144 137 143 140 142 141 140 143 139 144 138 146 136 148 135 150 133 150 132 152 130 153 128 154 126 156 124 156 122 158 120 158 118 159 116 160Z" fill="#00e8c8"/><path d="M116 157 114 157 110 157 108 156 107 154 106 152 105 150 106 148 106 146 108 144 109 142 110 140 112 139 113 138 114 136 116 135 118 134 120 132 122 132 124 130 126 130 128 129 132 129 134 129 137 130 138 131 140 132 140 136 140 138 139 140 138 142 136 144 135 146 134 147 132 148 130 150 128 151 127 152 125 154 123 154 120 155 118 156 116 157Z" fill="#20e860"/><path d="M116 154 114 154 112 153 110 152 110 148 110 146 111 144 112 142 114 140 116 139 117 138 118 136 120 135 122 134 124 133 127 132 130 132 132 132 134 133 136 134 136 138 136 140 134 142 133 144 132 146 130 147 128 148 127 150 125 150 123 152 121 152 118 153 116 154Z" fill="#90f000"/><path d="M120 151 116 151 114 150 113 148 113 146 114 144 116 142 117 140 118 139 120 138 122 136 124 136 126 135 130 135 132 136 133 138 132 140 132 142 130 144 129 146 128 147 126 148 124 149 122 150 120 151Z" fill="#fff000"/><path d="M122 148 120 148 117 148 116 146 117 144 118 142 120 140 122 139 124 138 126 137 128 138 130 139 130 141 128 143 127 144 126 146 124 147Z" fill="#ff8000"/><path d="M122 147 119 146 118 144 119 142 120 141 122 140 124 139 127 140 128 142 126 143 125 144 124 146 122 147Z" fill="#f01000"/><g transform="scale(1.2)" stroke-width="1"><path d="M172 1h1m2 2h1m-24 3h1m-7 2h1m1 1h1m-10 1h1m18 0h1m-1 4h1m-2 2h1m20 0h1m-36 1h1m12 0h1m14 0h1m11 0h1m11 1h1m-35 1h2m-16 2h1m1 0h1m-116 1h1m124 0h1m1 0h2m-16 1h1m-20 1h1m27 0h1m7 0h1m2 0h1m1 0h1m2 0h1m-57 1h1m45 0h1m20 0h1m7 0h1m-55 1h1m11 0h1m1 0h1m5 0h1m33 0h1m-55 1h1m3 0h1m2 0h1m1 0h1m2 0h1m5 0h1m7 0h1m-81 1h1m26 0h1m17 0h1m1 0h1m17 0h2m18 0h1m14 0h2m3 0h1m5 0h1m-101 1h1m12 0h1m27 0h1m-13 1h1m4 0h1m11 0h1m1 0h1m1 0h1m5 0h1m-17 1h1m27 0h3m17 0h1m-72 1h1m16 0h1m19 0h1m5 0h1m2 0h1m1 0h1m7 0h1m-59 1h2m5 0h1m25 0h1m8 0h1m3 0h2m9 0h1m-51 1h1m3 0h1m12 0h1m29 0h1m-21 1h1m4 0h1m1 0h1m6 0h1m1 0h1m3 0h1m6 0h1m-59 1h1m14 0h1m10 0h1m1 0h1m3 0h1m5 0h1m3 0h2m4 0h3m4 0h1m11 0h1m6 0h2m6 0h1m-75 1h1m3 0h1m1 0h1m5 0h1m4 0h1m3 0h1m2 0h1m1 0h1m12 0h1m4 0h1m7 0h1m5 0h1m-68 1h1m25 0h2m3 0h1m1 0h1m4 0h1m2 0h1m3 0h1m7 0h1m2 0h1m7 0h1m-74 1h1m22 0h1m4 0h1m1 0h2m1 0h1m6 0h2m2 0h1m1 0h1m8 0h1m2 0h1m8 0h1m-64 1h1m3 0h1m18 0h1m1 0h1m1 0h1m3 0h1m2 0h2m5 0h2m2 0h1m3 0h1m5 0h1m2 0h1m16 0h1m-84 1h1m10 0h1m13 0h1m5 0h1m6 0h1m1 0h1m1 0h1m2 0h1m3 0h1m1 0h1m2 0h1m2 0h1m5 0h1m3 0h1m7 0h1m2 0h1m2 0h1m-82 1h1m29 0h1m11 0h1m1 0h1m8 0h2m3 0h2m1 0h1m1 0h1m1 0h1m1 0h1m1 0h1m2 0h1m6 0h1m5 0h1m-85 1h1m7 0h1m3 0h1m4 0h1m9 0h1m20 0h2m3 0h2m8 0h2m2 0h1m-59 1h1m6 0h1m1 0h2m6 0h1m3 0h1m2 0h1m1 0h3m5 0h1m1 0h1m1 0h1m4 0h1m3 0h4m4 0h1m13 0h1m1 0h1m-94 1h1m7 0h1m16 0h1m1 0h1m2 0h1m7 0h5m3 0h2m3 0h2m2 0h1m1 0h1m1 0h1m1 0h1m4 0h1m2 0h2m3 0h1m3 0h2m-74 1h1m11 0h1m1 0h1m2 0h1m2 0h1m1 0h1m2 0h1m2 0h1m1 0h1m4 0h5m2 0h2m2 0h1m1 0h1m1 0h1m3 0h4m1 0h3m1 0h2m5 0h2m1 0h1m17 0h1m4 0h1m5 0h1m-90 1h1m3 0h1m7 0h1m1 0h1m10 0h1m1 0h2m1 0h1m6 0h2m1 0h1m3 0h3m1 0h3m2 0h1m4 0h1m1 0h1m2 0h1m26 0h1m-92 1h1m1 0h1m1 0h1m10 0h1m1 0h2m3 0h2m5 0h1m1 0h3m1 0h1m1 0h5m2 0h2m1 0h2m8 0h2m5 0h1m2 0h1m2 0h1m7 0h1m12 0h1m-88 1h1m4 0h1m5 0h1m2 0h2m1 0h1m1 0h2m1 0h7m1 0h2m1 0h1m4 0h1m1 0h1m2 0h2m1 0h1m1 0h2m1 0h2m2 0h1m11 0h1m2 0h1m-78 1h1m11 0h1m2 0h1m4 0h2m1 0h1m4 0h1m4 0h3m3 0h1m12 0h1m1 0h4m2 0h3m2 0h1m1 0h2m8 0h1m10 0h1m-95 1h1m8 0h1m3 0h2m1 0h1m11 0h1m4 0h1m1 0h1m1 0h1m21 0h1m1 0h1m3 0h1m1 0h2m4 0h1m-73 1h1m14 0h4m1 0h3m6 0h1m1 0h1m2 0h3m1 0h1m20 0h1m2 0h1m3 0h1m2 0h1m1 0h1m-103 1h1m29 0h1m2 0h1m10 0h1m1 0h1m2 0h1m6 0h1m6 0h2m25 0h1m1 0h1m1 0h1m4 0h1m4 0h2m16 0h1m-93 1h1m11 0h1m4 0h1m2 0h1m5 0h1m2 0h4m3 0h1m22 0h1m1 0h1m1 0h1m3 0h2m1 0h1m6 0h2m-98 1h1m23 0h1m2 0h1m5 0h1m1 0h1m2 0h1m3 0h3m7 0h1m26 0h1m11 0h1m3 0h1m-62 1h1m3 0h1m1 0h1m2 0h1m2 0h2m1 0h1m2 0h1m27 0h1m3 0h1m4 0h2m6 0h1m12 0h1m-114 1h1m21 0h1m9 0h1m1 0h1m10 0h1m1 0h1m5 0h2m25 0h3m2 0h1m3 0h2m1 0h2m2 0h1m1 0h1m1 0h1m1 0h2m9 0h1m5 0h1m-99 1h1m10 0h2m3 0h3m1 0h1m2 0h2m3 0h3m1 0h2m27 0h1m1 0h1m1 0h3m3 0h2m3 0h1m8 0h1m-136 1h1m56 0h1m5 0h1m13 0h6m25 0h1m6 0h1m1 0h2m2 0h1m21 0h1m-97 1h1m4 0h1m10 0h1m3 0h2m2 0h1m3 0h5m1 0h2m24 0h1m5 0h1m8 0h3m8 0h1m7 0h1m-83 1h1m2 0h1m1 0h2m3 0h2m4 0h2m1 0h2m26 0h4m2 0h3m6 0h1m8 0h1m3 0h1m1 0h1m-72 1h1m1 0h1m7 0h4m2 0h2m22 0h1m6 0h1m9 0h2m-66 1h1m10 0h2m3 0h6m3 0h1m18 0h1m3 0h1m5 0h1m3 0h1m4 0h1m7 0h1m3 0h1m13 0h1m-101 1h2m18 0h1m2 0h1m1 0h4m4 0h2m1 0h1m21 0h1m1 0h3m1 0h2m1 0h1m2 0h1m1 0h1m13 0h1m-82 1h1m6 0h1m4 0h1m5 0h1m3 0h2m3 0h1m1 0h3m1 0h1m1 0h1m3 0h1m1 0h1m3 0h1m2 0h3m1 0h4m1 0h1m2 0h1m1 0h1m1 0h1m2 0h1m4 0h3m2 0h1m-89 1h1m1 0h1m15 0h1m6 0h1m1 0h3m3 0h2m1 0h1m1 0h1m1 0h2m1 0h2m2 0h1m1 0h1m5 0h1m8 0h1m4 0h2m5 0h1m1 0h2m3 0h2m-67 1h1m2 0h1m6 0h1m6 0h3m3 0h1m1 0h1m1 0h2m1 0h8m2 0h1m5 0h1m3 0h1m4 0h1m3 0h1m1 0h1m7 0h1m10 0h1m-98 1h1m26 0h1m4 0h1m1 0h1m7 0h2m1 0h2m1 0h2m2 0h1m2 0h2m3 0h1m2 0h5m1 0h1m2 0h1m3 0h1m9 0h1m12 0h1m-97 1h1m16 0h1m4 0h4m8 0h2m1 0h3m2 0h6m1 0h2m1 0h3m3 0h1m25 0h1m-91 1h1m6 0h1m9 0h1m4 0h1m10 0h2m1 0h1m1 0h1m2 0h1m2 0h1m2 0h4m1 0h1m1 0h1m3 0h1m1 0h3m2 0h1m4 0h1m1 0h1m10 0h1m1 0h1m-68 1h1m2 0h1m1 0h2m1 0h1m3 0h1m1 0h2m6 0h1m1 0h2m2 0h1m5 0h2m3 0h2m3 0h3m2 0h1m11 0h1m5 0h1m2 0h1m5 0h1m3 0h1m-86 1h1m9 0h1m3 0h1m4 0h1m2 0h1m2 0h1m1 0h1m2 0h3m1 0h1m3 0h1m1 0h2m2 0h1m3 0h2m5 0h1m3 0h2m3 0h1m3 0h1m10 0h1m1 0h1m2 0h1m-90 1h1m5 0h1m14 0h1m5 0h1m1 0h3m2 0h3m2 0h1m1 0h1m7 0h2m3 0h1m1 0h2m3 0h1m2 0h1m3 0h1m17 0h1m5 0h1m-107 1h1m7 0h1m12 0h1m3 0h1m3 0h1m5 0h1m2 0h1m1 0h2m1 0h2m1 0h2m1 0h2m1 0h3m2 0h1m2 0h2m1 0h1m2 0h1m2 0h1m1 0h1m1 0h1m7 0h1m6 0h1m1 0h1m9 0h1m-74 1h2m9 0h1m6 0h1m5 0h2m2 0h4m2 0h2m1 0h2m4 0h1m1 0h2m4 0h1m2 0h1m4 0h1m1 0h2m-80 1h1m7 0h1m5 0h1m2 0h1m3 0h1m1 0h3m2 0h1m2 0h1m1 0h2m1 0h2m1 0h1m2 0h1m4 0h1m1 0h4m3 0h1m1 0h1m2 0h1m6 0h1m14 0h1m2 0h1m18 0h1m-93 1h1m1 0h1m2 0h3m1 0h2m2 0h1m5 0h3m1 0h3m1 0h1m1 0h1m1 0h1m3 0h1m3 0h1m2 0h1m4 0h1m2 0h1m2 0h2m2 0h1m7 0h1m1 0h1m12 0h1m2 0h1m-85 1h1m8 0h4m1 0h2m1 0h1m1 0h1m11 0h3m2 0h1m1 0h1m9 0h1m2 0h1m17 0h1m8 0h1m16 0h1m-138 1h1m42 0h2m3 0h2m3 0h1m1 0h1m1 0h4m6 0h1m6 0h1m1 0h2m2 0h1m1 0h2m4 0h1m20 0h1m-75 1h1m1 0h1m3 0h1m6 0h2m1 0h4m3 0h1m1 0h1m1 0h1m3 0h1m3 0h1m2 0h1m1 0h4m1 0h3m1 0h1m1 0h2m3 0h3m9 0h1m3 0h1m4 0h1m2 0h1m21 0h1m-113 1h1m2 0h1m14 0h2m4 0h1m2 0h3m2 0h2m1 0h2m1 0h1m4 0h1m4 0h1m8 0h1m8 0h1m3 0h1m3 0h1m2 0h1m14 0h1m16 0h1m-89 1h5m1 0h3m1 0h1m1 0h4m2 0h4m9 0h3m11 0h1m2 0h1m7 0h1m25 0h1m-90 1h1m5 0h2m2 0h1m4 0h1m1 0h3m2 0h3m2 0h2m2 0h2m3 0h2m5 0h1m2 0h1m14 0h1m34 0h1m-97 1h3m7 0h2m1 0h2m1 0h1m5 0h2m1 0h1m1 0h1m6 0h2m1 0h1m1 0h1m1 0h2m16 0h1m14 0h1m2 0h1m15 0h1m-91 1h1m8 0h1m1 0h2m1 0h1m1 0h2m1 0h2m1 0h2m1 0h3m2 0h1m6 0h1m1 0h2m3 0h1m1 0h1m23 0h1m1 0h1m-89 1h1m12 0h2m1 0h1m1 0h2m1 0h1m3 0h1m5 0h1m3 0h1m1 0h2m1 0h2m2 0h1m5 0h1m4 0h1m8 0h1m7 0h1m2 0h1m7 0h2m1 0h1m8 0h1m-83 1h2m2 0h2m6 0h1m5 0h2m2 0h1m2 0h1m1 0h1m4 0h1m2 0h2m3 0h1m3 0h1m3 0h2m3 0h2m5 0h1m4 0h1m19 0h1m-88 1h1m3 0h1m5 0h1m4 0h2m4 0h7m5 0h1m1 0h1m1 0h3m4 0h1m1 0h2m2 0h1m2 0h2m6 0h1m1 0h1m6 0h1m3 0h1m6 0h1m5 0h1m2 0h1m4 0h1m2 0h1m-99 1h1m1 0h1m8 0h2m1 0h1m4 0h3m2 0h1m2 0h1m3 0h1m4 0h1m3 0h1m15 0h1m10 0h1m1 0h2m3 0h1m1 0h1m2 0h1m14 0h1m-90 1h1m2 0h1m3 0h1m2 0h3m2 0h1m1 0h1m1 0h2m5 0h1m3 0h2m7 0h2m1 0h1m3 0h2m12 0h1m11 0h1m-91 1h1m1 0h1m24 0h3m1 0h1m3 0h1m2 0h6m3 0h2m1 0h1m2 0h1m1 0h2m1 0h1m2 0h1m5 0h1m1 0h1m7 0h1m2 0h1m4 0h1m3 0h1m6 0h1m-124 1h1m26 0h1m14 0h1m1 0h3m9 0h1m1 0h1m2 0h1m1 0h2m2 0h2m2 0h2m6 0h1m1 0h1m1 0h2m1 0h2m5 0h1m14 0h1m3 0h1m1 0h1m1 0h1m8 0h1m-106 1h1m20 0h1m1 0h3m3 0h1m7 0h7m3 0h4m3 0h1m2 0h2m3 0h1m4 0h2m11 0h1m7 0h1m1 0h1m4 0h1m3 0h1m1 0h1m2 0h2m1 0h1m1 0h1m3 0h1m-92 1h1m3 0h1m1 0h1m5 0h1m1 0h1m1 0h2m1 0h2m4 0h7m1 0h1m1 0h1m3 0h2m13 0h1m3 0h1m5 0h1m9 0h1m11 0h1m-89 1h1m1 0h1m3 0h2m1 0h2m1 0h1m4 0h1m6 0h1m1 0h1m2 0h1m2 0h1m1 0h1m2 0h2m1 0h1m5 0h1m1 0h1m6 0h1m7 0h1m9 0h1m4 0h1m7 0h1m1 0h1m2 0h1m-108 1h1m24 0h1m3 0h1m1 0h3m13 0h1m3 0h1m5 0h2m1 0h2m5 0h1m4 0h2m1 0h1m9 0h1m1 0h1m2 0h1m3 0h1m2 0h3m-109 1h1m20 0h1m1 0h1m1 0h1m3 0h1m3 0h1m1 0h1m3 0h2m15 0h1m3 0h3m2 0h1m2 0h1m1 0h1m3 0h1m9 0h1m8 0h1m2 0h1m7 0h1m6 0h1m-94 1h1m4 0h1m5 0h1m1 0h2m1 0h2m1 0h1m1 0h1m21 0h1m2 0h2m1 0h1m1 0h1m1 0h2m1 0h1m1 0h1m1 0h1m11 0h3m5 0h1m3 0h1m10 0h1m10 0h2m-112 1h1m6 0h1m6 0h4m1 0h1m1 0h1m24 0h1m2 0h1m6 0h1m1 0h1m8 0h1m6 0h1m4 0h2m8 0h1m20 0h1m-116 1h1m7 0h1m4 0h1m2 0h1m3 0h4m27 0h1m5 0h1m1 0h1m1 0h2m11 0h1m1 0h1m3 0h1m12 0h1m3 0h1m7 0h2m8 0h1m-105 1h1m2 0h2m2 0h4m1 0h1m27 0h2m1 0h2m1 0h2m3 0h1m6 0h1m10 0h1m2 0h1m1 0h2m8 0h2m4 0h1m6 0h1m4 0h1m-99 1h1m2 0h1m2 0h2m29 0h3m1 0h1m1 0h2m1 0h1m4 0h1m2 0h2m1 0h1m4 0h1m4 0h2m1 0h1m4 0h1m6 0h1m4 0h1m-99 1h1m3 0h1m1 0h1m6 0h2m1 0h1m34 0h1m1 0h1m3 0h1m1 0h1m2 0h1m19 0h2m2 0h2m3 0h2m6 0h1m-116 1h1m21 0h1m6 0h2m33 0h2m1 0h2m6 0h5m2 0h1m1 0h1m3 0h1m2 0h2m2 0h2m3 0h1m2 0h1m10 0h1m8 0h2m-104 1h2m1 0h1m2 0h1m36 0h1m1 0h3m2 0h2m12 0h1m6 0h1m6 0h1m5 0h1m3 0h1m2 0h1m2 0h1m-104 1h1m7 0h1m1 0h1m1 0h1m2 0h1m43 0h1m1 0h1m2 0h1m2 0h1m2 0h1m4 0h1m2 0h2m2 0h2m7 0h1m-109 1h1m11 0h1m6 0h4m2 0h2m1 0h3m40 0h1m3 0h2m4 0h1m7 0h1m2 0h1m1 0h1m5 0h1m4 0h1m1 0h1m1 0h1m5 0h1m4 0h1m4 0h1m-115 1h1m1 0h1m6 0h1m2 0h1m45 0h1m2 0h1m1 0h2m1 0h2m2 0h2m5 0h1m4 0h1m15 0h1m2 0h1m2 0h1m3 0h1m3 0h1m4 0h1m-115 1h1m2 0h1m8 0h3m43 0h2m1 0h1m6 0h1m6 0h1m13 0h3m3 0h1m5 0h1m-99 1h1m5 0h1m1 0h1m1 0h1m41 0h1m1 0h1m1 0h1m3 0h1m4 0h1m1 0h1m1 0h1m4 0h1m2 0h1m3 0h1m14 0h1m2 0h1m1 0h1m2 0h1m-118 1h1m13 0h4m1 0h2m44 0h2m3 0h1m9 0h1m1 0h1m2 0h2m2 0h1m8 0h1m-105 1h1m2 0h1m11 0h1m10 0h1m45 0h5m1 0h1m1 0h1m2 0h1m1 0h1m1 0h2m1 0h1m2 0h1m6 0h2m3 0h1m2 0h1m9 0h1m-98 1h2m1 0h3m48 0h1m1 0h2m3 0h1m5 0h3m1 0h1m6 0h2m1 0h1m1 0h1m5 0h1m14 0h1m-110 1h1m6 0h2m44 0h1m4 0h1m1 0h3m1 0h1m2 0h1m1 0h3m1 0h2m5 0h1m11 0h1m8 0h1m-108 1h1m1 0h1m3 0h3m3 0h1m47 0h1m6 0h2m3 0h2m1 0h2m3 0h1m11 0h1m5 0h1m5 0h1m-124 1h1m18 0h1m4 0h1m4 0h1m1 0h1m46 0h3m1 0h1m1 0h3m4 0h1m8 0h1m2 0h1m4 0h1m2 0h1m-153 1h1m60 0h2m2 0h1m2 0h1m1 0h1m1 0h1m48 0h1m1 0h2m3 0h2m1 0h1m1 0h1m3 0h1m1 0h1m1 0h1m3 0h1m-91 1h1m7 0h2m4 0h2m47 0h1m2 0h1m2 0h1m1 0h2m5 0h1m3 0h1m7 0h1m1 0h2m2 0h1m19 0h1m-131 1h1m10 0h1m4 0h1m7 0h4m1 0h1m46 0h1m6 0h1m3 0h1m1 0h1m9 0h1m-96 1h1m6 0h1m6 0h1m1 0h1m2 0h5m47 0h1m7 0h1m1 0h2m2 0h2m11 0h4m16 0h1m-144 1h1m13 0h1m17 0h1m12 0h1m2 0h1m46 0h1m1 0h1m7 0h1m3 0h1m2 0h2m3 0h2m3 0h2m1 0h2m3 0h1m18 0h1m-119 1h2m2 0h2m2 0h1m3 0h1m1 0h1m48 0h1m2 0h1m1 0h2m1 0h1m4 0h2m3 0h1m5 0h1m7 0h1m19 0h1m-112 1h1m4 0h1m3 0h1m1 0h1m46 0h5m4 0h2m2 0h1m18 0h1m6 0h1m-111 1h1m4 0h1m8 0h1m1 0h3m1 0h2m1 0h2m45 0h1m1 0h3m10 0h1m6 0h1m-101 1h1m2 0h1m4 0h1m1 0h1m11 0h1m3 0h2m1 0h2m47 0h1m4 0h1m1 0h1m5 0h1m21 0h1m8 0h1m-123 1h1m5 0h1m5 0h3m3 0h2m4 0h1m3 0h1m2 0h1m44 0h1m1 0h2m1 0h1m1 0h1m2 0h1m8 0h2m4 0h1m4 0h1m-104 1h1m14 0h1m6 0h1m1 0h1m48 0h1m2 0h1m1 0h1m5 0h2m7 0h1m10 0h1m3 0h1m10 0h1m-107 1h1m8 0h2m1 0h2m1 0h1m42 0h2m1 0h1m3 0h2m3 0h1m1 0h1m2 0h1m3 0h1m25 0h1m-138 1h1m18 0h1m9 0h2m3 0h1m2 0h1m4 0h1m3 0h1m42 0h2m1 0h2m2 0h1m1 0h1m7 0h1m6 0h1m4 0h2m29 0h1m-133 1h1m11 0h1m8 0h2m4 0h2m44 0h4m2 0h1m4 0h1m-96 1h1m6 0h2m11 0h1m1 0h3m4 0h1m3 0h2m3 0h1m42 0h3m1 0h1m2 0h1m13 0h1m7 0h1m-88 1h3m5 0h1m7 0h1m39 0h1m1 0h1m11 0h1m17 0h1m-114 1h1m23 0h1m1 0h1m4 0h1m3 0h5m47 0h2m1 0h1m2 0h2m1 0h1m4 0h1m22 0h1m-139 1h1m24 0h1m1 0h1m8 0h2m1 0h1m10 0h4m1 0h2m35 0h1m2 0h1m7 0h1m-91 1h1m16 0h1m1 0h1m6 0h1m1 0h1m3 0h7m2 0h1m36 0h1m2 0h2m1 0h1m1 0h1m3 0h1m19 0h1m-117 1h1m18 0h2m9 0h3m3 0h1m2 0h2m3 0h1m2 0h1m1 0h1m31 0h2m1 0h1m1 0h1m3 0h1m1 0h1m2 0h1m5 0h1m21 0h1m-137 1h1m30 0h1m2 0h1m3 0h1m2 0h3m3 0h1m3 0h1m1 0h4m1 0h2m2 0h1m30 0h3m2 0h1m1 0h2m-66 1h1m13 0h2m2 0h1m1 0h1m2 0h1m1 0h2m1 0h1m24 0h1m1 0h1m2 0h1m7 0h1m12 0h1m-83 1h1m6 0h1m7 0h1m5 0h1m1 0h3m2 0h1m1 0h2m26 0h1m2 0h3m1 0h2m3 0h1m12 0h2m-70 1h1m5 0h1m1 0h2m3 0h3m1 0h1m19 0h1m2 0h2m1 0h1m2 0h1m1 0h1m4 0h1m-91 1h2m10 0h1m6 0h1m1 0h1m4 0h1m3 0h1m2 0h2m1 0h2m6 0h3m1 0h2m2 0h3m2 0h4m1 0h2m3 0h1m3 0h3m1 0h1m2 0h2m6 0h2m7 0h1m3 0h1m-118 1h1m34 0h1m1 0h1m4 0h1m1 0h1m2 0h1m1 0h1m3 0h1m2 0h1m2 0h1m2 0h2m4 0h1m4 0h2m1 0h3m2 0h3m1 0h2m4 0h1m2 0h2m5 0h1m1 0h1m1 0h2m-81 1h1m5 0h1m6 0h1m2 0h1m3 0h1m2 0h1m2 0h1m2 0h3m2 0h1m3 0h1m4 0h1m3 0h2m3 0h1m2 0h1m1 0h4m1 0h2m1 0h3m2 0h2m5 0h1m4 0h1m6 0h1m5 0h1m1 0h1m-93 1h1m6 0h2m5 0h1m3 0h1m4 0h2m2 0h3m2 0h1m1 0h1m1 0h2m1 0h2m2 0h1m1 0h3m1 0h1m1 0h1m1 0h1m1 0h1m2 0h1m2 0h2m3 0h1m4 0h1m5 0h1m1 0h1m10 0h1m42 0h1m-166 1h1m13 0h1m17 0h1m12 0h1m2 0h1m7 0h1m4 0h1m2 0h1m2 0h1m1 0h1m2 0h1m2 0h1m1 0h1m2 0h2m7 0h2m2 0h1m3 0h1m9 0h1m9 0h1m1 0h1m-101 1h1m3 0h1m8 0h1m28 0h1m2 0h1m3 0h3m1 0h1m4 0h1m11 0h1m3 0h2m7 0h1m-76 1h1m8 0h1m22 0h1m4 0h1m1 0h1m1 0h1m1 0h1m1 0h1m1 0h2m7 0h1m1 0h1m3 0h1m1 0h1m6 0h1m-99 1h1m19 0h2m8 0h1m12 0h1m1 0h1m2 0h1m1 0h2m2 0h3m1 0h2m1 0h1m5 0h1m1 0h1m5 0h5m1 0h2m6 0h1m1 0h1m1 0h2m13 0h1m-86 1h1m7 0h1m9 0h1m1 0h1m3 0h1m1 0h1m1 0h1m3 0h1m5 0h1m3 0h4m3 0h1m2 0h1m3 0h3m3 0h1m1 0h1m5 0h1m2 0h2m-90 1h1m7 0h1m19 0h1m3 0h1m6 0h1m3 0h1m2 0h1m4 0h1m1 0h1m11 0h2m6 0h1m4 0h1m3 0h1m95 0h1m-173 1h1m19 0h1m2 0h1m1 0h1m2 0h1m1 0h1m8 0h1m1 0h1m7 0h2m1 0h1m1 0h2m3 0h2m6 0h2m1 0h1m4 0h1m-57 1h1m1 0h1m12 0h1m14 0h1m1 0h1m3 0h1m3 0h1m2 0h1m8 0h1m1 0h1m-67 1h1m7 0h1m3 0h1m2 0h1m10 0h1m12 0h1m7 0h1m3 0h2m13 0h1m-85 1h1m7 0h1m2 0h1m8 0h1m2 0h1m18 0h1m12 0h2m2 0h1m4 0h1m1 0h1m10 0h2m2 0h1m8 0h1m-79 1h1m1 0h1m16 0h1m3 0h1m22 0h1m4 0h1m5 0h1m1 0h1m-65 1h1m9 0h1m10 0h1m28 0h1m15 0h1m3 0h1m-61 1h1m38 0h1m4 0h1m11 0h1m1 0h1m14 0h1m-87 1h1m27 0h1m7 0h1m12 0h1m6 0h1m2 0h1m9 0h1m1 0h1m-61 1h1m4 0h1m5 0h1m7 0h1m5 0h1m9 0h1m6 0h2m2 0h1m1 0h1m11 0h1m6 0h1m1 0h1m-61 1h1m4 0h1m1 0h1m5 0h1m9 0h1m3 0h1m1 0h2m6 0h1m5 0h1m-26 1h1m8 0h1m2 0h1m3 0h1m12 0h1m6 0h1m-54 1h1m5 0h1m7 0h1m10 0h1m13 0h1m2 0h1m-59 1h1m14 0h1m28 0h1m1 0h1m9 0h1m-43 1h2m25 0h1m5 0h1m33 0h1m-95 1h1m23 0h1m3 0h1m12 0h1m5 0h1m10 0h1m-42 1h1m9 0h1m7 0h1m49 0h1m-17 1h1m-43 1h1m-1 1h1m46 0h2m-77 1h1m16 0h1m31 0h1m-32 1h1m22 0h1m-1 1h1m3 0h1m22 0h1m-69 1h1m0 1h1m17 0h1m4 0h1m36 0h1m-14 2h1m95 0h1m-119 1h1m-13 1h1m24 0h1m-22 8h1m14 2h1m43 5h1m22 0h1m-52 1h1m2 0h1m6 0h1m24 0h1m7 0h1m1 0h1m4 0h2m1 0h1m3 0h1m2 0h1m-54 1h1m16 0h1m21 0h1m24 0h1" stroke="#1a1aff"/><path d="M144 48h1m1 1h4m-13 1h1m3 0h1m1 0h1m3 0h1m2 0h2m-15 1h6m1 0h3m3 0h1m1 0h1m-18 1h4m1 0h4m1 0h6m1 0h1m-20 1h2m2 0h1m1 0h2m3 0h1m1 0h1m2 0h2m1 0h1m1 0h1m-23 1h2m1 0h1m1 0h3m1 0h1m4 0h1m1 0h3m1 0h2m-23 1h3m1 0h2m9 0h1m1 0h2m1 0h3m-24 1h1m1 0h1m1 0h3m8 0h3m2 0h1m1 0h1m-22 1h1m1 0h2m1 0h1m11 0h3m2 0h1m-27 1h2m2 0h3m13 0h6m-27 1h4m1 0h2m5 0h1m1 0h1m3 0h1m1 0h3m-22 1h1m2 0h1m1 0h2m1 0h1m4 0h1m2 0h2m1 0h3m-23 1h1m1 0h2m1 0h1m6 0h2m1 0h1m1 0h3m1 0h1m-20 1h1m1 0h1m3 0h8m1 0h1m-16 1h2m1 0h1m1 0h1m1 0h2m2 0h5m2 0h1m-16 1h6m1 0h6m-13 1h1m1 0h1m2 0h2m1 0h2m-9 1h1m2 0h1m-16 28h1m-8 1h2m4 0h4m-9 1h2m1 0h2m1 0h1m4 0h1m-17 1h1m1 0h1m3 0h1m1 0h1m1 0h1m1 0h5m-20 1h6m1 0h2m1 0h8m1 0h1m-22 1h1m1 0h2m2 0h2m1 0h1m3 0h2m3 0h1m1 0h1m1 0h1m-25 1h1m1 0h1m1 0h2m2 0h1m11 0h5m-21 1h1m18 0h1m3 0h1m-31 1h1m1 0h2m23 0h3m-29 1h3m26 0h1m-34 1h3m28 0h3m-35 1h1m1 0h2m28 0h3m-37 1h1m2 0h2m29 0h1m1 0h1m-37 1h3m31 0h5m-40 1h2m33 0h1m2 0h1m-39 1h2m34 0h3m-41 1h1m38 0h2m-44 1h3m36 0h1m-41 1h4m36 0h1m1 0h2m-45 1h3m40 0h2m-47 1h2m41 0h2m-42 1h1m40 0h2m-48 1h4m40 0h1m2 0h1m-47 1h2m40 0h3m-46 1h2m40 0h4m-46 1h2m40 0h1m-44 1h1m41 0h3m-46 1h1m1 0h1m40 0h2m-45 1h1m39 0h2m1 0h2m-47 1h4m39 0h2m-46 1h3m42 0h1m-44 1h1m38 0h2m-43 1h1m39 0h1m-42 1h4m36 0h1m1 0h2m-46 1h1m2 0h2m-4 1h4m36 0h2m-43 1h1m1 0h2m36 0h2m-39 1h1m33 0h1m1 0h1m-39 1h2m2 0h1m30 0h1m2 0h1m-40 1h3m31 0h2m-36 1h3m1 0h1m28 0h1m-34 1h1m1 0h4m24 0h1m2 0h1m-34 1h1m1 0h4m23 0h1m1 0h2m-32 1h2m1 0h2m1 0h1m15 0h1m1 0h3m3 0h1m-30 1h2m1 0h1m3 0h1m9 0h1m3 0h6m-25 1h7m5 0h1m1 0h1m1 0h5m-21 1h1m1 0h1m1 0h1m2 0h1m1 0h1m1 0h4m3 0h1m-18 1h2m3 0h2m2 0h1m1 0h1m2 0h1m-9 1h1m1 0h1m1 0h1" stroke="#0040ff"/><path d="M141 53h2m2 0h1m-7 1h2m1 0h1m2 0h1m-9 1h5m1 0h1m1 0h2m-9 1h7m1 0h2m-12 1h1m1 0h5m2 0h1m-10 1h2m5 0h4m-12 1h3m1 0h3m3 0h1m-10 1h4m1 0h1m-2 1h1m2 0h1m-29 37h2m2 0h2m-9 1h1m1 0h5m2 0h1m-13 1h5m2 0h6m-16 1h1m1 0h3m1 0h4m1 0h4m1 0h1m-19 1h1m1 0h6m3 0h1m5 0h3m-18 1h2m12 0h4m1 0h2m-27 1h1m1 0h1m1 0h1m16 0h5m-27 1h2m1 0h1m20 0h3m-29 1h1m26 0h3m-31 1h1m1 0h1m25 0h4m-35 1h1m1 0h1m1 0h1m26 0h1m-32 1h3m28 0h3m-36 1h1m32 0h3m-36 1h2m32 0h2m-37 1h1m33 0h1m-38 1h5m31 0h1m1 0h1m-39 1h1m1 0h1m32 0h3m-39 1h2m36 0h2m-40 1h1m35 0h3m-40 1h1m35 0h2m1 0h1m-42 1h1m38 0h1m-41 1h1m1 0h1m36 0h1m-39 1h1m36 0h1m1 0h1m-42 1h3m36 0h2m-42 1h2m36 0h2m-40 1h3m33 0h1m1 0h2m-41 1h3m1 0h1m34 0h2m-41 1h1m1 0h2m32 0h1m1 0h1m-39 1h3m32 0h3m-38 1h2m32 0h1m-34 1h1m31 0h3m-38 1h1m1 0h1m1 0h1m28 0h1m1 0h1m-34 1h1m1 0h1m26 0h4m-35 1h5m25 0h1m1 0h2m-33 1h4m24 0h3m-30 1h3m21 0h3m-28 1h2m1 0h2m18 0h3m1 0h1m-28 1h1m1 0h1m2 0h2m1 0h1m11 0h2m1 0h2m-21 1h3m1 0h3m4 0h1m1 0h2m1 0h2m-19 1h1m1 0h3m1 0h8m1 0h1m1 0h1m-15 1h1m1 0h4m3 0h1m2 0h1m-15 1h4m1 0h2m2 0h1" stroke="#0088ff"/><path d="M112 101h1m1 0h1m1 0h1m-10 1h1m1 0h3m1 0h4m1 0h3m-14 1h9m1 0h3m-15 1h2m1 0h1m1 0h12m-20 1h1m1 0h3m4 0h1m3 0h1m1 0h1m1 0h2m2 0h1m-25 1h1m1 0h2m1 0h2m11 0h4m1 0h1m-25 1h4m2 0h1m14 0h4m1 0h1m-27 1h2m20 0h3m-27 1h4m20 0h4m-30 1h1m1 0h1m23 0h2m1 0h1m-30 1h2m24 0h4m-32 1h3m26 0h3m-33 1h1m1 0h1m27 0h3m-34 1h1m1 0h1m28 0h2m-35 1h3m28 0h3m-33 1h2m28 0h4m-36 1h4m28 0h3m-36 1h2m31 0h1m-35 1h3m30 0h3m-37 1h2m1 0h1m29 0h3m-36 1h1m2 0h1m27 0h3m1 0h1m-35 1h1m31 0h1m-35 1h3m29 0h2m-36 1h1m1 0h1m1 0h1m27 0h1m1 0h2m-36 1h1m1 0h3m26 0h3m-34 1h2m1 0h1m26 0h4m-32 1h2m25 0h4m-34 1h1m2 0h2m22 0h5m-31 1h3m1 0h1m19 0h1m1 0h4m-29 1h3m21 0h2m-26 1h4m17 0h3m-25 1h1m1 0h2m2 0h1m12 0h5m-24 1h3m1 0h2m1 0h3m4 0h2m1 0h5m-20 1h6m1 0h10m-17 1h1m1 0h3m1 0h1m1 0h2m2 0h2m2 0h1m-15 1h3m1 0h1m1 0h2m1 0h2" stroke="#00c8f8"/><path d="M112 104h2m3 0h1m-10 1h9m-12 1h9m1 0h2m1 0h1m-16 1h4m1 0h9m1 0h1m1 0h1m-20 1h4m1 0h2m1 0h1m1 0h4m1 0h3m-20 1h1m2 0h2m12 0h5m-22 1h2m1 0h1m13 0h5m-24 1h3m17 0h3m-26 1h2m1 0h1m18 0h5m-28 1h4m1 0h1m18 0h2m1 0h1m-29 1h3m21 0h4m-29 1h4m21 0h4m-29 1h3m22 0h2m1 0h1m-31 1h3m23 0h3m-29 1h4m22 0h2m1 0h1m-31 1h3m24 0h2m-28 1h2m23 0h1m1 0h2m-32 1h1m1 0h2m23 0h3m-29 1h1m1 0h1m22 0h4m-31 1h5m21 0h4m-30 1h4m21 0h4m-29 1h4m20 0h1m1 0h1m-26 1h3m17 0h2m1 0h1m1 0h1m-28 1h1m1 0h3m18 0h2m1 0h1m-27 1h5m14 0h6m-25 1h5m13 0h5m-23 1h1m1 0h5m1 0h1m1 0h1m1 0h1m2 0h1m1 0h4m-19 1h8m1 0h6m2 0h1m-19 1h3m1 0h12m-13 1h1m5 0h5m-10 1h3" stroke="#00e8c8"/><path d="M110 107h4m-9 1h10m-11 1h1m1 0h9m-15 1h1m1 0h13m1 0h1m-18 1h1m1 0h6m1 0h1m4 0h1m1 0h3m-20 1h5m10 0h5m-22 1h5m12 0h6m-24 1h4m15 0h2m1 0h1m-24 1h5m14 0h2m1 0h1m-24 1h2m1 0h1m16 0h3m-25 1h5m16 0h4m-25 1h1m1 0h2m17 0h3m-25 1h3m1 0h1m16 0h5m-26 1h3m18 0h4m-26 1h4m16 0h5m-25 1h3m17 0h4m-25 1h5m15 0h3m-23 1h4m14 0h4m-22 1h2m1 0h3m11 0h5m-23 1h4m1 0h1m1 0h1m8 0h5m-20 1h5m1 0h2m1 0h1m1 0h1m1 0h6m-19 1h5m1 0h1m1 0h1m1 0h5m2 0h1m-17 1h11m1 0h3m-14 1h9m1 0h1m-10 1h3m1 0h2" stroke="#20e860"/><path d="M106 110h1m1 0h3m1 0h1m-10 1h4m1 0h1m1 0h4m-14 1h4m1 0h1m1 0h3m1 0h3m-15 1h7m1 0h2m1 0h5m-17 1h1m1 0h2m1 0h1m2 0h1m1 0h1m1 0h1m1 0h2m-17 1h4m7 0h2m1 0h3m-19 1h5m10 0h4m-18 1h4m10 0h4m-19 1h4m10 0h5m-22 1h1m1 0h3m11 0h5m-21 1h5m11 0h1m1 0h1m-18 1h2m12 0h4m-19 1h3m10 0h5m-20 1h3m3 0h1m6 0h1m1 0h4m-18 1h5m1 0h1m2 0h1m2 0h5m-17 1h5m1 0h11m-17 1h3m1 0h4m1 0h4m-13 1h1m2 0h2m1 0h6m-10 1h1m1 0h3m1 0h1" stroke="#90f000"/><path d="M109 111h1m-6 1h1m1 0h2m2 0h1m-9 1h1m1 0h2m1 0h5m-10 1h4m1 0h1m1 0h4m-14 1h2m1 0h1m1 0h1m1 0h2m1 0h4m-14 1h5m2 0h6m-16 1h7m4 0h1m1 0h3m-16 1h1m1 0h2m3 0h1m1 0h5m-15 1h4m2 0h1m5 0h4m-15 1h3m7 0h4m-17 1h6m1 0h1m5 0h2m-14 1h5m4 0h4m-14 1h1m1 0h4m1 0h7m-14 1h3m1 0h8m-10 1h8m-8 1h2m2 0h2" stroke="#fff000"/><path d="M108 113h1m-7 1h1m1 0h6m-6 1h1m1 0h1m2 0h1m-10 1h2m1 0h8m-13 1h3m1 0h1m5 0h2m-12 1h5m1 0h3m1 0h1m-12 1h4m2 0h2m1 0h1m1 0h1m-12 1h7m1 0h1m-11 1h4m1 0h2m1 0h4m-11 1h5m1 0h3m-10 1h4m4 0h2m-8 1h2m-2 1h1m1 0h1" stroke="#ff8000"/><path d="M104 114h2m1 0h1m-7 1h1m2 0h3m1 0h1m-7 1h6m-8 1h6m1 0h1m-10 1h1m1 0h3m1 0h3m-9 1h6m1 0h2m-10 1h1m1 0h6m1 0h1m-11 1h1m1 0h1m1 0h6m-8 1h6m-8 1h1m1 0h1m3 0h2m-5 1h1" stroke="#f01000"/></g>
</svg>
<rect x="0" y="0" width="235.7" height="235.5" fill="none" stroke="#000" stroke-width="1.3"/>
<path d="M145,0V235.5M0,111H235.7" stroke="#000" stroke-width="1.5" fill="none"/>
<path d="M-7,15.8H0M-7,49.6H0M-7,83.7H0M-7,116.6H0M-7,150.8H0M-7,185.3H0M-7,216.1H0M-3.5,206.8H0M-3.5,201.4H0M-3.5,197.6H0M-4.5,194.6H0M-3.5,192.1H0M-3.5,190.1H0M-3.5,188.3H0M-3.5,186.7H0M-3.5,174.9H0M-3.5,168.8H0M-3.5,164.5H0M-4.5,161.2H0M-3.5,158.5H0M-3.5,156.1H0M-3.5,154.1H0M-3.5,152.4H0M-3.5,140.5H0M-3.5,134.5H0M-3.5,130.2H0M-4.5,126.9H0M-3.5,124.2H0M-3.5,121.9H0M-3.5,119.9H0M-3.5,118.2H0M-3.5,106.7H0M-3.5,100.9H0M-3.5,96.8H0M-4.5,93.6H0M-3.5,91.0H0M-3.5,88.8H0M-3.5,86.9H0M-3.5,85.2H0M-3.5,73.4H0M-3.5,67.4H0M-3.5,63.2H0M-4.5,59.9H0M-3.5,57.2H0M-3.5,54.9H0M-3.5,52.9H0M-3.5,51.2H0M-3.5,39.4H0M-3.5,33.5H0M-3.5,29.3H0M-4.5,26.0H0M-3.5,23.3H0M-3.5,21.0H0M-3.5,19.1H0M-3.5,17.3H0M-3.5,5.6H0M-5,218.5H0M-5,220.5H0M-5,222.5H0M-5,224H0M-5,226H0M-5,228H0M-5,230H0M-5,232.5H0M-5,234.5H0M-7,234.5H0M35.8,235.5V242.5M74.7,235.5V242.5M112.5,235.5V242.5M149.9,235.5V242.5M187.7,235.5V242.5M226.1,235.5V242.5M47.5,235.5V239.0M54.4,235.5V239.0M59.2,235.5V239.0M63.0,235.5V240.0M66.1,235.5V239.0M68.7,235.5V239.0M70.9,235.5V239.0M72.9,235.5V239.0M86.1,235.5V239.0M92.7,235.5V239.0M97.5,235.5V239.0M101.1,235.5V240.0M104.1,235.5V239.0M106.6,235.5V239.0M108.8,235.5V239.0M110.8,235.5V239.0M123.8,235.5V239.0M130.3,235.5V239.0M135.0,235.5V239.0M138.6,235.5V240.0M141.6,235.5V239.0M144.1,235.5V239.0M146.3,235.5V239.0M148.2,235.5V239.0M161.3,235.5V239.0M167.9,235.5V239.0M172.7,235.5V239.0M176.3,235.5V240.0M179.3,235.5V239.0M181.8,235.5V239.0M184.0,235.5V239.0M186.0,235.5V239.0M199.3,235.5V239.0M206.0,235.5V239.0M210.8,235.5V239.0M214.5,235.5V240.0M217.6,235.5V239.0M220.2,235.5V239.0M222.4,235.5V239.0M224.3,235.5V239.0M4,235.5V240.5M6,235.5V240.5M8,235.5V240.5M9.5,235.5V240.5M11,235.5V240.5M12.5,235.5V240.5M14,235.5V240.5M15.5,235.5V240.5M17.5,235.5V239.0M20,235.5V239.0M23,235.5V239.0M27,235.5V239.0M31,235.5V239.0" stroke="#000" stroke-width="1.45" fill="none"/>
<text x="-22.8" y="54.7" font-size="22.6" text-anchor="end">10</text>
<text x="-22.4" y="47.8" font-size="16">8</text>
<text x="-22.8" y="86.9" font-size="22.6" text-anchor="end">10</text>
<text x="-22.4" y="80.0" font-size="16">7</text>
<text x="-22.8" y="121.8" font-size="22.6" text-anchor="end">10</text>
<text x="-22.4" y="114.9" font-size="16">6</text>
<text x="-22.8" y="156.4" font-size="22.6" text-anchor="end">10</text>
<text x="-22.4" y="149.5" font-size="16">5</text>
<text x="-22.8" y="187.6" font-size="22.6" text-anchor="end">10</text>
<text x="-22.4" y="180.7" font-size="16">4</text>
<text x="-22.8" y="223.4" font-size="22.6" text-anchor="end">10</text>
<text x="-22.4" y="216.5" font-size="16">3</text>
<text x="-13.8" y="234.6" font-size="22.6" text-anchor="end">0</text>
<text x="-2.7" y="267.8" font-size="22.6">0</text>
<text x="17.5" y="270.4" font-size="22.6">10<tspan dy="-6.8" font-size="16">2</tspan></text>
<text x="57.2" y="270.4" font-size="22.6">10<tspan dy="-6.8" font-size="16">3</tspan></text>
<text x="94.5" y="270.4" font-size="22.6">10<tspan dy="-6.8" font-size="16">4</tspan></text>
<text x="128.2" y="270.4" font-size="22.6">10<tspan dy="-6.8" font-size="16">5</tspan></text>
<text x="162.3" y="270.4" font-size="22.6">10<tspan dy="-6.8" font-size="16">6</tspan></text>
<text x="206.0" y="270.4" font-size="22.6">10<tspan dy="-6.8" font-size="16">7</tspan></text>
<text x="16.4" y="32.5" font-size="23">1.40</text>
<text x="225.2" y="32.5" font-size="23" text-anchor="end">5.38</text>
<text x="16.3" y="217.8" font-size="23">90.9</text>
<text x="224.8" y="217.8" font-size="23" text-anchor="end">2.34</text>
</g>
<text x="957.3" y="1289.0" font-size="23.6" text-anchor="middle">LPS+</text>
<text x="957.3" y="1316.0" font-size="23.6" text-anchor="middle">CAR+Gly-Pro</text>
<g transform="translate(835.8,1324)">
<svg width="235.7" height="235.5" overflow="hidden">
<path d="M102 178 100 178 96 178 94 178 91 178 88 177 86 176 85 174 84 173 82 171 82 168 82 166 83 164 84 162 85 160 86 158 87 156 88 154 89 152 90 150 92 148 93 146 94 144 96 143 97 142 98 140 100 138 101 136 102 135 104 134 106 132 108 131 109 130 110 128 112 127 114 126 116 124 118 124 120 122 122 121 124 120 126 119 127 118 129 116 130 115 132 114 134 112 134 110 133 108 132 106 130 104 129 102 128 100 127 98 126 96 125 94 124 92 124 90 123 88 122 86 121 84 120 82 119 80 118 78 117 76 117 72 116 70 116 68 117 66 118 64 120 62 121 60 122 59 124 58 126 56 128 56 130 54 132 54 134 53 136 52 138 51 140 50 144 50 146 49 148 48 150 48 153 48 156 47 158 47 160 46 164 46 166 46 170 46 172 46 176 46 178 46 182 46 184 47 186 47 188 48 192 48 194 49 196 50 198 51 200 52 202 53 203 54 204 56 206 58 206 60 206 64 205 66 204 68 203 70 202 71 200 72 198 74 196 75 194 76 192 77 190 78 188 79 186 80 184 81 182 82 180 83 178 84 176 84 174 85 172 86 170 87 168 88 166 89 164 90 162 92 161 94 160 96 158 97 158 99 157 102 156 104 155 106 154 108 154 110 156 112 156 114 158 116 160 117 160 119 162 120 163 122 164 124 164 128 164 130 163 132 162 134 160 136 160 138 158 140 157 142 156 143 154 144 152 146 152 148 150 150 148 151 147 152 146 154 144 156 142 157 140 158 139 160 138 161 136 162 134 164 132 165 130 166 128 167 126 168 125 170 123 170 121 172 119 172 116 173 114 174 112 175 110 176 108 176 106 177 103 178Z" fill="#3030ff" fill-opacity="0.16"/><path d="M142 92 140 92 138 90 137 88 136 86 136 84 135 82 134 80 133 78 132 76 132 72 132 70 132 67 134 65 135 64 136 62 138 60 140 60 142 58 144 58 146 57 148 56 151 56 154 55 156 54 158 54 162 54 164 53 166 53 170 53 172 53 174 54 178 54 180 55 182 56 184 56 186 58 188 59 189 60 189 64 188 66 187 68 186 69 184 70 182 72 180 73 178 74 176 74 174 75 172 76 170 77 167 78 164 78 162 79 160 80 158 80 156 81 154 82 152 84 150 84 148 86 147 88 146 89 144 90 142 92ZM104 173 102 172 98 172 96 171 94 170 93 168 92 167 91 164 91 162 91 158 92 156 93 154 94 152 95 150 96 148 97 146 98 145 100 143 101 142 102 140 104 138 106 137 107 136 108 134 110 132 112 131 114 130 115 128 117 128 118 126 120 125 122 124 124 123 126 122 128 121 130 120 133 120 136 119 138 118 140 118 144 118 146 118 148 119 150 120 152 122 154 123 154 125 155 128 155 130 155 134 154 136 153 138 152 140 151 142 150 144 149 146 148 147 146 148 145 150 144 152 142 154 140 155 138 156 137 158 136 159 134 160 132 162 130 163 128 164 126 165 124 166 122 167 120 168 118 169 116 170 114 171 112 171 110 172 106 172 104 172Z" fill="#2020ff" fill-opacity="0.3"/><path d="M110 169 106 169 104 168 102 168 100 167 98 166 97 164 96 162 96 158 96 156 97 154 98 152 99 150 100 148 101 146 102 144 104 142 105 140 106 139 108 138 110 136 111 134 112 133 114 132 116 130 118 130 120 128 122 127 124 126 126 125 128 124 130 124 132 123 134 122 138 122 140 122 144 122 146 123 148 124 149 126 150 128 151 130 151 132 150 135 150 138 149 140 148 142 147 144 146 145 144 147 143 148 142 150 140 152 139 154 137 154 136 156 134 158 132 159 130 160 128 161 127 162 125 164 123 164 121 166 118 166 116 167 114 168 112 168 110 169Z" fill="#0040ff"/><path d="M112 166 110 166 107 166 104 165 102 164 101 162 100 160 100 158 100 154 100 152 102 150 102 148 104 146 105 144 106 142 108 141 109 140 110 138 112 136 114 135 115 134 117 132 118 131 120 130 122 129 124 128 126 127 128 126 131 126 134 125 136 125 140 125 142 126 144 126 146 128 147 130 147 132 147 136 147 138 146 140 145 142 144 144 142 146 141 148 140 150 138 151 137 152 136 154 134 155 132 156 130 158 128 159 126 160 124 161 122 162 120 163 118 164 116 165 114 165Z" fill="#0088ff"/><path d="M116 163 112 163 110 163 108 162 106 161 104 160 103 158 103 154 103 152 104 150 105 148 106 146 108 144 108 142 110 140 112 139 113 138 114 136 116 135 118 134 120 132 122 132 124 130 126 130 128 128 130 128 132 127 136 127 138 127 140 128 142 130 144 131 144 134 144 136 144 140 143 142 142 144 141 146 140 147 138 148 136 150 135 152 134 153 132 154 130 156 128 157 126 158 124 159 122 160 120 161 118 162 116 162Z" fill="#00c8f8"/><path d="M118 160 114 160 112 160 110 159 108 158 106 156 106 154 107 152 107 148 108 147 110 145 110 143 112 142 114 140 115 138 116 137 118 136 120 134 122 134 124 132 126 132 128 131 130 130 134 130 136 130 138 131 140 132 141 134 141 138 140 140 140 142 138 144 138 146 136 148 135 150 134 151 132 152 130 154 128 155 126 156 124 157 122 158 120 159 118 160Z" fill="#00e8c8"/><path d="M120 157 116 157 114 157 112 156 110 154 110 152 110 148 111 146 112 144 114 143 115 142 116 140 118 138 120 138 122 136 124 135 126 134 128 133 130 133 134 133 136 134 137 136 138 138 138 140 137 142 136 144 134 146 134 148 132 150 130 151 128 152 127 154 125 154 123 156 120 156Z" fill="#20e860"/><path d="M122 154 118 154 116 154 114 152 113 150 114 148 114 146 116 144 117 142 118 141 120 140 122 138 124 137 126 136 128 136 132 136 134 137 135 138 134 141 134 144 132 145 132 147 130 148 128 150 126 151 124 152 122 153Z" fill="#90f000"/><path d="M122 152 118 152 116 151 116 148 116 146 118 144 119 142 120 141 122 140 124 139 126 138 130 138 132 139 132 142 131 144 130 146 128 147 127 148 126 150 124 151 122 152Z" fill="#fff000"/><path d="M122 150 119 150 118 148 119 146 120 144 122 142 124 141 126 140 128 140 129 142 128 145 127 146 126 148 124 149 122 150Z" fill="#ff8000"/><path d="M124 148 120 148 120 146 122 144 123 142 126 142 128 142 127 144 126 146 124 148Z" fill="#f01000"/><g transform="scale(1.2)" stroke-width="1"><path d="M141 2h1m12 11h1m17 0h1m-15 1h1m9 4h1m-19 1h1m37 0h1m-58 1h1m11 0h1m2 0h1m13 0h1m7 0h1m-45 1h1m10 0h1m21 0h1m-121 1h1m104 0h1m-22 2h1m9 1h1m50 0h1m-27 1h1m-37 1h1m2 0h1m20 0h1m2 0h1m6 0h1m7 0h1m-135 1h1m69 0h1m1 0h1m12 0h1m1 0h1m22 0h1m10 0h1m7 0h1m15 0h1m-75 1h1m32 0h1m30 0h1m7 0h1m15 0h1m-105 1h1m29 0h1m6 0h1m2 0h1m9 0h1m22 0h1m6 0h1m3 0h1m1 0h1m11 0h1m-73 1h1m6 0h1m9 0h1m7 0h1m11 0h1m7 0h1m31 0h1m-96 1h1m26 0h1m28 0h1m10 0h1m3 0h1m4 0h2m6 0h1m-61 1h1m9 0h3m2 0h1m1 0h1m9 0h2m4 0h1m5 0h1m6 0h1m1 0h1m7 0h1m-83 1h1m21 0h1m15 0h1m9 0h1m1 0h1m2 0h1m2 0h1m4 0h1m6 0h2m-67 1h1m13 0h1m1 0h1m24 0h1m1 0h2m2 0h1m6 0h1m13 0h1m6 0h1m2 0h2m13 0h1m-109 1h1m31 0h1m2 0h1m26 0h2m1 0h3m4 0h1m19 0h1m5 0h1m2 0h1m8 0h1m-113 1h1m11 0h1m10 0h1m17 0h1m1 0h1m2 0h2m3 0h1m7 0h3m2 0h1m5 0h1m5 0h1m3 0h1m4 0h1m19 0h1m6 0h1m-114 1h1m2 0h1m28 0h1m18 0h1m2 0h2m1 0h1m3 0h1m1 0h1m2 0h1m1 0h2m2 0h1m8 0h3m3 0h2m11 0h1m7 0h2m-79 1h1m2 0h2m6 0h1m2 0h1m2 0h1m2 0h1m2 0h1m4 0h1m1 0h1m1 0h2m2 0h1m4 0h1m9 0h1m7 0h1m4 0h2m20 0h1m-113 1h1m17 0h1m8 0h1m5 0h1m1 0h1m1 0h1m3 0h1m1 0h2m1 0h2m3 0h1m3 0h2m3 0h2m1 0h1m5 0h2m6 0h1m5 0h1m5 0h1m5 0h1m4 0h1m-87 1h1m5 0h1m6 0h1m13 0h1m1 0h1m8 0h1m3 0h1m1 0h1m3 0h1m2 0h1m9 0h1m1 0h1m3 0h4m1 0h2m3 0h1m1 0h1m2 0h1m12 0h2m5 0h1m-114 1h1m11 0h1m4 0h2m10 0h2m5 0h1m1 0h3m8 0h1m2 0h1m1 0h2m1 0h3m1 0h2m1 0h1m5 0h1m3 0h1m6 0h1m24 0h1m-100 1h1m11 0h1m9 0h1m1 0h1m5 0h1m4 0h6m1 0h2m1 0h1m2 0h3m1 0h1m1 0h1m2 0h1m1 0h2m2 0h1m4 0h1m6 0h2m6 0h1m5 0h1m5 0h1m-114 1h1m6 0h1m2 0h1m12 0h1m3 0h1m8 0h1m1 0h1m2 0h1m3 0h1m8 0h2m2 0h1m1 0h1m3 0h1m2 0h1m2 0h2m2 0h1m1 0h1m1 0h1m3 0h2m2 0h2m11 0h1m1 0h1m3 0h1m14 0h2m-111 1h1m3 0h1m2 0h3m9 0h1m2 0h1m1 0h1m4 0h1m2 0h4m1 0h5m3 0h1m2 0h1m1 0h1m2 0h1m2 0h1m2 0h1m1 0h1m1 0h1m1 0h1m1 0h3m1 0h1m2 0h1m8 0h2m2 0h2m3 0h2m1 0h3m9 0h1m4 0h1m-119 1h1m9 0h1m7 0h1m2 0h1m3 0h1m2 0h1m3 0h1m3 0h2m1 0h1m1 0h4m2 0h8m3 0h4m1 0h2m1 0h1m1 0h2m3 0h1m1 0h5m1 0h1m1 0h2m2 0h1m3 0h3m2 0h1m1 0h1m1 0h1m1 0h1m2 0h2m-98 1h1m3 0h1m2 0h1m13 0h2m3 0h1m3 0h2m1 0h1m1 0h1m1 0h1m3 0h1m1 0h4m2 0h3m2 0h2m2 0h1m2 0h2m1 0h2m2 0h2m1 0h3m2 0h1m2 0h1m1 0h2m8 0h1m2 0h1m5 0h1m4 0h1m-145 1h1m36 0h1m4 0h1m9 0h1m5 0h1m6 0h1m2 0h1m2 0h1m1 0h3m3 0h1m1 0h6m2 0h1m3 0h1m2 0h2m2 0h4m1 0h2m2 0h2m2 0h2m6 0h1m4 0h2m1 0h2m2 0h2m1 0h1m8 0h1m3 0h1m-104 1h2m1 0h2m3 0h2m1 0h4m3 0h5m3 0h3m1 0h2m3 0h7m4 0h4m1 0h4m2 0h2m1 0h1m2 0h1m3 0h1m1 0h1m4 0h1m1 0h3m1 0h2m6 0h1m10 0h1m1 0h1m-113 1h1m1 0h1m6 0h1m1 0h1m4 0h2m9 0h1m1 0h1m2 0h2m1 0h3m1 0h2m3 0h4m1 0h1m1 0h8m1 0h2m1 0h5m1 0h2m1 0h1m1 0h3m2 0h1m3 0h2m20 0h1m1 0h1m5 0h1m-119 1h1m1 0h1m3 0h1m1 0h1m1 0h1m5 0h1m10 0h1m2 0h2m4 0h1m1 0h1m3 0h1m3 0h3m2 0h2m2 0h2m3 0h2m1 0h1m1 0h5m1 0h4m1 0h3m3 0h2m4 0h1m2 0h4m4 0h1m5 0h1m4 0h1m1 0h2m1 0h1m-157 1h1m50 0h1m1 0h2m7 0h1m2 0h2m3 0h1m3 0h3m3 0h1m3 0h1m1 0h1m1 0h1m2 0h2m2 0h10m8 0h1m1 0h1m2 0h1m1 0h1m1 0h1m2 0h1m4 0h2m1 0h4m6 0h1m-124 1h1m44 0h1m1 0h1m4 0h1m1 0h1m1 0h2m1 0h2m1 0h1m1 0h10m2 0h1m1 0h1m1 0h6m3 0h2m1 0h3m1 0h1m1 0h1m2 0h1m2 0h3m3 0h3m1 0h2m2 0h1m4 0h2m2 0h2m11 0h1m-140 1h1m22 0h1m3 0h1m1 0h1m2 0h1m4 0h1m1 0h2m5 0h4m1 0h3m2 0h4m4 0h2m1 0h2m1 0h1m1 0h3m1 0h1m1 0h2m1 0h1m2 0h1m2 0h1m1 0h3m1 0h2m1 0h1m1 0h1m1 0h1m4 0h1m7 0h3m2 0h1m2 0h1m10 0h1m4 0h1m1 0h1m-117 1h1m2 0h1m7 0h1m8 0h3m9 0h2m2 0h5m2 0h1m2 0h4m2 0h3m1 0h4m1 0h1m1 0h4m2 0h11m6 0h1m2 0h1m6 0h2m5 0h1m10 0h2m-120 1h1m7 0h1m8 0h1m8 0h1m2 0h1m2 0h4m1 0h2m3 0h2m2 0h3m1 0h1m2 0h3m1 0h1m1 0h1m1 0h7m4 0h2m9 0h2m1 0h2m1 0h2m6 0h2m1 0h1m1 0h1m3 0h1m2 0h1m2 0h1m-130 1h1m18 0h1m6 0h1m3 0h1m4 0h2m4 0h1m2 0h2m1 0h1m2 0h3m1 0h1m3 0h1m1 0h1m1 0h3m1 0h1m1 0h1m1 0h2m2 0h4m1 0h3m1 0h2m1 0h3m2 0h3m3 0h3m6 0h2m1 0h1m3 0h1m1 0h1m2 0h1m1 0h1m2 0h1m1 0h1m1 0h1m-118 1h1m3 0h2m9 0h1m4 0h1m7 0h1m9 0h2m1 0h4m1 0h1m2 0h1m3 0h1m1 0h1m1 0h1m1 0h2m1 0h5m3 0h1m2 0h1m1 0h3m1 0h4m2 0h1m1 0h1m7 0h3m4 0h1m2 0h1m3 0h1m3 0h1m2 0h1m-106 1h1m2 0h1m1 0h1m1 0h1m2 0h1m7 0h1m1 0h1m2 0h2m1 0h1m1 0h3m3 0h7m1 0h1m1 0h1m1 0h4m1 0h1m1 0h2m3 0h5m2 0h3m5 0h1m1 0h1m1 0h2m3 0h1m2 0h1m1 0h1m2 0h1m8 0h1m3 0h1m7 0h1m-143 1h1m19 0h1m3 0h1m4 0h1m3 0h1m1 0h1m7 0h1m7 0h1m6 0h1m1 0h2m5 0h2m2 0h1m1 0h8m1 0h1m3 0h1m3 0h2m3 0h4m1 0h1m1 0h3m2 0h1m8 0h1m2 0h2m1 0h2m11 0h1m5 0h1m2 0h1m2 0h1m-124 1h1m4 0h1m1 0h1m1 0h1m1 0h1m1 0h1m3 0h2m5 0h2m2 0h2m2 0h1m8 0h1m1 0h1m1 0h2m3 0h1m1 0h7m2 0h3m3 0h1m1 0h5m2 0h1m1 0h2m2 0h2m1 0h1m4 0h1m3 0h1m13 0h1m7 0h1m-138 1h1m15 0h1m15 0h1m6 0h1m3 0h1m1 0h1m2 0h2m3 0h2m1 0h1m3 0h2m1 0h2m4 0h1m1 0h1m1 0h8m1 0h1m2 0h3m1 0h3m4 0h1m3 0h1m2 0h2m1 0h1m9 0h1m2 0h2m6 0h1m4 0h1m7 0h1m4 0h1m-117 1h1m4 0h1m11 0h1m2 0h1m1 0h3m3 0h1m2 0h3m1 0h2m1 0h2m1 0h1m2 0h4m3 0h4m2 0h3m3 0h1m1 0h2m3 0h1m1 0h2m1 0h1m13 0h1m17 0h1m-121 1h1m13 0h2m2 0h1m3 0h1m2 0h1m1 0h1m3 0h3m2 0h1m6 0h1m1 0h2m3 0h1m1 0h1m1 0h2m1 0h2m2 0h2m5 0h2m1 0h1m1 0h1m1 0h3m1 0h1m2 0h2m3 0h1m2 0h1m4 0h1m1 0h1m5 0h1m7 0h1m-99 1h1m7 0h1m7 0h1m1 0h1m6 0h3m1 0h2m1 0h3m1 0h2m3 0h2m1 0h4m1 0h3m2 0h1m2 0h1m1 0h2m11 0h1m4 0h1m15 0h2m10 0h1m-120 1h1m14 0h2m2 0h1m6 0h3m2 0h1m7 0h2m1 0h1m2 0h6m2 0h2m2 0h3m1 0h2m2 0h1m3 0h1m1 0h2m2 0h2m1 0h4m2 0h2m4 0h2m11 0h1m2 0h1m-108 1h1m28 0h1m4 0h1m2 0h1m5 0h3m2 0h6m1 0h3m2 0h1m1 0h4m1 0h2m1 0h1m2 0h5m12 0h2m4 0h1m14 0h1m3 0h1m2 0h1m-116 1h1m15 0h1m1 0h1m3 0h1m10 0h2m3 0h1m1 0h1m1 0h1m1 0h1m1 0h1m1 0h1m1 0h1m4 0h1m3 0h3m2 0h1m3 0h1m10 0h2m1 0h1m11 0h1m15 0h1m13 0h1m-189 1h1m83 0h1m8 0h3m6 0h5m1 0h1m1 0h1m1 0h4m2 0h3m1 0h3m1 0h1m1 0h1m1 0h1m3 0h2m2 0h2m6 0h1m2 0h1m4 0h1m16 0h1m-90 1h1m3 0h1m2 0h1m10 0h1m1 0h2m1 0h1m4 0h2m6 0h1m1 0h2m1 0h1m1 0h1m1 0h1m1 0h2m1 0h1m3 0h1m1 0h1m4 0h5m2 0h1m9 0h1m24 0h1m-126 1h1m13 0h1m2 0h1m5 0h1m1 0h1m2 0h1m4 0h1m1 0h1m6 0h1m2 0h4m2 0h1m2 0h2m2 0h3m1 0h2m1 0h4m7 0h1m6 0h1m3 0h1m12 0h1m22 0h2m7 0h1m-123 1h1m20 0h1m1 0h1m5 0h4m3 0h1m2 0h1m4 0h1m1 0h1m1 0h2m4 0h1m6 0h3m1 0h1m1 0h1m1 0h1m2 0h1m2 0h1m2 0h1m1 0h2m1 0h2m1 0h2m8 0h4m5 0h1m-129 1h1m28 0h2m8 0h1m13 0h1m1 0h1m2 0h4m3 0h3m2 0h1m2 0h2m1 0h1m2 0h1m1 0h2m2 0h1m1 0h2m2 0h1m1 0h1m4 0h1m2 0h1m3 0h2m10 0h1m18 0h1m-131 1h1m32 0h1m4 0h1m5 0h1m1 0h2m1 0h3m7 0h1m1 0h1m3 0h2m2 0h1m1 0h2m2 0h2m3 0h1m9 0h1m21 0h1m1 0h1m-101 1h2m2 0h1m10 0h1m2 0h3m10 0h1m2 0h3m3 0h1m2 0h1m1 0h1m3 0h1m1 0h3m4 0h1m1 0h1m1 0h1m2 0h1m7 0h1m2 0h1m5 0h1m10 0h1m3 0h1m2 0h1m3 0h1m-104 1h1m16 0h1m1 0h2m8 0h1m2 0h2m1 0h1m1 0h1m1 0h1m1 0h1m1 0h2m2 0h1m1 0h4m1 0h1m2 0h2m1 0h3m2 0h1m3 0h1m2 0h1m6 0h1m2 0h1m4 0h1m5 0h1m1 0h1m-76 1h2m10 0h1m2 0h2m1 0h1m1 0h5m2 0h5m4 0h1m2 0h2m2 0h1m2 0h1m7 0h1m1 0h1m-91 1h1m3 0h1m5 0h1m27 0h1m4 0h1m6 0h1m2 0h1m1 0h5m5 0h1m1 0h2m4 0h1m4 0h1m1 0h1m4 0h1m3 0h1m1 0h1m2 0h1m1 0h2m4 0h1m2 0h1m5 0h1m15 0h1m-100 1h1m5 0h1m9 0h1m1 0h1m2 0h3m1 0h1m4 0h6m1 0h1m1 0h1m1 0h2m1 0h1m4 0h1m1 0h1m1 0h1m5 0h1m13 0h1m-74 1h1m9 0h1m7 0h1m3 0h1m3 0h3m1 0h1m2 0h1m1 0h1m1 0h1m1 0h2m1 0h4m2 0h3m1 0h1m3 0h2m7 0h1m12 0h1m12 0h1m-103 1h1m14 0h1m12 0h1m2 0h1m2 0h1m2 0h1m1 0h1m2 0h2m1 0h1m3 0h2m3 0h1m4 0h1m2 0h1m5 0h1m1 0h1m1 0h1m2 0h1m14 0h1m14 0h1m-102 1h1m14 0h1m1 0h1m4 0h1m1 0h1m3 0h1m2 0h1m4 0h2m2 0h1m3 0h1m1 0h1m2 0h3m2 0h1m3 0h2m1 0h2m3 0h1m18 0h1m-149 1h1m74 0h1m7 0h1m1 0h1m4 0h1m1 0h2m2 0h3m4 0h2m1 0h1m2 0h1m1 0h1m1 0h2m7 0h1m4 0h2m2 0h1m11 0h1m7 0h1m1 0h1m-70 1h2m5 0h2m2 0h2m4 0h3m9 0h3m6 0h3m1 0h1m6 0h3m2 0h1m8 0h1m-85 1h1m18 0h1m6 0h2m3 0h1m7 0h1m1 0h1m1 0h2m5 0h1m2 0h1m2 0h2m1 0h2m1 0h1m13 0h1m14 0h1m3 0h1m-87 1h1m9 0h1m9 0h1m4 0h1m8 0h2m4 0h1m4 0h1m1 0h1m2 0h2m9 0h1m1 0h1m1 0h1m2 0h1m9 0h2m2 0h2m2 0h1m2 0h1m-87 1h1m18 0h2m1 0h1m1 0h2m3 0h2m3 0h1m3 0h1m12 0h1m1 0h1m5 0h1m2 0h2m3 0h1m4 0h1m14 0h1m-83 1h1m17 0h1m3 0h1m2 0h2m1 0h1m3 0h1m2 0h1m7 0h1m1 0h1m5 0h1m5 0h1m9 0h1m-60 1h1m3 0h1m9 0h1m1 0h2m3 0h1m1 0h1m2 0h3m12 0h2m5 0h1m4 0h1m6 0h1m-71 1h3m3 0h1m9 0h1m4 0h1m3 0h1m5 0h3m5 0h1m10 0h2m1 0h1m7 0h1m2 0h1m-73 1h1m3 0h1m7 0h1m5 0h1m3 0h1m6 0h2m1 0h1m1 0h1m7 0h1m2 0h1m5 0h2m1 0h1m3 0h1m8 0h1m17 0h1m17 0h1m-98 1h1m2 0h1m9 0h1m2 0h4m2 0h2m2 0h2m2 0h1m1 0h1m3 0h1m5 0h1m1 0h1m7 0h2m2 0h1m10 0h1m1 0h1m2 0h3m-83 1h1m18 0h1m8 0h1m1 0h1m1 0h1m4 0h1m1 0h1m3 0h1m1 0h1m1 0h1m5 0h1m1 0h1m6 0h1m13 0h1m18 0h1m15 0h1m-101 1h2m7 0h1m8 0h1m1 0h3m8 0h2m6 0h1m2 0h2m2 0h1m5 0h1m7 0h1m6 0h1m3 0h1m-80 1h1m19 0h1m1 0h1m1 0h1m1 0h2m3 0h1m5 0h1m5 0h1m4 0h1m1 0h1m4 0h1m11 0h1m7 0h1m3 0h1m5 0h1m-125 1h1m58 0h4m1 0h1m1 0h1m1 0h2m1 0h1m2 0h1m3 0h1m1 0h1m3 0h1m1 0h1m6 0h1m1 0h1m2 0h2m1 0h1m2 0h1m1 0h1m11 0h1m2 0h1m-94 1h1m8 0h1m7 0h2m1 0h1m11 0h2m4 0h3m3 0h2m5 0h1m2 0h1m1 0h1m2 0h1m3 0h1m2 0h1m3 0h1m3 0h1m5 0h1m8 0h1m10 0h1m11 0h1m-85 1h1m2 0h1m2 0h1m1 0h1m1 0h7m2 0h1m19 0h1m2 0h2m1 0h1m4 0h3m2 0h1m-72 1h1m5 0h1m3 0h1m1 0h1m3 0h2m1 0h2m5 0h3m1 0h1m2 0h1m1 0h2m2 0h2m4 0h1m14 0h1m2 0h1m9 0h1m2 0h1m17 0h1m-103 1h1m13 0h1m2 0h1m3 0h1m4 0h2m1 0h4m1 0h1m1 0h3m1 0h1m1 0h4m11 0h1m2 0h4m11 0h2m3 0h1m18 0h1m-87 1h1m1 0h1m1 0h1m2 0h4m3 0h4m1 0h3m1 0h1m1 0h1m3 0h1m1 0h1m1 0h1m5 0h1m2 0h1m1 0h2m5 0h1m4 0h4m22 0h1m-93 1h1m6 0h1m7 0h1m3 0h1m1 0h1m12 0h2m1 0h1m1 0h1m1 0h1m1 0h5m1 0h1m1 0h1m9 0h1m1 0h1m1 0h1m3 0h2m1 0h1m5 0h1m19 0h1m-93 1h1m6 0h2m4 0h5m15 0h5m1 0h1m5 0h2m6 0h1m13 0h1m2 0h1m5 0h1m-77 1h1m9 0h3m1 0h5m17 0h1m1 0h4m4 0h1m3 0h1m6 0h1m2 0h1m1 0h1m19 0h1m-85 1h1m7 0h1m1 0h2m1 0h1m1 0h1m22 0h3m1 0h4m1 0h1m2 0h1m1 0h1m4 0h2m5 0h2m3 0h1m1 0h1m3 0h1m2 0h1m19 0h1m-97 1h1m8 0h1m27 0h1m2 0h1m1 0h1m1 0h1m1 0h2m3 0h1m2 0h1m6 0h1m3 0h1m9 0h1m16 0h1m-112 1h1m17 0h1m6 0h3m29 0h4m1 0h1m1 0h2m1 0h2m8 0h1m6 0h2m2 0h2m4 0h2m1 0h1m3 0h1m2 0h1m-90 1h1m2 0h1m2 0h3m1 0h4m27 0h4m1 0h2m1 0h1m3 0h1m2 0h1m15 0h1m6 0h1m-90 1h1m3 0h1m8 0h2m1 0h1m2 0h3m29 0h1m5 0h2m2 0h5m1 0h1m2 0h1m3 0h1m12 0h1m3 0h1m4 0h1m1 0h1m2 0h1m-88 1h4m34 0h3m2 0h1m3 0h1m7 0h1m5 0h1m15 0h1m-80 1h1m1 0h1m1 0h1m1 0h1m32 0h1m1 0h1m1 0h1m1 0h1m3 0h1m5 0h1m3 0h1m2 0h1m1 0h2m5 0h1m-84 1h1m4 0h1m8 0h3m34 0h3m1 0h2m2 0h2m16 0h1m1 0h1m3 0h1m1 0h1m-88 1h1m3 0h3m3 0h1m42 0h3m5 0h1m2 0h2m4 0h2m14 0h1m15 0h1m-106 1h1m4 0h2m9 0h1m1 0h2m35 0h2m1 0h1m1 0h1m1 0h2m41 0h1m-94 1h1m3 0h2m38 0h2m1 0h1m1 0h1m1 0h1m7 0h1m9 0h2m4 0h1m-82 1h1m8 0h4m36 0h3m2 0h1m6 0h1m2 0h1m2 0h1m2 0h1m12 0h1m14 0h1m-108 1h1m3 0h1m3 0h1m6 0h2m1 0h1m38 0h1m1 0h1m3 0h1m1 0h1m1 0h1m4 0h2m-74 1h1m5 0h1m6 0h1m1 0h3m39 0h1m2 0h1m6 0h1m8 0h1m3 0h1m3 0h1m1 0h1m4 0h1m-93 1h1m6 0h1m1 0h1m3 0h3m1 0h4m35 0h3m2 0h1m1 0h3m5 0h1m23 0h1m-88 1h3m1 0h1m5 0h2m36 0h1m5 0h1m1 0h2m10 0h2m4 0h1m3 0h1m-87 1h2m1 0h1m5 0h1m4 0h1m1 0h3m37 0h4m1 0h1m2 0h1m5 0h1m1 0h1m23 0h1m-110 1h1m14 0h1m5 0h1m2 0h1m3 0h1m2 0h1m37 0h3m1 0h1m2 0h1m4 0h1m13 0h1m5 0h1m2 0h1m-104 1h1m22 0h1m1 0h1m2 0h2m37 0h2m1 0h1m4 0h1m2 0h1m1 0h1m21 0h1m2 0h1m-88 1h1m2 0h7m40 0h1m12 0h1m4 0h1m-82 1h1m9 0h1m4 0h1m2 0h2m1 0h1m38 0h5m9 0h1m1 0h1m14 0h1m-81 1h3m3 0h6m35 0h1m1 0h1m1 0h1m16 0h1m1 0h1m14 0h1m8 0h1m-106 1h1m1 0h1m4 0h1m7 0h1m2 0h1m1 0h1m1 0h1m34 0h1m1 0h3m3 0h1m2 0h2m11 0h1m12 0h1m-93 1h1m4 0h1m11 0h3m35 0h4m1 0h1m5 0h1m2 0h1m-87 1h1m10 0h1m5 0h1m9 0h3m1 0h1m1 0h4m35 0h8m6 0h1m-57 1h1m1 0h1m2 0h1m34 0h3m1 0h1m6 0h1m20 0h1m-92 1h2m10 0h1m1 0h1m2 0h2m1 0h1m3 0h1m31 0h4m2 0h2m11 0h1m3 0h1m-105 1h1m14 0h1m18 0h1m3 0h1m2 0h1m2 0h2m4 0h1m31 0h2m3 0h1m1 0h2m4 0h1m2 0h1m-87 1h1m24 0h1m9 0h1m1 0h2m28 0h2m1 0h1m1 0h1m10 0h1m6 0h1m24 0h1m-116 1h1m3 0h1m25 0h2m3 0h2m1 0h1m28 0h2m4 0h1m2 0h1m4 0h1m-70 1h1m3 0h1m6 0h1m3 0h1m3 0h3m2 0h3m25 0h2m1 0h1m1 0h2m16 0h2m24 0h1m-93 1h1m1 0h1m2 0h2m8 0h1m1 0h1m23 0h2m1 0h1m3 0h1m2 0h1m15 0h1m-65 1h1m1 0h1m7 0h6m23 0h3m3 0h1m1 0h1m6 0h1m-80 1h1m19 0h1m1 0h1m5 0h1m1 0h4m1 0h1m3 0h1m19 0h2m3 0h5m5 0h1m-67 1h1m1 0h1m12 0h1m2 0h1m1 0h1m1 0h1m1 0h1m4 0h1m1 0h2m1 0h2m13 0h4m2 0h1m3 0h1m2 0h1m30 0h1m-119 1h1m31 0h2m5 0h1m1 0h1m4 0h2m1 0h1m2 0h1m5 0h2m2 0h1m9 0h2m1 0h4m1 0h2m5 0h1m2 0h3m8 0h1m-68 1h1m1 0h1m4 0h1m3 0h1m2 0h1m1 0h1m2 0h1m2 0h1m1 0h1m4 0h1m1 0h2m2 0h3m1 0h2m4 0h1m3 0h1m5 0h1m-81 1h1m16 0h1m13 0h1m6 0h1m2 0h2m1 0h1m2 0h1m3 0h8m3 0h3m4 0h1m6 0h1m-57 1h1m4 0h1m1 0h1m2 0h1m2 0h2m4 0h2m1 0h3m2 0h1m3 0h1m1 0h2m1 0h5m2 0h1m2 0h1m2 0h2m4 0h1m-80 1h1m13 0h1m2 0h1m10 0h1m4 0h1m2 0h1m3 0h1m13 0h3m1 0h2m1 0h1m1 0h1m4 0h1m3 0h1m5 0h1m-62 1h1m18 0h3m1 0h2m1 0h2m1 0h1m3 0h1m5 0h1m2 0h1m1 0h1m2 0h2m1 0h1m1 0h1m14 0h1m-81 1h1m11 0h1m15 0h1m3 0h1m2 0h1m1 0h1m1 0h1m1 0h1m1 0h2m7 0h1m1 0h1m1 0h1m1 0h5m2 0h1m3 0h1m4 0h1m-66 1h1m4 0h1m4 0h1m14 0h1m6 0h1m3 0h1m1 0h2m1 0h1m4 0h1m4 0h1m24 0h1m-90 1h1m1 0h1m4 0h1m27 0h1m2 0h1m3 0h2m7 0h1m7 0h1m1 0h1m2 0h1m-57 1h1m3 0h1m5 0h1m6 0h2m2 0h2m4 0h1m3 0h1m4 0h1m1 0h4m4 0h1m6 0h1m5 0h1m14 0h1m-73 1h1m1 0h1m14 0h2m1 0h2m4 0h1m1 0h2m3 0h2m3 0h1m2 0h1m4 0h1m7 0h1m7 0h1m-75 1h1m10 0h1m14 0h1m8 0h1m6 0h1m2 0h1m3 0h1m2 0h1m4 0h1m5 0h1m18 0h1m-67 1h1m2 0h1m9 0h2m5 0h1m4 0h1m4 0h1m5 0h1m7 0h1m-66 1h1m8 0h1m17 0h1m1 0h2m8 0h1m11 0h1m13 0h1m12 0h1m-81 1h1m7 0h1m1 0h1m16 0h1m1 0h1m5 0h1m6 0h1m6 0h1m13 0h1m4 0h1m4 0h1m45 0h1m-127 1h1m9 0h1m9 0h1m9 0h2m2 0h1m2 0h1m5 0h1m8 0h1m1 0h1m20 0h1m-52 1h2m2 0h1m8 0h1m10 0h1m3 0h2m5 0h1m8 0h1m2 0h1m3 0h1m-73 1h1m15 0h1m2 0h1m3 0h1m4 0h1m8 0h1m9 0h1m4 0h1m8 0h2m7 0h1m52 0h1m-91 1h1m2 0h1m3 0h1m2 0h1m7 0h1m12 0h1m6 0h1m-59 1h1m18 0h1m3 0h1m2 0h1m8 0h1m14 0h1m-55 1h1m4 0h1m11 0h1m3 0h2m5 0h1m14 0h1m6 0h1m13 0h1m-84 1h1m49 0h1m21 0h1m3 0h1m-43 1h1m4 0h1m7 0h2m5 0h1m2 0h4m1 0h1m2 0h1m24 0h1m-68 1h1m21 0h1m25 0h1m-20 1h1m1 0h1m-36 1h1m3 0h1m10 0h1m5 0h1m13 0h1m9 0h1m6 0h1m13 0h1m-4 1h1m-54 2h1m90 0h1m-115 1h1m10 0h1m8 0h1m10 0h1m17 0h1m122 0h1m-154 1h1m24 0h1m15 0h1m-35 2h1m10 0h1m15 1h1m-48 1h1m38 0h2m-24 2h1m-31 2h1m11 0h1m14 1h1m114 0h1m-125 1h1m15 3h1m27 1h1m71 3h1m-81 6h1m13 0h1m5 0h1m-21 1h1m6 0h1m2 0h1m22 0h1m2 0h1m6 0h1m21 0h1m-32 1h1m4 0h1m15 0h1m10 0h1" stroke="#1a1aff"/><path d="M135 54h1m-20 47h1m-4 1h1m1 0h2m1 0h2m2 0h1m-16 1h11m1 0h2m1 0h1m-17 1h3m3 0h2m1 0h1m1 0h2m1 0h3m1 0h1m-22 1h5m1 0h1m12 0h3m-24 1h1m1 0h2m16 0h3m1 0h1m-27 1h1m1 0h3m17 0h1m2 0h1m-27 1h5m19 0h1m-26 1h2m24 0h1m-28 1h2m25 0h3m-30 1h1m28 0h1m-33 1h3m27 0h4m-3 1h1m-34 1h2m30 0h2m-35 1h2m32 0h2m-37 1h1m1 0h1m30 0h2m-36 1h3m32 0h1m-36 1h1m33 0h2m-37 1h1m33 0h1m-36 1h1m34 0h2m-38 1h3m31 0h2m-37 1h3m32 0h3m-38 1h3m31 0h2m-38 1h3m33 0h2m-36 1h1m31 0h3m-35 1h1m32 0h1m-36 1h3m30 0h2m-35 1h2m30 0h2m-34 1h2m29 0h2m-35 1h3m28 0h1m-30 1h2m27 0h1m-31 1h1m26 0h2m-30 1h3m24 0h2m-29 1h2m1 0h1m21 0h1m1 0h1m-28 1h1m22 0h3m-26 1h1m1 0h1m1 0h1m16 0h1m1 0h1m-23 1h2m1 0h2m13 0h3m-20 1h8m3 0h1m1 0h1m3 0h1m-8 1h3m1 0h2m-13 1h4m1 0h3m1 0h1m-8 1h1" stroke="#0040ff"/><path d="M110 104h1m2 0h3m-7 1h1m1 0h1m1 0h3m1 0h1m1 0h2m-15 1h2m1 0h1m1 0h4m1 0h6m-19 1h1m1 0h4m8 0h1m1 0h3m-20 1h2m15 0h4m-23 1h1m1 0h1m17 0h3m-24 1h2m20 0h1m-25 1h3m21 0h2m-27 1h2m22 0h1m1 0h1m-29 1h3m24 0h3m-4 1h1m-29 1h1m1 0h1m24 0h4m-2 1h2m-33 1h2m28 0h1m-31 1h1m30 0h1m-32 1h1m28 0h2m-34 1h2m1 0h1m27 0h2m-32 1h1m29 0h1m-34 1h1m1 0h2m-4 1h3m28 0h3m-4 1h2m-33 1h1m1 0h2m26 0h2m-3 1h2m-30 1h2m25 0h2m-30 1h1m1 0h1m25 0h2m-30 1h1m1 0h1m22 0h1m1 0h2m-29 1h2m22 0h1m1 0h1m-27 1h2m21 0h3m-26 1h2m19 0h4m-25 1h3m17 0h1m2 0h1m-25 1h4m15 0h3m-21 1h7m6 0h1m1 0h4m-18 1h1m3 0h7m1 0h3m-13 1h1m1 0h2m1 0h5m-10 1h1m4 0h5" stroke="#0088ff"/><path d="M110 106h1m1 0h1m1 0h1m1 0h2m-12 1h2m1 0h10m-14 1h6m1 0h4m1 0h2m-17 1h1m1 0h4m3 0h1m1 0h7m-19 1h1m1 0h4m10 0h4m-21 1h1m1 0h1m15 0h3m-22 1h3m14 0h2m1 0h2m-24 1h3m18 0h3m-26 1h3m19 0h4m-27 1h3m21 0h1m1 0h1m-28 1h3m24 0h1m-29 1h1m24 0h1m-27 1h3m24 0h1m-28 1h1m24 0h4m-31 1h1m1 0h1m24 0h2m-30 1h4m24 0h2m-29 1h2m23 0h3m-29 1h3m23 0h3m-29 1h3m22 0h1m1 0h1m-29 1h3m22 0h3m-29 1h4m21 0h2m-26 1h3m19 0h1m-23 1h3m18 0h4m-26 1h4m17 0h2m1 0h1m-26 1h1m2 0h2m15 0h5m-24 1h5m12 0h1m1 0h3m-22 1h5m10 0h5m-19 1h4m1 0h2m2 0h3m1 0h5m-17 1h13m-13 1h13m-11 1h1m3 0h1m1 0h1" stroke="#00c8f8"/><path d="M109 108h4m1 0h1m-9 1h1m1 0h6m1 0h1m-11 1h5m1 0h7m-15 1h5m1 0h1m1 0h7m-17 1h6m7 0h4m-20 1h4m1 0h1m12 0h3m-22 1h5m13 0h3m-22 1h5m15 0h1m1 0h1m-23 1h2m17 0h3m-23 1h2m17 0h3m-23 1h3m18 0h2m-25 1h4m18 0h1m1 0h1m-25 1h2m20 0h2m-25 1h4m17 0h3m-23 1h2m19 0h2m-25 1h4m18 0h2m-24 1h3m17 0h2m-23 1h4m16 0h2m-21 1h3m15 0h2m-21 1h3m15 0h1m1 0h1m-22 1h1m1 0h2m13 0h2m1 0h2m-19 1h2m9 0h3m2 0h1m-18 1h4m2 0h1m4 0h4m1 0h1m-17 1h15m-15 1h1m1 0h6m1 0h1m2 0h1m-13 1h1m2 0h3m1 0h3m-8 1h1" stroke="#00e8c8"/><path d="M107 111h4m-8 1h7m1 0h3m1 0h1m-14 1h5m1 0h2m1 0h5m-16 1h5m1 0h1m6 0h2m-16 1h5m8 0h4m-18 1h4m9 0h5m-20 1h1m1 0h3m10 0h5m-21 1h4m12 0h3m-18 1h3m12 0h5m-22 1h4m13 0h2m-20 1h2m1 0h1m14 0h2m-20 1h4m13 0h4m-21 1h2m14 0h1m1 0h2m-21 1h3m12 0h4m-20 1h2m1 0h1m12 0h2m1 0h1m-19 1h3m1 0h1m9 0h4m-19 1h4m9 0h3m-15 1h2m1 0h2m2 0h8m-15 1h6m1 0h1m1 0h3m1 0h1m-13 1h8m1 0h1m-9 1h3m2 0h1m-3 1h1" stroke="#20e860"/><path d="M106 113h3m1 0h2m-7 1h6m2 0h1m-12 1h3m1 0h8m-13 1h4m4 0h4m-14 1h4m1 0h1m4 0h5m-17 1h5m7 0h4m-16 1h3m8 0h4m-16 1h4m9 0h2m-15 1h3m9 0h4m-17 1h4m8 0h4m-16 1h4m7 0h2m-14 1h4m7 0h4m-14 1h3m5 0h4m-13 1h6m1 0h6m-13 1h5m1 0h5m-10 1h8m-7 1h1m1 0h1" stroke="#90f000"/><path d="M108 114h1m0 1h1m-7 1h9m-10 1h5m1 0h3m-11 1h5m1 0h4m1 0h1m-14 1h4m3 0h4m1 0h1m-13 1h2m1 0h1m5 0h3m-12 1h2m1 0h1m5 0h2m-12 1h4m3 0h4m-11 1h2m3 0h1m2 0h3m-12 1h6m1 0h4m-10 1h4m1 0h4m-10 1h2m1 0h6m-8 1h4" stroke="#fff000"/><path d="M105 116h2m1 0h1m-6 1h3m-4 1h2m1 0h2m-8 1h1m1 0h7m1 0h1m-11 1h1m4 0h5m-10 1h2m2 0h1m1 0h3m-11 1h3m1 0h4m1 0h2m-11 1h3m1 0h2m2 0h1m-9 1h1m1 0h2m2 0h2m-6 1h1m1 0h1m0 1h1" stroke="#ff8000"/><path d="M105 116h1m-1 1h3m-6 1h6m-6 1h6m-8 1h8m-8 1h7m-8 1h7m-6 1h6m-6 1h1m1 0h3m-6 1h2m1 0h1" stroke="#f01000"/></g>
</svg>
<rect x="0" y="0" width="235.7" height="235.5" fill="none" stroke="#000" stroke-width="1.3"/>
<path d="M145,0V235.5M0,111H235.7" stroke="#000" stroke-width="1.5" fill="none"/>
<path d="M-7,15.8H0M-7,49.6H0M-7,83.7H0M-7,116.6H0M-7,150.8H0M-7,185.3H0M-7,216.1H0M-3.5,206.8H0M-3.5,201.4H0M-3.5,197.6H0M-4.5,194.6H0M-3.5,192.1H0M-3.5,190.1H0M-3.5,188.3H0M-3.5,186.7H0M-3.5,174.9H0M-3.5,168.8H0M-3.5,164.5H0M-4.5,161.2H0M-3.5,158.5H0M-3.5,156.1H0M-3.5,154.1H0M-3.5,152.4H0M-3.5,140.5H0M-3.5,134.5H0M-3.5,130.2H0M-4.5,126.9H0M-3.5,124.2H0M-3.5,121.9H0M-3.5,119.9H0M-3.5,118.2H0M-3.5,106.7H0M-3.5,100.9H0M-3.5,96.8H0M-4.5,93.6H0M-3.5,91.0H0M-3.5,88.8H0M-3.5,86.9H0M-3.5,85.2H0M-3.5,73.4H0M-3.5,67.4H0M-3.5,63.2H0M-4.5,59.9H0M-3.5,57.2H0M-3.5,54.9H0M-3.5,52.9H0M-3.5,51.2H0M-3.5,39.4H0M-3.5,33.5H0M-3.5,29.3H0M-4.5,26.0H0M-3.5,23.3H0M-3.5,21.0H0M-3.5,19.1H0M-3.5,17.3H0M-3.5,5.6H0M-5,218.5H0M-5,220.5H0M-5,222.5H0M-5,224H0M-5,226H0M-5,228H0M-5,230H0M-5,232.5H0M-5,234.5H0M-7,234.5H0M35.8,235.5V242.5M74.7,235.5V242.5M112.5,235.5V242.5M149.9,235.5V242.5M187.7,235.5V242.5M226.1,235.5V242.5M47.5,235.5V239.0M54.4,235.5V239.0M59.2,235.5V239.0M63.0,235.5V240.0M66.1,235.5V239.0M68.7,235.5V239.0M70.9,235.5V239.0M72.9,235.5V239.0M86.1,235.5V239.0M92.7,235.5V239.0M97.5,235.5V239.0M101.1,235.5V240.0M104.1,235.5V239.0M106.6,235.5V239.0M108.8,235.5V239.0M110.8,235.5V239.0M123.8,235.5V239.0M130.3,235.5V239.0M135.0,235.5V239.0M138.6,235.5V240.0M141.6,235.5V239.0M144.1,235.5V239.0M146.3,235.5V239.0M148.2,235.5V239.0M161.3,235.5V239.0M167.9,235.5V239.0M172.7,235.5V239.0M176.3,235.5V240.0M179.3,235.5V239.0M181.8,235.5V239.0M184.0,235.5V239.0M186.0,235.5V239.0M199.3,235.5V239.0M206.0,235.5V239.0M210.8,235.5V239.0M214.5,235.5V240.0M217.6,235.5V239.0M220.2,235.5V239.0M222.4,235.5V239.0M224.3,235.5V239.0M4,235.5V240.5M6,235.5V240.5M8,235.5V240.5M9.5,235.5V240.5M11,235.5V240.5M12.5,235.5V240.5M14,235.5V240.5M15.5,235.5V240.5M17.5,235.5V239.0M20,235.5V239.0M23,235.5V239.0M27,235.5V239.0M31,235.5V239.0" stroke="#000" stroke-width="1.45" fill="none"/>
<text x="-22.8" y="54.7" font-size="22.6" text-anchor="end">10</text>
<text x="-22.4" y="47.8" font-size="16">8</text>
<text x="-22.8" y="86.9" font-size="22.6" text-anchor="end">10</text>
<text x="-22.4" y="80.0" font-size="16">7</text>
<text x="-22.8" y="121.8" font-size="22.6" text-anchor="end">10</text>
<text x="-22.4" y="114.9" font-size="16">6</text>
<text x="-22.8" y="156.4" font-size="22.6" text-anchor="end">10</text>
<text x="-22.4" y="149.5" font-size="16">5</text>
<text x="-22.8" y="187.6" font-size="22.6" text-anchor="end">10</text>
<text x="-22.4" y="180.7" font-size="16">4</text>
<text x="-22.8" y="223.4" font-size="22.6" text-anchor="end">10</text>
<text x="-22.4" y="216.5" font-size="16">3</text>
<text x="-13.8" y="234.6" font-size="22.6" text-anchor="end">0</text>
<text x="-2.7" y="267.8" font-size="22.6">0</text>
<text x="17.5" y="270.4" font-size="22.6">10<tspan dy="-6.8" font-size="16">2</tspan></text>
<text x="57.2" y="270.4" font-size="22.6">10<tspan dy="-6.8" font-size="16">3</tspan></text>
<text x="94.5" y="270.4" font-size="22.6">10<tspan dy="-6.8" font-size="16">4</tspan></text>
<text x="128.2" y="270.4" font-size="22.6">10<tspan dy="-6.8" font-size="16">5</tspan></text>
<text x="162.3" y="270.4" font-size="22.6">10<tspan dy="-6.8" font-size="16">6</tspan></text>
<text x="206.0" y="270.4" font-size="22.6">10<tspan dy="-6.8" font-size="16">7</tspan></text>
<text x="15.6" y="32.5" font-size="23">1.65</text>
<text x="223.4" y="32.5" font-size="23" text-anchor="end">3.10</text>
<text x="14.7" y="217.8" font-size="23">92.9</text>
<text x="224.5" y="217.8" font-size="23" text-anchor="end">2.39</text>
</g>
<path d="M73.8,924 L75,1217.3 L1426,1218.5" stroke="#000" stroke-width="3" fill="none" stroke-linejoin="miter"/>
<path d="M73.7,914 L68.2,925.3 L73.7,924.5 L79.3,925.3 Z M1436.3,1218.5 L1425.2,1213.2 L1426,1218.5 L1425.2,1223.8 Z" fill="#000" stroke="#000" stroke-width="0.6" stroke-linejoin="round"/>
<path d="M74.7,1306 L75.4,1599.5 L1079,1600.1" stroke="#000" stroke-width="3" fill="none" stroke-linejoin="miter"/>
<path d="M74.6,1295.9 L69.1,1306.8 L74.6,1306 L80.1,1306.8 Z M1088.5,1600.2 L1078,1594.9 L1079,1600.1 L1078,1605.4 Z" fill="#000" stroke="#000" stroke-width="0.6" stroke-linejoin="round"/>
<text transform="translate(60.2,1061.8) rotate(-90)" font-size="23.3" text-anchor="middle">PI</text>
<text transform="translate(60.2,1443.4) rotate(-90)" font-size="23.3" text-anchor="middle">PI</text>
<text x="776.2" y="1250.3" font-size="23.2" text-anchor="middle">Annexin-V-FITC</text>
<text x="620.0" y="1643.6" font-size="23.2" text-anchor="middle">Annexin-V-FITC</text>
<text x="1120.0" y="1301.5" font-size="24">E</text>
<path d="M1205.3,1328.1V1564.5H1466.7" stroke="#000" stroke-width="1.7" fill="none"/>
<path d="M1205.3,1328.8H1212" stroke="#000" stroke-width="1.7"/>
<path d="M1205.3,1375.9H1212" stroke="#000" stroke-width="1.7"/>
<path d="M1205.3,1423.1H1212" stroke="#000" stroke-width="1.7"/>
<path d="M1205.3,1470.2H1212" stroke="#000" stroke-width="1.7"/>
<path d="M1205.3,1517.4H1212" stroke="#000" stroke-width="1.7"/>
<text x="1195.4" y="1338.5" font-size="22.2" text-anchor="end">10</text>
<text x="1195.4" y="1385.6" font-size="22.2" text-anchor="end">8</text>
<text x="1195.4" y="1432.8" font-size="22.2" text-anchor="end">6</text>
<text x="1195.4" y="1479.9" font-size="22.2" text-anchor="end">4</text>
<text x="1195.4" y="1527.1" font-size="22.2" text-anchor="end">2</text>
<text x="1195.4" y="1574.2" font-size="22.2" text-anchor="end">0</text>
<text transform="translate(1161.4,1432.4) rotate(-90)" font-size="23.2" text-anchor="middle">Annexin-V<tspan dy="-9" font-size="14">+</tspan><tspan dy="9">/PI</tspan><tspan dy="-9" font-size="14">+</tspan><tspan dy="9"> (%)</tspan></text>
<rect x="1222.3" y="1478.1" width="27.4" height="86.4" fill="#fff" stroke="#000" stroke-width="2.2"/>
<path d="M1236.0,1452.5V1501.3M1230.0,1452.5H1242.0M1230.0,1501.3H1242.0" stroke="#000000" stroke-width="1.4" fill="none"/>
<circle cx="1236.0" cy="1443.5" r="4.75" fill="#fff" stroke="#000000" stroke-width="2.3"/>
<circle cx="1236.0" cy="1478.0" r="4.75" fill="#fff" stroke="#000000" stroke-width="2.3"/>
<circle cx="1236.0" cy="1489.3" r="4.75" fill="#fff" stroke="#000000" stroke-width="2.3"/>
<circle cx="1236.0" cy="1501.3" r="4.75" fill="#fff" stroke="#000000" stroke-width="2.3"/>
<rect x="1254.1" y="1386.1" width="29.4" height="178.4" fill="#000000"/>
<path d="M1268.8,1357.3V1412.0M1262.8,1357.3H1274.8M1262.8,1412.0H1274.8" stroke="#000" stroke-width="1.4" fill="none"/>
<circle cx="1268.5" cy="1348.0" r="4.75" fill="#fff" stroke="#000000" stroke-width="2.3"/>
<circle cx="1268.5" cy="1379.5" r="4.75" fill="#fff" stroke="#000000" stroke-width="2.3"/>
<circle cx="1279.2" cy="1403.5" r="4.75" fill="#fff" stroke="#000000" stroke-width="2.3"/>
<circle cx="1268.5" cy="1412.5" r="4.75" fill="#fff" stroke="#000000" stroke-width="2.3"/>
<rect x="1288.3" y="1448.0" width="27.8" height="116.5" fill="#f4b9ab" stroke="#e8836e" stroke-width="1.6"/>
<path d="M1302.2,1430.7V1464.7M1296.2,1430.7H1308.2M1296.2,1464.7H1308.2" stroke="#e8836e" stroke-width="1.4" fill="none"/>
<circle cx="1302.7" cy="1427.2" r="4.75" fill="#fff" stroke="#e8836e" stroke-width="2.3"/>
<circle cx="1290.7" cy="1446.7" r="4.75" fill="#fff" stroke="#e8836e" stroke-width="2.3"/>
<circle cx="1312.0" cy="1446.7" r="4.75" fill="#fff" stroke="#e8836e" stroke-width="2.3"/>
<circle cx="1302.7" cy="1466.7" r="4.75" fill="#fff" stroke="#e8836e" stroke-width="2.3"/>
<rect x="1320.8" y="1428.0" width="29.4" height="136.5" fill="#f1c98b"/>
<path d="M1335.5,1412.8V1443.0M1329.5,1412.8H1341.5M1329.5,1443.0H1341.5" stroke="#eab560" stroke-width="1.4" fill="none"/>
<circle cx="1336.0" cy="1406.7" r="4.75" fill="#fff" stroke="#eab560" stroke-width="2.3"/>
<circle cx="1345.3" cy="1427.5" r="4.75" fill="#fff" stroke="#eab560" stroke-width="2.3"/>
<circle cx="1334.7" cy="1432.8" r="4.75" fill="#fff" stroke="#eab560" stroke-width="2.3"/>
<circle cx="1334.7" cy="1443.5" r="4.75" fill="#fff" stroke="#eab560" stroke-width="2.3"/>
<rect x="1353.9" y="1480.8" width="29.4" height="83.7" fill="#79cd8e"/>
<path d="M1368.6,1459.5V1501.0M1362.6,1459.5H1374.6M1362.6,1501.0H1374.6" stroke="#3cb35d" stroke-width="1.4" fill="none"/>
<circle cx="1369.3" cy="1454.7" r="4.75" fill="#fff" stroke="#3cb35d" stroke-width="2.3"/>
<circle cx="1369.3" cy="1473.3" r="4.75" fill="#fff" stroke="#3cb35d" stroke-width="2.3"/>
<circle cx="1379.5" cy="1492.5" r="4.75" fill="#fff" stroke="#3cb35d" stroke-width="2.3"/>
<circle cx="1358.1" cy="1500.8" r="4.75" fill="#fff" stroke="#3cb35d" stroke-width="2.3"/>
<rect x="1387.2" y="1456.0" width="29.4" height="108.5" fill="#c089bb"/>
<path d="M1401.9,1442.1V1470.0M1395.9,1442.1H1407.9M1395.9,1470.0H1407.9" stroke="#a962a3" stroke-width="1.4" fill="none"/>
<circle cx="1402.1" cy="1438.1" r="4.75" fill="#fff" stroke="#a962a3" stroke-width="2.3"/>
<circle cx="1402.1" cy="1457.3" r="4.75" fill="#fff" stroke="#a962a3" stroke-width="2.3"/>
<circle cx="1412.8" cy="1453.9" r="4.75" fill="#fff" stroke="#a962a3" stroke-width="2.3"/>
<circle cx="1402.1" cy="1473.3" r="4.75" fill="#fff" stroke="#a962a3" stroke-width="2.3"/>
<rect x="1420.5" y="1488.8" width="29.4" height="75.7" fill="#8dbdf7"/>
<path d="M1435.2,1475.5V1502.0M1429.2,1475.5H1441.2M1429.2,1502.0H1441.2" stroke="#5ea3f5" stroke-width="1.4" fill="none"/>
<circle cx="1435.5" cy="1469.3" r="4.75" fill="#fff" stroke="#5ea3f5" stroke-width="2.3"/>
<circle cx="1435.5" cy="1492.0" r="4.75" fill="#fff" stroke="#5ea3f5" stroke-width="2.3"/>
<circle cx="1424.8" cy="1497.3" r="4.75" fill="#fff" stroke="#5ea3f5" stroke-width="2.3"/>
<circle cx="1445.9" cy="1496.8" r="4.75" fill="#fff" stroke="#5ea3f5" stroke-width="2.3"/>
<text x="1269.0" y="1341.3" font-size="20.5" text-anchor="middle" font-weight="bold">**</text>
<text x="1303.4" y="1416.8" font-size="16.5" text-anchor="middle" font-weight="bold" letter-spacing="-1.3" stroke="#000" stroke-width="0.45">#</text>
<text x="1334.0" y="1400.3" font-size="16.5" text-anchor="middle" font-weight="bold" letter-spacing="-1.3" stroke="#000" stroke-width="0.45">#</text>
<text x="1370.6" y="1443.0" font-size="16.5" text-anchor="middle" font-weight="bold" letter-spacing="-1.3" stroke="#000" stroke-width="0.45">##</text>
<text x="1403.4" y="1423.5" font-size="16.5" text-anchor="middle" font-weight="bold" letter-spacing="-1.3" stroke="#000" stroke-width="0.45">##</text>
<text x="1435.9" y="1459.0" font-size="16.5" text-anchor="middle" font-weight="bold" letter-spacing="-1.3" stroke="#000" stroke-width="0.45">##</text>
<path d="M1301.3,1331.5V1321.3H1434.7V1368.8" stroke="#555" stroke-width="1.5" fill="none"/>
<path d="M1301.3,1405.3V1346.7H1372.5V1354.7" stroke="#555" stroke-width="1.5" fill="none"/>
<path d="M1332.0,1387.5V1376.0H1372.0V1412.0" stroke="#555" stroke-width="1.5" fill="none"/>
<path d="M1400.0,1404.0V1397.9H1434.7V1404.0" stroke="#555" stroke-width="1.5" fill="none"/>
<text x="1339.5" y="1317.3" font-size="15.5"><tspan font-style="italic">P</tspan>=0.006</text>
<text x="1314.1" y="1340.5" font-size="15.5"><tspan font-style="italic">P</tspan>=0.015</text>
<text x="1326.7" y="1372.0" font-size="15.5"><tspan font-style="italic">P</tspan>=0.043</text>
<text x="1390.7" y="1390.7" font-size="15.5"><tspan font-style="italic">P</tspan>=0.007</text></svg></body></html>
